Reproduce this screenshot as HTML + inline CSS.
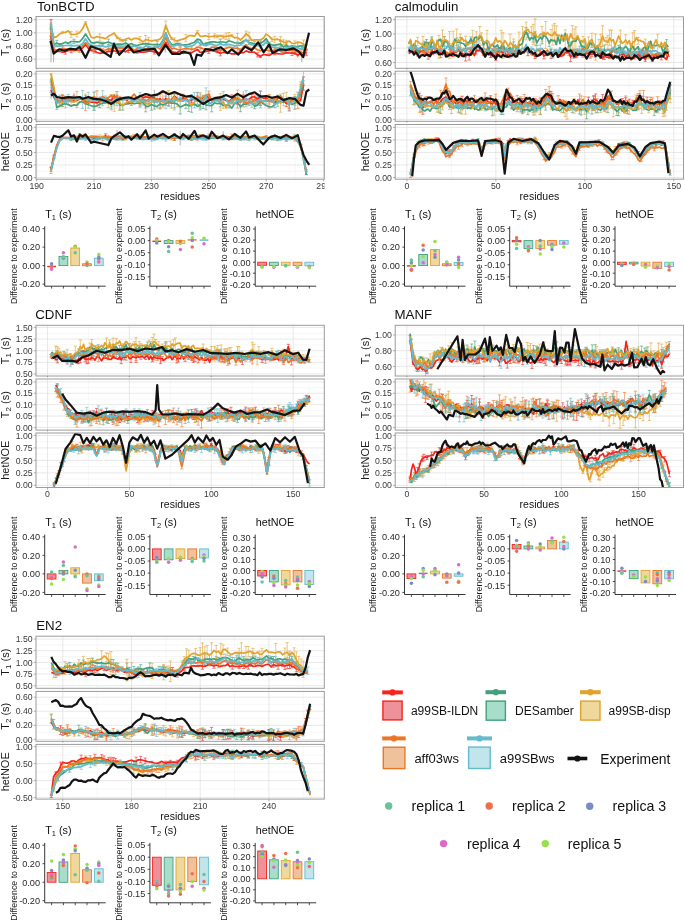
<!DOCTYPE html><html><head><meta charset="utf-8"><style>html,body{margin:0;padding:0;background:#fff;}svg{display:block;will-change:transform;}text{font-family:"Liberation Sans",sans-serif;}</style></head><body><svg width="685" height="922" viewBox="0 0 685 922" font-family="'Liberation Sans', sans-serif">
<rect width="685" height="922" fill="#fff"/>
<clipPath id="xclipA"><rect x="0" y="0" width="324.6" height="922"/></clipPath>
<text x="36.9" y="11.0" font-size="13.3" fill="#111">TonBCTD</text>
<rect x="36.0" y="16.5" width="288.3" height="51.8" fill="#fff"/>
<line x1="36.0" x2="324.3" y1="65.65" y2="65.65" stroke="#EFEFEF" stroke-width="0.5"/>
<line x1="36.0" x2="324.3" y1="52.51" y2="52.51" stroke="#EFEFEF" stroke-width="0.5"/>
<line x1="36.0" x2="324.3" y1="39.37" y2="39.37" stroke="#EFEFEF" stroke-width="0.5"/>
<line x1="36.0" x2="324.3" y1="26.23" y2="26.23" stroke="#EFEFEF" stroke-width="0.5"/>
<line y1="16.5" y2="68.3" x1="65.39" x2="65.39" stroke="#EFEFEF" stroke-width="0.5"/>
<line y1="16.5" y2="68.3" x1="122.77" x2="122.77" stroke="#EFEFEF" stroke-width="0.5"/>
<line y1="16.5" y2="68.3" x1="180.15" x2="180.15" stroke="#EFEFEF" stroke-width="0.5"/>
<line y1="16.5" y2="68.3" x1="237.53" x2="237.53" stroke="#EFEFEF" stroke-width="0.5"/>
<line y1="16.5" y2="68.3" x1="294.91" x2="294.91" stroke="#EFEFEF" stroke-width="0.5"/>
<line x1="36.0" x2="324.3" y1="59.08" y2="59.08" stroke="#DEDEDE" stroke-width="0.7"/>
<line x1="36.0" x2="324.3" y1="45.94" y2="45.94" stroke="#DEDEDE" stroke-width="0.7"/>
<line x1="36.0" x2="324.3" y1="32.80" y2="32.80" stroke="#DEDEDE" stroke-width="0.7"/>
<line x1="36.0" x2="324.3" y1="19.66" y2="19.66" stroke="#DEDEDE" stroke-width="0.7"/>
<line y1="16.5" y2="68.3" x1="36.70" x2="36.70" stroke="#DEDEDE" stroke-width="0.7"/>
<line y1="16.5" y2="68.3" x1="94.08" x2="94.08" stroke="#DEDEDE" stroke-width="0.7"/>
<line y1="16.5" y2="68.3" x1="151.46" x2="151.46" stroke="#DEDEDE" stroke-width="0.7"/>
<line y1="16.5" y2="68.3" x1="208.84" x2="208.84" stroke="#DEDEDE" stroke-width="0.7"/>
<line y1="16.5" y2="68.3" x1="266.22" x2="266.22" stroke="#DEDEDE" stroke-width="0.7"/>
<line y1="16.5" y2="68.3" x1="323.60" x2="323.60" stroke="#DEDEDE" stroke-width="0.7"/>
<clipPath id="ca1"><rect x="36.0" y="16.5" width="288.3" height="51.8"/></clipPath>
<g clip-path="url(#ca1)">
<path d="M51.0 26.2V62.4" stroke="#999" stroke-width="0.8" fill="none"/>
<path d="M53.6 32.8V62.4" stroke="#999" stroke-width="0.8" fill="none"/>
<path d="M49.4 19.7h3.2m-1.6 0V36.1m-1.6 0h3.2" stroke="#F5241E" stroke-width="0.9" stroke-opacity="0.8" fill="none"/>
<path d="M49.4 22.9h3.2m-1.6 0V39.4m-1.6 0h3.2" stroke="#63BBCD" stroke-width="0.9" stroke-opacity="0.8" fill="none"/>
<path d="M49.4 24.9h3.2m-1.6 0V42.7m-1.6 0h3.2" stroke="#EC7627" stroke-width="0.9" stroke-opacity="0.8" fill="none"/>
<path d="M49.4 29.5h3.2m-1.6 0V39.4m-1.6 0h3.2" stroke="#E2A22E" stroke-width="0.9" stroke-opacity="0.8" fill="none"/>
<path d="M165.2 42.7V52.5" stroke="#999" stroke-width="0.8" fill="none"/>
<path d="M297.8 42.7V57.8" stroke="#999" stroke-width="0.8" fill="none"/>
<path d="M301.8 44.6V62.4" stroke="#999" stroke-width="0.8" fill="none"/>
<path d="M63.8 49.5h3.2m-1.6 0v4.6m-1.6 0h3.2M69.5 48.3h3.2m-1.6 0v4.5m-1.6 0h3.2M92.5 48.0h3.2m-1.6 0v5.0m-1.6 0h3.2M115.4 49.9h3.2m-1.6 0v3.6m-1.6 0h3.2M126.9 47.2h3.2m-1.6 0v5.5m-1.6 0h3.2M135.5 49.4h3.2m-1.6 0v4.0m-1.6 0h3.2M152.7 49.7h3.2m-1.6 0v4.4m-1.6 0h3.2M161.3 44.7h3.2m-1.6 0v5.0m-1.6 0h3.2M169.9 49.9h3.2m-1.6 0v3.0m-1.6 0h3.2M172.8 51.8h3.2m-1.6 0v2.5m-1.6 0h3.2M207.2 48.7h3.2m-1.6 0v4.7m-1.6 0h3.2M215.8 50.5h3.2m-1.6 0v2.4m-1.6 0h3.2M218.7 50.7h3.2m-1.6 0v5.2m-1.6 0h3.2M238.8 50.4h3.2m-1.6 0v3.0m-1.6 0h3.2M256.0 52.7h3.2m-1.6 0v4.3m-1.6 0h3.2M258.9 55.4h3.2m-1.6 0v2.1m-1.6 0h3.2M273.2 51.4h3.2m-1.6 0v3.4m-1.6 0h3.2M290.4 50.9h3.2m-1.6 0v4.6m-1.6 0h3.2M293.3 52.1h3.2m-1.6 0v2.3m-1.6 0h3.2M296.2 54.3h3.2m-1.6 0v1.6m-1.6 0h3.2M301.9 49.6h3.2m-1.6 0v6.1m-1.6 0h3.2M304.8 50.0h3.2m-1.6 0v5.7m-1.6 0h3.2" stroke="#F5241E" stroke-width="0.8" stroke-opacity="0.75" fill="none"/>
<path d="M49.4 27.0h3.2m-1.6 0v1.7m-1.6 0h3.2M55.2 40.4h3.2m-1.6 0v5.0m-1.6 0h3.2M58.1 43.5h3.2m-1.6 0v1.8m-1.6 0h3.2M72.4 39.2h3.2m-1.6 0v4.6m-1.6 0h3.2M92.5 42.2h3.2m-1.6 0v1.6m-1.6 0h3.2M101.1 42.1h3.2m-1.6 0v3.0m-1.6 0h3.2M106.8 39.1h3.2m-1.6 0v5.6m-1.6 0h3.2M112.6 42.9h3.2m-1.6 0v3.3m-1.6 0h3.2M124.0 40.5h3.2m-1.6 0v5.3m-1.6 0h3.2M155.6 41.3h3.2m-1.6 0v6.2m-1.6 0h3.2M204.4 42.4h3.2m-1.6 0v2.8m-1.6 0h3.2M218.7 39.2h3.2m-1.6 0v5.5m-1.6 0h3.2M247.4 40.4h3.2m-1.6 0v4.2m-1.6 0h3.2M253.1 41.7h3.2m-1.6 0v5.1m-1.6 0h3.2M258.9 41.0h3.2m-1.6 0v4.4m-1.6 0h3.2M267.5 42.2h3.2m-1.6 0v2.8m-1.6 0h3.2M279.0 41.4h3.2m-1.6 0v5.4m-1.6 0h3.2M284.7 43.1h3.2m-1.6 0v4.3m-1.6 0h3.2M301.9 45.5h3.2m-1.6 0v2.5m-1.6 0h3.2M304.8 44.6h3.2m-1.6 0v4.9m-1.6 0h3.2" stroke="#42A07B" stroke-width="0.8" stroke-opacity="0.75" fill="none"/>
<path d="M60.9 31.3h3.2m-1.6 0v2.4m-1.6 0h3.2M69.5 31.5h3.2m-1.6 0v6.1m-1.6 0h3.2M75.3 31.1h3.2m-1.6 0v5.9m-1.6 0h3.2M83.9 21.6h3.2m-1.6 0v2.3m-1.6 0h3.2M98.2 33.9h3.2m-1.6 0v7.0m-1.6 0h3.2M115.4 36.1h3.2m-1.6 0v2.3m-1.6 0h3.2M118.3 37.8h3.2m-1.6 0v3.2m-1.6 0h3.2M121.2 39.4h3.2m-1.6 0v2.4m-1.6 0h3.2M138.4 36.7h3.2m-1.6 0v5.9m-1.6 0h3.2M144.1 35.5h3.2m-1.6 0v8.2m-1.6 0h3.2M147.0 37.4h3.2m-1.6 0v5.7m-1.6 0h3.2M164.2 21.1h3.2m-1.6 0v8.2m-1.6 0h3.2M169.9 37.3h3.2m-1.6 0v2.3m-1.6 0h3.2M172.8 37.8h3.2m-1.6 0v4.3m-1.6 0h3.2M184.3 34.6h3.2m-1.6 0v7.1m-1.6 0h3.2M195.8 30.6h3.2m-1.6 0v3.0m-1.6 0h3.2M207.2 33.7h3.2m-1.6 0v5.8m-1.6 0h3.2M213.0 33.8h3.2m-1.6 0v4.1m-1.6 0h3.2M215.8 35.0h3.2m-1.6 0v2.9m-1.6 0h3.2M221.6 35.0h3.2m-1.6 0v3.6m-1.6 0h3.2M224.5 33.1h3.2m-1.6 0v6.4m-1.6 0h3.2M227.3 32.5h3.2m-1.6 0v6.6m-1.6 0h3.2M230.2 34.5h3.2m-1.6 0v2.3m-1.6 0h3.2M235.9 33.4h3.2m-1.6 0v8.0m-1.6 0h3.2M244.5 31.1h3.2m-1.6 0v4.9m-1.6 0h3.2M247.4 32.1h3.2m-1.6 0v8.0m-1.6 0h3.2M270.4 37.8h3.2m-1.6 0v3.5m-1.6 0h3.2M273.2 36.3h3.2m-1.6 0v6.6m-1.6 0h3.2M279.0 36.6h3.2m-1.6 0v7.6m-1.6 0h3.2M281.8 39.8h3.2m-1.6 0v4.7m-1.6 0h3.2M284.7 40.4h3.2m-1.6 0v3.8m-1.6 0h3.2M293.3 40.9h3.2m-1.6 0v5.2m-1.6 0h3.2M301.9 40.1h3.2m-1.6 0v8.3m-1.6 0h3.2M304.8 41.1h3.2m-1.6 0v7.7m-1.6 0h3.2" stroke="#E2A22E" stroke-width="0.8" stroke-opacity="0.75" fill="none"/>
<path d="M52.3 47.5h3.2m-1.6 0v3.8m-1.6 0h3.2M60.9 46.6h3.2m-1.6 0v3.3m-1.6 0h3.2M72.4 48.7h3.2m-1.6 0v2.9m-1.6 0h3.2M78.1 47.3h3.2m-1.6 0v5.0m-1.6 0h3.2M86.7 43.4h3.2m-1.6 0v5.4m-1.6 0h3.2M92.5 49.6h3.2m-1.6 0v1.6m-1.6 0h3.2M101.1 48.6h3.2m-1.6 0v3.6m-1.6 0h3.2M106.8 46.8h3.2m-1.6 0v4.3m-1.6 0h3.2M109.7 47.9h3.2m-1.6 0v2.4m-1.6 0h3.2M118.3 46.9h3.2m-1.6 0v2.0m-1.6 0h3.2M121.2 45.9h3.2m-1.6 0v4.5m-1.6 0h3.2M129.8 45.8h3.2m-1.6 0v4.5m-1.6 0h3.2M141.3 47.7h3.2m-1.6 0v1.9m-1.6 0h3.2M152.7 46.2h3.2m-1.6 0v5.4m-1.6 0h3.2M167.1 41.9h3.2m-1.6 0v5.9m-1.6 0h3.2M178.6 46.7h3.2m-1.6 0v5.5m-1.6 0h3.2M184.3 46.8h3.2m-1.6 0v3.3m-1.6 0h3.2M190.0 47.1h3.2m-1.6 0v4.0m-1.6 0h3.2M198.6 45.1h3.2m-1.6 0v5.0m-1.6 0h3.2M218.7 47.5h3.2m-1.6 0v5.7m-1.6 0h3.2M235.9 45.0h3.2m-1.6 0v6.2m-1.6 0h3.2M238.8 48.8h3.2m-1.6 0v2.4m-1.6 0h3.2M241.7 45.7h3.2m-1.6 0v2.8m-1.6 0h3.2M247.4 47.1h3.2m-1.6 0v2.0m-1.6 0h3.2M253.1 46.9h3.2m-1.6 0v1.7m-1.6 0h3.2M267.5 47.8h3.2m-1.6 0v5.7m-1.6 0h3.2M273.2 48.3h3.2m-1.6 0v2.2m-1.6 0h3.2M284.7 48.8h3.2m-1.6 0v3.5m-1.6 0h3.2M287.6 48.2h3.2m-1.6 0v4.4m-1.6 0h3.2M293.3 48.3h3.2m-1.6 0v4.3m-1.6 0h3.2M299.0 49.3h3.2m-1.6 0v5.5m-1.6 0h3.2" stroke="#EC7627" stroke-width="0.8" stroke-opacity="0.75" fill="none"/>
<path d="M69.5 43.9h3.2m-1.6 0v3.2m-1.6 0h3.2M89.6 44.1h3.2m-1.6 0v4.0m-1.6 0h3.2M98.2 44.1h3.2m-1.6 0v3.6m-1.6 0h3.2M109.7 43.5h3.2m-1.6 0v3.6m-1.6 0h3.2M115.4 44.9h3.2m-1.6 0v2.2m-1.6 0h3.2M138.4 46.4h3.2m-1.6 0v4.6m-1.6 0h3.2M178.6 43.0h3.2m-1.6 0v4.4m-1.6 0h3.2M195.8 40.4h3.2m-1.6 0v2.2m-1.6 0h3.2M198.6 42.4h3.2m-1.6 0v3.0m-1.6 0h3.2M207.2 42.8h3.2m-1.6 0v2.0m-1.6 0h3.2M224.5 42.2h3.2m-1.6 0v4.9m-1.6 0h3.2M241.7 41.2h3.2m-1.6 0v2.6m-1.6 0h3.2M253.1 43.6h3.2m-1.6 0v3.2m-1.6 0h3.2M258.9 43.8h3.2m-1.6 0v4.2m-1.6 0h3.2M276.1 47.1h3.2m-1.6 0v1.9m-1.6 0h3.2M284.7 46.7h3.2m-1.6 0v3.4m-1.6 0h3.2M293.3 46.0h3.2m-1.6 0v2.6m-1.6 0h3.2M301.9 45.2h3.2m-1.6 0v3.2m-1.6 0h3.2" stroke="#63BBCD" stroke-width="0.8" stroke-opacity="0.75" fill="none"/>
<polyline points="51.0,36.3 53.9,50.8 56.8,51.3 59.7,51.5 62.5,52.2 65.4,51.8 68.3,50.4 71.1,50.5 74.0,50.0 76.9,50.5 79.7,50.5 82.6,47.8 85.5,44.7 88.3,48.0 91.2,50.6 94.1,50.5 96.9,52.5 99.8,53.3 102.7,52.9 105.6,52.3 108.4,51.4 111.3,51.3 114.2,50.8 117.0,51.7 119.9,51.2 122.8,50.9 125.6,51.8 128.5,50.0 131.4,50.3 134.2,49.9 137.1,51.4 140.0,52.1 142.9,52.1 145.7,51.9 148.6,51.1 151.5,51.2 154.3,51.9 157.2,52.6 160.1,52.5 162.9,47.2 165.8,42.3 168.7,48.0 171.5,51.4 174.4,53.0 177.3,52.3 180.2,50.8 183.0,53.3 185.9,52.8 188.8,52.4 191.6,52.9 194.5,50.9 197.4,49.4 200.2,52.5 203.1,51.9 206.0,51.4 208.8,51.0 211.7,50.4 214.6,51.2 217.4,51.8 220.3,53.3 223.2,52.2 226.1,52.9 228.9,53.0 231.8,53.9 234.7,53.9 237.5,53.6 240.4,51.9 243.3,52.9 246.1,50.9 249.0,52.1 251.9,52.1 254.7,52.3 257.6,54.8 260.5,56.4 263.4,54.5 266.2,54.8 269.1,55.4 272.0,53.8 274.8,53.1 277.7,53.7 280.6,54.0 283.4,53.8 286.3,52.6 289.2,53.0 292.0,53.2 294.9,53.2 297.8,55.1 300.6,53.2 303.5,52.7 306.4,52.9" fill="none" stroke="#F5241E" stroke-width="1.7" stroke-linejoin="round"/>
<polyline points="51.0,27.8 53.9,44.4 56.8,43.0 59.7,44.4 62.5,43.6 65.4,42.2 68.3,43.4 71.1,41.5 74.0,41.5 76.9,41.9 79.7,41.7 82.6,38.5 85.5,34.0 88.3,38.4 91.2,42.6 94.1,43.0 96.9,42.1 99.8,42.6 102.7,43.6 105.6,42.7 108.4,42.0 111.3,43.2 114.2,44.6 117.0,44.2 119.9,44.2 122.8,44.3 125.6,43.1 128.5,44.7 131.4,43.5 134.2,45.2 137.1,45.5 140.0,44.5 142.9,43.8 145.7,43.7 148.6,44.1 151.5,44.5 154.3,44.6 157.2,44.4 160.1,44.9 162.9,40.3 165.8,32.7 168.7,40.5 171.5,44.5 174.4,44.5 177.3,43.4 180.2,44.3 183.0,44.9 185.9,44.9 188.8,44.4 191.6,43.3 194.5,42.2 197.4,39.1 200.2,39.9 203.1,44.0 206.0,43.8 208.8,42.4 211.7,41.9 214.6,41.9 217.4,42.5 220.3,41.9 223.2,42.0 226.1,42.8 228.9,40.8 231.8,41.7 234.7,42.8 237.5,43.0 240.4,43.2 243.3,41.2 246.1,40.1 249.0,42.5 251.9,43.0 254.7,44.3 257.6,44.0 260.5,43.2 263.4,41.6 266.2,38.7 269.1,43.6 272.0,45.1 274.8,45.2 277.7,44.6 280.6,44.1 283.4,47.0 286.3,45.2 289.2,46.7 292.0,45.7 294.9,47.1 297.8,46.6 300.6,45.8 303.5,46.7 306.4,47.0" fill="none" stroke="#42A07B" stroke-width="1.7" stroke-linejoin="round"/>
<polyline points="51.0,28.7 53.9,37.6 56.8,36.6 59.7,33.9 62.5,32.5 65.4,32.4 68.3,30.8 71.1,34.5 74.0,34.5 76.9,34.0 79.7,32.6 82.6,28.7 85.5,22.7 88.3,30.2 91.2,37.3 94.1,38.1 96.9,36.5 99.8,37.4 102.7,37.9 105.6,38.6 108.4,36.3 111.3,34.8 114.2,33.0 117.0,37.3 119.9,39.4 122.8,40.6 125.6,39.3 128.5,38.0 131.4,40.0 134.2,38.4 137.1,38.4 140.0,39.6 142.9,41.9 145.7,39.6 148.6,40.2 151.5,41.0 154.3,40.4 157.2,40.2 160.1,39.0 162.9,35.6 165.8,25.2 168.7,33.4 171.5,38.5 174.4,40.0 177.3,41.1 180.2,39.9 183.0,39.1 185.9,38.1 188.8,35.7 191.6,35.7 194.5,36.2 197.4,32.1 200.2,36.4 203.1,36.2 206.0,35.8 208.8,36.6 211.7,36.5 214.6,35.8 217.4,36.5 220.3,35.6 223.2,36.8 226.1,36.3 228.9,35.8 231.8,35.7 234.7,37.9 237.5,37.4 240.4,40.0 243.3,37.4 246.1,33.6 249.0,36.1 251.9,40.4 254.7,39.9 257.6,39.9 260.5,39.8 263.4,38.2 266.2,34.1 269.1,36.1 272.0,39.5 274.8,39.6 277.7,39.2 280.6,40.4 283.4,42.1 286.3,42.3 289.2,41.0 292.0,43.4 294.9,43.5 297.8,42.1 300.6,42.6 303.5,44.2 306.4,45.0" fill="none" stroke="#E2A22E" stroke-width="1.7" stroke-linejoin="round"/>
<polyline points="51.0,32.7 53.9,49.4 56.8,50.2 59.7,49.7 62.5,48.3 65.4,48.9 68.3,49.4 71.1,49.5 74.0,50.2 76.9,49.3 79.7,49.8 82.6,45.8 85.5,42.6 88.3,46.1 91.2,49.3 94.1,50.4 96.9,48.7 99.8,48.8 102.7,50.4 105.6,50.0 108.4,48.9 111.3,49.1 114.2,48.2 117.0,47.9 119.9,47.8 122.8,48.1 125.6,47.4 128.5,47.7 131.4,48.0 134.2,50.1 137.1,48.7 140.0,47.8 142.9,48.7 145.7,49.2 148.6,47.5 151.5,49.8 154.3,48.9 157.2,47.1 160.1,49.0 162.9,44.8 165.8,37.5 168.7,44.8 171.5,48.5 174.4,48.2 177.3,49.5 180.2,49.4 183.0,49.0 185.9,48.4 188.8,48.9 191.6,49.1 194.5,48.9 197.4,47.0 200.2,47.6 203.1,48.7 206.0,49.5 208.8,49.8 211.7,47.1 214.6,47.2 217.4,47.7 220.3,50.4 223.2,48.9 226.1,48.4 228.9,47.2 231.8,47.7 234.7,48.3 237.5,48.0 240.4,50.0 243.3,47.1 246.1,44.7 249.0,48.2 251.9,48.5 254.7,47.8 257.6,50.1 260.5,50.6 263.4,50.1 266.2,50.1 269.1,50.6 272.0,51.4 274.8,49.4 277.7,49.5 280.6,51.4 283.4,52.4 286.3,50.5 289.2,50.4 292.0,49.8 294.9,50.5 297.8,52.1 300.6,52.0 303.5,54.0 306.4,53.8" fill="none" stroke="#EC7627" stroke-width="1.7" stroke-linejoin="round"/>
<polyline points="51.0,23.0 53.9,45.5 56.8,46.4 59.7,46.2 62.5,45.7 65.4,45.5 68.3,45.3 71.1,45.5 74.0,46.0 76.9,45.4 79.7,45.7 82.6,43.5 85.5,38.8 88.3,43.3 91.2,46.1 94.1,45.9 96.9,45.9 99.8,45.8 102.7,46.1 105.6,47.0 108.4,46.1 111.3,45.3 114.2,45.4 117.0,46.0 119.9,45.7 122.8,46.8 125.6,47.9 128.5,46.9 131.4,47.2 134.2,46.1 137.1,47.0 140.0,48.7 142.9,48.1 145.7,45.8 148.6,46.4 151.5,47.5 154.3,47.4 157.2,46.4 160.1,46.1 162.9,41.7 165.8,33.4 168.7,41.0 171.5,46.1 174.4,45.9 177.3,45.0 180.2,45.2 183.0,45.2 185.9,46.8 188.8,46.6 191.6,45.9 194.5,44.8 197.4,41.4 200.2,43.9 203.1,45.0 206.0,45.8 208.8,43.8 211.7,44.1 214.6,45.3 217.4,45.4 220.3,43.5 223.2,45.0 226.1,44.6 228.9,44.3 231.8,45.0 234.7,46.1 237.5,45.4 240.4,45.2 243.3,42.6 246.1,39.3 249.0,43.3 251.9,45.0 254.7,45.2 257.6,45.6 260.5,45.9 263.4,44.9 266.2,41.9 269.1,45.6 272.0,47.3 274.8,47.0 277.7,48.1 280.6,47.8 283.4,49.0 286.3,48.5 289.2,47.3 292.0,46.9 294.9,47.3 297.8,47.7 300.6,48.9 303.5,46.8 306.4,47.1" fill="none" stroke="#63BBCD" stroke-width="1.7" stroke-linejoin="round"/>
<polyline points="50.5,40.8 53.6,53.6 59.1,49.3 64.5,50.8 70.0,48.8 75.7,49.4 79.7,46.9 85.5,57.8 90.9,46.3 99.8,49.5 110.7,56.8 113.9,43.9 119.3,54.8 128.2,45.4 133.7,52.5 143.4,49.8 154.6,48.9 158.9,55.4 165.5,45.2 172.1,53.9 179.9,53.9 183.6,51.5 190.2,53.7 194.2,64.9 196.8,54.5 201.1,55.8 205.4,49.0 213.1,50.1 220.9,47.2 227.5,53.2 231.8,49.3 238.4,54.6 245.0,46.6 251.6,50.3 258.2,42.3 263.6,52.3 269.1,44.7 272.5,52.9 280.0,49.3 286.3,50.0 293.5,48.4 298.6,51.2 303.2,57.2 309.0,32.7" fill="none" stroke="#131313" stroke-width="2.2" stroke-linejoin="round"/>
</g>
<rect x="36.0" y="16.5" width="288.3" height="51.8" fill="none" stroke="#9C9C9C" stroke-width="1.0"/>
<line y1="68.3" y2="69.6" x1="36.70" x2="36.70" stroke="#888" stroke-width="0.8"/>
<line y1="68.3" y2="69.6" x1="94.08" x2="94.08" stroke="#888" stroke-width="0.8"/>
<line y1="68.3" y2="69.6" x1="151.46" x2="151.46" stroke="#888" stroke-width="0.8"/>
<line y1="68.3" y2="69.6" x1="208.84" x2="208.84" stroke="#888" stroke-width="0.8"/>
<line y1="68.3" y2="69.6" x1="266.22" x2="266.22" stroke="#888" stroke-width="0.8"/>
<line y1="68.3" y2="69.6" x1="323.60" x2="323.60" stroke="#888" stroke-width="0.8"/>
<line x1="33.8" x2="36.0" y1="59.08" y2="59.08" stroke="#9C9C9C" stroke-width="0.8"/>
<text x="32.7" y="62.2" font-size="8.7" text-anchor="end" fill="#3a3a3a" >0.60</text>
<line x1="33.8" x2="36.0" y1="45.94" y2="45.94" stroke="#9C9C9C" stroke-width="0.8"/>
<text x="32.7" y="49.0" font-size="8.7" text-anchor="end" fill="#3a3a3a" >0.80</text>
<line x1="33.8" x2="36.0" y1="32.80" y2="32.80" stroke="#9C9C9C" stroke-width="0.8"/>
<text x="32.7" y="35.9" font-size="8.7" text-anchor="end" fill="#3a3a3a" >1.00</text>
<line x1="33.8" x2="36.0" y1="19.66" y2="19.66" stroke="#9C9C9C" stroke-width="0.8"/>
<text x="32.7" y="22.8" font-size="8.7" text-anchor="end" fill="#3a3a3a" >1.20</text>
<text transform="translate(9.4,42.4) rotate(-90)" font-size="11" text-anchor="middle" fill="#1a1a1a">T<tspan font-size="8" dy="1.3">1</tspan><tspan dy="-1.3"> (s)</tspan></text>
<rect x="36.0" y="71.2" width="288.3" height="50.1" fill="#fff"/>
<line x1="36.0" x2="324.3" y1="113.71" y2="113.71" stroke="#EFEFEF" stroke-width="0.5"/>
<line x1="36.0" x2="324.3" y1="102.34" y2="102.34" stroke="#EFEFEF" stroke-width="0.5"/>
<line x1="36.0" x2="324.3" y1="90.96" y2="90.96" stroke="#EFEFEF" stroke-width="0.5"/>
<line x1="36.0" x2="324.3" y1="79.59" y2="79.59" stroke="#EFEFEF" stroke-width="0.5"/>
<line y1="71.2" y2="121.3" x1="65.39" x2="65.39" stroke="#EFEFEF" stroke-width="0.5"/>
<line y1="71.2" y2="121.3" x1="122.77" x2="122.77" stroke="#EFEFEF" stroke-width="0.5"/>
<line y1="71.2" y2="121.3" x1="180.15" x2="180.15" stroke="#EFEFEF" stroke-width="0.5"/>
<line y1="71.2" y2="121.3" x1="237.53" x2="237.53" stroke="#EFEFEF" stroke-width="0.5"/>
<line y1="71.2" y2="121.3" x1="294.91" x2="294.91" stroke="#EFEFEF" stroke-width="0.5"/>
<line x1="36.0" x2="324.3" y1="119.40" y2="119.40" stroke="#DEDEDE" stroke-width="0.7"/>
<line x1="36.0" x2="324.3" y1="108.03" y2="108.03" stroke="#DEDEDE" stroke-width="0.7"/>
<line x1="36.0" x2="324.3" y1="96.65" y2="96.65" stroke="#DEDEDE" stroke-width="0.7"/>
<line x1="36.0" x2="324.3" y1="85.28" y2="85.28" stroke="#DEDEDE" stroke-width="0.7"/>
<line x1="36.0" x2="324.3" y1="73.90" y2="73.90" stroke="#DEDEDE" stroke-width="0.7"/>
<line y1="71.2" y2="121.3" x1="36.70" x2="36.70" stroke="#DEDEDE" stroke-width="0.7"/>
<line y1="71.2" y2="121.3" x1="94.08" x2="94.08" stroke="#DEDEDE" stroke-width="0.7"/>
<line y1="71.2" y2="121.3" x1="151.46" x2="151.46" stroke="#DEDEDE" stroke-width="0.7"/>
<line y1="71.2" y2="121.3" x1="208.84" x2="208.84" stroke="#DEDEDE" stroke-width="0.7"/>
<line y1="71.2" y2="121.3" x1="266.22" x2="266.22" stroke="#DEDEDE" stroke-width="0.7"/>
<line y1="71.2" y2="121.3" x1="323.60" x2="323.60" stroke="#DEDEDE" stroke-width="0.7"/>
<clipPath id="ca2"><rect x="36.0" y="71.2" width="288.3" height="50.1"/></clipPath>
<g clip-path="url(#ca2)">
<path d="M49.4 73.9h3.2m-1.6 0V83.0m-1.6 0h3.2" stroke="#E2A22E" stroke-width="0.9" stroke-opacity="0.8" fill="none"/>
<path d="M51.0 92.1V98.9" stroke="#999" stroke-width="0.8" fill="none"/>
<path d="M154.3 89.8V96.7" stroke="#999" stroke-width="0.8" fill="none"/>
<path d="M60.9 95.5h3.2m-1.6 0v8.3m-1.6 0h3.2M66.7 97.5h3.2m-1.6 0v4.2m-1.6 0h3.2M115.4 95.2h3.2m-1.6 0v7.7m-1.6 0h3.2M152.7 94.5h3.2m-1.6 0v7.1m-1.6 0h3.2M164.2 91.8h3.2m-1.6 0v13.4m-1.6 0h3.2M181.4 94.3h3.2m-1.6 0v6.8m-1.6 0h3.2M190.0 97.2h3.2m-1.6 0v5.6m-1.6 0h3.2M207.2 94.3h3.2m-1.6 0v8.1m-1.6 0h3.2M218.7 96.9h3.2m-1.6 0v7.0m-1.6 0h3.2M230.2 94.8h3.2m-1.6 0v9.1m-1.6 0h3.2M235.9 93.6h3.2m-1.6 0v10.7m-1.6 0h3.2M250.3 94.3h3.2m-1.6 0v5.4m-1.6 0h3.2M256.0 97.3h3.2m-1.6 0v4.7m-1.6 0h3.2M258.9 91.1h3.2m-1.6 0v9.3m-1.6 0h3.2M270.4 98.4h3.2m-1.6 0v3.8m-1.6 0h3.2M284.7 99.9h3.2m-1.6 0v6.6m-1.6 0h3.2M287.6 97.5h3.2m-1.6 0v13.5m-1.6 0h3.2M301.9 76.8h3.2m-1.6 0v13.4m-1.6 0h3.2" stroke="#F5241E" stroke-width="0.8" stroke-opacity="0.75" fill="none"/>
<path d="M60.9 102.4h3.2m-1.6 0v4.1m-1.6 0h3.2M92.5 102.5h3.2m-1.6 0v7.9m-1.6 0h3.2M98.2 100.7h3.2m-1.6 0v7.0m-1.6 0h3.2M109.7 100.7h3.2m-1.6 0v5.5m-1.6 0h3.2M115.4 91.6h3.2m-1.6 0v14.2m-1.6 0h3.2M118.3 100.3h3.2m-1.6 0v9.8m-1.6 0h3.2M121.2 100.6h3.2m-1.6 0v9.5m-1.6 0h3.2M129.8 100.4h3.2m-1.6 0v5.0m-1.6 0h3.2M138.4 100.4h3.2m-1.6 0v5.7m-1.6 0h3.2M141.3 98.9h3.2m-1.6 0v6.2m-1.6 0h3.2M144.1 100.9h3.2m-1.6 0v10.9m-1.6 0h3.2M149.9 98.9h3.2m-1.6 0v11.3m-1.6 0h3.2M152.7 102.6h3.2m-1.6 0v6.6m-1.6 0h3.2M158.5 99.6h3.2m-1.6 0v8.5m-1.6 0h3.2M167.1 98.8h3.2m-1.6 0v7.5m-1.6 0h3.2M178.6 100.0h3.2m-1.6 0v14.0m-1.6 0h3.2M184.3 100.1h3.2m-1.6 0v8.6m-1.6 0h3.2M187.2 100.1h3.2m-1.6 0v11.4m-1.6 0h3.2M190.0 98.8h3.2m-1.6 0v13.5m-1.6 0h3.2M198.6 99.6h3.2m-1.6 0v10.3m-1.6 0h3.2M201.5 95.3h3.2m-1.6 0v13.2m-1.6 0h3.2M204.4 100.6h3.2m-1.6 0v9.2m-1.6 0h3.2M210.1 99.7h3.2m-1.6 0v12.1m-1.6 0h3.2M227.3 102.3h3.2m-1.6 0v5.6m-1.6 0h3.2M238.8 101.9h3.2m-1.6 0v9.8m-1.6 0h3.2M247.4 101.2h3.2m-1.6 0v4.4m-1.6 0h3.2M253.1 103.8h3.2m-1.6 0v5.0m-1.6 0h3.2M258.9 97.5h3.2m-1.6 0v8.0m-1.6 0h3.2M273.2 100.9h3.2m-1.6 0v6.7m-1.6 0h3.2M276.1 95.2h3.2m-1.6 0v11.1m-1.6 0h3.2M293.3 96.4h3.2m-1.6 0v12.9m-1.6 0h3.2M301.9 80.9h3.2m-1.6 0v4.9m-1.6 0h3.2" stroke="#42A07B" stroke-width="0.8" stroke-opacity="0.75" fill="none"/>
<path d="M58.1 99.9h3.2m-1.6 0v5.1m-1.6 0h3.2M60.9 99.0h3.2m-1.6 0v7.3m-1.6 0h3.2M69.5 97.0h3.2m-1.6 0v8.8m-1.6 0h3.2M75.3 91.6h3.2m-1.6 0v16.0m-1.6 0h3.2M83.9 94.2h3.2m-1.6 0v10.5m-1.6 0h3.2M92.5 91.9h3.2m-1.6 0v15.9m-1.6 0h3.2M98.2 98.0h3.2m-1.6 0v5.1m-1.6 0h3.2M106.8 99.8h3.2m-1.6 0v7.9m-1.6 0h3.2M109.7 94.5h3.2m-1.6 0v15.4m-1.6 0h3.2M112.6 94.3h3.2m-1.6 0v17.0m-1.6 0h3.2M118.3 96.2h3.2m-1.6 0v14.0m-1.6 0h3.2M129.8 99.4h3.2m-1.6 0v5.8m-1.6 0h3.2M155.6 94.0h3.2m-1.6 0v14.1m-1.6 0h3.2M167.1 90.6h3.2m-1.6 0v15.0m-1.6 0h3.2M169.9 94.1h3.2m-1.6 0v14.1m-1.6 0h3.2M175.7 94.6h3.2m-1.6 0v12.0m-1.6 0h3.2M187.2 100.0h3.2m-1.6 0v5.4m-1.6 0h3.2M195.8 95.6h3.2m-1.6 0v8.8m-1.6 0h3.2M198.6 92.5h3.2m-1.6 0v14.2m-1.6 0h3.2M204.4 94.7h3.2m-1.6 0v7.8m-1.6 0h3.2M218.7 93.7h3.2m-1.6 0v16.6m-1.6 0h3.2M221.6 96.1h3.2m-1.6 0v12.2m-1.6 0h3.2M235.9 90.0h3.2m-1.6 0v13.6m-1.6 0h3.2M250.3 98.8h3.2m-1.6 0v8.5m-1.6 0h3.2M256.0 98.3h3.2m-1.6 0v5.4m-1.6 0h3.2M258.9 97.4h3.2m-1.6 0v7.2m-1.6 0h3.2M267.5 95.2h3.2m-1.6 0v9.0m-1.6 0h3.2M276.1 98.2h3.2m-1.6 0v5.5m-1.6 0h3.2M279.0 94.1h3.2m-1.6 0v18.1m-1.6 0h3.2M284.7 92.4h3.2m-1.6 0v14.3m-1.6 0h3.2M293.3 94.4h3.2m-1.6 0v11.2m-1.6 0h3.2M299.0 81.9h3.2m-1.6 0v12.0m-1.6 0h3.2M301.9 68.5h3.2m-1.6 0v17.1m-1.6 0h3.2" stroke="#E2A22E" stroke-width="0.8" stroke-opacity="0.75" fill="none"/>
<path d="M60.9 94.3h3.2m-1.6 0v7.9m-1.6 0h3.2M63.8 96.2h3.2m-1.6 0v4.9m-1.6 0h3.2M72.4 95.1h3.2m-1.6 0v7.1m-1.6 0h3.2M83.9 95.4h3.2m-1.6 0v15.3m-1.6 0h3.2M95.3 90.8h3.2m-1.6 0v15.8m-1.6 0h3.2M112.6 95.1h3.2m-1.6 0v5.1m-1.6 0h3.2M138.4 95.7h3.2m-1.6 0v8.6m-1.6 0h3.2M144.1 94.0h3.2m-1.6 0v13.9m-1.6 0h3.2M147.0 93.8h3.2m-1.6 0v10.6m-1.6 0h3.2M152.7 96.9h3.2m-1.6 0v5.1m-1.6 0h3.2M158.5 94.6h3.2m-1.6 0v14.4m-1.6 0h3.2M161.3 91.0h3.2m-1.6 0v16.0m-1.6 0h3.2M172.8 94.2h3.2m-1.6 0v13.6m-1.6 0h3.2M195.8 92.6h3.2m-1.6 0v8.6m-1.6 0h3.2M207.2 91.2h3.2m-1.6 0v5.7m-1.6 0h3.2M235.9 94.2h3.2m-1.6 0v13.8m-1.6 0h3.2M241.7 94.6h3.2m-1.6 0v12.3m-1.6 0h3.2M253.1 95.1h3.2m-1.6 0v9.2m-1.6 0h3.2M258.9 98.4h3.2m-1.6 0v7.1m-1.6 0h3.2M267.5 94.6h3.2m-1.6 0v13.6m-1.6 0h3.2M287.6 101.3h3.2m-1.6 0v7.0m-1.6 0h3.2M296.2 92.2h3.2m-1.6 0v16.3m-1.6 0h3.2M299.0 86.7h3.2m-1.6 0v5.8m-1.6 0h3.2" stroke="#EC7627" stroke-width="0.8" stroke-opacity="0.75" fill="none"/>
<path d="M49.4 81.1h3.2m-1.6 0v11.2m-1.6 0h3.2M55.2 97.1h3.2m-1.6 0v12.4m-1.6 0h3.2M58.1 95.1h3.2m-1.6 0v11.6m-1.6 0h3.2M63.8 97.7h3.2m-1.6 0v10.1m-1.6 0h3.2M66.7 94.4h3.2m-1.6 0v10.5m-1.6 0h3.2M81.0 90.4h3.2m-1.6 0v18.1m-1.6 0h3.2M86.7 92.3h3.2m-1.6 0v15.9m-1.6 0h3.2M92.5 92.4h3.2m-1.6 0v17.7m-1.6 0h3.2M101.1 90.7h3.2m-1.6 0v15.1m-1.6 0h3.2M104.0 95.9h3.2m-1.6 0v7.8m-1.6 0h3.2M109.7 96.2h3.2m-1.6 0v12.7m-1.6 0h3.2M112.6 96.5h3.2m-1.6 0v8.6m-1.6 0h3.2M138.4 92.5h3.2m-1.6 0v14.7m-1.6 0h3.2M152.7 94.8h3.2m-1.6 0v9.6m-1.6 0h3.2M164.2 95.9h3.2m-1.6 0v12.8m-1.6 0h3.2M167.1 93.8h3.2m-1.6 0v12.0m-1.6 0h3.2M172.8 92.7h3.2m-1.6 0v17.2m-1.6 0h3.2M178.6 94.2h3.2m-1.6 0v7.2m-1.6 0h3.2M190.0 94.6h3.2m-1.6 0v4.8m-1.6 0h3.2M192.9 92.4h3.2m-1.6 0v15.5m-1.6 0h3.2M195.8 92.3h3.2m-1.6 0v12.1m-1.6 0h3.2M198.6 94.0h3.2m-1.6 0v13.9m-1.6 0h3.2M204.4 87.9h3.2m-1.6 0v16.5m-1.6 0h3.2M218.7 97.5h3.2m-1.6 0v9.2m-1.6 0h3.2M221.6 91.7h3.2m-1.6 0v11.4m-1.6 0h3.2M230.2 96.8h3.2m-1.6 0v7.0m-1.6 0h3.2M244.5 90.6h3.2m-1.6 0v16.1m-1.6 0h3.2M256.0 95.9h3.2m-1.6 0v9.0m-1.6 0h3.2M258.9 91.1h3.2m-1.6 0v16.8m-1.6 0h3.2M264.6 96.4h3.2m-1.6 0v6.9m-1.6 0h3.2M281.8 93.2h3.2m-1.6 0v12.5m-1.6 0h3.2M287.6 99.3h3.2m-1.6 0v10.8m-1.6 0h3.2M293.3 97.5h3.2m-1.6 0v6.5m-1.6 0h3.2M299.0 84.4h3.2m-1.6 0v8.3m-1.6 0h3.2" stroke="#63BBCD" stroke-width="0.8" stroke-opacity="0.75" fill="none"/>
<path d="M74.0 92.8v9.7M243.3 91.1v12.5" stroke="#9a9a9a" stroke-width="0.7" fill="none"/>
<polyline points="51.0,89.6 53.9,97.3 56.8,101.5 59.7,101.2 62.5,99.7 65.4,98.8 68.3,99.6 71.1,101.4 74.0,100.9 76.9,100.5 79.7,98.9 82.6,99.1 85.5,101.0 88.3,102.9 91.2,101.9 94.1,102.1 96.9,102.9 99.8,101.4 102.7,101.5 105.6,100.4 108.4,99.3 111.3,100.5 114.2,96.0 117.0,99.0 119.9,97.6 122.8,98.9 125.6,97.6 128.5,103.4 131.4,102.8 134.2,100.7 137.1,99.2 140.0,95.5 142.9,97.6 145.7,96.8 148.6,97.3 151.5,97.3 154.3,98.0 157.2,99.5 160.1,98.9 162.9,101.6 165.8,98.5 168.7,101.3 171.5,100.1 174.4,96.2 177.3,98.9 180.2,99.6 183.0,97.8 185.9,99.1 188.8,101.1 191.6,100.0 194.5,99.0 197.4,98.3 200.2,100.8 203.1,97.2 206.0,95.9 208.8,98.4 211.7,98.9 214.6,100.4 217.4,97.6 220.3,100.4 223.2,99.0 226.1,100.5 228.9,101.5 231.8,99.3 234.7,97.3 237.5,99.0 240.4,100.9 243.3,98.9 246.1,99.7 249.0,99.3 251.9,97.0 254.7,96.8 257.6,99.7 260.5,95.8 263.4,98.3 266.2,97.9 269.1,100.4 272.0,100.3 274.8,103.3 277.7,98.1 280.6,96.8 283.4,101.0 286.3,103.2 289.2,104.3 292.0,99.6 294.9,100.7 297.8,100.4 300.6,100.8 303.5,83.5" fill="none" stroke="#F5241E" stroke-width="1.7" stroke-linejoin="round"/>
<polyline points="51.0,78.2 53.9,91.1 56.8,107.5 59.7,105.9 62.5,104.5 65.4,103.6 68.3,104.5 71.1,106.1 74.0,104.8 76.9,105.4 79.7,101.9 82.6,101.9 85.5,103.5 88.3,104.8 91.2,105.7 94.1,106.5 96.9,105.7 99.8,104.2 102.7,103.2 105.6,102.6 108.4,99.6 111.3,103.5 114.2,103.7 117.0,98.7 119.9,105.2 122.8,105.3 125.6,104.1 128.5,103.6 131.4,102.9 134.2,103.8 137.1,103.0 140.0,103.3 142.9,102.0 145.7,106.4 148.6,106.3 151.5,104.6 154.3,105.9 157.2,106.5 160.1,103.8 162.9,105.1 165.8,103.4 168.7,102.5 171.5,103.1 174.4,103.0 177.3,104.1 180.2,107.0 183.0,105.7 185.9,104.4 188.8,105.7 191.6,105.6 194.5,104.0 197.4,106.4 200.2,104.7 203.1,101.8 206.0,105.2 208.8,105.3 211.7,105.7 214.6,102.8 217.4,103.7 220.3,103.0 223.2,105.5 226.1,105.2 228.9,105.0 231.8,108.1 234.7,103.4 237.5,102.4 240.4,106.8 243.3,104.0 246.1,104.3 249.0,103.4 251.9,103.1 254.7,106.3 257.6,105.1 260.5,101.5 263.4,103.8 266.2,105.4 269.1,106.7 272.0,107.0 274.8,104.3 277.7,100.7 280.6,101.6 283.4,102.3 286.3,98.9 289.2,102.6 292.0,104.4 294.9,102.9 297.8,102.2 300.6,93.4 303.5,83.4" fill="none" stroke="#42A07B" stroke-width="1.7" stroke-linejoin="round"/>
<polyline points="51.0,73.4 53.9,86.9 56.8,103.3 59.7,102.4 62.5,102.7 65.4,101.0 68.3,101.3 71.1,101.4 74.0,101.9 76.9,99.6 79.7,98.0 82.6,100.6 85.5,99.4 88.3,101.9 91.2,101.3 94.1,99.9 96.9,97.9 99.8,100.6 102.7,101.1 105.6,100.8 108.4,103.8 111.3,102.2 114.2,102.8 117.0,101.2 119.9,103.2 122.8,105.6 125.6,102.9 128.5,101.4 131.4,102.3 134.2,100.0 137.1,101.2 140.0,102.3 142.9,100.8 145.7,103.9 148.6,103.5 151.5,102.2 154.3,100.0 157.2,101.0 160.1,100.6 162.9,102.1 165.8,101.0 168.7,98.1 171.5,101.2 174.4,96.9 177.3,100.7 180.2,100.9 183.0,100.8 185.9,99.2 188.8,102.6 191.6,105.6 194.5,101.9 197.4,100.0 200.2,99.6 203.1,95.8 206.0,98.7 208.8,99.7 211.7,98.9 214.6,99.6 217.4,97.5 220.3,102.0 223.2,102.2 226.1,107.9 228.9,102.4 231.8,102.4 234.7,100.0 237.5,96.8 240.4,99.4 243.3,101.0 246.1,102.0 249.0,103.1 251.9,103.1 254.7,100.8 257.6,101.0 260.5,101.0 263.4,101.4 266.2,99.6 269.1,99.7 272.0,100.8 274.8,99.8 277.7,100.9 280.6,103.2 283.4,99.3 286.3,99.6 289.2,102.3 292.0,99.7 294.9,100.0 297.8,103.6 300.6,87.8 303.5,77.0" fill="none" stroke="#E2A22E" stroke-width="1.7" stroke-linejoin="round"/>
<polyline points="51.0,83.7 53.9,91.1 56.8,98.8 59.7,101.7 62.5,98.3 65.4,98.6 68.3,99.4 71.1,98.5 74.0,98.7 76.9,97.7 79.7,99.2 82.6,99.2 85.5,103.0 88.3,101.4 91.2,98.8 94.1,96.6 96.9,98.8 99.8,99.2 102.7,96.3 105.6,98.6 108.4,97.6 111.3,95.5 114.2,97.7 117.0,96.4 119.9,99.4 122.8,98.9 125.6,99.3 128.5,99.1 131.4,97.1 134.2,94.1 137.1,98.4 140.0,100.0 142.9,98.7 145.7,101.0 148.6,99.1 151.5,98.2 154.3,99.4 157.2,98.5 160.1,101.9 162.9,99.0 165.8,102.1 168.7,101.8 171.5,101.4 174.4,101.0 177.3,98.5 180.2,99.0 183.0,100.0 185.9,98.7 188.8,96.4 191.6,98.3 194.5,98.4 197.4,96.9 200.2,98.0 203.1,101.3 206.0,95.8 208.8,94.1 211.7,101.0 214.6,100.3 217.4,99.2 220.3,97.7 223.2,97.7 226.1,99.4 228.9,101.5 231.8,100.3 234.7,98.1 237.5,101.1 240.4,102.2 243.3,100.8 246.1,103.7 249.0,101.9 251.9,101.5 254.7,99.7 257.6,101.1 260.5,102.0 263.4,101.5 266.2,100.6 269.1,101.4 272.0,100.5 274.8,98.8 277.7,97.4 280.6,95.8 283.4,99.8 286.3,100.7 289.2,104.8 292.0,98.5 294.9,100.8 297.8,100.4 300.6,89.6 303.5,82.9" fill="none" stroke="#EC7627" stroke-width="1.7" stroke-linejoin="round"/>
<polyline points="51.0,86.7 53.9,93.5 56.8,103.3 59.7,100.8 62.5,98.2 65.4,102.8 68.3,99.7 71.1,99.6 74.0,99.1 76.9,98.9 79.7,97.3 82.6,99.4 85.5,98.3 88.3,100.2 91.2,98.9 94.1,101.2 96.9,100.8 99.8,97.3 102.7,98.3 105.6,99.8 108.4,102.2 111.3,102.5 114.2,100.9 117.0,98.8 119.9,99.0 122.8,98.9 125.6,99.9 128.5,97.7 131.4,100.1 134.2,101.3 137.1,99.2 140.0,99.8 142.9,100.7 145.7,101.6 148.6,101.4 151.5,99.7 154.3,99.6 157.2,102.4 160.1,100.5 162.9,100.2 165.8,102.3 168.7,99.9 171.5,100.8 174.4,101.3 177.3,99.5 180.2,97.8 183.0,100.8 185.9,99.9 188.8,102.0 191.6,97.0 194.5,100.1 197.4,98.3 200.2,101.0 203.1,99.4 206.0,96.2 208.8,103.6 211.7,102.7 214.6,100.7 217.4,100.9 220.3,102.1 223.2,97.4 226.1,99.4 228.9,103.3 231.8,100.3 234.7,103.8 237.5,100.0 240.4,101.6 243.3,100.9 246.1,98.7 249.0,99.8 251.9,103.1 254.7,104.9 257.6,100.4 260.5,99.4 263.4,101.9 266.2,99.8 269.1,99.7 272.0,99.3 274.8,104.5 277.7,103.0 280.6,100.2 283.4,99.4 286.3,98.9 289.2,104.7 292.0,102.3 294.9,100.7 297.8,96.4 300.6,88.5 303.5,76.7" fill="none" stroke="#63BBCD" stroke-width="1.7" stroke-linejoin="round"/>
<polyline points="51.0,95.5 53.9,93.8 56.8,97.0 62.5,98.1 68.3,97.2 74.0,97.6 79.7,97.0 82.6,98.8 88.3,97.1 94.1,98.9 99.8,99.3 105.6,101.0 111.3,103.9 117.0,99.9 122.8,98.2 128.5,97.3 134.2,99.0 140.0,96.3 145.7,94.0 151.5,95.7 157.2,94.7 162.9,91.3 168.7,94.2 174.4,92.1 180.2,94.6 185.9,96.5 191.6,95.8 197.4,99.6 203.1,104.0 208.8,100.5 214.6,98.2 220.3,97.4 226.1,95.1 231.8,97.5 237.5,93.9 243.3,97.3 249.0,94.1 254.7,92.3 260.5,96.5 266.2,96.0 272.0,97.8 277.7,96.5 283.4,100.1 289.2,98.2 294.9,98.8 300.6,104.9 303.5,105.7 306.4,91.6 309.3,89.3" fill="none" stroke="#131313" stroke-width="2.2" stroke-linejoin="round"/>
</g>
<rect x="36.0" y="71.2" width="288.3" height="50.1" fill="none" stroke="#9C9C9C" stroke-width="1.0"/>
<line y1="121.3" y2="122.6" x1="36.70" x2="36.70" stroke="#888" stroke-width="0.8"/>
<line y1="121.3" y2="122.6" x1="94.08" x2="94.08" stroke="#888" stroke-width="0.8"/>
<line y1="121.3" y2="122.6" x1="151.46" x2="151.46" stroke="#888" stroke-width="0.8"/>
<line y1="121.3" y2="122.6" x1="208.84" x2="208.84" stroke="#888" stroke-width="0.8"/>
<line y1="121.3" y2="122.6" x1="266.22" x2="266.22" stroke="#888" stroke-width="0.8"/>
<line y1="121.3" y2="122.6" x1="323.60" x2="323.60" stroke="#888" stroke-width="0.8"/>
<line x1="33.8" x2="36.0" y1="119.40" y2="119.40" stroke="#9C9C9C" stroke-width="0.8"/>
<text x="32.7" y="122.5" font-size="8.7" text-anchor="end" fill="#3a3a3a" >0.00</text>
<line x1="33.8" x2="36.0" y1="108.03" y2="108.03" stroke="#9C9C9C" stroke-width="0.8"/>
<text x="32.7" y="111.1" font-size="8.7" text-anchor="end" fill="#3a3a3a" >0.05</text>
<line x1="33.8" x2="36.0" y1="96.65" y2="96.65" stroke="#9C9C9C" stroke-width="0.8"/>
<text x="32.7" y="99.8" font-size="8.7" text-anchor="end" fill="#3a3a3a" >0.10</text>
<line x1="33.8" x2="36.0" y1="85.28" y2="85.28" stroke="#9C9C9C" stroke-width="0.8"/>
<text x="32.7" y="88.4" font-size="8.7" text-anchor="end" fill="#3a3a3a" >0.15</text>
<line x1="33.8" x2="36.0" y1="73.90" y2="73.90" stroke="#9C9C9C" stroke-width="0.8"/>
<text x="32.7" y="77.0" font-size="8.7" text-anchor="end" fill="#3a3a3a" >0.20</text>
<text transform="translate(9.4,96.2) rotate(-90)" font-size="11" text-anchor="middle" fill="#1a1a1a">T<tspan font-size="8" dy="1.3">2</tspan><tspan dy="-1.3"> (s)</tspan></text>
<rect x="36.0" y="124.5" width="288.3" height="54.7" fill="#fff"/>
<line x1="36.0" x2="324.3" y1="171.24" y2="171.24" stroke="#EFEFEF" stroke-width="0.5"/>
<line x1="36.0" x2="324.3" y1="158.71" y2="158.71" stroke="#EFEFEF" stroke-width="0.5"/>
<line x1="36.0" x2="324.3" y1="146.19" y2="146.19" stroke="#EFEFEF" stroke-width="0.5"/>
<line x1="36.0" x2="324.3" y1="133.66" y2="133.66" stroke="#EFEFEF" stroke-width="0.5"/>
<line y1="124.5" y2="179.2" x1="65.39" x2="65.39" stroke="#EFEFEF" stroke-width="0.5"/>
<line y1="124.5" y2="179.2" x1="122.77" x2="122.77" stroke="#EFEFEF" stroke-width="0.5"/>
<line y1="124.5" y2="179.2" x1="180.15" x2="180.15" stroke="#EFEFEF" stroke-width="0.5"/>
<line y1="124.5" y2="179.2" x1="237.53" x2="237.53" stroke="#EFEFEF" stroke-width="0.5"/>
<line y1="124.5" y2="179.2" x1="294.91" x2="294.91" stroke="#EFEFEF" stroke-width="0.5"/>
<line x1="36.0" x2="324.3" y1="177.50" y2="177.50" stroke="#DEDEDE" stroke-width="0.7"/>
<line x1="36.0" x2="324.3" y1="164.97" y2="164.97" stroke="#DEDEDE" stroke-width="0.7"/>
<line x1="36.0" x2="324.3" y1="152.45" y2="152.45" stroke="#DEDEDE" stroke-width="0.7"/>
<line x1="36.0" x2="324.3" y1="139.93" y2="139.93" stroke="#DEDEDE" stroke-width="0.7"/>
<line x1="36.0" x2="324.3" y1="127.40" y2="127.40" stroke="#DEDEDE" stroke-width="0.7"/>
<line y1="124.5" y2="179.2" x1="36.70" x2="36.70" stroke="#DEDEDE" stroke-width="0.7"/>
<line y1="124.5" y2="179.2" x1="94.08" x2="94.08" stroke="#DEDEDE" stroke-width="0.7"/>
<line y1="124.5" y2="179.2" x1="151.46" x2="151.46" stroke="#DEDEDE" stroke-width="0.7"/>
<line y1="124.5" y2="179.2" x1="208.84" x2="208.84" stroke="#DEDEDE" stroke-width="0.7"/>
<line y1="124.5" y2="179.2" x1="266.22" x2="266.22" stroke="#DEDEDE" stroke-width="0.7"/>
<line y1="124.5" y2="179.2" x1="323.60" x2="323.60" stroke="#DEDEDE" stroke-width="0.7"/>
<clipPath id="ca3"><rect x="36.0" y="124.5" width="288.3" height="54.7"/></clipPath>
<g clip-path="url(#ca3)">
<path d="M49.4 167.5h3.2m-1.6 0V173.5m-1.6 0h3.2" stroke="#E2A22E" stroke-width="0.9" stroke-opacity="0.8" fill="none"/>
<path d="M108.4 134.9V147.4" stroke="#999" stroke-width="0.8" fill="none"/>
<path d="M117.0 129.9V139.9" stroke="#999" stroke-width="0.8" fill="none"/>
<path d="M52.3 156.0h3.2m-1.6 0v1.8m-1.6 0h3.2M72.4 136.6h3.2m-1.6 0v3.0m-1.6 0h3.2M83.9 136.3h3.2m-1.6 0v1.8m-1.6 0h3.2M92.5 137.2h3.2m-1.6 0v2.6m-1.6 0h3.2M95.3 136.3h3.2m-1.6 0v3.4m-1.6 0h3.2M104.0 133.9h3.2m-1.6 0v3.8m-1.6 0h3.2M112.6 135.2h3.2m-1.6 0v4.1m-1.6 0h3.2M121.2 137.7h3.2m-1.6 0v1.9m-1.6 0h3.2M135.5 136.0h3.2m-1.6 0v2.4m-1.6 0h3.2M152.7 136.2h3.2m-1.6 0v2.7m-1.6 0h3.2M155.6 135.3h3.2m-1.6 0v3.5m-1.6 0h3.2M172.8 133.6h3.2m-1.6 0v4.5m-1.6 0h3.2M181.4 135.6h3.2m-1.6 0v3.4m-1.6 0h3.2M190.0 135.7h3.2m-1.6 0v1.8m-1.6 0h3.2M192.9 135.5h3.2m-1.6 0v4.0m-1.6 0h3.2M195.8 135.8h3.2m-1.6 0v4.1m-1.6 0h3.2M253.1 137.2h3.2m-1.6 0v1.2m-1.6 0h3.2M270.4 135.6h3.2m-1.6 0v3.9m-1.6 0h3.2M273.2 136.5h3.2m-1.6 0v1.3m-1.6 0h3.2M276.1 136.5h3.2m-1.6 0v1.4m-1.6 0h3.2M284.7 136.6h3.2m-1.6 0v4.6m-1.6 0h3.2M290.4 136.5h3.2m-1.6 0v1.8m-1.6 0h3.2M299.0 144.4h3.2m-1.6 0v1.3m-1.6 0h3.2M304.8 169.9h3.2m-1.6 0v4.7m-1.6 0h3.2" stroke="#F5241E" stroke-width="0.8" stroke-opacity="0.75" fill="none"/>
<path d="M69.5 136.7h3.2m-1.6 0v3.8m-1.6 0h3.2M72.4 135.5h3.2m-1.6 0v3.5m-1.6 0h3.2M81.0 135.7h3.2m-1.6 0v3.2m-1.6 0h3.2M95.3 137.4h3.2m-1.6 0v2.1m-1.6 0h3.2M104.0 136.5h3.2m-1.6 0v1.9m-1.6 0h3.2M118.3 135.7h3.2m-1.6 0v3.3m-1.6 0h3.2M121.2 135.9h3.2m-1.6 0v4.3m-1.6 0h3.2M147.0 135.0h3.2m-1.6 0v3.7m-1.6 0h3.2M161.3 134.8h3.2m-1.6 0v4.4m-1.6 0h3.2M172.8 136.1h3.2m-1.6 0v4.3m-1.6 0h3.2M181.4 135.8h3.2m-1.6 0v1.6m-1.6 0h3.2M187.2 135.1h3.2m-1.6 0v4.5m-1.6 0h3.2M190.0 136.7h3.2m-1.6 0v3.9m-1.6 0h3.2M192.9 136.1h3.2m-1.6 0v1.8m-1.6 0h3.2M198.6 136.6h3.2m-1.6 0v2.4m-1.6 0h3.2M213.0 136.7h3.2m-1.6 0v2.0m-1.6 0h3.2M221.6 136.8h3.2m-1.6 0v3.0m-1.6 0h3.2M224.5 135.9h3.2m-1.6 0v2.8m-1.6 0h3.2M227.3 137.4h3.2m-1.6 0v1.3m-1.6 0h3.2M238.8 137.3h3.2m-1.6 0v3.0m-1.6 0h3.2M241.7 137.1h3.2m-1.6 0v2.7m-1.6 0h3.2M244.5 136.1h3.2m-1.6 0v3.7m-1.6 0h3.2M247.4 136.7h3.2m-1.6 0v3.9m-1.6 0h3.2M253.1 136.0h3.2m-1.6 0v2.5m-1.6 0h3.2M264.6 135.6h3.2m-1.6 0v4.7m-1.6 0h3.2M276.1 138.2h3.2m-1.6 0v2.2m-1.6 0h3.2M279.0 137.8h3.2m-1.6 0v1.4m-1.6 0h3.2M293.3 134.8h3.2m-1.6 0v3.7m-1.6 0h3.2" stroke="#42A07B" stroke-width="0.8" stroke-opacity="0.75" fill="none"/>
<path d="M78.1 133.5h3.2m-1.6 0v4.8m-1.6 0h3.2M81.0 134.5h3.2m-1.6 0v3.4m-1.6 0h3.2M95.3 136.1h3.2m-1.6 0v1.9m-1.6 0h3.2M98.2 134.9h3.2m-1.6 0v4.2m-1.6 0h3.2M106.8 135.8h3.2m-1.6 0v3.7m-1.6 0h3.2M124.0 136.0h3.2m-1.6 0v3.9m-1.6 0h3.2M138.4 134.9h3.2m-1.6 0v3.5m-1.6 0h3.2M169.9 136.5h3.2m-1.6 0v3.4m-1.6 0h3.2M190.0 136.2h3.2m-1.6 0v1.7m-1.6 0h3.2M207.2 136.1h3.2m-1.6 0v1.8m-1.6 0h3.2M227.3 137.0h3.2m-1.6 0v2.6m-1.6 0h3.2M235.9 136.0h3.2m-1.6 0v1.8m-1.6 0h3.2M241.7 136.3h3.2m-1.6 0v2.5m-1.6 0h3.2M253.1 136.4h3.2m-1.6 0v2.6m-1.6 0h3.2M273.2 136.6h3.2m-1.6 0v3.7m-1.6 0h3.2M281.8 135.5h3.2m-1.6 0v2.5m-1.6 0h3.2M290.4 136.2h3.2m-1.6 0v1.9m-1.6 0h3.2M296.2 139.7h3.2m-1.6 0v1.8m-1.6 0h3.2" stroke="#E2A22E" stroke-width="0.8" stroke-opacity="0.75" fill="none"/>
<path d="M49.4 167.2h3.2m-1.6 0v4.2m-1.6 0h3.2M52.3 154.9h3.2m-1.6 0v3.5m-1.6 0h3.2M58.1 137.5h3.2m-1.6 0v2.7m-1.6 0h3.2M69.5 136.7h3.2m-1.6 0v2.8m-1.6 0h3.2M101.1 136.0h3.2m-1.6 0v4.7m-1.6 0h3.2M115.4 135.9h3.2m-1.6 0v3.9m-1.6 0h3.2M132.6 134.5h3.2m-1.6 0v3.3m-1.6 0h3.2M172.8 136.7h3.2m-1.6 0v3.7m-1.6 0h3.2M184.3 135.9h3.2m-1.6 0v2.0m-1.6 0h3.2M187.2 135.5h3.2m-1.6 0v4.2m-1.6 0h3.2M190.0 136.8h3.2m-1.6 0v1.5m-1.6 0h3.2M198.6 134.5h3.2m-1.6 0v3.7m-1.6 0h3.2M207.2 134.1h3.2m-1.6 0v3.7m-1.6 0h3.2M224.5 136.8h3.2m-1.6 0v2.4m-1.6 0h3.2M230.2 134.2h3.2m-1.6 0v4.8m-1.6 0h3.2M256.0 137.0h3.2m-1.6 0v2.3m-1.6 0h3.2M270.4 136.4h3.2m-1.6 0v1.4m-1.6 0h3.2M293.3 136.5h3.2m-1.6 0v4.5m-1.6 0h3.2M299.0 144.8h3.2m-1.6 0v2.3m-1.6 0h3.2" stroke="#EC7627" stroke-width="0.8" stroke-opacity="0.75" fill="none"/>
<path d="M83.9 137.5h3.2m-1.6 0v2.8m-1.6 0h3.2M89.6 137.1h3.2m-1.6 0v4.3m-1.6 0h3.2M92.5 138.3h3.2m-1.6 0v3.4m-1.6 0h3.2M95.3 136.4h3.2m-1.6 0v4.5m-1.6 0h3.2M115.4 135.9h3.2m-1.6 0v4.2m-1.6 0h3.2M118.3 135.5h3.2m-1.6 0v4.5m-1.6 0h3.2M121.2 136.5h3.2m-1.6 0v1.6m-1.6 0h3.2M124.0 135.3h3.2m-1.6 0v4.0m-1.6 0h3.2M144.1 138.2h3.2m-1.6 0v1.4m-1.6 0h3.2M149.9 136.9h3.2m-1.6 0v4.2m-1.6 0h3.2M155.6 136.6h3.2m-1.6 0v3.3m-1.6 0h3.2M164.2 136.6h3.2m-1.6 0v4.5m-1.6 0h3.2M172.8 134.6h3.2m-1.6 0v4.1m-1.6 0h3.2M181.4 137.1h3.2m-1.6 0v2.6m-1.6 0h3.2M187.2 136.0h3.2m-1.6 0v3.2m-1.6 0h3.2M190.0 136.6h3.2m-1.6 0v2.9m-1.6 0h3.2M201.5 136.0h3.2m-1.6 0v4.2m-1.6 0h3.2M204.4 135.9h3.2m-1.6 0v4.5m-1.6 0h3.2M230.2 135.9h3.2m-1.6 0v3.0m-1.6 0h3.2M241.7 137.8h3.2m-1.6 0v1.7m-1.6 0h3.2M253.1 135.4h3.2m-1.6 0v4.5m-1.6 0h3.2M256.0 136.0h3.2m-1.6 0v3.4m-1.6 0h3.2M270.4 137.5h3.2m-1.6 0v2.4m-1.6 0h3.2M276.1 136.9h3.2m-1.6 0v3.9m-1.6 0h3.2M279.0 136.3h3.2m-1.6 0v4.0m-1.6 0h3.2M284.7 137.3h3.2m-1.6 0v3.2m-1.6 0h3.2M287.6 136.7h3.2m-1.6 0v3.2m-1.6 0h3.2M299.0 144.0h3.2m-1.6 0v3.1m-1.6 0h3.2M301.9 156.6h3.2m-1.6 0v3.5m-1.6 0h3.2M304.8 171.4h3.2m-1.6 0v3.3m-1.6 0h3.2" stroke="#63BBCD" stroke-width="0.8" stroke-opacity="0.75" fill="none"/>
<path d="M180.2 130.9v14.5M223.2 131.1v9.0" stroke="#9a9a9a" stroke-width="0.7" fill="none"/>
<polyline points="51.0,169.4 53.9,156.9 56.8,146.4 59.7,139.9 62.5,137.6 65.4,137.7 68.3,137.6 71.1,138.5 74.0,138.1 76.9,137.7 79.7,138.1 82.6,137.7 85.5,137.2 88.3,137.4 91.2,136.2 94.1,138.5 96.9,138.0 99.8,138.7 102.7,137.4 105.6,135.8 108.4,138.3 111.3,137.7 114.2,137.2 117.0,137.5 119.9,137.1 122.8,138.7 125.6,137.4 128.5,137.2 131.4,137.3 134.2,137.7 137.1,137.2 140.0,137.6 142.9,137.4 145.7,137.7 148.6,138.9 151.5,138.0 154.3,137.5 157.2,137.0 160.1,137.8 162.9,137.6 165.8,137.1 168.7,137.2 171.5,136.6 174.4,135.9 177.3,137.4 180.2,138.5 183.0,137.4 185.9,136.5 188.8,136.5 191.6,136.6 194.5,137.4 197.4,137.9 200.2,137.1 203.1,137.8 206.0,138.7 208.8,138.5 211.7,136.4 214.6,135.8 217.4,137.2 220.3,137.8 223.2,137.4 226.1,137.9 228.9,136.8 231.8,137.2 234.7,138.0 237.5,136.9 240.4,137.5 243.3,137.3 246.1,137.4 249.0,137.6 251.9,137.3 254.7,137.8 257.6,138.7 260.5,139.2 263.4,138.9 266.2,138.5 269.1,137.9 272.0,137.6 274.8,137.1 277.7,137.2 280.6,137.8 283.4,138.0 286.3,138.9 289.2,138.1 292.0,137.4 294.9,137.1 297.8,141.1 300.6,145.0 303.5,156.9 306.4,172.3" fill="none" stroke="#F5241E" stroke-width="1.7" stroke-linejoin="round"/>
<polyline points="51.0,170.0 53.9,157.4 56.8,146.6 59.7,139.5 62.5,137.9 65.4,138.1 68.3,138.5 71.1,138.6 74.0,137.3 76.9,136.6 79.7,137.4 82.6,137.4 85.5,137.0 88.3,137.1 91.2,136.9 94.1,138.3 96.9,138.4 99.8,137.9 102.7,137.0 105.6,137.5 108.4,138.3 111.3,138.3 114.2,138.5 117.0,138.7 119.9,137.3 122.8,138.1 125.6,138.0 128.5,136.6 131.4,136.7 134.2,137.2 137.1,138.0 140.0,137.7 142.9,136.9 145.7,137.1 148.6,136.8 151.5,137.4 154.3,137.4 157.2,137.8 160.1,137.6 162.9,137.0 165.8,138.4 168.7,138.2 171.5,137.9 174.4,138.2 177.3,138.2 180.2,137.6 183.0,136.6 185.9,137.0 188.8,137.4 191.6,138.6 194.5,137.0 197.4,137.5 200.2,137.8 203.1,138.5 206.0,138.2 208.8,138.7 211.7,138.2 214.6,137.7 217.4,137.8 220.3,137.7 223.2,138.4 226.1,137.2 228.9,138.0 231.8,139.1 234.7,138.5 237.5,138.6 240.4,138.8 243.3,138.5 246.1,138.0 249.0,138.7 251.9,138.3 254.7,137.2 257.6,137.2 260.5,137.7 263.4,137.8 266.2,137.9 269.1,138.0 272.0,137.5 274.8,137.8 277.7,139.3 280.6,138.5 283.4,138.7 286.3,137.8 289.2,138.3 292.0,138.0 294.9,136.6 297.8,141.8 300.6,146.2 303.5,159.1 306.4,174.9" fill="none" stroke="#42A07B" stroke-width="1.7" stroke-linejoin="round"/>
<polyline points="51.0,171.1 53.9,157.7 56.8,146.9 59.7,141.2 62.5,138.8 65.4,137.6 68.3,138.0 71.1,137.9 74.0,137.4 76.9,136.6 79.7,135.9 82.6,136.2 85.5,136.8 88.3,137.1 91.2,136.2 94.1,136.1 96.9,137.1 99.8,137.0 102.7,137.1 105.6,137.3 108.4,137.7 111.3,138.3 114.2,138.1 117.0,138.6 119.9,137.2 122.8,137.0 125.6,138.0 128.5,136.8 131.4,136.6 134.2,138.3 137.1,136.6 140.0,136.6 142.9,135.9 145.7,137.5 148.6,137.1 151.5,137.1 154.3,137.2 157.2,137.2 160.1,136.7 162.9,138.0 165.8,138.4 168.7,138.7 171.5,138.2 174.4,138.1 177.3,137.5 180.2,137.3 183.0,137.3 185.9,137.8 188.8,137.8 191.6,137.0 194.5,136.8 197.4,137.1 200.2,137.5 203.1,136.5 206.0,137.4 208.8,137.0 211.7,136.6 214.6,137.2 217.4,136.9 220.3,137.9 223.2,137.0 226.1,137.1 228.9,138.3 231.8,137.4 234.7,137.9 237.5,136.9 240.4,137.6 243.3,137.6 246.1,137.3 249.0,137.6 251.9,137.3 254.7,137.7 257.6,137.1 260.5,137.3 263.4,137.2 266.2,139.0 269.1,137.4 272.0,137.4 274.8,138.5 277.7,137.8 280.6,137.3 283.4,136.7 286.3,137.8 289.2,136.6 292.0,137.2 294.9,135.9 297.8,140.7 300.6,144.3 303.5,157.4 306.4,173.2" fill="none" stroke="#E2A22E" stroke-width="1.7" stroke-linejoin="round"/>
<polyline points="51.0,169.3 53.9,156.7 56.8,145.2 59.7,138.9 62.5,137.4 65.4,138.4 68.3,138.2 71.1,138.1 74.0,138.2 76.9,137.4 79.7,137.2 82.6,137.5 85.5,137.3 88.3,137.5 91.2,137.3 94.1,136.9 96.9,136.6 99.8,137.5 102.7,138.4 105.6,136.9 108.4,137.2 111.3,136.7 114.2,138.1 117.0,137.9 119.9,137.6 122.8,138.4 125.6,138.1 128.5,137.3 131.4,136.7 134.2,136.2 137.1,137.4 140.0,138.3 142.9,137.4 145.7,136.9 148.6,137.1 151.5,138.1 154.3,137.2 157.2,136.9 160.1,136.9 162.9,137.5 165.8,137.3 168.7,136.9 171.5,137.5 174.4,138.6 177.3,137.7 180.2,137.2 183.0,137.3 185.9,136.9 188.8,137.5 191.6,137.5 194.5,137.6 197.4,137.2 200.2,136.4 203.1,137.1 206.0,136.1 208.8,136.0 211.7,136.4 214.6,136.6 217.4,136.0 220.3,137.0 223.2,137.3 226.1,138.0 228.9,137.4 231.8,136.6 234.7,136.8 237.5,136.9 240.4,137.3 243.3,137.3 246.1,138.2 249.0,137.1 251.9,137.5 254.7,138.1 257.6,138.2 260.5,138.2 263.4,137.2 266.2,136.7 269.1,138.0 272.0,137.1 274.8,136.7 277.7,137.5 280.6,138.3 283.4,138.2 286.3,138.1 289.2,137.5 292.0,137.7 294.9,138.7 297.8,141.6 300.6,146.0 303.5,157.3 306.4,173.2" fill="none" stroke="#EC7627" stroke-width="1.7" stroke-linejoin="round"/>
<polyline points="51.0,171.4 53.9,159.1 56.8,148.0 59.7,140.4 62.5,137.7 65.4,137.8 68.3,138.0 71.1,139.2 74.0,139.0 76.9,139.0 79.7,139.2 82.6,138.4 85.5,138.9 88.3,139.0 91.2,139.3 94.1,140.0 96.9,138.7 99.8,137.7 102.7,138.0 105.6,138.9 108.4,140.2 111.3,139.0 114.2,137.9 117.0,138.0 119.9,137.7 122.8,137.3 125.6,137.3 128.5,138.2 131.4,137.7 134.2,137.7 137.1,139.0 140.0,138.9 142.9,139.5 145.7,138.9 148.6,138.3 151.5,139.0 154.3,139.9 157.2,138.2 160.1,138.1 162.9,137.4 165.8,138.8 168.7,137.9 171.5,137.0 174.4,136.6 177.3,137.8 180.2,138.0 183.0,138.4 185.9,137.8 188.8,137.5 191.6,138.0 194.5,139.1 197.4,138.2 200.2,138.6 203.1,138.1 206.0,138.1 208.8,137.3 211.7,137.3 214.6,138.2 217.4,138.1 220.3,137.2 223.2,138.3 226.1,138.1 228.9,137.6 231.8,137.3 234.7,137.7 237.5,138.9 240.4,139.4 243.3,138.7 246.1,138.3 249.0,136.8 251.9,138.3 254.7,137.7 257.6,137.7 260.5,139.1 263.4,139.2 266.2,138.6 269.1,138.8 272.0,138.7 274.8,138.2 277.7,138.8 280.6,138.3 283.4,138.8 286.3,138.9 289.2,138.3 292.0,138.7 294.9,138.4 297.8,141.2 300.6,145.5 303.5,158.4 306.4,173.0" fill="none" stroke="#63BBCD" stroke-width="1.7" stroke-linejoin="round"/>
<polyline points="51.0,142.6 53.9,135.9 56.8,136.6 59.7,137.1 62.5,135.7 68.3,130.3 71.1,136.5 74.0,135.3 76.9,141.5 79.7,134.6 82.6,136.7 85.5,134.4 91.2,142.8 94.1,141.7 108.4,145.0 111.3,138.5 114.2,136.2 119.9,132.3 125.6,137.6 128.5,136.2 131.4,139.7 137.1,134.2 140.0,138.3 145.7,130.5 148.6,138.6 154.3,134.7 157.2,136.7 162.9,133.9 168.7,137.9 174.4,134.5 180.2,138.1 183.0,134.0 188.8,138.9 194.5,130.8 197.4,137.2 203.1,135.3 208.8,138.2 211.7,131.7 217.4,138.2 223.2,135.6 228.9,139.4 234.7,134.0 240.4,137.8 246.1,131.5 249.0,137.4 254.7,135.6 260.5,141.6 263.4,144.4 269.1,137.7 274.8,135.4 280.6,138.0 286.3,134.9 292.0,138.4 297.8,135.2 300.6,145.5 303.5,154.9 306.4,160.6 309.3,164.8" fill="none" stroke="#131313" stroke-width="2.2" stroke-linejoin="round"/>
</g>
<rect x="36.0" y="124.5" width="288.3" height="54.7" fill="none" stroke="#9C9C9C" stroke-width="1.0"/>
<line x1="33.8" x2="36.0" y1="177.50" y2="177.50" stroke="#9C9C9C" stroke-width="0.8"/>
<text x="32.7" y="180.6" font-size="8.7" text-anchor="end" fill="#3a3a3a" >0.00</text>
<line x1="33.8" x2="36.0" y1="164.97" y2="164.97" stroke="#9C9C9C" stroke-width="0.8"/>
<text x="32.7" y="168.1" font-size="8.7" text-anchor="end" fill="#3a3a3a" >0.25</text>
<line x1="33.8" x2="36.0" y1="152.45" y2="152.45" stroke="#9C9C9C" stroke-width="0.8"/>
<text x="32.7" y="155.5" font-size="8.7" text-anchor="end" fill="#3a3a3a" >0.50</text>
<line x1="33.8" x2="36.0" y1="139.93" y2="139.93" stroke="#9C9C9C" stroke-width="0.8"/>
<text x="32.7" y="143.0" font-size="8.7" text-anchor="end" fill="#3a3a3a" >0.75</text>
<line x1="33.8" x2="36.0" y1="127.40" y2="127.40" stroke="#9C9C9C" stroke-width="0.8"/>
<text x="32.7" y="130.5" font-size="8.7" text-anchor="end" fill="#3a3a3a" >1.00</text>
<text transform="translate(9.4,151.8) rotate(-90)" font-size="11" text-anchor="middle" fill="#1a1a1a">hetNOE</text>
<line y1="179.2" y2="181.4" x1="36.70" x2="36.70" stroke="#9C9C9C" stroke-width="0.8"/>
<text x="36.7" y="188.6" font-size="8.7" text-anchor="middle" fill="#3a3a3a" clip-path="url(#xclipA)">190</text>
<line y1="179.2" y2="181.4" x1="94.08" x2="94.08" stroke="#9C9C9C" stroke-width="0.8"/>
<text x="94.1" y="188.6" font-size="8.7" text-anchor="middle" fill="#3a3a3a" clip-path="url(#xclipA)">210</text>
<line y1="179.2" y2="181.4" x1="151.46" x2="151.46" stroke="#9C9C9C" stroke-width="0.8"/>
<text x="151.5" y="188.6" font-size="8.7" text-anchor="middle" fill="#3a3a3a" clip-path="url(#xclipA)">230</text>
<line y1="179.2" y2="181.4" x1="208.84" x2="208.84" stroke="#9C9C9C" stroke-width="0.8"/>
<text x="208.8" y="188.6" font-size="8.7" text-anchor="middle" fill="#3a3a3a" clip-path="url(#xclipA)">250</text>
<line y1="179.2" y2="181.4" x1="266.22" x2="266.22" stroke="#9C9C9C" stroke-width="0.8"/>
<text x="266.2" y="188.6" font-size="8.7" text-anchor="middle" fill="#3a3a3a" clip-path="url(#xclipA)">270</text>
<line y1="179.2" y2="181.4" x1="323.60" x2="323.60" stroke="#9C9C9C" stroke-width="0.8"/>
<text x="323.6" y="188.6" font-size="8.7" text-anchor="middle" fill="#3a3a3a" clip-path="url(#xclipA)">290</text>
<text x="180.2" y="199.6" font-size="10.5" text-anchor="middle" fill="#111" >residues</text>
<text x="394.8" y="10.5" font-size="13.3" fill="#111">calmodulin</text>
<rect x="395.2" y="16.8" width="288.3" height="51.5" fill="#fff"/>
<line x1="395.2" x2="683.5" y1="55.30" y2="55.30" stroke="#EFEFEF" stroke-width="0.5"/>
<line x1="395.2" x2="683.5" y1="41.03" y2="41.03" stroke="#EFEFEF" stroke-width="0.5"/>
<line x1="395.2" x2="683.5" y1="26.76" y2="26.76" stroke="#EFEFEF" stroke-width="0.5"/>
<line y1="16.8" y2="68.3" x1="451.38" x2="451.38" stroke="#EFEFEF" stroke-width="0.5"/>
<line y1="16.8" y2="68.3" x1="540.32" x2="540.32" stroke="#EFEFEF" stroke-width="0.5"/>
<line y1="16.8" y2="68.3" x1="629.27" x2="629.27" stroke="#EFEFEF" stroke-width="0.5"/>
<line x1="395.2" x2="683.5" y1="62.44" y2="62.44" stroke="#DEDEDE" stroke-width="0.7"/>
<line x1="395.2" x2="683.5" y1="48.17" y2="48.17" stroke="#DEDEDE" stroke-width="0.7"/>
<line x1="395.2" x2="683.5" y1="33.90" y2="33.90" stroke="#DEDEDE" stroke-width="0.7"/>
<line x1="395.2" x2="683.5" y1="19.63" y2="19.63" stroke="#DEDEDE" stroke-width="0.7"/>
<line y1="16.8" y2="68.3" x1="406.90" x2="406.90" stroke="#DEDEDE" stroke-width="0.7"/>
<line y1="16.8" y2="68.3" x1="495.85" x2="495.85" stroke="#DEDEDE" stroke-width="0.7"/>
<line y1="16.8" y2="68.3" x1="584.80" x2="584.80" stroke="#DEDEDE" stroke-width="0.7"/>
<line y1="16.8" y2="68.3" x1="673.75" x2="673.75" stroke="#DEDEDE" stroke-width="0.7"/>
<clipPath id="cb1"><rect x="395.2" y="16.8" width="288.3" height="51.5"/></clipPath>
<g clip-path="url(#cb1)">
<path d="M416.0 51.1h3.2m-1.6 0v4.8m-1.6 0h3.2M417.8 50.5h3.2m-1.6 0v3.7m-1.6 0h3.2M421.3 47.6h3.2m-1.6 0v5.5m-1.6 0h3.2M423.1 48.3h3.2m-1.6 0v6.8m-1.6 0h3.2M426.6 52.2h3.2m-1.6 0v7.0m-1.6 0h3.2M430.2 46.5h3.2m-1.6 0v8.0m-1.6 0h3.2M435.5 49.8h3.2m-1.6 0v4.1m-1.6 0h3.2M439.1 48.7h3.2m-1.6 0v8.9m-1.6 0h3.2M444.4 51.7h3.2m-1.6 0v4.2m-1.6 0h3.2M449.8 50.0h3.2m-1.6 0v6.3m-1.6 0h3.2M451.6 47.7h3.2m-1.6 0v8.9m-1.6 0h3.2M458.7 49.9h3.2m-1.6 0v3.9m-1.6 0h3.2M460.4 50.3h3.2m-1.6 0v6.1m-1.6 0h3.2M462.2 53.3h3.2m-1.6 0v3.6m-1.6 0h3.2M464.0 52.4h3.2m-1.6 0v8.6m-1.6 0h3.2M467.6 51.2h3.2m-1.6 0v8.9m-1.6 0h3.2M469.3 51.3h3.2m-1.6 0v3.2m-1.6 0h3.2M474.7 46.3h3.2m-1.6 0v7.7m-1.6 0h3.2M481.8 52.7h3.2m-1.6 0v3.0m-1.6 0h3.2M488.9 53.3h3.2m-1.6 0v4.2m-1.6 0h3.2M490.7 48.8h3.2m-1.6 0v8.1m-1.6 0h3.2M494.2 53.1h3.2m-1.6 0v7.3m-1.6 0h3.2M496.0 48.9h3.2m-1.6 0v5.5m-1.6 0h3.2M497.8 47.5h3.2m-1.6 0v7.5m-1.6 0h3.2M503.1 48.8h3.2m-1.6 0v2.6m-1.6 0h3.2M508.5 49.8h3.2m-1.6 0v8.0m-1.6 0h3.2M526.3 49.7h3.2m-1.6 0v6.0m-1.6 0h3.2M533.4 54.1h3.2m-1.6 0v4.4m-1.6 0h3.2M542.3 53.1h3.2m-1.6 0v5.8m-1.6 0h3.2M549.4 49.4h3.2m-1.6 0v8.9m-1.6 0h3.2M556.5 50.9h3.2m-1.6 0v6.2m-1.6 0h3.2M569.0 52.5h3.2m-1.6 0v9.1m-1.6 0h3.2M574.3 55.0h3.2m-1.6 0v2.9m-1.6 0h3.2M581.4 51.6h3.2m-1.6 0v5.6m-1.6 0h3.2M588.5 50.5h3.2m-1.6 0v7.6m-1.6 0h3.2M590.3 50.3h3.2m-1.6 0v6.6m-1.6 0h3.2M593.9 52.0h3.2m-1.6 0v5.2m-1.6 0h3.2M599.2 52.6h3.2m-1.6 0v5.8m-1.6 0h3.2M602.8 51.0h3.2m-1.6 0v8.4m-1.6 0h3.2M608.1 55.2h3.2m-1.6 0v3.3m-1.6 0h3.2M609.9 51.7h3.2m-1.6 0v5.2m-1.6 0h3.2M622.3 51.3h3.2m-1.6 0v5.2m-1.6 0h3.2M624.1 55.6h3.2m-1.6 0v3.2m-1.6 0h3.2M627.7 52.4h3.2m-1.6 0v4.3m-1.6 0h3.2M633.0 55.9h3.2m-1.6 0v3.0m-1.6 0h3.2M638.3 53.8h3.2m-1.6 0v5.6m-1.6 0h3.2M643.7 57.8h3.2m-1.6 0v3.5m-1.6 0h3.2M645.5 51.7h3.2m-1.6 0v6.1m-1.6 0h3.2M650.8 55.5h3.2m-1.6 0v6.0m-1.6 0h3.2M659.7 54.6h3.2m-1.6 0v5.3m-1.6 0h3.2M666.8 51.2h3.2m-1.6 0v5.2m-1.6 0h3.2" stroke="#F5241E" stroke-width="0.8" stroke-opacity="0.75" fill="none"/>
<path d="M421.3 43.0h3.2m-1.6 0v8.1m-1.6 0h3.2M423.1 41.3h3.2m-1.6 0v4.5m-1.6 0h3.2M424.9 39.5h3.2m-1.6 0v5.9m-1.6 0h3.2M428.4 42.6h3.2m-1.6 0v10.4m-1.6 0h3.2M430.2 36.8h3.2m-1.6 0v11.0m-1.6 0h3.2M442.7 36.6h3.2m-1.6 0v9.5m-1.6 0h3.2M448.0 46.1h3.2m-1.6 0v3.6m-1.6 0h3.2M455.1 38.1h3.2m-1.6 0v7.7m-1.6 0h3.2M458.7 37.4h3.2m-1.6 0v9.9m-1.6 0h3.2M469.3 36.9h3.2m-1.6 0v3.5m-1.6 0h3.2M471.1 41.7h3.2m-1.6 0v4.3m-1.6 0h3.2M487.1 47.0h3.2m-1.6 0v7.7m-1.6 0h3.2M492.5 42.9h3.2m-1.6 0v8.3m-1.6 0h3.2M512.0 41.8h3.2m-1.6 0v9.6m-1.6 0h3.2M524.5 27.6h3.2m-1.6 0v6.8m-1.6 0h3.2M526.3 33.4h3.2m-1.6 0v4.4m-1.6 0h3.2M531.6 35.6h3.2m-1.6 0v6.6m-1.6 0h3.2M533.4 31.8h3.2m-1.6 0v8.1m-1.6 0h3.2M535.2 40.6h3.2m-1.6 0v4.7m-1.6 0h3.2M540.5 34.7h3.2m-1.6 0v9.0m-1.6 0h3.2M547.6 40.4h3.2m-1.6 0v5.9m-1.6 0h3.2M567.2 43.1h3.2m-1.6 0v4.8m-1.6 0h3.2M569.0 42.2h3.2m-1.6 0v7.1m-1.6 0h3.2M579.6 41.1h3.2m-1.6 0v9.3m-1.6 0h3.2M583.2 41.9h3.2m-1.6 0v10.4m-1.6 0h3.2M585.0 46.9h3.2m-1.6 0v4.5m-1.6 0h3.2M590.3 42.2h3.2m-1.6 0v5.1m-1.6 0h3.2M597.4 48.7h3.2m-1.6 0v4.9m-1.6 0h3.2M602.8 45.1h3.2m-1.6 0v8.6m-1.6 0h3.2M609.9 49.3h3.2m-1.6 0v7.0m-1.6 0h3.2M611.7 47.2h3.2m-1.6 0v3.9m-1.6 0h3.2M613.4 46.3h3.2m-1.6 0v9.1m-1.6 0h3.2M617.0 45.2h3.2m-1.6 0v5.3m-1.6 0h3.2M618.8 41.8h3.2m-1.6 0v10.8m-1.6 0h3.2M627.7 50.9h3.2m-1.6 0v5.0m-1.6 0h3.2M629.5 43.9h3.2m-1.6 0v8.2m-1.6 0h3.2M643.7 43.4h3.2m-1.6 0v7.0m-1.6 0h3.2M645.5 47.2h3.2m-1.6 0v9.3m-1.6 0h3.2M663.3 43.3h3.2m-1.6 0v10.7m-1.6 0h3.2M665.0 39.6h3.2m-1.6 0v10.8m-1.6 0h3.2" stroke="#42A07B" stroke-width="0.8" stroke-opacity="0.75" fill="none"/>
<path d="M416.0 37.3h3.2m-1.6 0v8.5m-1.6 0h3.2M421.3 36.5h3.2m-1.6 0v18.3m-1.6 0h3.2M423.1 41.5h3.2m-1.6 0v12.2m-1.6 0h3.2M437.3 35.4h3.2m-1.6 0v22.8m-1.6 0h3.2M440.9 30.1h3.2m-1.6 0v21.5m-1.6 0h3.2M442.7 36.9h3.2m-1.6 0v7.0m-1.6 0h3.2M448.0 31.4h3.2m-1.6 0v27.3m-1.6 0h3.2M451.6 31.1h3.2m-1.6 0v22.5m-1.6 0h3.2M455.1 29.0h3.2m-1.6 0v25.6m-1.6 0h3.2M458.7 34.0h3.2m-1.6 0v14.6m-1.6 0h3.2M464.0 36.2h3.2m-1.6 0v8.1m-1.6 0h3.2M471.1 30.3h3.2m-1.6 0v24.5m-1.6 0h3.2M472.9 37.9h3.2m-1.6 0v9.5m-1.6 0h3.2M474.7 31.7h3.2m-1.6 0v18.2m-1.6 0h3.2M478.2 26.5h3.2m-1.6 0v17.6m-1.6 0h3.2M480.0 32.8h3.2m-1.6 0v7.6m-1.6 0h3.2M485.4 30.3h3.2m-1.6 0v20.3m-1.6 0h3.2M499.6 30.3h3.2m-1.6 0v23.7m-1.6 0h3.2M501.4 32.6h3.2m-1.6 0v25.8m-1.6 0h3.2M508.5 34.1h3.2m-1.6 0v17.6m-1.6 0h3.2M512.0 39.0h3.2m-1.6 0v17.9m-1.6 0h3.2M517.4 32.1h3.2m-1.6 0v19.3m-1.6 0h3.2M520.9 26.4h3.2m-1.6 0v20.9m-1.6 0h3.2M524.5 22.1h3.2m-1.6 0v17.7m-1.6 0h3.2M529.8 26.3h3.2m-1.6 0v12.7m-1.6 0h3.2M531.6 24.3h3.2m-1.6 0v20.3m-1.6 0h3.2M533.4 18.9h3.2m-1.6 0v27.0m-1.6 0h3.2M540.5 26.4h3.2m-1.6 0v14.8m-1.6 0h3.2M544.1 21.5h3.2m-1.6 0v27.0m-1.6 0h3.2M549.4 29.4h3.2m-1.6 0v11.9m-1.6 0h3.2M551.2 25.1h3.2m-1.6 0v20.2m-1.6 0h3.2M553.0 23.4h3.2m-1.6 0v16.8m-1.6 0h3.2M554.7 25.8h3.2m-1.6 0v18.5m-1.6 0h3.2M563.6 29.8h3.2m-1.6 0v20.3m-1.6 0h3.2M570.7 25.6h3.2m-1.6 0v24.3m-1.6 0h3.2M572.5 29.0h3.2m-1.6 0v20.2m-1.6 0h3.2M574.3 26.8h3.2m-1.6 0v23.8m-1.6 0h3.2M581.4 36.4h3.2m-1.6 0v11.6m-1.6 0h3.2M586.8 36.9h3.2m-1.6 0v12.4m-1.6 0h3.2M590.3 33.1h3.2m-1.6 0v12.9m-1.6 0h3.2M593.9 33.9h3.2m-1.6 0v26.3m-1.6 0h3.2M597.4 39.4h3.2m-1.6 0v11.5m-1.6 0h3.2M599.2 34.2h3.2m-1.6 0v16.0m-1.6 0h3.2M601.0 25.7h3.2m-1.6 0v20.7m-1.6 0h3.2M604.5 37.3h3.2m-1.6 0v7.4m-1.6 0h3.2M606.3 35.6h3.2m-1.6 0v13.2m-1.6 0h3.2M608.1 30.0h3.2m-1.6 0v15.7m-1.6 0h3.2M609.9 30.3h3.2m-1.6 0v21.8m-1.6 0h3.2M618.8 30.2h3.2m-1.6 0v19.4m-1.6 0h3.2M624.1 34.8h3.2m-1.6 0v10.3m-1.6 0h3.2M631.2 32.3h3.2m-1.6 0v19.6m-1.6 0h3.2M633.0 30.6h3.2m-1.6 0v22.0m-1.6 0h3.2M636.6 37.3h3.2m-1.6 0v6.9m-1.6 0h3.2M643.7 39.0h3.2m-1.6 0v13.6m-1.6 0h3.2M649.0 41.6h3.2m-1.6 0v11.4m-1.6 0h3.2M656.1 34.2h3.2m-1.6 0v21.7m-1.6 0h3.2" stroke="#E2A22E" stroke-width="0.8" stroke-opacity="0.75" fill="none"/>
<path d="M421.3 48.3h3.2m-1.6 0v5.9m-1.6 0h3.2M424.9 44.5h3.2m-1.6 0v9.1m-1.6 0h3.2M430.2 47.3h3.2m-1.6 0v4.7m-1.6 0h3.2M439.1 46.5h3.2m-1.6 0v8.0m-1.6 0h3.2M478.2 45.4h3.2m-1.6 0v6.0m-1.6 0h3.2M481.8 45.9h3.2m-1.6 0v8.4m-1.6 0h3.2M494.2 48.3h3.2m-1.6 0v8.1m-1.6 0h3.2M499.6 46.1h3.2m-1.6 0v5.7m-1.6 0h3.2M515.6 49.5h3.2m-1.6 0v7.6m-1.6 0h3.2M536.9 49.0h3.2m-1.6 0v2.3m-1.6 0h3.2M567.2 46.5h3.2m-1.6 0v9.1m-1.6 0h3.2M574.3 49.4h3.2m-1.6 0v7.5m-1.6 0h3.2M581.4 46.2h3.2m-1.6 0v4.0m-1.6 0h3.2M590.3 51.7h3.2m-1.6 0v2.3m-1.6 0h3.2M595.7 48.6h3.2m-1.6 0v6.0m-1.6 0h3.2M599.2 46.6h3.2m-1.6 0v7.4m-1.6 0h3.2M608.1 50.4h3.2m-1.6 0v8.1m-1.6 0h3.2M618.8 49.0h3.2m-1.6 0v8.9m-1.6 0h3.2M629.5 52.7h3.2m-1.6 0v6.6m-1.6 0h3.2M636.6 48.8h3.2m-1.6 0v8.1m-1.6 0h3.2M640.1 49.0h3.2m-1.6 0v2.5m-1.6 0h3.2M641.9 51.3h3.2m-1.6 0v4.1m-1.6 0h3.2M647.2 54.5h3.2m-1.6 0v4.3m-1.6 0h3.2M656.1 53.4h3.2m-1.6 0v2.6m-1.6 0h3.2M661.5 52.3h3.2m-1.6 0v2.6m-1.6 0h3.2M665.0 51.3h3.2m-1.6 0v8.6m-1.6 0h3.2" stroke="#EC7627" stroke-width="0.8" stroke-opacity="0.75" fill="none"/>
<path d="M407.1 47.0h3.2m-1.6 0v5.1m-1.6 0h3.2M408.9 45.8h3.2m-1.6 0v2.9m-1.6 0h3.2M442.7 46.4h3.2m-1.6 0v4.7m-1.6 0h3.2M446.2 42.1h3.2m-1.6 0v5.6m-1.6 0h3.2M448.0 43.5h3.2m-1.6 0v6.2m-1.6 0h3.2M451.6 46.4h3.2m-1.6 0v5.6m-1.6 0h3.2M453.3 47.8h3.2m-1.6 0v6.7m-1.6 0h3.2M456.9 44.7h3.2m-1.6 0v3.9m-1.6 0h3.2M471.1 47.7h3.2m-1.6 0v5.4m-1.6 0h3.2M474.7 42.8h3.2m-1.6 0v5.0m-1.6 0h3.2M476.5 41.1h3.2m-1.6 0v8.1m-1.6 0h3.2M481.8 44.4h3.2m-1.6 0v7.0m-1.6 0h3.2M490.7 48.9h3.2m-1.6 0v4.0m-1.6 0h3.2M494.2 46.0h3.2m-1.6 0v8.7m-1.6 0h3.2M501.4 46.2h3.2m-1.6 0v6.1m-1.6 0h3.2M504.9 47.2h3.2m-1.6 0v3.0m-1.6 0h3.2M529.8 46.9h3.2m-1.6 0v5.7m-1.6 0h3.2M535.2 45.4h3.2m-1.6 0v7.8m-1.6 0h3.2M538.7 44.9h3.2m-1.6 0v8.1m-1.6 0h3.2M549.4 48.0h3.2m-1.6 0v4.6m-1.6 0h3.2M551.2 51.6h3.2m-1.6 0v6.6m-1.6 0h3.2M553.0 49.5h3.2m-1.6 0v2.5m-1.6 0h3.2M554.7 49.4h3.2m-1.6 0v3.5m-1.6 0h3.2M561.9 48.8h3.2m-1.6 0v5.9m-1.6 0h3.2M563.6 48.1h3.2m-1.6 0v2.9m-1.6 0h3.2M565.4 49.2h3.2m-1.6 0v3.3m-1.6 0h3.2M569.0 50.2h3.2m-1.6 0v5.5m-1.6 0h3.2M570.7 51.4h3.2m-1.6 0v7.3m-1.6 0h3.2M576.1 48.4h3.2m-1.6 0v8.9m-1.6 0h3.2M577.9 46.1h3.2m-1.6 0v6.7m-1.6 0h3.2M585.0 46.1h3.2m-1.6 0v7.2m-1.6 0h3.2M599.2 49.8h3.2m-1.6 0v2.5m-1.6 0h3.2M601.0 48.9h3.2m-1.6 0v3.2m-1.6 0h3.2M613.4 47.7h3.2m-1.6 0v4.8m-1.6 0h3.2M615.2 49.2h3.2m-1.6 0v8.8m-1.6 0h3.2M620.6 47.4h3.2m-1.6 0v2.6m-1.6 0h3.2M624.1 50.8h3.2m-1.6 0v7.7m-1.6 0h3.2M627.7 48.6h3.2m-1.6 0v8.0m-1.6 0h3.2M645.5 48.2h3.2m-1.6 0v7.0m-1.6 0h3.2M649.0 50.7h3.2m-1.6 0v2.9m-1.6 0h3.2M650.8 47.9h3.2m-1.6 0v6.0m-1.6 0h3.2M652.6 46.9h3.2m-1.6 0v8.1m-1.6 0h3.2M661.5 50.8h3.2m-1.6 0v5.2m-1.6 0h3.2" stroke="#63BBCD" stroke-width="0.8" stroke-opacity="0.75" fill="none"/>
<path d="M572.3 50.3v4.3" stroke="#9a9a9a" stroke-width="0.7" fill="none"/>
<polyline points="408.7,53.6 410.5,52.3 412.2,52.1 414.0,52.1 415.8,50.2 417.6,53.5 419.4,52.3 421.1,51.6 422.9,50.4 424.7,51.6 426.5,53.1 428.2,55.7 430.0,54.7 431.8,50.5 433.6,53.8 435.4,50.0 437.1,51.8 438.9,51.9 440.7,53.1 442.5,54.7 444.3,52.6 446.0,53.8 447.8,54.0 449.6,54.6 451.4,53.2 453.2,52.2 454.9,52.4 456.7,51.8 458.5,49.7 460.3,51.9 462.0,53.4 463.8,55.1 465.6,56.7 467.4,53.4 469.2,55.7 470.9,52.9 472.7,52.8 474.5,55.6 476.3,50.1 478.1,50.9 479.8,49.7 481.6,51.7 483.4,54.2 485.2,54.9 487.0,53.2 488.7,52.6 490.5,55.4 492.3,52.8 494.1,55.3 495.8,56.8 497.6,51.6 499.4,51.2 501.2,51.7 503.0,52.9 504.7,50.1 506.5,56.8 508.3,54.0 510.1,53.8 511.9,53.2 513.6,54.1 515.4,53.7 517.2,49.9 519.0,54.3 520.8,53.1 522.5,51.5 524.3,52.3 526.1,49.2 527.9,52.7 529.7,51.2 531.4,54.4 533.2,54.0 535.0,56.3 536.8,56.2 538.5,55.0 540.3,52.8 542.1,52.4 543.9,56.0 545.7,54.9 547.4,55.3 549.2,54.6 551.0,53.8 552.8,53.6 554.6,51.6 556.3,54.4 558.1,54.0 559.9,56.3 561.7,56.0 563.5,55.4 565.2,52.3 567.0,53.0 568.8,51.7 570.6,57.1 572.3,54.3 574.1,57.5 575.9,56.4 577.7,53.0 579.5,54.8 581.2,55.5 583.0,54.4 584.8,53.8 586.6,53.6 588.4,52.7 590.1,54.3 591.9,53.6 593.7,53.8 595.5,54.6 597.3,54.8 599.0,51.3 600.8,55.5 602.6,58.5 604.4,55.2 606.1,57.0 607.9,57.3 609.7,56.9 611.5,54.3 613.3,56.8 615.0,57.1 616.8,56.1 618.6,56.6 620.4,53.7 622.2,54.8 623.9,53.9 625.7,57.2 627.5,55.3 629.3,54.6 631.1,59.8 632.8,58.6 634.6,57.4 636.4,55.3 638.2,54.4 639.9,56.6 641.7,52.2 643.5,56.7 645.3,59.6 647.1,54.7 648.8,54.3 650.6,57.2 652.4,58.5 654.2,56.1 656.0,53.9 657.7,58.4 659.5,53.4 661.3,57.3 663.1,56.2 664.9,58.0 666.6,59.2 668.4,53.8" fill="none" stroke="#F5241E" stroke-width="1.7" stroke-linejoin="round"/>
<polyline points="408.7,43.3 410.5,40.7 412.2,47.7 414.0,44.0 415.8,45.9 417.6,53.9 419.4,48.6 421.1,47.0 422.9,47.1 424.7,43.6 426.5,42.5 428.2,42.6 430.0,47.8 431.8,42.3 433.6,42.5 435.4,46.6 437.1,42.6 438.9,40.1 440.7,39.3 442.5,46.6 444.3,41.3 446.0,41.6 447.8,43.2 449.6,47.9 451.4,46.5 453.2,46.0 454.9,39.2 456.7,41.9 458.5,42.4 460.3,42.4 462.0,43.2 463.8,43.7 465.6,46.6 467.4,42.3 469.2,42.6 470.9,38.7 472.7,43.9 474.5,37.8 476.3,37.0 478.1,39.6 479.8,37.3 481.6,37.8 483.4,44.9 485.2,42.2 487.0,43.1 488.7,50.9 490.5,45.6 492.3,44.3 494.1,47.0 495.8,46.6 497.6,44.9 499.4,50.7 501.2,47.0 503.0,43.4 504.7,49.5 506.5,50.0 508.3,49.2 510.1,47.7 511.9,50.6 513.6,46.6 515.4,45.2 517.2,53.8 519.0,44.6 520.8,44.9 522.5,43.1 524.3,35.0 526.1,31.0 527.9,35.6 529.7,40.1 531.4,37.6 533.2,38.9 535.0,35.9 536.8,42.9 538.5,39.9 540.3,37.2 542.1,39.2 543.9,35.2 545.7,36.4 547.4,38.8 549.2,43.3 551.0,39.7 552.8,40.6 554.6,40.4 556.3,44.6 558.1,36.9 559.9,43.6 561.7,35.1 563.5,41.1 565.2,33.4 567.0,38.5 568.8,45.5 570.6,45.8 572.3,41.6 574.1,41.0 575.9,41.2 577.7,37.3 579.5,40.5 581.2,45.8 583.0,46.6 584.8,47.1 586.6,49.1 588.4,47.2 590.1,42.8 591.9,44.7 593.7,44.0 595.5,49.7 597.3,45.6 599.0,51.1 600.8,50.8 602.6,53.9 604.4,49.4 606.1,51.0 607.9,49.8 609.7,50.3 611.5,52.8 613.3,49.2 615.0,50.9 616.8,48.9 618.6,47.9 620.4,47.1 622.2,52.9 623.9,48.3 625.7,46.3 627.5,48.6 629.3,53.4 631.1,48.0 632.8,46.1 634.6,50.4 636.4,48.5 638.2,46.6 639.9,53.3 641.7,52.2 643.5,47.9 645.3,46.9 647.1,51.8 648.8,46.9 650.6,41.2 652.4,46.8 654.2,45.2 656.0,45.7 657.7,44.8 659.5,45.8 661.3,46.7 663.1,51.7 664.9,48.7 666.6,44.9 668.4,47.0" fill="none" stroke="#42A07B" stroke-width="1.7" stroke-linejoin="round"/>
<polyline points="408.7,44.3 410.5,39.5 412.2,48.8 414.0,47.1 415.8,40.7 417.6,41.5 419.4,43.0 421.1,44.1 422.9,45.7 424.7,47.6 426.5,43.3 428.2,51.5 430.0,42.4 431.8,38.4 433.6,42.2 435.4,50.7 437.1,40.1 438.9,46.8 440.7,47.2 442.5,40.9 444.3,40.4 446.0,39.9 447.8,41.5 449.6,45.1 451.4,46.3 453.2,42.4 454.9,42.4 456.7,41.8 458.5,39.8 460.3,41.3 462.0,37.7 463.8,41.0 465.6,40.2 467.4,45.5 469.2,43.8 470.9,42.6 472.7,42.6 474.5,42.6 476.3,40.8 478.1,37.3 479.8,35.3 481.6,36.6 483.4,42.0 485.2,42.0 487.0,40.4 488.7,41.9 490.5,47.0 492.3,44.5 494.1,42.8 495.8,37.8 497.6,42.2 499.4,40.6 501.2,42.2 503.0,45.5 504.7,40.6 506.5,42.8 508.3,46.7 510.1,42.9 511.9,43.8 513.6,47.9 515.4,45.4 517.2,49.8 519.0,41.7 520.8,39.4 522.5,36.8 524.3,31.4 526.1,31.0 527.9,29.4 529.7,32.5 531.4,32.6 533.2,34.4 535.0,32.4 536.8,37.1 538.5,36.9 540.3,34.2 542.1,33.8 543.9,32.2 545.7,35.0 547.4,32.5 549.2,34.4 551.0,35.3 552.8,35.2 554.6,31.8 556.3,35.1 558.1,35.2 559.9,35.5 561.7,39.6 563.5,35.5 565.2,40.0 567.0,34.3 568.8,41.1 570.6,33.7 572.3,37.8 574.1,39.1 575.9,38.7 577.7,35.8 579.5,40.6 581.2,40.5 583.0,42.2 584.8,38.8 586.6,48.1 588.4,43.1 590.1,40.9 591.9,39.5 593.7,45.9 595.5,47.0 597.3,46.6 599.0,45.2 600.8,42.2 602.6,36.1 604.4,41.0 606.1,41.0 607.9,42.2 609.7,37.9 611.5,41.2 613.3,39.5 615.0,45.5 616.8,41.1 618.6,36.0 620.4,39.9 622.2,43.3 623.9,42.3 625.7,39.9 627.5,43.7 629.3,40.5 631.1,47.5 632.8,42.0 634.6,41.6 636.4,37.6 638.2,40.7 639.9,40.2 641.7,41.5 643.5,41.7 645.3,45.8 647.1,46.2 648.8,41.9 650.6,47.3 652.4,48.7 654.2,43.9 656.0,39.8 657.7,45.0 659.5,46.8 661.3,42.5 663.1,47.2 664.9,42.3 666.6,47.7 668.4,50.4" fill="none" stroke="#E2A22E" stroke-width="1.7" stroke-linejoin="round"/>
<polyline points="408.7,48.5 410.5,51.8 412.2,50.8 414.0,49.0 415.8,47.6 417.6,49.2 419.4,49.3 421.1,50.5 422.9,51.3 424.7,52.7 426.5,49.1 428.2,48.6 430.0,49.3 431.8,49.7 433.6,48.3 435.4,49.3 437.1,48.6 438.9,50.4 440.7,50.5 442.5,51.3 444.3,49.2 446.0,53.4 447.8,52.8 449.6,54.8 451.4,47.9 453.2,49.5 454.9,51.7 456.7,51.5 458.5,50.9 460.3,49.2 462.0,51.3 463.8,50.2 465.6,47.9 467.4,49.6 469.2,48.1 470.9,50.4 472.7,46.9 474.5,48.7 476.3,46.3 478.1,44.8 479.8,48.4 481.6,49.6 483.4,50.1 485.2,53.3 487.0,48.8 488.7,52.5 490.5,51.6 492.3,51.0 494.1,50.0 495.8,52.3 497.6,52.2 499.4,53.1 501.2,49.0 503.0,48.1 504.7,52.7 506.5,50.2 508.3,53.2 510.1,50.4 511.9,51.9 513.6,52.7 515.4,50.1 517.2,53.3 519.0,50.2 520.8,49.8 522.5,53.1 524.3,53.0 526.1,47.2 527.9,50.9 529.7,49.9 531.4,54.0 533.2,55.5 535.0,52.8 536.8,50.1 538.5,50.2 540.3,50.9 542.1,52.1 543.9,51.5 545.7,51.6 547.4,50.0 549.2,52.6 551.0,54.1 552.8,52.7 554.6,50.7 556.3,52.3 558.1,53.4 559.9,51.2 561.7,55.1 563.5,51.3 565.2,50.5 567.0,49.5 568.8,51.0 570.6,51.8 572.3,51.0 574.1,49.8 575.9,53.2 577.7,50.1 579.5,53.3 581.2,50.7 583.0,48.2 584.8,50.6 586.6,52.6 588.4,51.7 590.1,50.3 591.9,52.8 593.7,49.6 595.5,52.4 597.3,51.6 599.0,52.3 600.8,50.3 602.6,53.2 604.4,53.7 606.1,54.7 607.9,54.2 609.7,54.4 611.5,49.1 613.3,49.9 615.0,51.9 616.8,51.4 618.6,52.6 620.4,53.4 622.2,50.1 623.9,52.3 625.7,53.2 627.5,54.4 629.3,51.5 631.1,56.0 632.8,53.3 634.6,54.4 636.4,51.6 638.2,52.9 639.9,53.4 641.7,50.3 643.5,53.4 645.3,54.4 647.1,50.0 648.8,56.7 650.6,55.7 652.4,54.3 654.2,55.1 656.0,54.2 657.7,54.7 659.5,54.9 661.3,55.1 663.1,53.6 664.9,53.1 666.6,55.6 668.4,51.3" fill="none" stroke="#EC7627" stroke-width="1.7" stroke-linejoin="round"/>
<polyline points="408.7,49.5 410.5,47.2 412.2,51.2 414.0,46.9 415.8,47.6 417.6,48.1 419.4,49.2 421.1,47.8 422.9,49.2 424.7,48.9 426.5,51.4 428.2,46.9 430.0,48.9 431.8,48.5 433.6,46.0 435.4,49.3 437.1,51.6 438.9,50.5 440.7,49.4 442.5,50.7 444.3,48.7 446.0,48.5 447.8,44.9 449.6,46.6 451.4,48.5 453.2,49.2 454.9,51.1 456.7,50.8 458.5,46.6 460.3,49.8 462.0,50.0 463.8,48.5 465.6,52.8 467.4,48.0 469.2,47.8 470.9,47.4 472.7,50.4 474.5,44.7 476.3,45.3 478.1,45.2 479.8,46.5 481.6,50.8 483.4,47.9 485.2,49.5 487.0,51.5 488.7,50.6 490.5,51.4 492.3,50.9 494.1,52.9 495.8,50.3 497.6,49.2 499.4,50.0 501.2,50.4 503.0,49.2 504.7,52.2 506.5,48.7 508.3,50.4 510.1,53.4 511.9,48.4 513.6,52.6 515.4,52.6 517.2,47.7 519.0,50.1 520.8,49.6 522.5,48.4 524.3,49.4 526.1,44.5 527.9,53.4 529.7,48.7 531.4,49.8 533.2,48.7 535.0,51.5 536.8,49.3 538.5,49.3 540.3,49.0 542.1,48.6 543.9,51.0 545.7,53.0 547.4,52.0 549.2,52.0 551.0,50.3 552.8,54.9 554.6,50.8 556.3,51.1 558.1,52.7 559.9,47.6 561.7,50.6 563.5,51.7 565.2,49.5 567.0,50.9 568.8,50.7 570.6,52.9 572.3,55.1 574.1,49.6 575.9,52.0 577.7,52.8 579.5,49.5 581.2,52.8 583.0,50.8 584.8,51.5 586.6,49.7 588.4,51.4 590.1,50.3 591.9,50.9 593.7,51.5 595.5,51.6 597.3,51.1 599.0,52.7 600.8,51.0 602.6,50.5 604.4,52.9 606.1,50.4 607.9,49.4 609.7,50.7 611.5,48.9 613.3,49.7 615.0,50.1 616.8,53.6 618.6,51.6 620.4,53.8 622.2,48.7 623.9,51.4 625.7,54.6 627.5,51.7 629.3,52.6 631.1,55.6 632.8,52.1 634.6,51.7 636.4,54.2 638.2,51.1 639.9,49.6 641.7,56.2 643.5,50.8 645.3,53.0 647.1,51.7 648.8,50.4 650.6,52.2 652.4,50.9 654.2,50.9 656.0,50.9 657.7,52.4 659.5,52.7 661.3,54.4 663.1,53.4 664.9,51.5 666.6,51.9 668.4,51.9" fill="none" stroke="#63BBCD" stroke-width="1.7" stroke-linejoin="round"/>
<polyline points="408.7,50.0 410.5,51.3 412.2,51.5 414.0,54.6 415.8,52.5 417.6,54.6 419.4,57.6 421.1,55.5 422.9,55.0 424.7,55.9 426.5,54.6 428.2,55.1 430.0,56.4 431.8,53.0 433.6,52.2 435.4,52.4 437.1,50.9 438.9,54.3 440.7,54.1 442.5,53.5 444.3,50.6 446.0,56.6 447.8,56.2 449.6,54.7 451.4,55.0 453.2,53.8 454.9,55.0 456.7,55.6 458.5,56.9 460.3,53.1 462.0,55.7 463.8,56.3 465.6,54.2 467.4,54.7 469.2,54.6 470.9,54.8 472.7,51.4 474.5,48.7 476.3,47.4 478.1,45.2 479.8,47.5 481.6,48.8 483.4,52.9 485.2,56.8 487.0,53.0 488.7,54.3 490.5,52.5 492.3,55.2 494.1,56.2 495.8,58.8 497.6,54.8 499.4,56.0 501.2,57.1 503.0,54.6 504.7,56.1 506.5,56.4 508.3,56.9 510.1,55.9 511.9,55.7 513.6,54.2 515.4,56.7 517.2,55.9 519.0,50.6 520.8,53.9 522.5,52.5 524.3,51.5 526.1,49.0 527.9,47.4 529.7,52.1 531.4,51.4 533.2,53.7 535.0,53.0 536.8,56.3 538.5,55.5 540.3,54.7 542.1,52.7 543.9,51.0 545.7,53.0 547.4,54.7 549.2,53.6 551.0,52.8 552.8,56.2 554.6,54.1 556.3,52.8 558.1,57.0 559.9,55.1 561.7,52.3 563.5,49.8 565.2,48.2 567.0,51.0 568.8,51.2 570.6,50.3 572.3,52.4 574.1,56.1 575.9,52.9 577.7,55.0 579.5,53.8 581.2,54.4 583.0,55.0 584.8,55.2 586.6,58.7 588.4,55.4 590.1,52.3 591.9,51.5 593.7,51.8 595.5,56.0 597.3,55.0 599.0,55.7 600.8,57.6 602.6,52.2 604.4,54.2 606.1,54.9 607.9,55.1 609.7,54.4 611.5,56.9 613.3,58.7 615.0,56.1 616.8,57.3 618.6,57.1 620.4,60.8 622.2,56.6 623.9,59.7 625.7,58.1 627.5,57.8 629.3,57.6 631.1,58.6 632.8,57.9 634.6,55.2 636.4,56.3 638.2,57.8 639.9,60.0 641.7,57.8 643.5,57.5 645.3,56.5 647.1,56.0 648.8,55.1 650.6,57.3 652.4,60.2 654.2,58.0 656.0,57.5 657.7,57.8 659.5,56.7 661.3,55.7 663.1,56.5 664.9,52.4 666.6,52.5 668.4,53.0" fill="none" stroke="#131313" stroke-width="2.2" stroke-linejoin="round"/>
</g>
<rect x="395.2" y="16.8" width="288.3" height="51.5" fill="none" stroke="#9C9C9C" stroke-width="1.0"/>
<line y1="68.3" y2="69.6" x1="406.90" x2="406.90" stroke="#888" stroke-width="0.8"/>
<line y1="68.3" y2="69.6" x1="495.85" x2="495.85" stroke="#888" stroke-width="0.8"/>
<line y1="68.3" y2="69.6" x1="584.80" x2="584.80" stroke="#888" stroke-width="0.8"/>
<line y1="68.3" y2="69.6" x1="673.75" x2="673.75" stroke="#888" stroke-width="0.8"/>
<line x1="393.0" x2="395.2" y1="62.44" y2="62.44" stroke="#9C9C9C" stroke-width="0.8"/>
<text x="391.9" y="65.5" font-size="8.7" text-anchor="end" fill="#3a3a3a" >0.60</text>
<line x1="393.0" x2="395.2" y1="48.17" y2="48.17" stroke="#9C9C9C" stroke-width="0.8"/>
<text x="391.9" y="51.3" font-size="8.7" text-anchor="end" fill="#3a3a3a" >0.80</text>
<line x1="393.0" x2="395.2" y1="33.90" y2="33.90" stroke="#9C9C9C" stroke-width="0.8"/>
<text x="391.9" y="37.0" font-size="8.7" text-anchor="end" fill="#3a3a3a" >1.00</text>
<line x1="393.0" x2="395.2" y1="19.63" y2="19.63" stroke="#9C9C9C" stroke-width="0.8"/>
<text x="391.9" y="22.7" font-size="8.7" text-anchor="end" fill="#3a3a3a" >1.20</text>
<text transform="translate(368.6,42.5) rotate(-90)" font-size="11" text-anchor="middle" fill="#1a1a1a">T<tspan font-size="8" dy="1.3">1</tspan><tspan dy="-1.3"> (s)</tspan></text>
<rect x="395.2" y="71.2" width="288.3" height="50.1" fill="#fff"/>
<line x1="395.2" x2="683.5" y1="113.71" y2="113.71" stroke="#EFEFEF" stroke-width="0.5"/>
<line x1="395.2" x2="683.5" y1="102.34" y2="102.34" stroke="#EFEFEF" stroke-width="0.5"/>
<line x1="395.2" x2="683.5" y1="90.96" y2="90.96" stroke="#EFEFEF" stroke-width="0.5"/>
<line x1="395.2" x2="683.5" y1="79.59" y2="79.59" stroke="#EFEFEF" stroke-width="0.5"/>
<line y1="71.2" y2="121.3" x1="451.38" x2="451.38" stroke="#EFEFEF" stroke-width="0.5"/>
<line y1="71.2" y2="121.3" x1="540.32" x2="540.32" stroke="#EFEFEF" stroke-width="0.5"/>
<line y1="71.2" y2="121.3" x1="629.27" x2="629.27" stroke="#EFEFEF" stroke-width="0.5"/>
<line x1="395.2" x2="683.5" y1="119.40" y2="119.40" stroke="#DEDEDE" stroke-width="0.7"/>
<line x1="395.2" x2="683.5" y1="108.03" y2="108.03" stroke="#DEDEDE" stroke-width="0.7"/>
<line x1="395.2" x2="683.5" y1="96.65" y2="96.65" stroke="#DEDEDE" stroke-width="0.7"/>
<line x1="395.2" x2="683.5" y1="85.28" y2="85.28" stroke="#DEDEDE" stroke-width="0.7"/>
<line x1="395.2" x2="683.5" y1="73.90" y2="73.90" stroke="#DEDEDE" stroke-width="0.7"/>
<line y1="71.2" y2="121.3" x1="406.90" x2="406.90" stroke="#DEDEDE" stroke-width="0.7"/>
<line y1="71.2" y2="121.3" x1="495.85" x2="495.85" stroke="#DEDEDE" stroke-width="0.7"/>
<line y1="71.2" y2="121.3" x1="584.80" x2="584.80" stroke="#DEDEDE" stroke-width="0.7"/>
<line y1="71.2" y2="121.3" x1="673.75" x2="673.75" stroke="#DEDEDE" stroke-width="0.7"/>
<clipPath id="cb2"><rect x="395.2" y="71.2" width="288.3" height="50.1"/></clipPath>
<g clip-path="url(#cb2)">
<path d="M417.8 93.3h3.2m-1.6 0v11.2m-1.6 0h3.2M421.3 100.7h3.2m-1.6 0v13.5m-1.6 0h3.2M444.4 92.4h3.2m-1.6 0v9.3m-1.6 0h3.2M446.2 98.1h3.2m-1.6 0v5.5m-1.6 0h3.2M448.0 101.8h3.2m-1.6 0v4.2m-1.6 0h3.2M460.4 96.2h3.2m-1.6 0v7.2m-1.6 0h3.2M462.2 100.3h3.2m-1.6 0v5.4m-1.6 0h3.2M465.8 97.7h3.2m-1.6 0v10.1m-1.6 0h3.2M483.6 97.7h3.2m-1.6 0v7.2m-1.6 0h3.2M488.9 95.7h3.2m-1.6 0v13.4m-1.6 0h3.2M506.7 95.5h3.2m-1.6 0v3.8m-1.6 0h3.2M510.3 96.5h3.2m-1.6 0v12.5m-1.6 0h3.2M513.8 100.7h3.2m-1.6 0v3.8m-1.6 0h3.2M519.2 98.6h3.2m-1.6 0v3.8m-1.6 0h3.2M520.9 98.7h3.2m-1.6 0v13.3m-1.6 0h3.2M524.5 98.9h3.2m-1.6 0v8.0m-1.6 0h3.2M529.8 103.0h3.2m-1.6 0v7.5m-1.6 0h3.2M533.4 98.4h3.2m-1.6 0v8.3m-1.6 0h3.2M538.7 98.0h3.2m-1.6 0v7.5m-1.6 0h3.2M542.3 98.1h3.2m-1.6 0v7.9m-1.6 0h3.2M547.6 91.3h3.2m-1.6 0v13.2m-1.6 0h3.2M549.4 91.4h3.2m-1.6 0v13.5m-1.6 0h3.2M551.2 98.8h3.2m-1.6 0v9.7m-1.6 0h3.2M561.9 101.4h3.2m-1.6 0v5.8m-1.6 0h3.2M577.9 99.2h3.2m-1.6 0v7.4m-1.6 0h3.2M586.8 97.2h3.2m-1.6 0v10.6m-1.6 0h3.2M592.1 96.2h3.2m-1.6 0v5.7m-1.6 0h3.2M593.9 94.0h3.2m-1.6 0v11.5m-1.6 0h3.2M601.0 94.6h3.2m-1.6 0v12.5m-1.6 0h3.2M602.8 99.6h3.2m-1.6 0v11.5m-1.6 0h3.2M608.1 95.6h3.2m-1.6 0v6.1m-1.6 0h3.2M620.6 98.6h3.2m-1.6 0v8.0m-1.6 0h3.2M624.1 97.7h3.2m-1.6 0v13.2m-1.6 0h3.2M625.9 100.6h3.2m-1.6 0v10.0m-1.6 0h3.2M627.7 99.2h3.2m-1.6 0v7.8m-1.6 0h3.2M631.2 100.2h3.2m-1.6 0v5.5m-1.6 0h3.2M636.6 95.5h3.2m-1.6 0v14.3m-1.6 0h3.2M638.3 95.7h3.2m-1.6 0v6.1m-1.6 0h3.2M640.1 96.3h3.2m-1.6 0v7.6m-1.6 0h3.2M645.5 97.1h3.2m-1.6 0v9.9m-1.6 0h3.2M649.0 99.5h3.2m-1.6 0v7.5m-1.6 0h3.2M657.9 100.8h3.2m-1.6 0v7.5m-1.6 0h3.2M666.8 87.9h3.2m-1.6 0v10.7m-1.6 0h3.2" stroke="#F5241E" stroke-width="0.8" stroke-opacity="0.75" fill="none"/>
<path d="M408.9 87.0h3.2m-1.6 0v8.2m-1.6 0h3.2M412.4 95.3h3.2m-1.6 0v9.4m-1.6 0h3.2M437.3 102.6h3.2m-1.6 0v9.6m-1.6 0h3.2M439.1 99.9h3.2m-1.6 0v13.6m-1.6 0h3.2M458.7 100.5h3.2m-1.6 0v12.7m-1.6 0h3.2M490.7 102.5h3.2m-1.6 0v13.3m-1.6 0h3.2M499.6 106.4h3.2m-1.6 0v8.0m-1.6 0h3.2M501.4 104.3h3.2m-1.6 0v10.3m-1.6 0h3.2M510.3 104.2h3.2m-1.6 0v3.8m-1.6 0h3.2M517.4 104.5h3.2m-1.6 0v4.8m-1.6 0h3.2M519.2 98.6h3.2m-1.6 0v13.4m-1.6 0h3.2M520.9 106.5h3.2m-1.6 0v7.2m-1.6 0h3.2M526.3 104.0h3.2m-1.6 0v10.7m-1.6 0h3.2M531.6 105.4h3.2m-1.6 0v6.9m-1.6 0h3.2M533.4 103.6h3.2m-1.6 0v6.8m-1.6 0h3.2M535.2 106.8h3.2m-1.6 0v4.0m-1.6 0h3.2M538.7 102.5h3.2m-1.6 0v11.8m-1.6 0h3.2M544.1 100.1h3.2m-1.6 0v10.0m-1.6 0h3.2M561.9 101.7h3.2m-1.6 0v11.0m-1.6 0h3.2M567.2 102.3h3.2m-1.6 0v8.1m-1.6 0h3.2M570.7 103.4h3.2m-1.6 0v9.2m-1.6 0h3.2M577.9 102.7h3.2m-1.6 0v11.3m-1.6 0h3.2M579.6 104.9h3.2m-1.6 0v10.2m-1.6 0h3.2M585.0 104.5h3.2m-1.6 0v14.3m-1.6 0h3.2M590.3 102.5h3.2m-1.6 0v11.5m-1.6 0h3.2M606.3 99.2h3.2m-1.6 0v13.4m-1.6 0h3.2M611.7 103.7h3.2m-1.6 0v5.0m-1.6 0h3.2M615.2 107.1h3.2m-1.6 0v8.4m-1.6 0h3.2M617.0 104.3h3.2m-1.6 0v11.5m-1.6 0h3.2M622.3 104.7h3.2m-1.6 0v4.2m-1.6 0h3.2M625.9 102.3h3.2m-1.6 0v11.5m-1.6 0h3.2M638.3 98.9h3.2m-1.6 0v4.3m-1.6 0h3.2M652.6 101.7h3.2m-1.6 0v14.0m-1.6 0h3.2M661.5 104.6h3.2m-1.6 0v9.0m-1.6 0h3.2M668.6 84.7h3.2m-1.6 0v14.2m-1.6 0h3.2" stroke="#42A07B" stroke-width="0.8" stroke-opacity="0.75" fill="none"/>
<path d="M408.9 81.5h3.2m-1.6 0v8.4m-1.6 0h3.2M412.4 90.4h3.2m-1.6 0v14.4m-1.6 0h3.2M414.2 93.6h3.2m-1.6 0v10.1m-1.6 0h3.2M417.8 96.6h3.2m-1.6 0v15.8m-1.6 0h3.2M423.1 102.3h3.2m-1.6 0v4.9m-1.6 0h3.2M435.5 102.1h3.2m-1.6 0v10.0m-1.6 0h3.2M437.3 102.6h3.2m-1.6 0v9.9m-1.6 0h3.2M440.9 102.7h3.2m-1.6 0v7.1m-1.6 0h3.2M448.0 99.1h3.2m-1.6 0v10.4m-1.6 0h3.2M449.8 98.0h3.2m-1.6 0v15.6m-1.6 0h3.2M456.9 101.9h3.2m-1.6 0v10.7m-1.6 0h3.2M460.4 102.3h3.2m-1.6 0v11.9m-1.6 0h3.2M464.0 101.1h3.2m-1.6 0v13.1m-1.6 0h3.2M478.2 100.4h3.2m-1.6 0v9.5m-1.6 0h3.2M480.0 105.4h3.2m-1.6 0v4.7m-1.6 0h3.2M488.9 103.4h3.2m-1.6 0v6.3m-1.6 0h3.2M492.5 98.8h3.2m-1.6 0v16.4m-1.6 0h3.2M501.4 100.9h3.2m-1.6 0v10.5m-1.6 0h3.2M528.1 99.5h3.2m-1.6 0v12.3m-1.6 0h3.2M531.6 100.0h3.2m-1.6 0v15.1m-1.6 0h3.2M533.4 100.7h3.2m-1.6 0v14.3m-1.6 0h3.2M535.2 99.4h3.2m-1.6 0v12.7m-1.6 0h3.2M538.7 98.8h3.2m-1.6 0v16.0m-1.6 0h3.2M542.3 98.3h3.2m-1.6 0v8.7m-1.6 0h3.2M547.6 99.6h3.2m-1.6 0v5.5m-1.6 0h3.2M549.4 96.6h3.2m-1.6 0v13.2m-1.6 0h3.2M560.1 99.7h3.2m-1.6 0v12.9m-1.6 0h3.2M563.6 103.0h3.2m-1.6 0v13.6m-1.6 0h3.2M565.4 101.3h3.2m-1.6 0v17.8m-1.6 0h3.2M572.5 98.7h3.2m-1.6 0v14.5m-1.6 0h3.2M583.2 96.7h3.2m-1.6 0v17.7m-1.6 0h3.2M592.1 102.9h3.2m-1.6 0v7.2m-1.6 0h3.2M593.9 101.7h3.2m-1.6 0v11.2m-1.6 0h3.2M595.7 105.0h3.2m-1.6 0v7.8m-1.6 0h3.2M599.2 99.6h3.2m-1.6 0v12.9m-1.6 0h3.2M604.5 101.0h3.2m-1.6 0v11.1m-1.6 0h3.2M606.3 104.0h3.2m-1.6 0v4.8m-1.6 0h3.2M611.7 99.6h3.2m-1.6 0v17.3m-1.6 0h3.2M617.0 102.5h3.2m-1.6 0v10.2m-1.6 0h3.2M625.9 105.4h3.2m-1.6 0v5.3m-1.6 0h3.2M627.7 101.0h3.2m-1.6 0v13.4m-1.6 0h3.2M634.8 98.0h3.2m-1.6 0v12.8m-1.6 0h3.2M638.3 93.4h3.2m-1.6 0v15.1m-1.6 0h3.2M640.1 97.7h3.2m-1.6 0v15.5m-1.6 0h3.2M647.2 106.3h3.2m-1.6 0v6.5m-1.6 0h3.2M656.1 104.5h3.2m-1.6 0v6.8m-1.6 0h3.2M661.5 100.2h3.2m-1.6 0v16.5m-1.6 0h3.2M663.3 108.4h3.2m-1.6 0v7.7m-1.6 0h3.2M665.0 98.0h3.2m-1.6 0v12.2m-1.6 0h3.2M668.6 85.5h3.2m-1.6 0v17.2m-1.6 0h3.2" stroke="#E2A22E" stroke-width="0.8" stroke-opacity="0.75" fill="none"/>
<path d="M416.0 93.2h3.2m-1.6 0v8.1m-1.6 0h3.2M419.5 95.4h3.2m-1.6 0v16.8m-1.6 0h3.2M424.9 96.4h3.2m-1.6 0v10.3m-1.6 0h3.2M430.2 98.3h3.2m-1.6 0v4.8m-1.6 0h3.2M435.5 100.0h3.2m-1.6 0v8.1m-1.6 0h3.2M439.1 90.3h3.2m-1.6 0v15.3m-1.6 0h3.2M444.4 77.9h3.2m-1.6 0v12.3m-1.6 0h3.2M446.2 88.6h3.2m-1.6 0v6.0m-1.6 0h3.2M451.6 100.1h3.2m-1.6 0v7.9m-1.6 0h3.2M460.4 98.9h3.2m-1.6 0v10.9m-1.6 0h3.2M469.3 102.6h3.2m-1.6 0v6.2m-1.6 0h3.2M472.9 95.3h3.2m-1.6 0v12.0m-1.6 0h3.2M483.6 92.9h3.2m-1.6 0v16.5m-1.6 0h3.2M494.2 94.2h3.2m-1.6 0v11.1m-1.6 0h3.2M506.7 88.1h3.2m-1.6 0v10.4m-1.6 0h3.2M512.0 98.5h3.2m-1.6 0v4.9m-1.6 0h3.2M515.6 95.5h3.2m-1.6 0v16.2m-1.6 0h3.2M519.2 96.8h3.2m-1.6 0v11.7m-1.6 0h3.2M522.7 94.5h3.2m-1.6 0v17.6m-1.6 0h3.2M524.5 98.8h3.2m-1.6 0v6.6m-1.6 0h3.2M533.4 100.8h3.2m-1.6 0v5.2m-1.6 0h3.2M544.1 89.5h3.2m-1.6 0v14.0m-1.6 0h3.2M547.6 86.7h3.2m-1.6 0v17.0m-1.6 0h3.2M549.4 93.4h3.2m-1.6 0v8.7m-1.6 0h3.2M551.2 93.4h3.2m-1.6 0v14.1m-1.6 0h3.2M556.5 95.5h3.2m-1.6 0v12.7m-1.6 0h3.2M563.6 101.0h3.2m-1.6 0v5.2m-1.6 0h3.2M569.0 102.4h3.2m-1.6 0v7.6m-1.6 0h3.2M577.9 94.0h3.2m-1.6 0v16.9m-1.6 0h3.2M579.6 95.8h3.2m-1.6 0v12.8m-1.6 0h3.2M592.1 95.5h3.2m-1.6 0v15.1m-1.6 0h3.2M595.7 98.7h3.2m-1.6 0v9.9m-1.6 0h3.2M606.3 95.9h3.2m-1.6 0v8.3m-1.6 0h3.2M609.9 91.1h3.2m-1.6 0v16.8m-1.6 0h3.2M617.0 100.4h3.2m-1.6 0v6.2m-1.6 0h3.2M624.1 95.9h3.2m-1.6 0v17.3m-1.6 0h3.2M634.8 95.1h3.2m-1.6 0v6.0m-1.6 0h3.2M636.6 93.5h3.2m-1.6 0v8.1m-1.6 0h3.2M638.3 90.6h3.2m-1.6 0v12.3m-1.6 0h3.2M641.9 90.4h3.2m-1.6 0v16.5m-1.6 0h3.2M645.5 100.2h3.2m-1.6 0v4.7m-1.6 0h3.2M649.0 97.3h3.2m-1.6 0v12.2m-1.6 0h3.2M650.8 97.8h3.2m-1.6 0v11.0m-1.6 0h3.2M656.1 96.8h3.2m-1.6 0v16.0m-1.6 0h3.2" stroke="#EC7627" stroke-width="0.8" stroke-opacity="0.75" fill="none"/>
<path d="M410.6 90.7h3.2m-1.6 0v6.1m-1.6 0h3.2M419.5 103.6h3.2m-1.6 0v7.9m-1.6 0h3.2M423.1 98.2h3.2m-1.6 0v9.3m-1.6 0h3.2M451.6 102.4h3.2m-1.6 0v4.7m-1.6 0h3.2M455.1 101.7h3.2m-1.6 0v6.7m-1.6 0h3.2M456.9 104.3h3.2m-1.6 0v7.7m-1.6 0h3.2M476.5 101.2h3.2m-1.6 0v6.0m-1.6 0h3.2M478.2 103.2h3.2m-1.6 0v6.7m-1.6 0h3.2M480.0 100.3h3.2m-1.6 0v8.2m-1.6 0h3.2M483.6 99.0h3.2m-1.6 0v11.9m-1.6 0h3.2M494.2 101.0h3.2m-1.6 0v9.6m-1.6 0h3.2M496.0 99.7h3.2m-1.6 0v11.8m-1.6 0h3.2M499.6 105.0h3.2m-1.6 0v4.0m-1.6 0h3.2M503.1 98.8h3.2m-1.6 0v6.4m-1.6 0h3.2M506.7 97.0h3.2m-1.6 0v8.1m-1.6 0h3.2M517.4 102.2h3.2m-1.6 0v6.0m-1.6 0h3.2M519.2 104.4h3.2m-1.6 0v6.6m-1.6 0h3.2M524.5 99.8h3.2m-1.6 0v6.6m-1.6 0h3.2M531.6 106.2h3.2m-1.6 0v4.3m-1.6 0h3.2M533.4 101.3h3.2m-1.6 0v10.4m-1.6 0h3.2M535.2 101.6h3.2m-1.6 0v9.1m-1.6 0h3.2M538.7 103.0h3.2m-1.6 0v6.8m-1.6 0h3.2M581.4 102.4h3.2m-1.6 0v8.2m-1.6 0h3.2M586.8 104.0h3.2m-1.6 0v8.9m-1.6 0h3.2M590.3 99.3h3.2m-1.6 0v10.8m-1.6 0h3.2M593.9 102.4h3.2m-1.6 0v6.4m-1.6 0h3.2M595.7 103.7h3.2m-1.6 0v8.8m-1.6 0h3.2M604.5 104.0h3.2m-1.6 0v4.2m-1.6 0h3.2M613.4 104.8h3.2m-1.6 0v5.1m-1.6 0h3.2M620.6 103.6h3.2m-1.6 0v6.7m-1.6 0h3.2M631.2 102.0h3.2m-1.6 0v5.9m-1.6 0h3.2M636.6 98.7h3.2m-1.6 0v6.8m-1.6 0h3.2M641.9 96.2h3.2m-1.6 0v13.7m-1.6 0h3.2M645.5 102.3h3.2m-1.6 0v4.0m-1.6 0h3.2M657.9 103.4h3.2m-1.6 0v7.0m-1.6 0h3.2M663.3 105.5h3.2m-1.6 0v4.4m-1.6 0h3.2M668.6 81.8h3.2m-1.6 0v8.8m-1.6 0h3.2" stroke="#63BBCD" stroke-width="0.8" stroke-opacity="0.75" fill="none"/>
<polyline points="410.5,85.2 412.2,89.3 414.0,96.3 415.8,97.4 417.6,98.6 419.4,98.9 421.1,101.6 422.9,107.4 424.7,102.2 426.5,103.8 428.2,102.5 430.0,103.1 431.8,101.0 433.6,100.3 435.4,99.7 437.1,102.2 438.9,104.3 440.7,102.0 442.5,99.0 444.3,97.9 446.0,97.1 447.8,100.9 449.6,103.9 451.4,100.1 453.2,102.8 454.9,102.1 456.7,104.9 458.5,102.1 460.3,102.4 462.0,99.8 463.8,103.0 465.6,100.3 467.4,102.7 469.2,98.7 470.9,102.7 472.7,102.0 474.5,102.6 476.3,101.5 478.1,102.3 479.8,102.4 481.6,102.6 483.4,101.2 485.2,101.4 487.0,100.0 488.7,102.9 490.5,102.4 492.3,104.1 494.1,101.6 495.8,103.9 497.6,104.2 499.4,103.9 501.2,105.1 503.0,104.2 504.7,98.0 506.5,100.6 508.3,97.4 510.1,102.8 511.9,102.7 513.6,101.8 515.4,102.5 517.2,102.3 519.0,104.3 520.8,100.5 522.5,105.3 524.3,105.6 526.1,102.9 527.9,102.9 529.7,102.3 531.4,106.7 533.2,103.9 535.0,102.6 536.8,104.7 538.5,103.5 540.3,101.8 542.1,106.3 543.9,102.1 545.7,98.4 547.4,93.9 549.2,97.9 551.0,98.1 552.8,103.6 554.6,104.0 556.3,102.6 558.1,104.2 559.9,99.5 561.7,102.7 563.5,104.3 565.2,102.2 567.0,102.7 568.8,102.4 570.6,102.3 572.3,104.5 574.1,101.8 575.9,104.0 577.7,100.0 579.5,102.9 581.2,104.7 583.0,103.2 584.8,102.1 586.6,105.3 588.4,102.5 590.1,102.2 591.9,102.3 593.7,99.1 595.5,99.8 597.3,101.0 599.0,103.0 600.8,105.1 602.6,100.8 604.4,105.3 606.1,100.7 607.9,96.7 609.7,98.6 611.5,99.8 613.3,101.7 615.0,101.1 616.8,104.4 618.6,102.7 620.4,103.3 622.2,102.6 623.9,102.8 625.7,104.3 627.5,105.6 629.3,103.1 631.1,104.4 632.8,103.0 634.6,100.8 636.4,101.5 638.2,102.6 639.9,98.8 641.7,100.1 643.5,99.3 645.3,103.9 647.1,102.0 648.8,103.1 650.6,103.3 652.4,103.2 654.2,105.9 656.0,104.2 657.7,101.3 659.5,104.5 661.3,103.6 663.1,103.4 664.9,102.7 666.6,99.6 668.4,93.3 670.2,85.4" fill="none" stroke="#F5241E" stroke-width="1.7" stroke-linejoin="round"/>
<polyline points="410.5,91.1 412.2,95.4 414.0,100.1 415.8,102.3 417.6,104.6 419.4,107.2 421.1,107.3 422.9,110.1 424.7,111.0 426.5,109.6 428.2,109.2 430.0,111.2 431.8,108.5 433.6,107.5 435.4,108.5 437.1,108.4 438.9,107.4 440.7,106.7 442.5,104.8 444.3,103.7 446.0,98.8 447.8,102.8 449.6,107.0 451.4,107.0 453.2,108.2 454.9,106.9 456.7,107.2 458.5,108.7 460.3,106.9 462.0,105.4 463.8,108.3 465.6,106.8 467.4,108.5 469.2,107.5 470.9,108.6 472.7,104.6 474.5,109.3 476.3,108.7 478.1,110.0 479.8,109.6 481.6,104.3 483.4,106.1 485.2,108.9 487.0,109.8 488.7,107.4 490.5,107.9 492.3,109.2 494.1,106.8 495.8,110.7 497.6,107.9 499.4,107.5 501.2,110.4 503.0,109.4 504.7,107.1 506.5,106.9 508.3,101.9 510.1,104.5 511.9,106.1 513.6,110.2 515.4,108.3 517.2,107.3 519.0,106.9 520.8,105.3 522.5,110.0 524.3,109.7 526.1,109.8 527.9,109.4 529.7,111.1 531.4,109.1 533.2,108.8 535.0,107.0 536.8,108.8 538.5,105.6 540.3,108.4 542.1,106.6 543.9,104.4 545.7,105.1 547.4,103.9 549.2,102.5 551.0,105.4 552.8,110.0 554.6,109.3 556.3,109.8 558.1,109.7 559.9,110.8 561.7,108.8 563.5,107.2 565.2,109.3 567.0,110.8 568.8,106.3 570.6,108.5 572.3,107.9 574.1,108.1 575.9,109.3 577.7,107.9 579.5,108.4 581.2,110.0 583.0,108.8 584.8,108.5 586.6,111.7 588.4,108.5 590.1,106.7 591.9,108.3 593.7,109.2 595.5,105.8 597.3,109.3 599.0,109.5 600.8,110.3 602.6,107.3 604.4,108.9 606.1,108.7 607.9,105.9 609.7,101.9 611.5,105.5 613.3,106.2 615.0,109.3 616.8,111.4 618.6,110.1 620.4,107.5 622.2,111.2 623.9,106.8 625.7,111.3 627.5,108.1 629.3,107.6 631.1,108.7 632.8,110.5 634.6,110.2 636.4,109.8 638.2,104.1 639.9,101.0 641.7,103.4 643.5,106.4 645.3,108.7 647.1,109.4 648.8,110.3 650.6,108.9 652.4,109.1 654.2,108.7 656.0,112.0 657.7,109.2 659.5,109.2 661.3,108.1 663.1,109.1 664.9,109.5 666.6,103.2 668.4,99.1 670.2,91.9" fill="none" stroke="#42A07B" stroke-width="1.7" stroke-linejoin="round"/>
<polyline points="410.5,85.7 412.2,92.1 414.0,97.6 415.8,98.7 417.6,102.8 419.4,104.5 421.1,105.2 422.9,106.0 424.7,104.8 426.5,105.9 428.2,105.9 430.0,105.8 431.8,107.2 433.6,107.9 435.4,105.8 437.1,107.1 438.9,107.5 440.7,104.9 442.5,106.3 444.3,101.8 446.0,102.4 447.8,103.3 449.6,104.3 451.4,105.9 453.2,108.7 454.9,105.7 456.7,104.6 458.5,107.2 460.3,105.3 462.0,108.3 463.8,107.2 465.6,107.7 467.4,105.5 469.2,104.4 470.9,103.5 472.7,107.8 474.5,105.9 476.3,107.8 478.1,103.9 479.8,105.1 481.6,107.8 483.4,108.1 485.2,105.5 487.0,105.2 488.7,109.3 490.5,106.6 492.3,106.5 494.1,107.0 495.8,110.0 497.6,109.2 499.4,109.3 501.2,103.9 503.0,106.1 504.7,103.8 506.5,103.3 508.3,103.4 510.1,102.7 511.9,104.9 513.6,108.1 515.4,106.2 517.2,109.3 519.0,108.1 520.8,106.0 522.5,108.1 524.3,107.2 526.1,104.9 527.9,104.2 529.7,105.7 531.4,106.9 533.2,107.6 535.0,107.8 536.8,105.8 538.5,106.9 540.3,106.8 542.1,106.8 543.9,102.6 545.7,104.1 547.4,99.7 549.2,102.4 551.0,103.2 552.8,103.5 554.6,104.9 556.3,108.1 558.1,109.3 559.9,105.9 561.7,106.2 563.5,105.0 565.2,109.8 567.0,110.2 568.8,107.8 570.6,108.4 572.3,107.5 574.1,106.0 575.9,110.9 577.7,110.1 579.5,107.4 581.2,107.6 583.0,109.0 584.8,105.5 586.6,108.0 588.4,110.8 590.1,107.0 591.9,108.4 593.7,106.5 595.5,107.4 597.3,108.9 599.0,107.5 600.8,106.0 602.6,106.1 604.4,107.3 606.1,106.5 607.9,106.3 609.7,101.1 611.5,104.9 613.3,108.2 615.0,107.1 616.8,107.6 618.6,107.6 620.4,107.3 622.2,108.0 623.9,112.5 625.7,109.3 627.5,108.0 629.3,107.7 631.1,108.7 632.8,109.3 634.6,109.2 636.4,104.4 638.2,106.0 639.9,101.0 641.7,105.5 643.5,105.9 645.3,108.0 647.1,104.7 648.8,109.6 650.6,105.8 652.4,107.6 654.2,109.9 656.0,107.1 657.7,107.9 659.5,107.6 661.3,107.3 663.1,108.4 664.9,112.3 666.6,104.1 668.4,98.3 670.2,94.1" fill="none" stroke="#E2A22E" stroke-width="1.7" stroke-linejoin="round"/>
<polyline points="410.5,84.4 412.2,89.6 414.0,94.4 415.8,99.2 417.6,97.3 419.4,98.1 421.1,103.9 422.9,101.8 424.7,101.9 426.5,101.6 428.2,103.0 430.0,101.5 431.8,100.7 433.6,105.2 435.4,101.4 437.1,104.1 438.9,100.0 440.7,98.0 442.5,94.2 444.3,89.2 446.0,84.1 447.8,91.6 449.6,91.1 451.4,98.3 453.2,104.1 454.9,98.6 456.7,102.9 458.5,100.5 460.3,102.1 462.0,104.3 463.8,105.4 465.6,102.2 467.4,104.0 469.2,100.7 470.9,105.7 472.7,104.0 474.5,101.3 476.3,99.5 478.1,102.3 479.8,104.6 481.6,99.9 483.4,103.3 485.2,101.2 487.0,103.7 488.7,103.0 490.5,101.1 492.3,102.5 494.1,100.0 495.8,99.8 497.6,100.9 499.4,105.5 501.2,102.9 503.0,99.2 504.7,94.4 506.5,96.8 508.3,93.3 510.1,93.2 511.9,96.2 513.6,101.0 515.4,102.2 517.2,103.6 519.0,103.2 520.8,102.7 522.5,102.7 524.3,103.3 526.1,102.1 527.9,104.4 529.7,101.7 531.4,101.9 533.2,102.0 535.0,103.4 536.8,100.5 538.5,105.7 540.3,104.2 542.1,101.6 543.9,99.2 545.7,96.5 547.4,93.1 549.2,95.2 551.0,97.8 552.8,100.4 554.6,102.3 556.3,103.8 558.1,101.9 559.9,100.7 561.7,103.6 563.5,100.5 565.2,103.6 567.0,102.5 568.8,102.4 570.6,106.2 572.3,103.2 574.1,102.7 575.9,101.4 577.7,104.3 579.5,102.5 581.2,102.2 583.0,99.3 584.8,104.6 586.6,103.5 588.4,102.4 590.1,104.6 591.9,105.1 593.7,103.0 595.5,102.1 597.3,103.7 599.0,104.4 600.8,104.6 602.6,103.1 604.4,105.7 606.1,100.6 607.9,100.1 609.7,94.8 611.5,99.5 613.3,99.5 615.0,100.9 616.8,103.8 618.6,103.5 620.4,102.5 622.2,104.2 623.9,104.5 625.7,104.6 627.5,104.8 629.3,104.3 631.1,102.6 632.8,104.6 634.6,102.3 636.4,98.1 638.2,97.6 639.9,96.8 641.7,99.5 643.5,98.6 645.3,101.6 647.1,102.5 648.8,106.4 650.6,103.4 652.4,103.3 654.2,103.4 656.0,104.6 657.7,104.8 659.5,100.8 661.3,105.5 663.1,104.2 664.9,104.6 666.6,98.3 668.4,91.0 670.2,89.4" fill="none" stroke="#EC7627" stroke-width="1.7" stroke-linejoin="round"/>
<polyline points="410.5,88.2 412.2,93.8 414.0,98.6 415.8,100.5 417.6,100.6 419.4,102.3 421.1,107.5 422.9,103.1 424.7,102.8 426.5,104.5 428.2,103.8 430.0,103.1 431.8,105.6 433.6,107.7 435.4,106.8 437.1,104.9 438.9,104.1 440.7,102.9 442.5,102.8 444.3,99.3 446.0,98.5 447.8,100.7 449.6,101.4 451.4,103.8 453.2,104.7 454.9,107.4 456.7,105.0 458.5,108.1 460.3,104.5 462.0,107.8 463.8,106.6 465.6,102.9 467.4,106.3 469.2,105.5 470.9,103.5 472.7,103.4 474.5,106.3 476.3,107.0 478.1,104.2 479.8,106.6 481.6,104.4 483.4,105.2 485.2,104.9 487.0,106.5 488.7,106.7 490.5,109.3 492.3,105.5 494.1,107.6 495.8,105.8 497.6,105.6 499.4,105.1 501.2,107.0 503.0,109.3 504.7,102.0 506.5,104.2 508.3,101.0 510.1,102.2 511.9,106.0 513.6,104.7 515.4,106.4 517.2,103.9 519.0,105.2 520.8,107.7 522.5,105.7 524.3,105.4 526.1,103.1 527.9,107.2 529.7,104.5 531.4,105.1 533.2,108.3 535.0,106.5 536.8,106.1 538.5,108.8 540.3,106.4 542.1,106.4 543.9,103.2 545.7,100.1 547.4,97.9 549.2,101.6 551.0,104.3 552.8,106.5 554.6,106.1 556.3,101.6 558.1,101.3 559.9,106.3 561.7,103.7 563.5,106.5 565.2,104.5 567.0,106.7 568.8,106.6 570.6,105.2 572.3,107.1 574.1,109.9 575.9,108.6 577.7,106.7 579.5,105.6 581.2,105.7 583.0,106.5 584.8,106.4 586.6,106.6 588.4,108.5 590.1,104.8 591.9,104.7 593.7,109.1 595.5,105.6 597.3,108.1 599.0,105.9 600.8,105.6 602.6,108.9 604.4,109.5 606.1,106.1 607.9,102.5 609.7,101.8 611.5,103.7 613.3,105.8 615.0,107.3 616.8,107.5 618.6,106.9 620.4,107.4 622.2,106.9 623.9,105.1 625.7,106.0 627.5,108.2 629.3,106.8 631.1,107.6 632.8,104.9 634.6,106.3 636.4,105.5 638.2,102.1 639.9,104.8 641.7,104.5 643.5,103.1 645.3,107.8 647.1,104.2 648.8,105.0 650.6,106.3 652.4,104.5 654.2,103.7 656.0,107.9 657.7,107.1 659.5,106.9 661.3,108.3 663.1,104.0 664.9,107.7 666.6,98.4 668.4,93.7 670.2,86.2" fill="none" stroke="#63BBCD" stroke-width="1.7" stroke-linejoin="round"/>
<polyline points="410.5,71.6 412.2,76.9 414.0,82.9 415.8,89.2 417.6,94.7 419.4,98.4 421.1,98.7 422.9,99.9 424.7,98.5 426.5,99.5 428.2,97.7 430.0,97.6 431.8,98.3 433.6,100.2 435.4,99.1 437.1,98.5 438.9,98.7 440.7,97.0 442.5,92.9 444.3,93.5 446.0,90.5 447.8,94.3 449.6,99.2 451.4,98.4 453.2,95.8 454.9,98.1 456.7,100.4 458.5,99.1 460.3,98.8 462.0,99.8 463.8,101.0 465.6,98.5 467.4,96.7 469.2,100.2 470.9,98.6 472.7,98.6 474.5,101.0 476.3,102.1 478.1,100.3 479.8,98.8 481.6,97.9 483.4,100.2 485.2,99.4 487.0,98.2 488.7,98.7 490.5,98.6 492.3,99.2 494.1,100.5 495.8,99.5 497.6,102.6 499.4,109.8 501.2,111.5 503.0,110.9 504.7,97.9 506.5,89.6 508.3,93.3 510.1,97.4 511.9,98.0 513.6,101.8 515.4,100.6 517.2,100.1 519.0,98.7 520.8,100.9 522.5,102.3 524.3,100.8 526.1,98.0 527.9,98.8 529.7,97.9 531.4,100.5 533.2,98.8 535.0,101.6 536.8,103.6 538.5,101.5 540.3,102.8 542.1,98.3 543.9,96.7 545.7,94.4 547.4,93.8 549.2,95.2 551.0,95.5 552.8,100.0 554.6,102.1 556.3,103.7 558.1,102.9 559.9,102.6 561.7,103.5 563.5,104.5 565.2,105.7 567.0,104.3 568.8,101.8 570.6,104.0 572.3,102.1 574.1,99.8 575.9,103.1 577.7,102.4 579.5,104.4 581.2,103.2 583.0,103.8 584.8,103.0 586.6,103.2 588.4,100.5 590.1,103.2 591.9,101.4 593.7,101.9 595.5,103.0 597.3,103.6 599.0,102.9 600.8,99.8 602.6,101.1 604.4,99.9 606.1,95.2 607.9,89.6 609.7,92.1 611.5,96.3 613.3,100.9 615.0,101.1 616.8,102.2 618.6,101.9 620.4,100.0 622.2,104.0 623.9,101.1 625.7,104.0 627.5,102.5 629.3,104.7 631.1,105.1 632.8,105.9 634.6,101.5 636.4,101.7 638.2,98.7 639.9,95.7 641.7,99.8 643.5,99.9 645.3,102.3 647.1,101.2 648.8,102.2 650.6,103.3 652.4,102.9 654.2,103.8 656.0,102.0 657.7,101.9 659.5,102.4 661.3,102.5 663.1,100.9 664.9,100.5 666.6,94.0 668.4,88.2 670.2,82.1" fill="none" stroke="#131313" stroke-width="2.2" stroke-linejoin="round"/>
</g>
<rect x="395.2" y="71.2" width="288.3" height="50.1" fill="none" stroke="#9C9C9C" stroke-width="1.0"/>
<line y1="121.3" y2="122.6" x1="406.90" x2="406.90" stroke="#888" stroke-width="0.8"/>
<line y1="121.3" y2="122.6" x1="495.85" x2="495.85" stroke="#888" stroke-width="0.8"/>
<line y1="121.3" y2="122.6" x1="584.80" x2="584.80" stroke="#888" stroke-width="0.8"/>
<line y1="121.3" y2="122.6" x1="673.75" x2="673.75" stroke="#888" stroke-width="0.8"/>
<line x1="393.0" x2="395.2" y1="119.40" y2="119.40" stroke="#9C9C9C" stroke-width="0.8"/>
<text x="391.9" y="122.5" font-size="8.7" text-anchor="end" fill="#3a3a3a" >0.00</text>
<line x1="393.0" x2="395.2" y1="108.03" y2="108.03" stroke="#9C9C9C" stroke-width="0.8"/>
<text x="391.9" y="111.1" font-size="8.7" text-anchor="end" fill="#3a3a3a" >0.05</text>
<line x1="393.0" x2="395.2" y1="96.65" y2="96.65" stroke="#9C9C9C" stroke-width="0.8"/>
<text x="391.9" y="99.8" font-size="8.7" text-anchor="end" fill="#3a3a3a" >0.10</text>
<line x1="393.0" x2="395.2" y1="85.28" y2="85.28" stroke="#9C9C9C" stroke-width="0.8"/>
<text x="391.9" y="88.4" font-size="8.7" text-anchor="end" fill="#3a3a3a" >0.15</text>
<line x1="393.0" x2="395.2" y1="73.90" y2="73.90" stroke="#9C9C9C" stroke-width="0.8"/>
<text x="391.9" y="77.0" font-size="8.7" text-anchor="end" fill="#3a3a3a" >0.20</text>
<text transform="translate(368.6,96.2) rotate(-90)" font-size="11" text-anchor="middle" fill="#1a1a1a">T<tspan font-size="8" dy="1.3">2</tspan><tspan dy="-1.3"> (s)</tspan></text>
<rect x="395.2" y="124.5" width="288.3" height="54.7" fill="#fff"/>
<line x1="395.2" x2="683.5" y1="171.24" y2="171.24" stroke="#EFEFEF" stroke-width="0.5"/>
<line x1="395.2" x2="683.5" y1="158.71" y2="158.71" stroke="#EFEFEF" stroke-width="0.5"/>
<line x1="395.2" x2="683.5" y1="146.19" y2="146.19" stroke="#EFEFEF" stroke-width="0.5"/>
<line x1="395.2" x2="683.5" y1="133.66" y2="133.66" stroke="#EFEFEF" stroke-width="0.5"/>
<line y1="124.5" y2="179.2" x1="451.38" x2="451.38" stroke="#EFEFEF" stroke-width="0.5"/>
<line y1="124.5" y2="179.2" x1="540.32" x2="540.32" stroke="#EFEFEF" stroke-width="0.5"/>
<line y1="124.5" y2="179.2" x1="629.27" x2="629.27" stroke="#EFEFEF" stroke-width="0.5"/>
<line x1="395.2" x2="683.5" y1="177.50" y2="177.50" stroke="#DEDEDE" stroke-width="0.7"/>
<line x1="395.2" x2="683.5" y1="164.97" y2="164.97" stroke="#DEDEDE" stroke-width="0.7"/>
<line x1="395.2" x2="683.5" y1="152.45" y2="152.45" stroke="#DEDEDE" stroke-width="0.7"/>
<line x1="395.2" x2="683.5" y1="139.93" y2="139.93" stroke="#DEDEDE" stroke-width="0.7"/>
<line x1="395.2" x2="683.5" y1="127.40" y2="127.40" stroke="#DEDEDE" stroke-width="0.7"/>
<line y1="124.5" y2="179.2" x1="406.90" x2="406.90" stroke="#DEDEDE" stroke-width="0.7"/>
<line y1="124.5" y2="179.2" x1="495.85" x2="495.85" stroke="#DEDEDE" stroke-width="0.7"/>
<line y1="124.5" y2="179.2" x1="584.80" x2="584.80" stroke="#DEDEDE" stroke-width="0.7"/>
<line y1="124.5" y2="179.2" x1="673.75" x2="673.75" stroke="#DEDEDE" stroke-width="0.7"/>
<clipPath id="cb3"><rect x="395.2" y="124.5" width="288.3" height="54.7"/></clipPath>
<g clip-path="url(#cb3)">
<path d="M412.4 154.7h3.2m-1.6 0v2.6m-1.6 0h3.2M428.4 139.5h3.2m-1.6 0v1.8m-1.6 0h3.2M433.8 138.2h3.2m-1.6 0v2.9m-1.6 0h3.2M435.5 137.8h3.2m-1.6 0v3.4m-1.6 0h3.2M446.2 150.6h3.2m-1.6 0v2.0m-1.6 0h3.2M451.6 145.8h3.2m-1.6 0v4.7m-1.6 0h3.2M471.1 139.1h3.2m-1.6 0v2.9m-1.6 0h3.2M474.7 139.9h3.2m-1.6 0v3.1m-1.6 0h3.2M487.1 141.8h3.2m-1.6 0v1.2m-1.6 0h3.2M497.8 138.1h3.2m-1.6 0v4.1m-1.6 0h3.2M506.7 140.6h3.2m-1.6 0v3.8m-1.6 0h3.2M517.4 137.9h3.2m-1.6 0v4.1m-1.6 0h3.2M519.2 140.0h3.2m-1.6 0v3.7m-1.6 0h3.2M520.9 138.2h3.2m-1.6 0v3.7m-1.6 0h3.2M522.7 139.7h3.2m-1.6 0v1.5m-1.6 0h3.2M533.4 138.4h3.2m-1.6 0v3.7m-1.6 0h3.2M540.5 149.9h3.2m-1.6 0v2.3m-1.6 0h3.2M544.1 154.8h3.2m-1.6 0v4.4m-1.6 0h3.2M553.0 145.0h3.2m-1.6 0v4.6m-1.6 0h3.2M563.6 142.2h3.2m-1.6 0v2.6m-1.6 0h3.2M579.6 141.5h3.2m-1.6 0v4.1m-1.6 0h3.2M581.4 142.0h3.2m-1.6 0v3.0m-1.6 0h3.2M585.0 142.1h3.2m-1.6 0v3.5m-1.6 0h3.2M588.5 141.7h3.2m-1.6 0v2.1m-1.6 0h3.2M593.9 141.0h3.2m-1.6 0v2.3m-1.6 0h3.2M609.9 151.2h3.2m-1.6 0v1.4m-1.6 0h3.2M615.2 146.9h3.2m-1.6 0v1.4m-1.6 0h3.2M618.8 144.1h3.2m-1.6 0v1.4m-1.6 0h3.2M620.6 143.2h3.2m-1.6 0v1.5m-1.6 0h3.2M634.8 150.0h3.2m-1.6 0v3.5m-1.6 0h3.2M636.6 151.5h3.2m-1.6 0v4.5m-1.6 0h3.2M638.3 155.7h3.2m-1.6 0v3.2m-1.6 0h3.2M640.1 154.8h3.2m-1.6 0v2.8m-1.6 0h3.2M661.5 140.9h3.2m-1.6 0v3.9m-1.6 0h3.2" stroke="#F5241E" stroke-width="0.8" stroke-opacity="0.75" fill="none"/>
<path d="M414.2 149.3h3.2m-1.6 0v1.6m-1.6 0h3.2M417.8 141.2h3.2m-1.6 0v2.6m-1.6 0h3.2M421.3 140.5h3.2m-1.6 0v4.6m-1.6 0h3.2M423.1 138.5h3.2m-1.6 0v4.7m-1.6 0h3.2M430.2 140.6h3.2m-1.6 0v3.0m-1.6 0h3.2M439.1 141.2h3.2m-1.6 0v2.7m-1.6 0h3.2M442.7 147.9h3.2m-1.6 0v4.0m-1.6 0h3.2M444.4 150.8h3.2m-1.6 0v3.2m-1.6 0h3.2M448.0 149.5h3.2m-1.6 0v4.6m-1.6 0h3.2M458.7 141.5h3.2m-1.6 0v2.6m-1.6 0h3.2M460.4 139.3h3.2m-1.6 0v3.4m-1.6 0h3.2M465.8 140.4h3.2m-1.6 0v2.2m-1.6 0h3.2M476.5 138.6h3.2m-1.6 0v3.8m-1.6 0h3.2M478.2 143.1h3.2m-1.6 0v4.1m-1.6 0h3.2M480.0 146.6h3.2m-1.6 0v4.5m-1.6 0h3.2M483.6 140.6h3.2m-1.6 0v1.8m-1.6 0h3.2M494.2 139.9h3.2m-1.6 0v3.7m-1.6 0h3.2M497.8 139.1h3.2m-1.6 0v4.3m-1.6 0h3.2M501.4 143.4h3.2m-1.6 0v2.7m-1.6 0h3.2M512.0 140.2h3.2m-1.6 0v2.1m-1.6 0h3.2M519.2 138.6h3.2m-1.6 0v3.5m-1.6 0h3.2M520.9 139.4h3.2m-1.6 0v1.9m-1.6 0h3.2M522.7 139.9h3.2m-1.6 0v3.0m-1.6 0h3.2M533.4 137.2h3.2m-1.6 0v4.5m-1.6 0h3.2M538.7 147.0h3.2m-1.6 0v4.4m-1.6 0h3.2M544.1 156.1h3.2m-1.6 0v3.0m-1.6 0h3.2M554.7 141.8h3.2m-1.6 0v3.9m-1.6 0h3.2M574.3 150.8h3.2m-1.6 0v4.0m-1.6 0h3.2M577.9 143.9h3.2m-1.6 0v2.6m-1.6 0h3.2M579.6 142.3h3.2m-1.6 0v4.2m-1.6 0h3.2M586.8 141.8h3.2m-1.6 0v2.7m-1.6 0h3.2M590.3 142.1h3.2m-1.6 0v2.4m-1.6 0h3.2M592.1 142.6h3.2m-1.6 0v1.8m-1.6 0h3.2M597.4 139.6h3.2m-1.6 0v4.3m-1.6 0h3.2M601.0 142.8h3.2m-1.6 0v1.6m-1.6 0h3.2M608.1 149.7h3.2m-1.6 0v2.5m-1.6 0h3.2M611.7 151.5h3.2m-1.6 0v3.0m-1.6 0h3.2M617.0 143.6h3.2m-1.6 0v3.5m-1.6 0h3.2M618.8 144.9h3.2m-1.6 0v1.7m-1.6 0h3.2M620.6 142.5h3.2m-1.6 0v3.1m-1.6 0h3.2M622.3 144.7h3.2m-1.6 0v2.2m-1.6 0h3.2M624.1 143.8h3.2m-1.6 0v4.4m-1.6 0h3.2M625.9 142.4h3.2m-1.6 0v3.6m-1.6 0h3.2M638.3 154.4h3.2m-1.6 0v3.7m-1.6 0h3.2M640.1 153.3h3.2m-1.6 0v2.9m-1.6 0h3.2M641.9 151.1h3.2m-1.6 0v2.9m-1.6 0h3.2M649.0 144.1h3.2m-1.6 0v2.8m-1.6 0h3.2M666.8 162.8h3.2m-1.6 0v2.2m-1.6 0h3.2" stroke="#42A07B" stroke-width="0.8" stroke-opacity="0.75" fill="none"/>
<path d="M416.0 141.7h3.2m-1.6 0v3.6m-1.6 0h3.2M417.8 141.3h3.2m-1.6 0v3.0m-1.6 0h3.2M428.4 138.6h3.2m-1.6 0v4.4m-1.6 0h3.2M442.7 147.6h3.2m-1.6 0v1.3m-1.6 0h3.2M449.8 150.8h3.2m-1.6 0v2.8m-1.6 0h3.2M455.1 142.0h3.2m-1.6 0v1.9m-1.6 0h3.2M456.9 141.5h3.2m-1.6 0v3.9m-1.6 0h3.2M464.0 140.3h3.2m-1.6 0v2.7m-1.6 0h3.2M465.8 141.4h3.2m-1.6 0v4.4m-1.6 0h3.2M467.6 141.1h3.2m-1.6 0v2.7m-1.6 0h3.2M471.1 141.1h3.2m-1.6 0v2.0m-1.6 0h3.2M494.2 138.3h3.2m-1.6 0v4.4m-1.6 0h3.2M508.5 139.3h3.2m-1.6 0v4.3m-1.6 0h3.2M528.1 137.9h3.2m-1.6 0v3.1m-1.6 0h3.2M533.4 138.6h3.2m-1.6 0v2.3m-1.6 0h3.2M535.2 139.0h3.2m-1.6 0v4.2m-1.6 0h3.2M536.9 142.6h3.2m-1.6 0v4.0m-1.6 0h3.2M538.7 147.2h3.2m-1.6 0v2.4m-1.6 0h3.2M542.3 152.0h3.2m-1.6 0v3.3m-1.6 0h3.2M547.6 152.4h3.2m-1.6 0v3.6m-1.6 0h3.2M556.5 141.4h3.2m-1.6 0v4.6m-1.6 0h3.2M563.6 141.2h3.2m-1.6 0v3.9m-1.6 0h3.2M567.2 142.1h3.2m-1.6 0v4.4m-1.6 0h3.2M572.5 147.4h3.2m-1.6 0v3.5m-1.6 0h3.2M574.3 152.2h3.2m-1.6 0v2.1m-1.6 0h3.2M576.1 146.5h3.2m-1.6 0v1.8m-1.6 0h3.2M592.1 141.8h3.2m-1.6 0v4.2m-1.6 0h3.2M597.4 142.4h3.2m-1.6 0v1.5m-1.6 0h3.2M608.1 146.6h3.2m-1.6 0v4.1m-1.6 0h3.2M613.4 146.6h3.2m-1.6 0v4.4m-1.6 0h3.2M618.8 143.2h3.2m-1.6 0v4.6m-1.6 0h3.2M622.3 141.4h3.2m-1.6 0v4.7m-1.6 0h3.2M625.9 141.8h3.2m-1.6 0v4.4m-1.6 0h3.2M631.2 146.1h3.2m-1.6 0v2.0m-1.6 0h3.2M634.8 150.7h3.2m-1.6 0v1.9m-1.6 0h3.2M636.6 153.2h3.2m-1.6 0v3.3m-1.6 0h3.2M638.3 154.3h3.2m-1.6 0v4.0m-1.6 0h3.2M647.2 145.8h3.2m-1.6 0v2.5m-1.6 0h3.2M668.6 173.6h3.2m-1.6 0v1.8m-1.6 0h3.2" stroke="#E2A22E" stroke-width="0.8" stroke-opacity="0.75" fill="none"/>
<path d="M408.9 172.2h3.2m-1.6 0v5.3m-1.6 0h3.2M416.0 144.9h3.2m-1.6 0v4.0m-1.6 0h3.2M417.8 144.4h3.2m-1.6 0v3.3m-1.6 0h3.2M421.3 140.7h3.2m-1.6 0v5.4m-1.6 0h3.2M423.1 141.8h3.2m-1.6 0v3.7m-1.6 0h3.2M426.6 139.4h3.2m-1.6 0v4.8m-1.6 0h3.2M430.2 141.2h3.2m-1.6 0v2.1m-1.6 0h3.2M448.0 154.9h3.2m-1.6 0v2.7m-1.6 0h3.2M449.8 152.9h3.2m-1.6 0v2.1m-1.6 0h3.2M453.3 146.8h3.2m-1.6 0v4.3m-1.6 0h3.2M456.9 143.4h3.2m-1.6 0v5.9m-1.6 0h3.2M460.4 142.4h3.2m-1.6 0v4.4m-1.6 0h3.2M462.2 141.4h3.2m-1.6 0v1.9m-1.6 0h3.2M464.0 141.9h3.2m-1.6 0v2.6m-1.6 0h3.2M465.8 143.1h3.2m-1.6 0v1.7m-1.6 0h3.2M472.9 142.6h3.2m-1.6 0v1.7m-1.6 0h3.2M485.4 141.9h3.2m-1.6 0v2.2m-1.6 0h3.2M490.7 141.4h3.2m-1.6 0v2.7m-1.6 0h3.2M494.2 139.2h3.2m-1.6 0v4.0m-1.6 0h3.2M497.8 141.5h3.2m-1.6 0v2.2m-1.6 0h3.2M503.1 156.4h3.2m-1.6 0v4.2m-1.6 0h3.2M515.6 140.9h3.2m-1.6 0v3.9m-1.6 0h3.2M529.8 141.2h3.2m-1.6 0v2.5m-1.6 0h3.2M531.6 139.6h3.2m-1.6 0v2.1m-1.6 0h3.2M542.3 153.9h3.2m-1.6 0v5.9m-1.6 0h3.2M560.1 144.2h3.2m-1.6 0v3.9m-1.6 0h3.2M563.6 141.6h3.2m-1.6 0v5.3m-1.6 0h3.2M570.7 148.7h3.2m-1.6 0v5.4m-1.6 0h3.2M577.9 146.3h3.2m-1.6 0v4.0m-1.6 0h3.2M586.8 145.6h3.2m-1.6 0v1.9m-1.6 0h3.2M590.3 143.5h3.2m-1.6 0v2.8m-1.6 0h3.2M601.0 143.2h3.2m-1.6 0v2.8m-1.6 0h3.2M602.8 146.4h3.2m-1.6 0v3.2m-1.6 0h3.2M604.5 146.0h3.2m-1.6 0v6.2m-1.6 0h3.2M609.9 153.8h3.2m-1.6 0v6.0m-1.6 0h3.2M611.7 154.4h3.2m-1.6 0v5.3m-1.6 0h3.2M613.4 152.6h3.2m-1.6 0v2.9m-1.6 0h3.2M615.2 150.8h3.2m-1.6 0v4.2m-1.6 0h3.2M617.0 147.5h3.2m-1.6 0v4.4m-1.6 0h3.2M620.6 146.2h3.2m-1.6 0v2.2m-1.6 0h3.2M629.5 149.9h3.2m-1.6 0v2.2m-1.6 0h3.2M640.1 155.4h3.2m-1.6 0v6.0m-1.6 0h3.2M645.5 149.1h3.2m-1.6 0v3.4m-1.6 0h3.2M652.6 146.3h3.2m-1.6 0v4.5m-1.6 0h3.2M654.4 145.5h3.2m-1.6 0v2.7m-1.6 0h3.2M665.0 152.6h3.2m-1.6 0v5.7m-1.6 0h3.2" stroke="#EC7627" stroke-width="0.8" stroke-opacity="0.75" fill="none"/>
<path d="M440.9 146.4h3.2m-1.6 0v1.8m-1.6 0h3.2M442.7 150.2h3.2m-1.6 0v2.3m-1.6 0h3.2M449.8 150.5h3.2m-1.6 0v2.4m-1.6 0h3.2M453.3 145.1h3.2m-1.6 0v2.9m-1.6 0h3.2M464.0 142.8h3.2m-1.6 0v1.4m-1.6 0h3.2M471.1 139.9h3.2m-1.6 0v3.9m-1.6 0h3.2M476.5 141.6h3.2m-1.6 0v3.2m-1.6 0h3.2M483.6 141.1h3.2m-1.6 0v4.2m-1.6 0h3.2M494.2 140.3h3.2m-1.6 0v2.9m-1.6 0h3.2M496.0 140.9h3.2m-1.6 0v1.3m-1.6 0h3.2M497.8 140.1h3.2m-1.6 0v2.6m-1.6 0h3.2M501.4 144.3h3.2m-1.6 0v1.7m-1.6 0h3.2M515.6 140.2h3.2m-1.6 0v1.7m-1.6 0h3.2M522.7 139.2h3.2m-1.6 0v3.5m-1.6 0h3.2M526.3 139.1h3.2m-1.6 0v4.8m-1.6 0h3.2M529.8 141.7h3.2m-1.6 0v1.9m-1.6 0h3.2M535.2 142.3h3.2m-1.6 0v2.1m-1.6 0h3.2M536.9 145.4h3.2m-1.6 0v2.0m-1.6 0h3.2M538.7 146.1h3.2m-1.6 0v2.7m-1.6 0h3.2M540.5 150.2h3.2m-1.6 0v3.6m-1.6 0h3.2M542.3 154.1h3.2m-1.6 0v2.2m-1.6 0h3.2M545.8 155.9h3.2m-1.6 0v1.4m-1.6 0h3.2M547.6 155.2h3.2m-1.6 0v1.2m-1.6 0h3.2M551.2 149.4h3.2m-1.6 0v2.9m-1.6 0h3.2M563.6 142.0h3.2m-1.6 0v1.8m-1.6 0h3.2M565.4 140.5h3.2m-1.6 0v2.0m-1.6 0h3.2M569.0 145.2h3.2m-1.6 0v3.4m-1.6 0h3.2M570.7 147.5h3.2m-1.6 0v3.0m-1.6 0h3.2M581.4 144.1h3.2m-1.6 0v1.4m-1.6 0h3.2M588.5 143.2h3.2m-1.6 0v1.9m-1.6 0h3.2M597.4 141.4h3.2m-1.6 0v2.0m-1.6 0h3.2M601.0 141.3h3.2m-1.6 0v3.4m-1.6 0h3.2M615.2 147.2h3.2m-1.6 0v1.4m-1.6 0h3.2M617.0 144.1h3.2m-1.6 0v4.5m-1.6 0h3.2M624.1 141.4h3.2m-1.6 0v4.7m-1.6 0h3.2M627.7 142.7h3.2m-1.6 0v2.2m-1.6 0h3.2M643.7 148.6h3.2m-1.6 0v3.1m-1.6 0h3.2M650.8 143.5h3.2m-1.6 0v3.0m-1.6 0h3.2" stroke="#63BBCD" stroke-width="0.8" stroke-opacity="0.75" fill="none"/>
<polyline points="410.5,174.8 412.2,165.4 414.0,156.0 415.8,149.9 417.6,144.6 419.4,143.0 421.1,141.2 422.9,140.4 424.7,141.1 426.5,141.1 428.2,140.8 430.0,140.4 431.8,139.4 433.6,140.1 435.4,139.7 437.1,139.5 438.9,138.6 440.7,142.3 442.5,146.2 444.3,147.7 446.0,153.5 447.8,151.6 449.6,153.5 451.4,151.4 453.2,148.2 454.9,147.8 456.7,143.8 458.5,143.0 460.3,143.0 462.0,143.5 463.8,141.4 465.6,140.2 467.4,140.9 469.2,141.1 470.9,141.0 472.7,140.5 474.5,141.8 476.3,141.4 478.1,142.0 479.8,145.4 481.6,149.2 483.4,145.8 485.2,140.9 487.0,141.4 488.7,142.4 490.5,142.3 492.3,141.2 494.1,141.6 495.8,139.2 497.6,139.5 499.4,140.1 501.2,142.1 503.0,143.6 504.7,155.5 506.5,144.3 508.3,142.5 510.1,138.9 511.9,140.4 513.6,139.6 515.4,140.6 517.2,139.8 519.0,140.0 520.8,141.9 522.5,140.1 524.3,140.4 526.1,139.3 527.9,139.6 529.7,139.3 531.4,139.2 533.2,140.5 535.0,140.2 536.8,141.5 538.5,145.2 540.3,146.6 542.1,151.0 543.9,152.5 545.7,157.0 547.4,156.2 549.2,156.1 551.0,153.9 552.8,152.2 554.6,147.3 556.3,143.6 558.1,144.8 559.9,142.5 561.7,142.6 563.5,142.3 565.2,143.5 567.0,141.4 568.8,143.6 570.6,145.1 572.3,148.3 574.1,149.8 575.9,152.1 577.7,147.2 579.5,142.6 581.2,143.6 583.0,143.5 584.8,142.9 586.6,143.8 588.4,142.1 590.1,142.7 591.9,142.0 593.7,143.0 595.5,142.2 597.3,143.0 599.0,143.1 600.8,143.0 602.6,143.0 604.4,145.2 606.1,148.0 607.9,149.2 609.7,150.9 611.5,151.9 613.3,151.2 615.0,150.3 616.8,147.6 618.6,143.8 620.4,144.8 622.2,143.9 623.9,143.0 625.7,144.5 627.5,143.8 629.3,143.1 631.1,145.9 632.8,147.6 634.6,149.6 636.4,151.7 638.2,153.8 639.9,157.3 641.7,156.2 643.5,154.0 645.3,150.4 647.1,148.7 648.8,145.8 650.6,143.9 652.4,143.9 654.2,143.4 656.0,144.4 657.7,144.2 659.5,143.7 661.3,145.2 663.1,142.9 664.9,144.4 666.6,152.6 668.4,163.6 670.2,174.8" fill="none" stroke="#F5241E" stroke-width="1.7" stroke-linejoin="round"/>
<polyline points="410.5,174.6 412.2,166.1 414.0,154.3 415.8,150.1 417.6,143.0 419.4,142.6 421.1,140.1 422.9,142.8 424.7,140.8 426.5,141.3 428.2,140.5 430.0,141.7 431.8,142.1 433.6,142.2 435.4,141.0 437.1,140.1 438.9,139.9 440.7,142.6 442.5,146.7 444.3,149.9 446.0,152.4 447.8,152.6 449.6,151.9 451.4,151.6 453.2,149.2 454.9,145.8 456.7,144.4 458.5,143.0 460.3,142.8 462.0,141.0 463.8,141.8 465.6,142.3 467.4,141.5 469.2,142.9 470.9,143.1 472.7,142.1 474.5,141.2 476.3,142.1 478.1,140.5 479.8,145.1 481.6,148.8 483.4,146.7 485.2,141.5 487.0,141.2 488.7,142.2 490.5,141.4 492.3,141.6 494.1,140.4 495.8,141.7 497.6,141.7 499.4,141.2 501.2,143.1 503.0,144.7 504.7,154.9 506.5,145.0 508.3,142.0 510.1,141.1 511.9,140.3 513.6,141.2 515.4,139.5 517.2,139.4 519.0,140.8 520.8,140.4 522.5,140.4 524.3,141.4 526.1,140.9 527.9,141.3 529.7,139.8 531.4,140.4 533.2,140.9 535.0,139.4 536.8,141.9 538.5,145.8 540.3,149.2 542.1,149.7 543.9,153.8 545.7,157.5 547.4,156.1 549.2,155.4 551.0,155.3 552.8,151.4 554.6,148.2 556.3,143.8 558.1,143.8 559.9,144.4 561.7,143.5 563.5,144.7 565.2,142.7 567.0,142.0 568.8,145.1 570.6,146.2 572.3,147.3 574.1,150.4 575.9,152.8 577.7,149.9 579.5,145.2 581.2,144.4 583.0,142.5 584.8,144.0 586.6,142.7 588.4,143.1 590.1,142.4 591.9,143.4 593.7,143.5 595.5,142.6 597.3,143.0 599.0,141.8 600.8,142.3 602.6,143.5 604.4,145.4 606.1,147.6 607.9,150.2 609.7,150.9 611.5,151.4 613.3,153.0 615.0,149.2 616.8,149.4 618.6,145.3 620.4,145.7 622.2,144.1 623.9,145.8 625.7,146.0 627.5,144.2 629.3,142.7 631.1,145.1 632.8,146.9 634.6,150.5 636.4,152.5 638.2,155.6 639.9,156.3 641.7,154.8 643.5,152.5 645.3,150.7 647.1,147.9 648.8,146.6 650.6,145.5 652.4,144.9 654.2,143.6 656.0,144.9 657.7,143.8 659.5,144.1 661.3,144.4 663.1,144.7 664.9,143.9 666.6,153.0 668.4,163.9 670.2,174.8" fill="none" stroke="#42A07B" stroke-width="1.7" stroke-linejoin="round"/>
<polyline points="410.5,174.7 412.2,165.0 414.0,155.5 415.8,148.5 417.6,143.5 419.4,142.8 421.1,140.5 422.9,140.3 424.7,142.5 426.5,140.3 428.2,139.0 430.0,140.8 431.8,139.7 433.6,139.5 435.4,139.0 437.1,141.2 438.9,140.0 440.7,143.0 442.5,145.2 444.3,148.2 446.0,152.3 447.8,151.9 449.6,152.6 451.4,152.2 453.2,148.3 454.9,146.3 456.7,142.9 458.5,143.4 460.3,141.8 462.0,142.6 463.8,142.8 465.6,141.6 467.4,143.6 469.2,142.4 470.9,142.3 472.7,142.1 474.5,141.2 476.3,140.8 478.1,141.9 479.8,146.2 481.6,149.3 483.4,146.1 485.2,142.2 487.0,141.1 488.7,141.8 490.5,140.6 492.3,139.6 494.1,139.3 495.8,140.5 497.6,140.2 499.4,139.4 501.2,142.9 503.0,144.7 504.7,154.5 506.5,143.7 508.3,143.4 510.1,141.5 511.9,140.7 513.6,139.7 515.4,139.9 517.2,139.4 519.0,138.8 520.8,140.3 522.5,139.9 524.3,139.6 526.1,140.7 527.9,140.8 529.7,139.5 531.4,140.2 533.2,139.5 535.0,139.8 536.8,141.1 538.5,144.6 540.3,148.4 542.1,149.7 543.9,153.7 545.7,154.9 547.4,155.6 549.2,154.3 551.0,153.9 552.8,150.7 554.6,147.7 556.3,143.8 558.1,143.7 559.9,144.4 561.7,143.1 563.5,141.2 565.2,143.2 567.0,142.3 568.8,144.3 570.6,145.3 572.3,147.3 574.1,149.2 575.9,153.2 577.7,147.4 579.5,144.0 581.2,142.6 583.0,143.5 584.8,141.8 586.6,142.2 588.4,142.9 590.1,143.7 591.9,143.4 593.7,143.9 595.5,143.3 597.3,143.2 599.0,143.2 600.8,141.8 602.6,143.3 604.4,145.8 606.1,147.1 607.9,149.2 609.7,148.6 611.5,150.9 613.3,150.6 615.0,148.9 616.8,148.7 618.6,146.0 620.4,145.5 622.2,145.8 623.9,143.8 625.7,144.0 627.5,144.0 629.3,143.7 631.1,145.6 632.8,147.1 634.6,150.2 636.4,151.6 638.2,154.9 639.9,156.3 641.7,154.0 643.5,152.4 645.3,150.3 647.1,149.3 648.8,147.1 650.6,142.9 652.4,142.9 654.2,143.6 656.0,143.3 657.7,143.3 659.5,144.5 661.3,144.1 663.1,143.3 664.9,144.1 666.6,152.7 668.4,162.4 670.2,174.5" fill="none" stroke="#E2A22E" stroke-width="1.7" stroke-linejoin="round"/>
<polyline points="410.5,174.8 412.2,167.1 414.0,159.9 415.8,152.2 417.6,146.9 419.4,146.0 421.1,143.6 422.9,143.4 424.7,143.6 426.5,142.1 428.2,141.8 430.0,143.0 431.8,142.2 433.6,141.7 435.4,140.4 437.1,141.4 438.9,142.1 440.7,146.8 442.5,151.1 444.3,153.2 446.0,156.8 447.8,155.4 449.6,156.2 451.4,154.0 453.2,150.9 454.9,148.9 456.7,146.5 458.5,146.3 460.3,145.7 462.0,144.6 463.8,142.4 465.6,143.2 467.4,144.0 469.2,143.8 470.9,144.2 472.7,143.4 474.5,143.5 476.3,143.9 478.1,144.3 479.8,149.4 481.6,154.3 483.4,149.9 485.2,143.6 487.0,143.0 488.7,142.6 490.5,143.5 492.3,142.7 494.1,142.0 495.8,141.2 497.6,142.4 499.4,142.6 501.2,145.3 503.0,149.4 504.7,158.5 506.5,148.2 508.3,145.3 510.1,143.0 511.9,141.7 513.6,142.4 515.4,141.7 517.2,142.8 519.0,141.4 520.8,141.9 522.5,141.6 524.3,139.8 526.1,141.8 527.9,142.4 529.7,142.0 531.4,142.5 533.2,140.7 535.0,143.0 536.8,144.7 538.5,147.4 540.3,150.6 542.1,155.0 543.9,156.8 545.7,161.2 547.4,159.6 549.2,158.4 551.0,157.7 552.8,154.8 554.6,152.2 556.3,147.2 558.1,147.0 559.9,147.0 561.7,146.1 563.5,145.5 565.2,144.3 567.0,142.3 568.8,146.6 570.6,149.7 572.3,151.4 574.1,154.4 575.9,156.6 577.7,151.7 579.5,148.4 581.2,146.8 583.0,146.9 584.8,146.4 586.6,146.4 588.4,146.5 590.1,145.2 591.9,144.9 593.7,144.3 595.5,144.1 597.3,146.1 599.0,144.9 600.8,145.3 602.6,144.6 604.4,148.0 606.1,149.1 607.9,152.8 609.7,153.5 611.5,156.8 613.3,157.1 615.0,154.0 616.8,152.9 618.6,149.7 620.4,148.7 622.2,147.3 623.9,146.8 625.7,147.3 627.5,148.5 629.3,147.4 631.1,151.0 632.8,152.4 634.6,154.1 636.4,156.4 638.2,159.9 639.9,161.4 641.7,158.4 643.5,155.7 645.3,154.6 647.1,150.8 648.8,150.4 650.6,147.9 652.4,147.4 654.2,148.6 656.0,146.9 657.7,147.7 659.5,147.0 661.3,148.3 663.1,148.4 664.9,146.4 666.6,155.5 668.4,165.5 670.2,174.4" fill="none" stroke="#EC7627" stroke-width="1.7" stroke-linejoin="round"/>
<polyline points="410.5,174.6 412.2,165.9 414.0,155.3 415.8,149.6 417.6,144.4 419.4,142.2 421.1,141.0 422.9,142.0 424.7,142.2 426.5,142.6 428.2,141.6 430.0,140.8 431.8,142.5 433.6,140.6 435.4,140.4 437.1,141.2 438.9,141.8 440.7,143.4 442.5,147.3 444.3,151.3 446.0,152.4 447.8,152.5 449.6,153.4 451.4,151.7 453.2,148.6 454.9,146.6 456.7,144.6 458.5,143.9 460.3,142.7 462.0,142.1 463.8,141.8 465.6,143.5 467.4,143.0 469.2,142.4 470.9,142.9 472.7,141.9 474.5,142.0 476.3,143.0 478.1,143.2 479.8,146.9 481.6,151.2 483.4,147.1 485.2,143.2 487.0,143.2 488.7,141.5 490.5,141.9 492.3,142.6 494.1,142.2 495.8,141.7 497.6,141.6 499.4,141.4 501.2,143.9 503.0,145.1 504.7,156.0 506.5,145.5 508.3,142.3 510.1,139.9 511.9,140.9 513.6,141.4 515.4,141.7 517.2,141.0 519.0,139.6 520.8,140.7 522.5,142.0 524.3,141.0 526.1,141.1 527.9,141.5 529.7,141.4 531.4,142.6 533.2,140.6 535.0,141.7 536.8,143.3 538.5,146.4 540.3,147.5 542.1,151.9 543.9,155.2 545.7,158.4 547.4,156.6 549.2,155.9 551.0,155.4 552.8,150.9 554.6,147.5 556.3,145.6 558.1,143.0 559.9,144.0 561.7,143.8 563.5,143.8 565.2,142.9 567.0,141.5 568.8,143.0 570.6,147.0 572.3,149.0 574.1,151.2 575.9,154.1 577.7,149.8 579.5,144.5 581.2,143.9 583.0,144.8 584.8,143.6 586.6,144.0 588.4,144.1 590.1,144.1 591.9,144.9 593.7,143.3 595.5,143.3 597.3,143.2 599.0,142.4 600.8,143.2 602.6,143.0 604.4,146.1 606.1,145.8 607.9,151.0 609.7,151.5 611.5,153.6 613.3,154.4 615.0,150.5 616.8,147.9 618.6,146.4 620.4,146.9 622.2,146.1 623.9,145.1 625.7,143.8 627.5,144.5 629.3,143.8 631.1,147.1 632.8,147.9 634.6,149.8 636.4,152.7 638.2,154.4 639.9,157.9 641.7,154.9 643.5,153.0 645.3,150.1 647.1,149.0 648.8,147.8 650.6,145.4 652.4,145.0 654.2,143.4 656.0,142.9 657.7,144.6 659.5,143.6 661.3,143.3 663.1,144.8 664.9,144.6 666.6,153.8 668.4,165.6 670.2,174.8" fill="none" stroke="#63BBCD" stroke-width="1.7" stroke-linejoin="round"/>
<polyline points="412.2,176.3 414.0,158.3 415.8,145.2 419.4,141.9 424.7,140.4 431.8,140.4 438.9,140.1 442.5,144.0 446.0,149.9 449.6,146.4 453.2,142.9 460.3,140.6 469.2,141.0 478.1,140.4 481.6,155.9 485.2,141.0 495.8,140.2 501.2,141.8 504.7,173.6 508.3,142.5 513.6,138.8 522.5,141.0 531.4,139.2 538.5,143.5 543.9,152.0 549.2,159.6 554.6,145.2 559.9,140.8 567.0,142.1 572.3,146.4 575.9,153.7 579.5,142.4 588.4,142.2 599.0,141.6 607.9,147.0 613.3,152.7 618.6,145.7 627.5,143.8 634.6,147.5 639.9,156.4 645.3,147.2 650.6,143.1 659.5,141.6 664.9,143.4 668.4,173.1" fill="none" stroke="#131313" stroke-width="2.2" stroke-linejoin="round"/>
</g>
<rect x="395.2" y="124.5" width="288.3" height="54.7" fill="none" stroke="#9C9C9C" stroke-width="1.0"/>
<line x1="393.0" x2="395.2" y1="177.50" y2="177.50" stroke="#9C9C9C" stroke-width="0.8"/>
<text x="391.9" y="180.6" font-size="8.7" text-anchor="end" fill="#3a3a3a" >0.00</text>
<line x1="393.0" x2="395.2" y1="164.97" y2="164.97" stroke="#9C9C9C" stroke-width="0.8"/>
<text x="391.9" y="168.1" font-size="8.7" text-anchor="end" fill="#3a3a3a" >0.25</text>
<line x1="393.0" x2="395.2" y1="152.45" y2="152.45" stroke="#9C9C9C" stroke-width="0.8"/>
<text x="391.9" y="155.5" font-size="8.7" text-anchor="end" fill="#3a3a3a" >0.50</text>
<line x1="393.0" x2="395.2" y1="139.93" y2="139.93" stroke="#9C9C9C" stroke-width="0.8"/>
<text x="391.9" y="143.0" font-size="8.7" text-anchor="end" fill="#3a3a3a" >0.75</text>
<line x1="393.0" x2="395.2" y1="127.40" y2="127.40" stroke="#9C9C9C" stroke-width="0.8"/>
<text x="391.9" y="130.5" font-size="8.7" text-anchor="end" fill="#3a3a3a" >1.00</text>
<text transform="translate(368.6,151.8) rotate(-90)" font-size="11" text-anchor="middle" fill="#1a1a1a">hetNOE</text>
<line y1="179.2" y2="181.4" x1="406.90" x2="406.90" stroke="#9C9C9C" stroke-width="0.8"/>
<text x="406.9" y="188.6" font-size="8.7" text-anchor="middle" fill="#3a3a3a" >0</text>
<line y1="179.2" y2="181.4" x1="495.85" x2="495.85" stroke="#9C9C9C" stroke-width="0.8"/>
<text x="495.8" y="188.6" font-size="8.7" text-anchor="middle" fill="#3a3a3a" >50</text>
<line y1="179.2" y2="181.4" x1="584.80" x2="584.80" stroke="#9C9C9C" stroke-width="0.8"/>
<text x="584.8" y="188.6" font-size="8.7" text-anchor="middle" fill="#3a3a3a" >100</text>
<line y1="179.2" y2="181.4" x1="673.75" x2="673.75" stroke="#9C9C9C" stroke-width="0.8"/>
<text x="673.8" y="188.6" font-size="8.7" text-anchor="middle" fill="#3a3a3a" >150</text>
<text x="539.4" y="199.6" font-size="10.5" text-anchor="middle" fill="#111" >residues</text>
<text x="35.2" y="318.7" font-size="13.3" fill="#111">CDNF</text>
<rect x="36.0" y="325.3" width="288.3" height="50.7" fill="#fff"/>
<line x1="36.0" x2="324.3" y1="368.18" y2="368.18" stroke="#EFEFEF" stroke-width="0.5"/>
<line x1="36.0" x2="324.3" y1="356.52" y2="356.52" stroke="#EFEFEF" stroke-width="0.5"/>
<line x1="36.0" x2="324.3" y1="344.88" y2="344.88" stroke="#EFEFEF" stroke-width="0.5"/>
<line x1="36.0" x2="324.3" y1="333.22" y2="333.22" stroke="#EFEFEF" stroke-width="0.5"/>
<line y1="325.3" y2="376.0" x1="88.45" x2="88.45" stroke="#EFEFEF" stroke-width="0.5"/>
<line y1="325.3" y2="376.0" x1="170.35" x2="170.35" stroke="#EFEFEF" stroke-width="0.5"/>
<line y1="325.3" y2="376.0" x1="252.25" x2="252.25" stroke="#EFEFEF" stroke-width="0.5"/>
<line x1="36.0" x2="324.3" y1="374.00" y2="374.00" stroke="#DEDEDE" stroke-width="0.7"/>
<line x1="36.0" x2="324.3" y1="362.35" y2="362.35" stroke="#DEDEDE" stroke-width="0.7"/>
<line x1="36.0" x2="324.3" y1="350.70" y2="350.70" stroke="#DEDEDE" stroke-width="0.7"/>
<line x1="36.0" x2="324.3" y1="339.05" y2="339.05" stroke="#DEDEDE" stroke-width="0.7"/>
<line x1="36.0" x2="324.3" y1="327.40" y2="327.40" stroke="#DEDEDE" stroke-width="0.7"/>
<line y1="325.3" y2="376.0" x1="47.50" x2="47.50" stroke="#DEDEDE" stroke-width="0.7"/>
<line y1="325.3" y2="376.0" x1="129.40" x2="129.40" stroke="#DEDEDE" stroke-width="0.7"/>
<line y1="325.3" y2="376.0" x1="211.30" x2="211.30" stroke="#DEDEDE" stroke-width="0.7"/>
<line y1="325.3" y2="376.0" x1="293.20" x2="293.20" stroke="#DEDEDE" stroke-width="0.7"/>
<clipPath id="cc1"><rect x="36.0" y="325.3" width="288.3" height="50.7"/></clipPath>
<g clip-path="url(#cc1)">
<path d="M52.5 354.8h3.2m-1.6 0v3.0m-1.6 0h3.2M55.7 356.2h3.2m-1.6 0v6.7m-1.6 0h3.2M62.3 356.5h3.2m-1.6 0v4.8m-1.6 0h3.2M65.6 354.4h3.2m-1.6 0v9.6m-1.6 0h3.2M70.5 356.5h3.2m-1.6 0v7.7m-1.6 0h3.2M75.4 359.3h3.2m-1.6 0v4.3m-1.6 0h3.2M77.0 353.7h3.2m-1.6 0v10.0m-1.6 0h3.2M78.7 357.1h3.2m-1.6 0v5.7m-1.6 0h3.2M81.9 350.5h3.2m-1.6 0v8.3m-1.6 0h3.2M83.6 356.2h3.2m-1.6 0v5.8m-1.6 0h3.2M85.2 354.8h3.2m-1.6 0v9.0m-1.6 0h3.2M86.8 354.3h3.2m-1.6 0v9.0m-1.6 0h3.2M90.1 355.0h3.2m-1.6 0v5.0m-1.6 0h3.2M96.7 353.3h3.2m-1.6 0v3.9m-1.6 0h3.2M111.4 355.0h3.2m-1.6 0v3.0m-1.6 0h3.2M118.0 354.3h3.2m-1.6 0v5.3m-1.6 0h3.2M119.6 356.0h3.2m-1.6 0v7.7m-1.6 0h3.2M122.9 354.0h3.2m-1.6 0v5.6m-1.6 0h3.2M129.4 354.1h3.2m-1.6 0v8.3m-1.6 0h3.2M134.4 353.2h3.2m-1.6 0v9.2m-1.6 0h3.2M139.3 354.0h3.2m-1.6 0v5.3m-1.6 0h3.2M144.2 353.6h3.2m-1.6 0v5.9m-1.6 0h3.2M150.7 357.4h3.2m-1.6 0v4.4m-1.6 0h3.2M152.4 353.4h3.2m-1.6 0v6.5m-1.6 0h3.2M158.9 353.3h3.2m-1.6 0v10.4m-1.6 0h3.2M160.6 356.7h3.2m-1.6 0v4.1m-1.6 0h3.2M175.3 354.8h3.2m-1.6 0v8.2m-1.6 0h3.2M176.9 354.8h3.2m-1.6 0v7.1m-1.6 0h3.2M183.5 352.5h3.2m-1.6 0v8.9m-1.6 0h3.2M185.1 353.0h3.2m-1.6 0v4.4m-1.6 0h3.2M186.8 351.4h3.2m-1.6 0v7.9m-1.6 0h3.2M190.0 353.7h3.2m-1.6 0v6.5m-1.6 0h3.2M191.7 354.1h3.2m-1.6 0v8.3m-1.6 0h3.2M193.3 351.8h3.2m-1.6 0v9.7m-1.6 0h3.2M196.6 353.8h3.2m-1.6 0v9.1m-1.6 0h3.2M209.7 352.5h3.2m-1.6 0v7.4m-1.6 0h3.2M217.9 354.2h3.2m-1.6 0v6.9m-1.6 0h3.2M221.2 356.7h3.2m-1.6 0v4.9m-1.6 0h3.2M222.8 353.9h3.2m-1.6 0v8.1m-1.6 0h3.2M224.4 355.3h3.2m-1.6 0v4.0m-1.6 0h3.2M227.7 355.6h3.2m-1.6 0v8.0m-1.6 0h3.2M232.6 353.2h3.2m-1.6 0v4.3m-1.6 0h3.2M240.8 356.5h3.2m-1.6 0v8.2m-1.6 0h3.2M260.5 356.7h3.2m-1.6 0v5.7m-1.6 0h3.2M270.3 356.4h3.2m-1.6 0v4.0m-1.6 0h3.2M280.1 351.3h3.2m-1.6 0v8.9m-1.6 0h3.2M281.8 355.6h3.2m-1.6 0v7.3m-1.6 0h3.2M286.7 344.3h3.2m-1.6 0v4.3m-1.6 0h3.2M290.0 355.1h3.2m-1.6 0v9.9m-1.6 0h3.2M293.2 352.6h3.2m-1.6 0v8.3m-1.6 0h3.2M298.2 355.0h3.2m-1.6 0v5.5m-1.6 0h3.2M303.1 357.1h3.2m-1.6 0v6.0m-1.6 0h3.2" stroke="#F5241E" stroke-width="0.8" stroke-opacity="0.75" fill="none"/>
<path d="M54.1 353.2h3.2m-1.6 0v4.4m-1.6 0h3.2M55.7 350.8h3.2m-1.6 0v4.1m-1.6 0h3.2M59.0 354.5h3.2m-1.6 0v4.7m-1.6 0h3.2M62.3 351.4h3.2m-1.6 0v8.6m-1.6 0h3.2M63.9 353.0h3.2m-1.6 0v4.2m-1.6 0h3.2M70.5 357.1h3.2m-1.6 0v7.0m-1.6 0h3.2M77.0 349.0h3.2m-1.6 0v6.8m-1.6 0h3.2M78.7 350.0h3.2m-1.6 0v6.0m-1.6 0h3.2M86.8 347.3h3.2m-1.6 0v5.9m-1.6 0h3.2M91.8 348.0h3.2m-1.6 0v3.6m-1.6 0h3.2M95.0 349.0h3.2m-1.6 0v3.8m-1.6 0h3.2M96.7 344.8h3.2m-1.6 0v6.9m-1.6 0h3.2M98.3 349.1h3.2m-1.6 0v4.1m-1.6 0h3.2M111.4 344.5h3.2m-1.6 0v3.5m-1.6 0h3.2M118.0 345.5h3.2m-1.6 0v7.0m-1.6 0h3.2M121.2 346.4h3.2m-1.6 0v7.1m-1.6 0h3.2M124.5 342.2h3.2m-1.6 0v5.2m-1.6 0h3.2M127.8 343.8h3.2m-1.6 0v8.8m-1.6 0h3.2M132.7 350.6h3.2m-1.6 0v3.2m-1.6 0h3.2M134.4 346.8h3.2m-1.6 0v2.7m-1.6 0h3.2M140.9 345.6h3.2m-1.6 0v7.6m-1.6 0h3.2M144.2 345.2h3.2m-1.6 0v3.6m-1.6 0h3.2M145.8 342.0h3.2m-1.6 0v8.1m-1.6 0h3.2M149.1 341.8h3.2m-1.6 0v3.9m-1.6 0h3.2M150.7 346.3h3.2m-1.6 0v6.4m-1.6 0h3.2M157.3 348.7h3.2m-1.6 0v4.1m-1.6 0h3.2M163.8 342.9h3.2m-1.6 0v8.1m-1.6 0h3.2M183.5 349.2h3.2m-1.6 0v5.3m-1.6 0h3.2M191.7 350.4h3.2m-1.6 0v4.9m-1.6 0h3.2M196.6 352.3h3.2m-1.6 0v6.1m-1.6 0h3.2M201.5 350.7h3.2m-1.6 0v2.7m-1.6 0h3.2M203.1 349.8h3.2m-1.6 0v5.9m-1.6 0h3.2M204.8 350.7h3.2m-1.6 0v3.6m-1.6 0h3.2M211.3 351.6h3.2m-1.6 0v5.7m-1.6 0h3.2M214.6 350.7h3.2m-1.6 0v8.3m-1.6 0h3.2M219.5 353.9h3.2m-1.6 0v2.4m-1.6 0h3.2M226.1 352.4h3.2m-1.6 0v7.6m-1.6 0h3.2M239.2 352.9h3.2m-1.6 0v5.5m-1.6 0h3.2M249.0 353.1h3.2m-1.6 0v4.1m-1.6 0h3.2M250.7 351.0h3.2m-1.6 0v8.1m-1.6 0h3.2M253.9 351.6h3.2m-1.6 0v4.2m-1.6 0h3.2M255.6 351.6h3.2m-1.6 0v6.3m-1.6 0h3.2M258.8 351.6h3.2m-1.6 0v7.8m-1.6 0h3.2M267.0 352.6h3.2m-1.6 0v2.5m-1.6 0h3.2M270.3 352.4h3.2m-1.6 0v4.6m-1.6 0h3.2M275.2 351.3h3.2m-1.6 0v8.1m-1.6 0h3.2M280.1 354.0h3.2m-1.6 0v3.1m-1.6 0h3.2M281.8 353.9h3.2m-1.6 0v7.4m-1.6 0h3.2M291.6 353.0h3.2m-1.6 0v3.5m-1.6 0h3.2M296.5 352.4h3.2m-1.6 0v7.5m-1.6 0h3.2M301.4 359.2h3.2m-1.6 0v3.1m-1.6 0h3.2M304.7 357.5h3.2m-1.6 0v2.4m-1.6 0h3.2" stroke="#42A07B" stroke-width="0.8" stroke-opacity="0.75" fill="none"/>
<path d="M54.1 346.1h3.2m-1.6 0v14.1m-1.6 0h3.2M55.7 346.7h3.2m-1.6 0v8.8m-1.6 0h3.2M57.4 348.2h3.2m-1.6 0v10.2m-1.6 0h3.2M62.3 352.8h3.2m-1.6 0v4.2m-1.6 0h3.2M65.6 349.3h3.2m-1.6 0v12.2m-1.6 0h3.2M73.7 346.2h3.2m-1.6 0v14.2m-1.6 0h3.2M78.7 339.9h3.2m-1.6 0v13.2m-1.6 0h3.2M88.5 343.0h3.2m-1.6 0v14.5m-1.6 0h3.2M90.1 339.6h3.2m-1.6 0v8.6m-1.6 0h3.2M95.0 345.6h3.2m-1.6 0v7.2m-1.6 0h3.2M101.6 345.6h3.2m-1.6 0v3.9m-1.6 0h3.2M104.9 338.0h3.2m-1.6 0v14.0m-1.6 0h3.2M108.1 339.9h3.2m-1.6 0v5.7m-1.6 0h3.2M109.8 346.8h3.2m-1.6 0v5.9m-1.6 0h3.2M111.4 338.0h3.2m-1.6 0v12.3m-1.6 0h3.2M114.7 338.4h3.2m-1.6 0v9.5m-1.6 0h3.2M121.2 343.8h3.2m-1.6 0v4.2m-1.6 0h3.2M127.8 343.7h3.2m-1.6 0v4.3m-1.6 0h3.2M132.7 341.7h3.2m-1.6 0v6.8m-1.6 0h3.2M134.4 337.4h3.2m-1.6 0v13.2m-1.6 0h3.2M137.6 341.6h3.2m-1.6 0v7.7m-1.6 0h3.2M139.3 343.6h3.2m-1.6 0v4.0m-1.6 0h3.2M144.2 344.6h3.2m-1.6 0v7.6m-1.6 0h3.2M147.5 340.1h3.2m-1.6 0v11.6m-1.6 0h3.2M150.7 337.5h3.2m-1.6 0v12.5m-1.6 0h3.2M152.4 334.2h3.2m-1.6 0v14.7m-1.6 0h3.2M154.0 339.6h3.2m-1.6 0v5.7m-1.6 0h3.2M157.3 341.3h3.2m-1.6 0v8.8m-1.6 0h3.2M160.6 344.0h3.2m-1.6 0v6.2m-1.6 0h3.2M163.8 341.3h3.2m-1.6 0v8.8m-1.6 0h3.2M165.5 341.6h3.2m-1.6 0v10.8m-1.6 0h3.2M168.8 341.2h3.2m-1.6 0v12.5m-1.6 0h3.2M172.0 339.7h3.2m-1.6 0v12.5m-1.6 0h3.2M173.7 337.9h3.2m-1.6 0v13.8m-1.6 0h3.2M180.2 345.5h3.2m-1.6 0v5.8m-1.6 0h3.2M188.4 347.1h3.2m-1.6 0v4.6m-1.6 0h3.2M201.5 344.0h3.2m-1.6 0v8.1m-1.6 0h3.2M209.7 346.4h3.2m-1.6 0v10.9m-1.6 0h3.2M213.0 346.5h3.2m-1.6 0v14.6m-1.6 0h3.2M214.6 348.0h3.2m-1.6 0v4.2m-1.6 0h3.2M216.3 345.5h3.2m-1.6 0v8.3m-1.6 0h3.2M219.5 345.0h3.2m-1.6 0v14.3m-1.6 0h3.2M222.8 349.0h3.2m-1.6 0v12.5m-1.6 0h3.2M224.4 348.7h3.2m-1.6 0v11.7m-1.6 0h3.2M226.1 348.9h3.2m-1.6 0v12.7m-1.6 0h3.2M227.7 347.7h3.2m-1.6 0v11.4m-1.6 0h3.2M229.4 347.4h3.2m-1.6 0v9.3m-1.6 0h3.2M231.0 353.3h3.2m-1.6 0v5.4m-1.6 0h3.2M235.9 346.5h3.2m-1.6 0v14.5m-1.6 0h3.2M237.5 346.7h3.2m-1.6 0v12.7m-1.6 0h3.2M250.7 342.2h3.2m-1.6 0v14.9m-1.6 0h3.2M252.3 344.3h3.2m-1.6 0v14.4m-1.6 0h3.2M255.6 351.1h3.2m-1.6 0v13.7m-1.6 0h3.2M257.2 346.7h3.2m-1.6 0v11.8m-1.6 0h3.2M270.3 348.3h3.2m-1.6 0v5.7m-1.6 0h3.2M271.9 352.8h3.2m-1.6 0v4.9m-1.6 0h3.2M278.5 350.5h3.2m-1.6 0v8.8m-1.6 0h3.2M281.8 349.1h3.2m-1.6 0v11.7m-1.6 0h3.2M283.4 352.4h3.2m-1.6 0v4.1m-1.6 0h3.2M288.3 348.7h3.2m-1.6 0v12.5m-1.6 0h3.2M290.0 352.1h3.2m-1.6 0v7.1m-1.6 0h3.2M301.4 354.7h3.2m-1.6 0v5.8m-1.6 0h3.2M304.7 355.1h3.2m-1.6 0v6.5m-1.6 0h3.2" stroke="#E2A22E" stroke-width="0.8" stroke-opacity="0.75" fill="none"/>
<path d="M49.2 354.5h3.2m-1.6 0v2.6m-1.6 0h3.2M68.8 353.4h3.2m-1.6 0v6.5m-1.6 0h3.2M83.6 353.6h3.2m-1.6 0v2.8m-1.6 0h3.2M85.2 350.3h3.2m-1.6 0v9.5m-1.6 0h3.2M90.1 348.5h3.2m-1.6 0v7.4m-1.6 0h3.2M91.8 349.3h3.2m-1.6 0v6.8m-1.6 0h3.2M96.7 351.8h3.2m-1.6 0v9.9m-1.6 0h3.2M101.6 350.8h3.2m-1.6 0v8.3m-1.6 0h3.2M106.5 354.7h3.2m-1.6 0v5.2m-1.6 0h3.2M111.4 351.1h3.2m-1.6 0v7.4m-1.6 0h3.2M113.1 348.5h3.2m-1.6 0v8.9m-1.6 0h3.2M114.7 350.0h3.2m-1.6 0v8.3m-1.6 0h3.2M118.0 351.0h3.2m-1.6 0v4.6m-1.6 0h3.2M124.5 350.8h3.2m-1.6 0v9.5m-1.6 0h3.2M129.4 351.0h3.2m-1.6 0v8.2m-1.6 0h3.2M132.7 348.6h3.2m-1.6 0v6.8m-1.6 0h3.2M134.4 350.5h3.2m-1.6 0v10.0m-1.6 0h3.2M140.9 349.0h3.2m-1.6 0v6.4m-1.6 0h3.2M147.5 351.2h3.2m-1.6 0v6.5m-1.6 0h3.2M152.4 353.4h3.2m-1.6 0v4.3m-1.6 0h3.2M155.6 350.5h3.2m-1.6 0v10.1m-1.6 0h3.2M157.3 355.0h3.2m-1.6 0v4.2m-1.6 0h3.2M160.6 351.9h3.2m-1.6 0v2.9m-1.6 0h3.2M170.4 348.1h3.2m-1.6 0v8.9m-1.6 0h3.2M172.0 352.2h3.2m-1.6 0v7.4m-1.6 0h3.2M175.3 353.7h3.2m-1.6 0v6.9m-1.6 0h3.2M185.1 350.1h3.2m-1.6 0v8.0m-1.6 0h3.2M186.8 347.5h3.2m-1.6 0v9.9m-1.6 0h3.2M191.7 353.5h3.2m-1.6 0v6.8m-1.6 0h3.2M196.6 354.9h3.2m-1.6 0v4.9m-1.6 0h3.2M203.1 353.2h3.2m-1.6 0v10.0m-1.6 0h3.2M213.0 352.6h3.2m-1.6 0v6.6m-1.6 0h3.2M216.3 352.0h3.2m-1.6 0v7.4m-1.6 0h3.2M219.5 354.9h3.2m-1.6 0v7.4m-1.6 0h3.2M222.8 353.7h3.2m-1.6 0v9.3m-1.6 0h3.2M224.4 351.4h3.2m-1.6 0v8.7m-1.6 0h3.2M226.1 355.7h3.2m-1.6 0v9.6m-1.6 0h3.2M227.7 355.9h3.2m-1.6 0v8.1m-1.6 0h3.2M234.3 359.0h3.2m-1.6 0v6.1m-1.6 0h3.2M244.1 354.4h3.2m-1.6 0v6.8m-1.6 0h3.2M250.7 355.9h3.2m-1.6 0v8.1m-1.6 0h3.2M253.9 355.3h3.2m-1.6 0v3.0m-1.6 0h3.2M258.8 356.2h3.2m-1.6 0v3.1m-1.6 0h3.2M263.8 356.4h3.2m-1.6 0v6.9m-1.6 0h3.2M268.7 358.1h3.2m-1.6 0v2.7m-1.6 0h3.2M271.9 353.7h3.2m-1.6 0v6.6m-1.6 0h3.2M278.5 357.3h3.2m-1.6 0v3.7m-1.6 0h3.2M281.8 357.2h3.2m-1.6 0v7.3m-1.6 0h3.2M308.0 359.8h3.2m-1.6 0v2.6m-1.6 0h3.2" stroke="#EC7627" stroke-width="0.8" stroke-opacity="0.75" fill="none"/>
<path d="M55.7 354.5h3.2m-1.6 0v6.5m-1.6 0h3.2M63.9 356.2h3.2m-1.6 0v5.6m-1.6 0h3.2M65.6 354.9h3.2m-1.6 0v7.4m-1.6 0h3.2M68.8 357.4h3.2m-1.6 0v8.8m-1.6 0h3.2M81.9 352.9h3.2m-1.6 0v2.2m-1.6 0h3.2M93.4 348.9h3.2m-1.6 0v7.5m-1.6 0h3.2M104.9 347.6h3.2m-1.6 0v6.2m-1.6 0h3.2M114.7 351.1h3.2m-1.6 0v5.2m-1.6 0h3.2M119.6 351.3h3.2m-1.6 0v2.9m-1.6 0h3.2M121.2 352.6h3.2m-1.6 0v7.6m-1.6 0h3.2M122.9 352.5h3.2m-1.6 0v5.8m-1.6 0h3.2M129.4 349.2h3.2m-1.6 0v5.8m-1.6 0h3.2M144.2 349.7h3.2m-1.6 0v6.1m-1.6 0h3.2M145.8 347.4h3.2m-1.6 0v5.6m-1.6 0h3.2M147.5 350.8h3.2m-1.6 0v4.2m-1.6 0h3.2M160.6 350.2h3.2m-1.6 0v4.3m-1.6 0h3.2M165.5 348.7h3.2m-1.6 0v3.7m-1.6 0h3.2M183.5 350.1h3.2m-1.6 0v7.7m-1.6 0h3.2M186.8 350.3h3.2m-1.6 0v8.5m-1.6 0h3.2M191.7 351.4h3.2m-1.6 0v3.2m-1.6 0h3.2M204.8 354.1h3.2m-1.6 0v4.0m-1.6 0h3.2M211.3 351.0h3.2m-1.6 0v5.0m-1.6 0h3.2M214.6 350.3h3.2m-1.6 0v6.0m-1.6 0h3.2M216.3 355.1h3.2m-1.6 0v5.6m-1.6 0h3.2M219.5 349.2h3.2m-1.6 0v8.5m-1.6 0h3.2M224.4 355.1h3.2m-1.6 0v6.8m-1.6 0h3.2M234.3 356.6h3.2m-1.6 0v5.0m-1.6 0h3.2M235.9 352.5h3.2m-1.6 0v5.6m-1.6 0h3.2M237.5 351.3h3.2m-1.6 0v7.1m-1.6 0h3.2M242.5 356.3h3.2m-1.6 0v2.6m-1.6 0h3.2M249.0 355.0h3.2m-1.6 0v6.4m-1.6 0h3.2M255.6 355.5h3.2m-1.6 0v2.3m-1.6 0h3.2M262.1 351.9h3.2m-1.6 0v8.3m-1.6 0h3.2M268.7 355.6h3.2m-1.6 0v5.3m-1.6 0h3.2M273.6 354.9h3.2m-1.6 0v2.4m-1.6 0h3.2M275.2 352.0h3.2m-1.6 0v3.2m-1.6 0h3.2M276.9 350.2h3.2m-1.6 0v7.8m-1.6 0h3.2M281.8 357.4h3.2m-1.6 0v4.3m-1.6 0h3.2M291.6 354.3h3.2m-1.6 0v6.5m-1.6 0h3.2M296.5 359.1h3.2m-1.6 0v3.8m-1.6 0h3.2M298.2 357.2h3.2m-1.6 0v5.7m-1.6 0h3.2" stroke="#63BBCD" stroke-width="0.8" stroke-opacity="0.75" fill="none"/>
<polyline points="50.8,358.6 52.4,357.7 54.1,356.3 55.7,359.5 57.3,359.5 59.0,356.0 60.6,356.7 62.2,358.7 63.9,358.9 65.5,361.0 67.2,359.2 68.8,360.5 70.4,361.7 72.1,360.4 73.7,361.5 75.3,360.4 77.0,361.4 78.6,358.7 80.3,360.0 81.9,357.5 83.5,354.6 85.2,359.1 86.8,359.3 88.4,358.8 90.1,359.3 91.7,357.4 93.4,358.2 95.0,360.1 96.6,357.2 98.3,355.3 99.9,358.4 101.6,360.8 103.2,357.8 104.8,357.9 106.5,358.1 108.1,358.9 109.7,359.3 111.4,359.4 113.0,356.5 114.7,357.8 116.3,358.5 117.9,359.1 119.6,357.0 121.2,359.8 122.8,357.2 124.5,356.8 126.1,357.1 127.8,355.7 129.4,358.7 131.0,358.2 132.7,356.7 134.3,357.1 136.0,357.8 137.6,356.6 139.2,357.4 140.9,356.6 142.5,356.4 144.1,358.0 145.8,356.5 147.4,355.5 149.1,359.3 150.7,356.1 152.3,359.6 154.0,356.6 155.6,357.8 157.2,358.1 158.9,357.9 160.5,358.5 162.2,358.7 163.8,360.4 165.4,358.9 167.1,357.5 168.7,357.7 170.3,356.1 172.0,359.5 173.6,357.5 175.3,355.8 176.9,358.9 178.5,358.3 180.2,358.8 181.8,355.5 183.5,359.0 185.1,357.0 186.7,355.2 188.4,355.3 190.0,357.6 191.6,357.0 193.3,358.2 194.9,356.7 196.6,358.0 198.2,358.3 199.8,360.0 201.5,357.0 203.1,359.7 204.7,360.1 206.4,360.2 208.0,358.5 209.7,362.3 211.3,356.2 212.9,358.8 214.6,357.2 216.2,358.5 217.9,355.4 219.5,357.6 221.1,355.4 222.8,359.1 224.4,357.9 226.0,357.3 227.7,357.4 229.3,359.5 231.0,358.6 232.6,357.7 234.2,355.3 235.9,358.2 237.5,358.2 239.1,358.5 240.8,357.0 242.4,360.6 244.1,358.3 245.7,356.3 247.3,358.3 249.0,356.4 250.6,357.5 252.2,358.5 253.9,358.2 255.5,355.3 257.2,355.4 258.8,357.9 260.4,356.8 262.1,359.5 263.7,358.5 265.4,357.6 267.0,359.6 268.6,358.5 270.3,358.7 271.9,358.4 273.5,358.9 275.2,359.3 276.8,357.9 278.5,360.1 280.1,357.8 281.7,355.7 283.4,359.3 285.0,359.1 286.6,352.8 288.3,346.5 289.9,353.4 291.6,360.1 293.2,357.1 294.8,356.7 296.5,359.0 298.1,358.2 299.8,357.7 301.4,357.7 303.0,359.7 304.7,360.1 306.3,358.7 307.9,360.6 309.6,359.6" fill="none" stroke="#F5241E" stroke-width="1.7" stroke-linejoin="round"/>
<polyline points="50.8,354.0 52.4,352.3 54.1,356.2 55.7,355.4 57.3,352.8 59.0,355.1 60.6,356.9 62.2,356.9 63.9,355.7 65.5,355.1 67.2,358.5 68.8,358.3 70.4,358.4 72.1,360.6 73.7,358.8 75.3,354.1 77.0,353.0 78.6,352.4 80.3,353.0 81.9,351.4 83.5,351.6 85.2,352.1 86.8,350.8 88.4,350.2 90.1,347.3 91.7,346.8 93.4,349.8 95.0,348.6 96.6,350.9 98.3,348.3 99.9,351.2 101.6,348.9 103.2,350.6 104.8,348.5 106.5,348.0 108.1,346.3 109.7,346.8 111.4,348.3 113.0,346.2 114.7,347.4 116.3,346.8 117.9,349.0 119.6,349.0 121.2,348.2 122.8,349.9 124.5,346.7 126.1,344.8 127.8,350.8 129.4,348.2 131.0,348.5 132.7,349.6 134.3,352.2 136.0,348.2 137.6,349.6 139.2,347.2 140.9,349.3 142.5,349.4 144.1,349.6 145.8,347.0 147.4,346.0 149.1,346.8 150.7,343.8 152.3,349.6 154.0,344.7 155.6,348.1 157.2,348.5 158.9,350.8 160.5,347.5 162.2,349.2 163.8,350.8 165.4,346.9 167.1,351.4 168.7,352.5 170.3,350.0 172.0,348.3 173.6,351.3 175.3,350.8 176.9,350.0 178.5,349.3 180.2,349.6 181.8,353.2 183.5,351.6 185.1,351.8 186.7,349.1 188.4,350.4 190.0,350.3 191.6,348.3 193.3,352.8 194.9,353.6 196.6,353.8 198.2,355.4 199.8,354.0 201.5,350.8 203.1,352.1 204.7,352.7 206.4,352.5 208.0,350.5 209.7,353.7 211.3,352.2 212.9,354.5 214.6,353.8 216.2,354.9 217.9,353.4 219.5,350.2 221.1,355.1 222.8,354.3 224.4,355.1 226.0,356.9 227.7,356.3 229.3,355.7 231.0,354.7 232.6,355.9 234.2,354.6 235.9,352.6 237.5,355.2 239.1,356.4 240.8,355.6 242.4,356.0 244.1,356.3 245.7,356.7 247.3,357.4 249.0,352.3 250.6,355.2 252.2,355.0 253.9,354.9 255.5,353.6 257.2,354.8 258.8,353.0 260.4,355.5 262.1,354.5 263.7,352.1 265.4,353.9 267.0,352.5 268.6,353.9 270.3,354.1 271.9,354.7 273.5,356.2 275.2,356.8 276.8,355.4 278.5,355.4 280.1,355.7 281.7,355.6 283.4,357.6 285.0,355.9 286.6,356.1 288.3,355.4 289.9,357.6 291.6,355.0 293.2,354.8 294.8,353.9 296.5,355.6 298.1,356.1 299.8,356.5 301.4,356.5 303.0,360.7 304.7,358.2 306.3,358.7 307.9,360.4 309.6,360.8" fill="none" stroke="#42A07B" stroke-width="1.7" stroke-linejoin="round"/>
<polyline points="50.8,357.0 52.4,354.4 54.1,354.0 55.7,353.1 57.3,351.1 59.0,353.3 60.6,352.0 62.2,355.6 63.9,354.9 65.5,354.4 67.2,355.4 68.8,355.1 70.4,354.3 72.1,356.1 73.7,354.7 75.3,353.4 77.0,352.3 78.6,351.3 80.3,346.4 81.9,348.8 83.5,344.2 85.2,350.1 86.8,348.6 88.4,348.4 90.1,350.2 91.7,343.9 93.4,345.9 95.0,346.1 96.6,349.2 98.3,346.7 99.9,347.4 101.6,345.4 103.2,347.5 104.8,342.7 106.5,345.0 108.1,348.1 109.7,342.8 111.4,349.7 113.0,344.1 114.7,345.5 116.3,343.2 117.9,343.4 119.6,340.9 121.2,345.3 122.8,345.9 124.5,343.7 126.1,341.5 127.8,343.3 129.4,345.8 131.0,347.0 132.7,344.0 134.3,345.1 136.0,344.0 137.6,345.9 139.2,345.5 140.9,345.6 142.5,345.2 144.1,345.9 145.8,348.4 147.4,347.0 149.1,345.8 150.7,345.3 152.3,343.7 154.0,341.6 155.6,342.4 157.2,344.4 158.9,345.7 160.5,346.5 162.2,347.2 163.8,346.3 165.4,345.7 167.1,347.0 168.7,345.9 170.3,347.5 172.0,343.8 173.6,345.9 175.3,344.7 176.9,343.6 178.5,343.1 180.2,343.0 181.8,348.4 183.5,346.3 185.1,345.7 186.7,347.4 188.4,345.8 190.0,349.4 191.6,346.6 193.3,345.5 194.9,348.7 196.6,348.3 198.2,348.4 199.8,348.4 201.5,348.6 203.1,348.0 204.7,353.0 206.4,348.3 208.0,350.6 209.7,350.2 211.3,351.9 212.9,353.2 214.6,353.8 216.2,350.1 217.9,349.7 219.5,351.6 221.1,352.1 222.8,356.4 224.4,355.2 226.0,354.6 227.7,355.2 229.3,353.4 231.0,352.1 232.6,356.0 234.2,355.0 235.9,357.7 237.5,353.7 239.1,353.1 240.8,353.1 242.4,352.2 244.1,354.1 245.7,353.7 247.3,353.3 249.0,353.6 250.6,350.6 252.2,349.6 253.9,351.5 255.5,355.7 257.2,357.9 258.8,352.5 260.4,353.5 262.1,355.7 263.7,350.9 265.4,352.2 267.0,352.1 268.6,352.1 270.3,355.5 271.9,351.1 273.5,355.2 275.2,355.0 276.8,356.1 278.5,354.1 280.1,354.9 281.7,357.2 283.4,354.9 285.0,354.4 286.6,354.5 288.3,354.8 289.9,355.0 291.6,355.7 293.2,356.8 294.8,353.2 296.5,355.6 298.1,357.5 299.8,356.1 301.4,360.1 303.0,357.6 304.7,358.1 306.3,358.3 307.9,357.6 309.6,357.7" fill="none" stroke="#E2A22E" stroke-width="1.7" stroke-linejoin="round"/>
<polyline points="50.8,355.8 52.4,355.1 54.1,355.3 55.7,353.6 57.3,356.3 59.0,357.3 60.6,356.9 62.2,356.0 63.9,356.6 65.5,356.9 67.2,357.7 68.8,358.6 70.4,356.6 72.1,358.5 73.7,357.5 75.3,357.4 77.0,355.6 78.6,354.8 80.3,355.1 81.9,355.4 83.5,353.1 85.2,355.0 86.8,355.0 88.4,356.1 90.1,353.9 91.7,352.2 93.4,352.7 95.0,353.2 96.6,353.1 98.3,356.7 99.9,352.8 101.6,353.3 103.2,355.0 104.8,357.4 106.5,352.7 108.1,357.3 109.7,354.9 111.4,356.8 113.0,354.8 114.7,352.9 116.3,354.1 117.9,351.3 119.6,353.3 121.2,351.6 122.8,355.7 124.5,356.1 126.1,355.6 127.8,356.2 129.4,352.6 131.0,355.1 132.7,353.1 134.3,352.0 136.0,355.5 137.6,355.5 139.2,354.1 140.9,354.9 142.5,352.2 144.1,354.4 145.8,355.0 147.4,354.0 149.1,354.4 150.7,352.6 152.3,354.4 154.0,355.5 155.6,355.9 157.2,355.6 158.9,357.1 160.5,354.4 162.2,353.3 163.8,351.9 165.4,355.0 167.1,356.8 168.7,356.1 170.3,352.7 172.0,352.5 173.6,355.9 175.3,352.6 176.9,357.1 178.5,353.9 180.2,356.0 181.8,357.5 183.5,356.8 185.1,357.0 186.7,354.1 188.4,352.4 190.0,354.2 191.6,360.1 193.3,356.9 194.9,353.9 196.6,354.6 198.2,357.3 199.8,358.6 201.5,359.5 203.1,360.0 204.7,358.2 206.4,357.5 208.0,355.9 209.7,358.1 211.3,357.5 212.9,358.6 214.6,355.9 216.2,358.7 217.9,355.7 219.5,357.5 221.1,358.6 222.8,359.4 224.4,358.4 226.0,355.8 227.7,360.5 229.3,359.9 231.0,357.0 232.6,357.4 234.2,358.3 235.9,362.1 237.5,359.1 239.1,360.1 240.8,361.9 242.4,358.8 244.1,360.1 245.7,357.8 247.3,357.6 249.0,356.5 250.6,360.0 252.2,360.0 253.9,356.8 255.5,356.8 257.2,358.1 258.8,356.3 260.4,357.8 262.1,358.6 263.7,357.7 265.4,359.8 267.0,357.3 268.6,358.4 270.3,359.4 271.9,358.2 273.5,357.0 275.2,357.4 276.8,358.2 278.5,355.9 280.1,359.2 281.7,360.2 283.4,360.8 285.0,360.8 286.6,358.3 288.3,362.5 289.9,361.5 291.6,359.4 293.2,360.3 294.8,357.4 296.5,360.2 298.1,360.7 299.8,362.4 301.4,362.9 303.0,360.9 304.7,359.3 306.3,360.5 307.9,360.5 309.6,361.1" fill="none" stroke="#EC7627" stroke-width="1.7" stroke-linejoin="round"/>
<polyline points="50.8,354.9 52.4,354.0 54.1,357.7 55.7,356.0 57.3,357.8 59.0,358.1 60.6,357.9 62.2,357.1 63.9,358.1 65.5,358.9 67.2,358.6 68.8,357.1 70.4,361.8 72.1,363.0 73.7,359.1 75.3,357.1 77.0,354.3 78.6,356.1 80.3,352.7 81.9,352.9 83.5,354.0 85.2,352.8 86.8,353.4 88.4,351.5 90.1,352.0 91.7,353.2 93.4,353.0 95.0,352.6 96.6,351.8 98.3,351.1 99.9,351.7 101.6,355.6 103.2,350.6 104.8,352.9 106.5,350.7 108.1,350.5 109.7,353.5 111.4,352.6 113.0,353.0 114.7,353.3 116.3,353.7 117.9,354.3 119.6,352.0 121.2,352.8 122.8,356.4 124.5,355.4 126.1,351.4 127.8,352.6 129.4,352.1 131.0,352.1 132.7,352.3 134.3,350.0 136.0,350.8 137.6,353.5 139.2,352.1 140.9,352.2 142.5,354.2 144.1,351.6 145.8,352.8 147.4,350.2 149.1,352.9 150.7,352.7 152.3,350.7 154.0,353.0 155.6,354.4 157.2,352.7 158.9,354.9 160.5,352.3 162.2,352.3 163.8,350.4 165.4,352.9 167.1,350.5 168.7,352.3 170.3,352.4 172.0,355.1 173.6,352.1 175.3,354.5 176.9,352.4 178.5,352.6 180.2,351.2 181.8,354.1 183.5,353.9 185.1,354.0 186.7,353.2 188.4,354.6 190.0,354.4 191.6,354.1 193.3,353.0 194.9,353.5 196.6,353.2 198.2,355.3 199.8,353.1 201.5,356.3 203.1,354.3 204.7,352.4 206.4,356.1 208.0,354.3 209.7,356.6 211.3,355.7 212.9,353.5 214.6,355.0 216.2,353.3 217.9,357.9 219.5,355.5 221.1,353.5 222.8,355.7 224.4,354.6 226.0,358.5 227.7,357.8 229.3,356.0 231.0,354.9 232.6,354.2 234.2,354.6 235.9,359.1 237.5,355.4 239.1,354.8 240.8,358.2 242.4,360.2 244.1,357.6 245.7,358.2 247.3,359.5 249.0,359.0 250.6,358.2 252.2,354.5 253.9,357.5 255.5,356.6 257.2,356.6 258.8,357.1 260.4,356.7 262.1,358.5 263.7,356.1 265.4,354.8 267.0,359.0 268.6,357.7 270.3,358.3 271.9,358.0 273.5,355.0 275.2,356.1 276.8,353.6 278.5,354.2 280.1,358.4 281.7,360.0 283.4,359.5 285.0,356.6 286.6,356.9 288.3,358.5 289.9,358.8 291.6,356.8 293.2,357.6 294.8,359.2 296.5,356.5 298.1,361.0 299.8,360.1 301.4,360.8 303.0,357.9 304.7,360.1 306.3,359.4 307.9,361.9 309.6,362.0" fill="none" stroke="#63BBCD" stroke-width="1.7" stroke-linejoin="round"/>
<polyline points="52.4,358.2 57.3,355.8 62.2,361.0 67.2,360.8 72.1,360.9 77.0,361.9 81.9,357.5 88.4,355.5 96.6,350.8 104.8,352.8 113.0,349.9 121.2,350.2 129.4,348.7 137.6,351.1 145.8,348.5 154.0,349.5 162.2,347.0 165.4,351.4 172.0,350.3 178.5,352.3 186.7,349.1 194.9,351.8 203.1,350.0 211.3,353.2 219.5,353.3 227.7,353.9 235.9,352.9 244.1,354.0 252.2,352.7 260.4,353.9 268.6,352.2 276.8,354.9 285.0,350.2 293.2,354.2 298.1,352.7 303.0,359.7 306.3,359.9 309.6,348.8" fill="none" stroke="#131313" stroke-width="2.2" stroke-linejoin="round"/>
</g>
<rect x="36.0" y="325.3" width="288.3" height="50.7" fill="none" stroke="#9C9C9C" stroke-width="1.0"/>
<line y1="376.0" y2="377.3" x1="47.50" x2="47.50" stroke="#888" stroke-width="0.8"/>
<line y1="376.0" y2="377.3" x1="129.40" x2="129.40" stroke="#888" stroke-width="0.8"/>
<line y1="376.0" y2="377.3" x1="211.30" x2="211.30" stroke="#888" stroke-width="0.8"/>
<line y1="376.0" y2="377.3" x1="293.20" x2="293.20" stroke="#888" stroke-width="0.8"/>
<line x1="33.8" x2="36.0" y1="374.00" y2="374.00" stroke="#9C9C9C" stroke-width="0.8"/>
<text x="32.7" y="377.1" font-size="8.7" text-anchor="end" fill="#3a3a3a" >0.50</text>
<line x1="33.8" x2="36.0" y1="362.35" y2="362.35" stroke="#9C9C9C" stroke-width="0.8"/>
<text x="32.7" y="365.4" font-size="8.7" text-anchor="end" fill="#3a3a3a" >0.75</text>
<line x1="33.8" x2="36.0" y1="350.70" y2="350.70" stroke="#9C9C9C" stroke-width="0.8"/>
<text x="32.7" y="353.8" font-size="8.7" text-anchor="end" fill="#3a3a3a" >1.00</text>
<line x1="33.8" x2="36.0" y1="339.05" y2="339.05" stroke="#9C9C9C" stroke-width="0.8"/>
<text x="32.7" y="342.2" font-size="8.7" text-anchor="end" fill="#3a3a3a" >1.25</text>
<line x1="33.8" x2="36.0" y1="327.40" y2="327.40" stroke="#9C9C9C" stroke-width="0.8"/>
<text x="32.7" y="330.5" font-size="8.7" text-anchor="end" fill="#3a3a3a" >1.50</text>
<text transform="translate(9.4,350.6) rotate(-90)" font-size="11" text-anchor="middle" fill="#1a1a1a">T<tspan font-size="8" dy="1.3">1</tspan><tspan dy="-1.3"> (s)</tspan></text>
<rect x="36.0" y="379.0" width="288.3" height="51.1" fill="#fff"/>
<line x1="36.0" x2="324.3" y1="421.71" y2="421.71" stroke="#EFEFEF" stroke-width="0.5"/>
<line x1="36.0" x2="324.3" y1="410.34" y2="410.34" stroke="#EFEFEF" stroke-width="0.5"/>
<line x1="36.0" x2="324.3" y1="398.96" y2="398.96" stroke="#EFEFEF" stroke-width="0.5"/>
<line x1="36.0" x2="324.3" y1="387.59" y2="387.59" stroke="#EFEFEF" stroke-width="0.5"/>
<line y1="379.0" y2="430.1" x1="88.45" x2="88.45" stroke="#EFEFEF" stroke-width="0.5"/>
<line y1="379.0" y2="430.1" x1="170.35" x2="170.35" stroke="#EFEFEF" stroke-width="0.5"/>
<line y1="379.0" y2="430.1" x1="252.25" x2="252.25" stroke="#EFEFEF" stroke-width="0.5"/>
<line x1="36.0" x2="324.3" y1="427.40" y2="427.40" stroke="#DEDEDE" stroke-width="0.7"/>
<line x1="36.0" x2="324.3" y1="416.02" y2="416.02" stroke="#DEDEDE" stroke-width="0.7"/>
<line x1="36.0" x2="324.3" y1="404.65" y2="404.65" stroke="#DEDEDE" stroke-width="0.7"/>
<line x1="36.0" x2="324.3" y1="393.27" y2="393.27" stroke="#DEDEDE" stroke-width="0.7"/>
<line x1="36.0" x2="324.3" y1="381.90" y2="381.90" stroke="#DEDEDE" stroke-width="0.7"/>
<line y1="379.0" y2="430.1" x1="47.50" x2="47.50" stroke="#DEDEDE" stroke-width="0.7"/>
<line y1="379.0" y2="430.1" x1="129.40" x2="129.40" stroke="#DEDEDE" stroke-width="0.7"/>
<line y1="379.0" y2="430.1" x1="211.30" x2="211.30" stroke="#DEDEDE" stroke-width="0.7"/>
<line y1="379.0" y2="430.1" x1="293.20" x2="293.20" stroke="#DEDEDE" stroke-width="0.7"/>
<clipPath id="cc2"><rect x="36.0" y="379.0" width="288.3" height="51.1"/></clipPath>
<g clip-path="url(#cc2)">
<path d="M55.7 383.8h3.2m-1.6 0v9.3m-1.6 0h3.2M60.6 393.7h3.2m-1.6 0v9.1m-1.6 0h3.2M77.0 413.4h3.2m-1.6 0v6.5m-1.6 0h3.2M81.9 413.8h3.2m-1.6 0v7.4m-1.6 0h3.2M86.8 411.8h3.2m-1.6 0v5.3m-1.6 0h3.2M91.8 410.8h3.2m-1.6 0v5.1m-1.6 0h3.2M95.0 408.4h3.2m-1.6 0v6.8m-1.6 0h3.2M100.0 413.7h3.2m-1.6 0v4.3m-1.6 0h3.2M103.2 412.3h3.2m-1.6 0v7.3m-1.6 0h3.2M108.1 412.6h3.2m-1.6 0v7.1m-1.6 0h3.2M109.8 412.3h3.2m-1.6 0v3.9m-1.6 0h3.2M111.4 414.9h3.2m-1.6 0v7.3m-1.6 0h3.2M118.0 411.8h3.2m-1.6 0v10.7m-1.6 0h3.2M121.2 413.1h3.2m-1.6 0v4.1m-1.6 0h3.2M124.5 412.3h3.2m-1.6 0v8.0m-1.6 0h3.2M129.4 411.6h3.2m-1.6 0v6.8m-1.6 0h3.2M131.1 414.5h3.2m-1.6 0v3.8m-1.6 0h3.2M136.0 411.7h3.2m-1.6 0v10.9m-1.6 0h3.2M137.6 412.8h3.2m-1.6 0v5.2m-1.6 0h3.2M139.3 415.0h3.2m-1.6 0v4.8m-1.6 0h3.2M142.5 412.5h3.2m-1.6 0v9.3m-1.6 0h3.2M149.1 414.3h3.2m-1.6 0v5.1m-1.6 0h3.2M150.7 410.3h3.2m-1.6 0v10.4m-1.6 0h3.2M160.6 411.3h3.2m-1.6 0v5.7m-1.6 0h3.2M167.1 410.5h3.2m-1.6 0v5.3m-1.6 0h3.2M170.4 410.3h3.2m-1.6 0v9.5m-1.6 0h3.2M172.0 412.5h3.2m-1.6 0v6.2m-1.6 0h3.2M175.3 412.5h3.2m-1.6 0v7.0m-1.6 0h3.2M176.9 413.8h3.2m-1.6 0v3.7m-1.6 0h3.2M190.0 409.5h3.2m-1.6 0v8.7m-1.6 0h3.2M191.7 413.5h3.2m-1.6 0v6.0m-1.6 0h3.2M193.3 409.1h3.2m-1.6 0v10.1m-1.6 0h3.2M195.0 410.3h3.2m-1.6 0v6.0m-1.6 0h3.2M208.1 410.1h3.2m-1.6 0v10.9m-1.6 0h3.2M209.7 407.4h3.2m-1.6 0v9.4m-1.6 0h3.2M214.6 414.6h3.2m-1.6 0v3.5m-1.6 0h3.2M219.5 408.4h3.2m-1.6 0v9.7m-1.6 0h3.2M222.8 410.6h3.2m-1.6 0v7.5m-1.6 0h3.2M226.1 408.8h3.2m-1.6 0v7.0m-1.6 0h3.2M229.4 407.3h3.2m-1.6 0v10.1m-1.6 0h3.2M242.5 409.9h3.2m-1.6 0v6.1m-1.6 0h3.2M244.1 407.1h3.2m-1.6 0v10.6m-1.6 0h3.2M247.4 408.0h3.2m-1.6 0v9.0m-1.6 0h3.2M253.9 407.2h3.2m-1.6 0v10.2m-1.6 0h3.2M263.8 412.0h3.2m-1.6 0v3.0m-1.6 0h3.2M267.0 408.3h3.2m-1.6 0v10.1m-1.6 0h3.2M271.9 410.5h3.2m-1.6 0v6.2m-1.6 0h3.2M273.6 407.6h3.2m-1.6 0v8.5m-1.6 0h3.2M275.2 410.9h3.2m-1.6 0v3.6m-1.6 0h3.2M276.9 412.4h3.2m-1.6 0v4.1m-1.6 0h3.2M286.7 409.4h3.2m-1.6 0v4.3m-1.6 0h3.2M288.3 411.2h3.2m-1.6 0v3.5m-1.6 0h3.2M290.0 408.1h3.2m-1.6 0v7.3m-1.6 0h3.2M291.6 407.4h3.2m-1.6 0v7.3m-1.6 0h3.2M296.5 401.2h3.2m-1.6 0v6.0m-1.6 0h3.2M304.7 395.4h3.2m-1.6 0v9.0m-1.6 0h3.2M306.3 396.2h3.2m-1.6 0v6.5m-1.6 0h3.2" stroke="#F5241E" stroke-width="0.8" stroke-opacity="0.75" fill="none"/>
<path d="M54.1 388.3h3.2m-1.6 0v3.1m-1.6 0h3.2M65.6 409.4h3.2m-1.6 0v5.2m-1.6 0h3.2M68.8 409.9h3.2m-1.6 0v5.0m-1.6 0h3.2M73.7 415.2h3.2m-1.6 0v9.1m-1.6 0h3.2M93.4 411.8h3.2m-1.6 0v7.6m-1.6 0h3.2M96.7 415.7h3.2m-1.6 0v5.9m-1.6 0h3.2M101.6 416.5h3.2m-1.6 0v8.4m-1.6 0h3.2M106.5 416.5h3.2m-1.6 0v7.0m-1.6 0h3.2M116.3 417.1h3.2m-1.6 0v3.2m-1.6 0h3.2M119.6 416.4h3.2m-1.6 0v3.0m-1.6 0h3.2M124.5 415.3h3.2m-1.6 0v4.3m-1.6 0h3.2M126.2 417.6h3.2m-1.6 0v5.8m-1.6 0h3.2M129.4 413.9h3.2m-1.6 0v5.9m-1.6 0h3.2M132.7 413.2h3.2m-1.6 0v5.5m-1.6 0h3.2M142.5 411.6h3.2m-1.6 0v2.9m-1.6 0h3.2M152.4 413.6h3.2m-1.6 0v6.4m-1.6 0h3.2M154.0 413.5h3.2m-1.6 0v5.1m-1.6 0h3.2M165.5 410.4h3.2m-1.6 0v8.8m-1.6 0h3.2M170.4 412.0h3.2m-1.6 0v6.8m-1.6 0h3.2M178.6 414.7h3.2m-1.6 0v6.0m-1.6 0h3.2M195.0 417.7h3.2m-1.6 0v4.1m-1.6 0h3.2M206.4 412.1h3.2m-1.6 0v7.1m-1.6 0h3.2M208.1 412.4h3.2m-1.6 0v7.7m-1.6 0h3.2M213.0 413.4h3.2m-1.6 0v5.5m-1.6 0h3.2M219.5 414.0h3.2m-1.6 0v5.4m-1.6 0h3.2M221.2 412.5h3.2m-1.6 0v6.5m-1.6 0h3.2M232.6 412.6h3.2m-1.6 0v8.7m-1.6 0h3.2M234.3 412.7h3.2m-1.6 0v7.3m-1.6 0h3.2M235.9 415.5h3.2m-1.6 0v6.9m-1.6 0h3.2M244.1 413.1h3.2m-1.6 0v6.9m-1.6 0h3.2M250.7 415.5h3.2m-1.6 0v4.0m-1.6 0h3.2M258.8 414.0h3.2m-1.6 0v4.5m-1.6 0h3.2M262.1 413.1h3.2m-1.6 0v4.2m-1.6 0h3.2M276.9 415.0h3.2m-1.6 0v6.7m-1.6 0h3.2M281.8 406.4h3.2m-1.6 0v9.4m-1.6 0h3.2M286.7 406.1h3.2m-1.6 0v10.1m-1.6 0h3.2M288.3 407.0h3.2m-1.6 0v2.9m-1.6 0h3.2M296.5 411.3h3.2m-1.6 0v3.0m-1.6 0h3.2" stroke="#42A07B" stroke-width="0.8" stroke-opacity="0.75" fill="none"/>
<path d="M57.4 389.5h3.2m-1.6 0v8.4m-1.6 0h3.2M65.6 405.8h3.2m-1.6 0v10.9m-1.6 0h3.2M68.8 410.5h3.2m-1.6 0v8.1m-1.6 0h3.2M73.7 414.3h3.2m-1.6 0v5.6m-1.6 0h3.2M75.4 412.6h3.2m-1.6 0v9.3m-1.6 0h3.2M80.3 412.4h3.2m-1.6 0v10.8m-1.6 0h3.2M85.2 415.8h3.2m-1.6 0v3.3m-1.6 0h3.2M88.5 411.0h3.2m-1.6 0v7.9m-1.6 0h3.2M90.1 415.3h3.2m-1.6 0v10.3m-1.6 0h3.2M93.4 411.9h3.2m-1.6 0v9.8m-1.6 0h3.2M96.7 412.1h3.2m-1.6 0v5.8m-1.6 0h3.2M111.4 413.0h3.2m-1.6 0v8.6m-1.6 0h3.2M126.2 417.2h3.2m-1.6 0v3.4m-1.6 0h3.2M136.0 411.9h3.2m-1.6 0v8.5m-1.6 0h3.2M137.6 416.5h3.2m-1.6 0v3.3m-1.6 0h3.2M139.3 412.5h3.2m-1.6 0v10.1m-1.6 0h3.2M147.5 414.3h3.2m-1.6 0v6.6m-1.6 0h3.2M150.7 412.8h3.2m-1.6 0v8.5m-1.6 0h3.2M152.4 415.5h3.2m-1.6 0v7.1m-1.6 0h3.2M154.0 420.0h3.2m-1.6 0v3.3m-1.6 0h3.2M155.6 414.7h3.2m-1.6 0v6.2m-1.6 0h3.2M158.9 412.7h3.2m-1.6 0v6.3m-1.6 0h3.2M163.8 413.2h3.2m-1.6 0v6.0m-1.6 0h3.2M167.1 410.4h3.2m-1.6 0v9.5m-1.6 0h3.2M176.9 412.9h3.2m-1.6 0v8.9m-1.6 0h3.2M183.5 412.8h3.2m-1.6 0v7.7m-1.6 0h3.2M186.8 409.9h3.2m-1.6 0v7.1m-1.6 0h3.2M196.6 414.2h3.2m-1.6 0v4.8m-1.6 0h3.2M209.7 411.9h3.2m-1.6 0v2.8m-1.6 0h3.2M214.6 414.2h3.2m-1.6 0v4.6m-1.6 0h3.2M221.2 408.2h3.2m-1.6 0v10.4m-1.6 0h3.2M229.4 411.0h3.2m-1.6 0v7.3m-1.6 0h3.2M231.0 412.1h3.2m-1.6 0v5.4m-1.6 0h3.2M232.6 416.4h3.2m-1.6 0v3.6m-1.6 0h3.2M245.7 410.9h3.2m-1.6 0v6.4m-1.6 0h3.2M247.4 409.4h3.2m-1.6 0v8.7m-1.6 0h3.2M250.7 409.3h3.2m-1.6 0v5.5m-1.6 0h3.2M252.3 410.1h3.2m-1.6 0v9.4m-1.6 0h3.2M255.6 410.0h3.2m-1.6 0v8.5m-1.6 0h3.2M262.1 407.8h3.2m-1.6 0v5.8m-1.6 0h3.2M263.8 409.3h3.2m-1.6 0v8.5m-1.6 0h3.2M268.7 408.2h3.2m-1.6 0v10.0m-1.6 0h3.2M273.6 408.9h3.2m-1.6 0v9.2m-1.6 0h3.2M276.9 411.0h3.2m-1.6 0v8.7m-1.6 0h3.2M278.5 412.1h3.2m-1.6 0v5.3m-1.6 0h3.2M280.1 411.0h3.2m-1.6 0v4.0m-1.6 0h3.2M288.3 409.6h3.2m-1.6 0v3.8m-1.6 0h3.2M290.0 409.2h3.2m-1.6 0v9.4m-1.6 0h3.2M301.4 399.5h3.2m-1.6 0v4.4m-1.6 0h3.2" stroke="#E2A22E" stroke-width="0.8" stroke-opacity="0.75" fill="none"/>
<path d="M55.7 385.6h3.2m-1.6 0v11.5m-1.6 0h3.2M57.4 391.5h3.2m-1.6 0v4.7m-1.6 0h3.2M59.0 394.5h3.2m-1.6 0v7.8m-1.6 0h3.2M62.3 399.5h3.2m-1.6 0v10.6m-1.6 0h3.2M75.4 413.5h3.2m-1.6 0v13.6m-1.6 0h3.2M80.3 415.7h3.2m-1.6 0v6.0m-1.6 0h3.2M81.9 416.9h3.2m-1.6 0v5.5m-1.6 0h3.2M83.6 416.4h3.2m-1.6 0v4.7m-1.6 0h3.2M88.5 413.1h3.2m-1.6 0v12.8m-1.6 0h3.2M95.0 413.2h3.2m-1.6 0v10.3m-1.6 0h3.2M98.3 409.8h3.2m-1.6 0v14.4m-1.6 0h3.2M100.0 410.4h3.2m-1.6 0v9.3m-1.6 0h3.2M104.9 408.0h3.2m-1.6 0v14.4m-1.6 0h3.2M109.8 414.7h3.2m-1.6 0v3.7m-1.6 0h3.2M111.4 410.2h3.2m-1.6 0v14.3m-1.6 0h3.2M114.7 415.1h3.2m-1.6 0v10.7m-1.6 0h3.2M116.3 416.4h3.2m-1.6 0v9.0m-1.6 0h3.2M119.6 412.5h3.2m-1.6 0v9.1m-1.6 0h3.2M122.9 413.5h3.2m-1.6 0v8.5m-1.6 0h3.2M137.6 417.9h3.2m-1.6 0v6.2m-1.6 0h3.2M144.2 414.3h3.2m-1.6 0v5.7m-1.6 0h3.2M145.8 409.8h3.2m-1.6 0v11.9m-1.6 0h3.2M147.5 417.0h3.2m-1.6 0v3.8m-1.6 0h3.2M154.0 412.7h3.2m-1.6 0v7.5m-1.6 0h3.2M155.6 415.2h3.2m-1.6 0v5.1m-1.6 0h3.2M157.3 414.2h3.2m-1.6 0v12.3m-1.6 0h3.2M163.8 410.4h3.2m-1.6 0v14.2m-1.6 0h3.2M167.1 409.5h3.2m-1.6 0v12.4m-1.6 0h3.2M168.8 417.2h3.2m-1.6 0v3.8m-1.6 0h3.2M172.0 408.0h3.2m-1.6 0v14.5m-1.6 0h3.2M175.3 410.7h3.2m-1.6 0v14.2m-1.6 0h3.2M180.2 413.2h3.2m-1.6 0v13.5m-1.6 0h3.2M183.5 416.6h3.2m-1.6 0v7.0m-1.6 0h3.2M185.1 412.2h3.2m-1.6 0v7.2m-1.6 0h3.2M193.3 412.3h3.2m-1.6 0v10.2m-1.6 0h3.2M196.6 411.4h3.2m-1.6 0v13.8m-1.6 0h3.2M199.9 413.7h3.2m-1.6 0v14.3m-1.6 0h3.2M206.4 412.5h3.2m-1.6 0v6.6m-1.6 0h3.2M209.7 409.1h3.2m-1.6 0v11.4m-1.6 0h3.2M226.1 416.4h3.2m-1.6 0v4.7m-1.6 0h3.2M231.0 412.9h3.2m-1.6 0v7.4m-1.6 0h3.2M244.1 413.7h3.2m-1.6 0v7.3m-1.6 0h3.2M250.7 407.8h3.2m-1.6 0v14.3m-1.6 0h3.2M252.3 408.9h3.2m-1.6 0v7.9m-1.6 0h3.2M257.2 412.5h3.2m-1.6 0v11.1m-1.6 0h3.2M258.8 413.3h3.2m-1.6 0v5.9m-1.6 0h3.2M263.8 410.7h3.2m-1.6 0v10.8m-1.6 0h3.2M265.4 414.1h3.2m-1.6 0v5.3m-1.6 0h3.2M267.0 415.4h3.2m-1.6 0v4.5m-1.6 0h3.2M276.9 405.3h3.2m-1.6 0v13.8m-1.6 0h3.2M278.5 408.7h3.2m-1.6 0v10.7m-1.6 0h3.2M283.4 409.0h3.2m-1.6 0v12.0m-1.6 0h3.2M290.0 407.6h3.2m-1.6 0v9.1m-1.6 0h3.2M298.2 399.6h3.2m-1.6 0v12.1m-1.6 0h3.2M303.1 398.5h3.2m-1.6 0v8.0m-1.6 0h3.2M308.0 397.6h3.2m-1.6 0v4.1m-1.6 0h3.2" stroke="#EC7627" stroke-width="0.8" stroke-opacity="0.75" fill="none"/>
<path d="M55.7 384.7h3.2m-1.6 0v7.4m-1.6 0h3.2M59.0 388.7h3.2m-1.6 0v8.6m-1.6 0h3.2M62.3 397.9h3.2m-1.6 0v7.2m-1.6 0h3.2M68.8 410.4h3.2m-1.6 0v7.5m-1.6 0h3.2M73.7 413.3h3.2m-1.6 0v8.8m-1.6 0h3.2M75.4 411.9h3.2m-1.6 0v9.9m-1.6 0h3.2M80.3 410.4h3.2m-1.6 0v12.8m-1.6 0h3.2M81.9 415.1h3.2m-1.6 0v4.0m-1.6 0h3.2M83.6 412.9h3.2m-1.6 0v9.5m-1.6 0h3.2M85.2 407.4h3.2m-1.6 0v14.4m-1.6 0h3.2M88.5 411.0h3.2m-1.6 0v11.1m-1.6 0h3.2M91.8 412.3h3.2m-1.6 0v5.4m-1.6 0h3.2M93.4 411.9h3.2m-1.6 0v7.6m-1.6 0h3.2M96.7 405.8h3.2m-1.6 0v14.1m-1.6 0h3.2M100.0 409.0h3.2m-1.6 0v10.5m-1.6 0h3.2M104.9 408.6h3.2m-1.6 0v14.1m-1.6 0h3.2M113.1 410.4h3.2m-1.6 0v13.4m-1.6 0h3.2M116.3 411.1h3.2m-1.6 0v7.6m-1.6 0h3.2M121.2 413.4h3.2m-1.6 0v7.8m-1.6 0h3.2M124.5 408.9h3.2m-1.6 0v7.9m-1.6 0h3.2M132.7 408.8h3.2m-1.6 0v11.9m-1.6 0h3.2M134.4 410.6h3.2m-1.6 0v4.4m-1.6 0h3.2M137.6 408.9h3.2m-1.6 0v8.8m-1.6 0h3.2M145.8 409.6h3.2m-1.6 0v11.3m-1.6 0h3.2M152.4 411.4h3.2m-1.6 0v13.4m-1.6 0h3.2M155.6 413.0h3.2m-1.6 0v5.3m-1.6 0h3.2M157.3 416.4h3.2m-1.6 0v4.0m-1.6 0h3.2M158.9 413.9h3.2m-1.6 0v7.9m-1.6 0h3.2M170.4 412.9h3.2m-1.6 0v4.1m-1.6 0h3.2M176.9 408.1h3.2m-1.6 0v14.0m-1.6 0h3.2M178.6 411.3h3.2m-1.6 0v11.1m-1.6 0h3.2M186.8 409.9h3.2m-1.6 0v12.6m-1.6 0h3.2M195.0 408.6h3.2m-1.6 0v9.8m-1.6 0h3.2M196.6 411.0h3.2m-1.6 0v6.2m-1.6 0h3.2M199.9 410.9h3.2m-1.6 0v5.8m-1.6 0h3.2M206.4 408.0h3.2m-1.6 0v13.5m-1.6 0h3.2M213.0 409.3h3.2m-1.6 0v7.5m-1.6 0h3.2M214.6 408.8h3.2m-1.6 0v9.7m-1.6 0h3.2M216.3 408.9h3.2m-1.6 0v13.5m-1.6 0h3.2M217.9 410.1h3.2m-1.6 0v7.1m-1.6 0h3.2M224.4 414.3h3.2m-1.6 0v7.5m-1.6 0h3.2M239.2 412.5h3.2m-1.6 0v4.9m-1.6 0h3.2M244.1 408.7h3.2m-1.6 0v12.9m-1.6 0h3.2M250.7 409.7h3.2m-1.6 0v11.1m-1.6 0h3.2M255.6 411.3h3.2m-1.6 0v5.0m-1.6 0h3.2M267.0 408.6h3.2m-1.6 0v12.7m-1.6 0h3.2M270.3 411.6h3.2m-1.6 0v5.8m-1.6 0h3.2M273.6 409.6h3.2m-1.6 0v10.1m-1.6 0h3.2M275.2 412.9h3.2m-1.6 0v4.0m-1.6 0h3.2M276.9 410.9h3.2m-1.6 0v4.8m-1.6 0h3.2M278.5 408.8h3.2m-1.6 0v12.3m-1.6 0h3.2M281.8 408.1h3.2m-1.6 0v10.2m-1.6 0h3.2M286.7 404.4h3.2m-1.6 0v11.3m-1.6 0h3.2M288.3 402.7h3.2m-1.6 0v13.1m-1.6 0h3.2M290.0 404.6h3.2m-1.6 0v10.5m-1.6 0h3.2M294.9 404.0h3.2m-1.6 0v4.3m-1.6 0h3.2M301.4 399.1h3.2m-1.6 0v7.3m-1.6 0h3.2M303.1 398.0h3.2m-1.6 0v5.3m-1.6 0h3.2M304.7 396.5h3.2m-1.6 0v6.1m-1.6 0h3.2" stroke="#63BBCD" stroke-width="0.8" stroke-opacity="0.75" fill="none"/>
<polyline points="55.7,385.2 57.3,388.4 59.0,391.0 60.6,394.1 62.2,398.2 63.9,402.4 65.5,404.9 67.2,408.4 68.8,409.0 70.4,413.7 72.1,413.2 73.7,414.5 75.3,413.0 77.0,416.5 78.6,416.6 80.3,418.7 81.9,417.6 83.5,417.5 85.2,414.6 86.8,416.2 88.4,414.4 90.1,417.6 91.7,414.6 93.4,413.3 95.0,417.8 96.6,411.7 98.3,416.2 99.9,415.3 101.6,415.9 103.2,417.4 104.8,416.0 106.5,416.9 108.1,418.8 109.7,416.1 111.4,414.2 113.0,418.6 114.7,415.1 116.3,418.0 117.9,414.8 119.6,417.1 121.2,419.9 122.8,415.1 124.5,412.1 126.1,416.3 127.8,417.1 129.4,416.0 131.0,415.0 132.7,416.4 134.3,416.1 136.0,418.8 137.6,417.1 139.2,415.4 140.9,417.4 142.5,417.3 144.1,417.2 145.8,419.9 147.4,416.4 149.1,418.1 150.7,416.9 152.3,415.5 154.0,415.3 155.6,416.8 157.2,417.0 158.9,415.4 160.5,414.8 162.2,414.2 163.8,414.9 165.4,414.5 167.1,416.1 168.7,413.1 170.3,415.6 172.0,415.1 173.6,415.6 175.3,417.3 176.9,416.0 178.5,415.6 180.2,413.8 181.8,414.0 183.5,414.0 185.1,416.4 186.7,415.8 188.4,417.1 190.0,416.4 191.6,413.9 193.3,416.5 194.9,414.1 196.6,413.3 198.2,414.8 199.8,413.5 201.5,410.7 203.1,413.4 204.7,416.0 206.4,415.4 208.0,414.9 209.7,415.6 211.3,412.1 212.9,413.0 214.6,413.2 216.2,416.4 217.9,416.4 219.5,413.5 221.1,413.2 222.8,414.2 224.4,414.3 226.0,412.6 227.7,412.3 229.3,414.6 231.0,412.4 232.6,413.0 234.2,417.4 235.9,413.8 237.5,414.5 239.1,413.6 240.8,412.7 242.4,413.7 244.1,412.9 245.7,412.4 247.3,412.8 249.0,412.6 250.6,410.3 252.2,412.6 253.9,414.0 255.5,412.3 257.2,413.3 258.8,412.4 260.4,413.7 262.1,413.1 263.7,414.3 265.4,413.5 267.0,413.5 268.6,413.3 270.3,414.5 271.9,414.8 273.5,413.7 275.2,411.9 276.8,412.7 278.5,414.4 280.1,410.9 281.7,410.0 283.4,412.3 285.0,413.1 286.6,412.8 288.3,411.5 289.9,412.9 291.6,411.7 293.2,411.1 294.8,410.1 296.5,407.5 298.1,404.2 299.8,403.6 301.4,402.6 303.0,403.7 304.7,401.0 306.3,399.9 307.9,399.4 309.6,395.7" fill="none" stroke="#F5241E" stroke-width="1.7" stroke-linejoin="round"/>
<polyline points="55.7,389.8 57.3,392.1 59.0,393.4 60.6,396.0 62.2,400.4 63.9,403.6 65.5,409.6 67.2,412.0 68.8,416.0 70.4,412.4 72.1,418.5 73.7,419.1 75.3,419.8 77.0,415.6 78.6,418.9 80.3,417.6 81.9,414.9 83.5,418.8 85.2,418.6 86.8,417.2 88.4,422.7 90.1,419.0 91.7,418.9 93.4,416.2 95.0,415.6 96.6,417.5 98.3,418.6 99.9,416.2 101.6,418.8 103.2,420.7 104.8,418.6 106.5,416.2 108.1,420.1 109.7,419.7 111.4,420.1 113.0,419.1 114.7,418.2 116.3,418.1 117.9,418.7 119.6,416.7 121.2,417.9 122.8,419.2 124.5,417.6 126.1,417.4 127.8,420.5 129.4,419.8 131.0,416.9 132.7,416.8 134.3,416.0 136.0,418.7 137.6,414.5 139.2,418.5 140.9,411.5 142.5,417.4 144.1,413.0 145.8,414.2 147.4,418.7 149.1,417.8 150.7,415.0 152.3,418.4 154.0,416.8 155.6,416.1 157.2,418.4 158.9,420.9 160.5,417.5 162.2,416.5 163.8,417.9 165.4,417.3 167.1,414.8 168.7,417.1 170.3,417.8 172.0,415.4 173.6,418.5 175.3,417.7 176.9,419.2 178.5,416.6 180.2,417.7 181.8,418.8 183.5,418.1 185.1,415.3 186.7,416.9 188.4,418.9 190.0,415.9 191.6,416.9 193.3,414.9 194.9,417.9 196.6,419.7 198.2,416.1 199.8,416.3 201.5,417.4 203.1,416.2 204.7,417.3 206.4,418.3 208.0,415.6 209.7,416.2 211.3,415.1 212.9,418.5 214.6,416.2 216.2,414.7 217.9,412.9 219.5,415.9 221.1,416.7 222.8,415.7 224.4,412.7 226.0,411.9 227.7,417.9 229.3,415.2 231.0,414.2 232.6,415.4 234.2,416.9 235.9,416.3 237.5,419.0 239.1,419.3 240.8,415.0 242.4,414.2 244.1,417.5 245.7,416.6 247.3,417.3 249.0,419.1 250.6,416.1 252.2,417.5 253.9,417.7 255.5,416.3 257.2,412.5 258.8,417.4 260.4,416.3 262.1,418.4 263.7,415.2 265.4,415.3 267.0,417.5 268.6,416.2 270.3,418.2 271.9,414.2 273.5,415.8 275.2,416.2 276.8,415.5 278.5,418.3 280.1,415.5 281.7,417.8 283.4,411.1 285.0,414.4 286.6,412.8 288.3,411.1 289.9,408.4 291.6,410.9 293.2,411.2 294.8,408.5 296.5,407.7 298.1,412.9 299.8,407.5 301.4,404.9 303.0,403.2 304.7,405.5 306.3,399.5 307.9,399.6 309.6,401.7" fill="none" stroke="#42A07B" stroke-width="1.7" stroke-linejoin="round"/>
<polyline points="55.7,388.1 57.3,391.0 59.0,393.7 60.6,395.8 62.2,400.2 63.9,404.1 65.5,407.5 67.2,411.3 68.8,413.0 70.4,414.6 72.1,416.2 73.7,416.2 75.3,417.1 77.0,417.2 78.6,416.7 80.3,415.6 81.9,417.8 83.5,418.3 85.2,418.4 86.8,417.4 88.4,417.9 90.1,414.9 91.7,420.4 93.4,419.5 95.0,416.8 96.6,418.1 98.3,415.0 99.9,417.4 101.6,419.3 103.2,417.9 104.8,413.2 106.5,418.1 108.1,419.5 109.7,414.9 111.4,416.1 113.0,417.3 114.7,418.3 116.3,416.4 117.9,415.6 119.6,413.6 121.2,417.5 122.8,416.6 124.5,417.9 126.1,419.5 127.8,419.0 129.4,418.0 131.0,417.7 132.7,415.8 134.3,414.7 136.0,415.5 137.6,416.2 139.2,418.2 140.9,417.5 142.5,418.9 144.1,416.9 145.8,419.5 147.4,418.5 149.1,417.6 150.7,416.0 152.3,417.1 154.0,419.0 155.6,421.7 157.2,417.8 158.9,415.6 160.5,415.9 162.2,417.4 163.8,415.7 165.4,416.2 167.1,416.2 168.7,415.2 170.3,417.0 172.0,415.8 173.6,417.2 175.3,418.0 176.9,416.1 178.5,417.4 180.2,416.7 181.8,416.7 183.5,416.3 185.1,416.7 186.7,416.5 188.4,413.5 190.0,413.8 191.6,414.3 193.3,415.3 194.9,418.1 196.6,419.7 198.2,416.5 199.8,415.7 201.5,413.6 203.1,415.6 204.7,416.3 206.4,418.9 208.0,414.7 209.7,414.0 211.3,413.4 212.9,415.4 214.6,417.4 216.2,416.5 217.9,416.3 219.5,418.3 221.1,415.2 222.8,413.4 224.4,415.5 226.0,416.4 227.7,414.6 229.3,418.1 231.0,414.7 232.6,414.8 234.2,418.2 235.9,416.9 237.5,415.2 239.1,416.8 240.8,416.2 242.4,414.4 244.1,415.7 245.7,414.8 247.3,414.1 249.0,413.7 250.6,411.1 252.2,412.1 253.9,414.8 255.5,413.4 257.2,414.3 258.8,416.1 260.4,415.7 262.1,414.6 263.7,410.6 265.4,413.6 267.0,415.9 268.6,414.3 270.3,413.3 271.9,418.2 273.5,415.7 275.2,413.5 276.8,413.6 278.5,415.4 280.1,414.7 281.7,413.0 283.4,412.5 285.0,411.2 286.6,412.9 288.3,411.5 289.9,411.5 291.6,413.9 293.2,412.0 294.8,412.2 296.5,409.6 298.1,407.3 299.8,405.5 301.4,402.7 303.0,401.7 304.7,399.9 306.3,404.2 307.9,401.8 309.6,398.1" fill="none" stroke="#E2A22E" stroke-width="1.7" stroke-linejoin="round"/>
<polyline points="55.7,391.3 57.3,391.4 59.0,393.8 60.6,398.5 62.2,398.7 63.9,404.8 65.5,408.4 67.2,411.6 68.8,413.0 70.4,416.4 72.1,418.4 73.7,417.1 75.3,418.5 77.0,420.3 78.6,418.4 80.3,416.7 81.9,418.7 83.5,419.7 85.2,418.8 86.8,418.3 88.4,416.3 90.1,419.5 91.7,419.4 93.4,419.5 95.0,418.3 96.6,418.4 98.3,418.0 99.9,417.0 101.6,415.0 103.2,417.0 104.8,420.1 106.5,415.2 108.1,419.6 109.7,415.4 111.4,416.6 113.0,417.3 114.7,418.4 116.3,420.5 117.9,420.9 119.6,416.7 121.2,417.1 122.8,418.7 124.5,417.8 126.1,416.9 127.8,418.6 129.4,419.2 131.0,419.0 132.7,418.9 134.3,418.5 136.0,418.8 137.6,417.3 139.2,421.0 140.9,419.1 142.5,415.9 144.1,417.2 145.8,417.2 147.4,415.7 149.1,418.9 150.7,419.0 152.3,418.2 154.0,419.4 155.6,416.5 157.2,417.8 158.9,420.4 160.5,419.5 162.2,415.9 163.8,417.7 165.4,417.5 167.1,415.3 168.7,415.8 170.3,419.1 172.0,415.2 173.6,415.2 175.3,420.2 176.9,417.8 178.5,416.2 180.2,420.2 181.8,420.0 183.5,415.7 185.1,420.1 186.7,415.8 188.4,416.5 190.0,415.3 191.6,415.5 193.3,417.3 194.9,417.4 196.6,417.3 198.2,418.3 199.8,419.2 201.5,420.8 203.1,418.2 204.7,414.7 206.4,415.5 208.0,415.8 209.7,415.1 211.3,414.8 212.9,418.5 214.6,418.9 216.2,417.6 217.9,416.3 219.5,415.4 221.1,413.4 222.8,415.8 224.4,416.3 226.0,414.2 227.7,418.7 229.3,415.9 231.0,416.1 232.6,416.6 234.2,416.0 235.9,414.7 237.5,415.7 239.1,413.9 240.8,415.4 242.4,416.3 244.1,418.4 245.7,417.4 247.3,417.4 249.0,415.2 250.6,413.9 252.2,414.9 253.9,412.9 255.5,415.4 257.2,415.2 258.8,418.0 260.4,416.2 262.1,415.1 263.7,417.7 265.4,416.1 267.0,416.7 268.6,417.7 270.3,417.0 271.9,416.6 273.5,413.7 275.2,414.1 276.8,413.8 278.5,412.2 280.1,414.0 281.7,418.6 283.4,412.3 285.0,415.0 286.6,413.6 288.3,414.2 289.9,412.9 291.6,412.2 293.2,410.4 294.8,411.3 296.5,408.1 298.1,408.7 299.8,405.6 301.4,403.4 303.0,404.6 304.7,402.5 306.3,399.8 307.9,400.9 309.6,399.6" fill="none" stroke="#EC7627" stroke-width="1.7" stroke-linejoin="round"/>
<polyline points="55.7,387.6 57.3,388.4 59.0,389.6 60.6,393.1 62.2,395.6 63.9,401.5 65.5,405.8 67.2,412.8 68.8,409.9 70.4,414.2 72.1,412.6 73.7,414.0 75.3,417.7 77.0,416.9 78.6,416.3 80.3,414.8 81.9,416.8 83.5,417.1 85.2,417.6 86.8,414.6 88.4,415.0 90.1,416.5 91.7,414.7 93.4,415.0 95.0,415.7 96.6,414.6 98.3,412.9 99.9,416.1 101.6,414.3 103.2,416.9 104.8,413.4 106.5,415.6 108.1,417.1 109.7,414.3 111.4,418.3 113.0,414.8 114.7,417.1 116.3,416.5 117.9,414.9 119.6,415.4 121.2,413.1 122.8,417.4 124.5,416.6 126.1,412.8 127.8,411.0 129.4,415.3 131.0,415.7 132.7,415.8 134.3,414.7 136.0,412.8 137.6,416.1 139.2,413.3 140.9,416.3 142.5,414.5 144.1,416.3 145.8,413.6 147.4,415.3 149.1,414.8 150.7,414.1 152.3,415.4 154.0,418.0 155.6,415.6 157.2,415.6 158.9,418.4 160.5,417.8 162.2,417.4 163.8,414.8 165.4,415.8 167.1,413.3 168.7,413.1 170.3,418.5 172.0,415.0 173.6,415.7 175.3,414.2 176.9,414.2 178.5,415.1 180.2,416.8 181.8,414.1 183.5,415.3 185.1,415.1 186.7,414.0 188.4,416.2 190.0,414.7 191.6,412.4 193.3,412.1 194.9,414.7 196.6,413.5 198.2,414.1 199.8,414.9 201.5,413.8 203.1,414.1 204.7,417.3 206.4,413.4 208.0,414.8 209.7,416.3 211.3,413.1 212.9,414.7 214.6,413.0 216.2,413.6 217.9,415.7 219.5,413.7 221.1,412.7 222.8,414.3 224.4,413.8 226.0,418.1 227.7,416.5 229.3,415.0 231.0,414.1 232.6,414.2 234.2,414.8 235.9,419.3 237.5,416.6 239.1,414.6 240.8,414.9 242.4,413.0 244.1,413.0 245.7,415.2 247.3,412.1 249.0,414.9 250.6,414.9 252.2,415.2 253.9,412.0 255.5,411.7 257.2,413.7 258.8,412.0 260.4,411.8 262.1,413.5 263.7,412.3 265.4,415.9 267.0,414.9 268.6,415.0 270.3,414.8 271.9,414.5 273.5,416.2 275.2,414.6 276.8,414.9 278.5,413.3 280.1,414.9 281.7,415.7 283.4,413.2 285.0,413.6 286.6,409.6 288.3,410.0 289.9,409.3 291.6,409.9 293.2,407.0 294.8,410.6 296.5,406.1 298.1,402.2 299.8,403.3 301.4,400.4 303.0,402.8 304.7,400.7 306.3,399.6 307.9,401.2 309.6,397.8" fill="none" stroke="#63BBCD" stroke-width="1.7" stroke-linejoin="round"/>
<polyline points="62.2,393.7 65.5,399.5 70.4,404.9 77.0,412.9 83.5,413.6 90.1,412.6 96.6,415.7 103.2,412.7 109.7,411.6 116.3,412.6 122.8,411.4 129.4,411.9 137.6,411.2 145.8,412.2 152.3,414.7 155.6,410.3 157.2,385.2 158.9,409.5 162.2,414.4 168.7,414.5 175.3,413.5 181.8,414.9 188.4,414.1 194.9,414.4 203.1,414.7 208.0,412.1 212.9,408.6 217.9,403.6 222.8,408.2 227.7,410.2 234.2,412.6 240.8,410.6 247.3,414.0 253.9,412.4 260.4,412.1 267.0,409.5 271.9,411.9 276.8,412.9 285.0,415.1 293.2,410.9 299.8,410.4 304.7,403.1" fill="none" stroke="#131313" stroke-width="2.2" stroke-linejoin="round"/>
</g>
<rect x="36.0" y="379.0" width="288.3" height="51.1" fill="none" stroke="#9C9C9C" stroke-width="1.0"/>
<line y1="430.1" y2="431.4" x1="47.50" x2="47.50" stroke="#888" stroke-width="0.8"/>
<line y1="430.1" y2="431.4" x1="129.40" x2="129.40" stroke="#888" stroke-width="0.8"/>
<line y1="430.1" y2="431.4" x1="211.30" x2="211.30" stroke="#888" stroke-width="0.8"/>
<line y1="430.1" y2="431.4" x1="293.20" x2="293.20" stroke="#888" stroke-width="0.8"/>
<line x1="33.8" x2="36.0" y1="427.40" y2="427.40" stroke="#9C9C9C" stroke-width="0.8"/>
<text x="32.7" y="430.5" font-size="8.7" text-anchor="end" fill="#3a3a3a" >0.00</text>
<line x1="33.8" x2="36.0" y1="416.02" y2="416.02" stroke="#9C9C9C" stroke-width="0.8"/>
<text x="32.7" y="419.1" font-size="8.7" text-anchor="end" fill="#3a3a3a" >0.05</text>
<line x1="33.8" x2="36.0" y1="404.65" y2="404.65" stroke="#9C9C9C" stroke-width="0.8"/>
<text x="32.7" y="407.8" font-size="8.7" text-anchor="end" fill="#3a3a3a" >0.10</text>
<line x1="33.8" x2="36.0" y1="393.27" y2="393.27" stroke="#9C9C9C" stroke-width="0.8"/>
<text x="32.7" y="396.4" font-size="8.7" text-anchor="end" fill="#3a3a3a" >0.15</text>
<line x1="33.8" x2="36.0" y1="381.90" y2="381.90" stroke="#9C9C9C" stroke-width="0.8"/>
<text x="32.7" y="385.0" font-size="8.7" text-anchor="end" fill="#3a3a3a" >0.20</text>
<text transform="translate(9.4,404.6) rotate(-90)" font-size="11" text-anchor="middle" fill="#1a1a1a">T<tspan font-size="8" dy="1.3">2</tspan><tspan dy="-1.3"> (s)</tspan></text>
<rect x="36.0" y="433.0" width="288.3" height="54.5" fill="#fff"/>
<line x1="36.0" x2="324.3" y1="479.07" y2="479.07" stroke="#EFEFEF" stroke-width="0.5"/>
<line x1="36.0" x2="324.3" y1="466.62" y2="466.62" stroke="#EFEFEF" stroke-width="0.5"/>
<line x1="36.0" x2="324.3" y1="454.18" y2="454.18" stroke="#EFEFEF" stroke-width="0.5"/>
<line x1="36.0" x2="324.3" y1="441.73" y2="441.73" stroke="#EFEFEF" stroke-width="0.5"/>
<line y1="433.0" y2="487.5" x1="88.45" x2="88.45" stroke="#EFEFEF" stroke-width="0.5"/>
<line y1="433.0" y2="487.5" x1="170.35" x2="170.35" stroke="#EFEFEF" stroke-width="0.5"/>
<line y1="433.0" y2="487.5" x1="252.25" x2="252.25" stroke="#EFEFEF" stroke-width="0.5"/>
<line x1="36.0" x2="324.3" y1="485.30" y2="485.30" stroke="#DEDEDE" stroke-width="0.7"/>
<line x1="36.0" x2="324.3" y1="472.85" y2="472.85" stroke="#DEDEDE" stroke-width="0.7"/>
<line x1="36.0" x2="324.3" y1="460.40" y2="460.40" stroke="#DEDEDE" stroke-width="0.7"/>
<line x1="36.0" x2="324.3" y1="447.95" y2="447.95" stroke="#DEDEDE" stroke-width="0.7"/>
<line x1="36.0" x2="324.3" y1="435.50" y2="435.50" stroke="#DEDEDE" stroke-width="0.7"/>
<line y1="433.0" y2="487.5" x1="47.50" x2="47.50" stroke="#DEDEDE" stroke-width="0.7"/>
<line y1="433.0" y2="487.5" x1="129.40" x2="129.40" stroke="#DEDEDE" stroke-width="0.7"/>
<line y1="433.0" y2="487.5" x1="211.30" x2="211.30" stroke="#DEDEDE" stroke-width="0.7"/>
<line y1="433.0" y2="487.5" x1="293.20" x2="293.20" stroke="#DEDEDE" stroke-width="0.7"/>
<clipPath id="cc3"><rect x="36.0" y="433.0" width="288.3" height="54.5"/></clipPath>
<g clip-path="url(#cc3)">
<path d="M52.5 484.6h3.2m-1.6 0v3.3m-1.6 0h3.2M60.6 462.3h3.2m-1.6 0v4.2m-1.6 0h3.2M62.3 456.0h3.2m-1.6 0v5.0m-1.6 0h3.2M65.6 449.2h3.2m-1.6 0v2.4m-1.6 0h3.2M68.8 448.9h3.2m-1.6 0v2.1m-1.6 0h3.2M72.1 445.6h3.2m-1.6 0v4.8m-1.6 0h3.2M75.4 444.3h3.2m-1.6 0v5.9m-1.6 0h3.2M83.6 445.9h3.2m-1.6 0v3.0m-1.6 0h3.2M88.5 445.0h3.2m-1.6 0v2.9m-1.6 0h3.2M90.1 443.5h3.2m-1.6 0v5.4m-1.6 0h3.2M101.6 445.8h3.2m-1.6 0v2.7m-1.6 0h3.2M108.1 446.0h3.2m-1.6 0v3.4m-1.6 0h3.2M111.4 443.8h3.2m-1.6 0v6.3m-1.6 0h3.2M113.1 443.3h3.2m-1.6 0v6.2m-1.6 0h3.2M124.5 460.4h3.2m-1.6 0v5.5m-1.6 0h3.2M126.2 453.4h3.2m-1.6 0v5.7m-1.6 0h3.2M140.9 445.2h3.2m-1.6 0v3.5m-1.6 0h3.2M147.5 447.1h3.2m-1.6 0v1.7m-1.6 0h3.2M154.0 454.2h3.2m-1.6 0v6.3m-1.6 0h3.2M165.5 447.2h3.2m-1.6 0v2.2m-1.6 0h3.2M168.8 446.0h3.2m-1.6 0v4.5m-1.6 0h3.2M180.2 456.9h3.2m-1.6 0v3.1m-1.6 0h3.2M183.5 446.6h3.2m-1.6 0v3.3m-1.6 0h3.2M195.0 445.0h3.2m-1.6 0v5.9m-1.6 0h3.2M198.2 447.2h3.2m-1.6 0v1.7m-1.6 0h3.2M201.5 446.8h3.2m-1.6 0v1.6m-1.6 0h3.2M203.1 443.8h3.2m-1.6 0v5.5m-1.6 0h3.2M209.7 440.8h3.2m-1.6 0v6.3m-1.6 0h3.2M219.5 453.5h3.2m-1.6 0v6.3m-1.6 0h3.2M221.2 459.5h3.2m-1.6 0v3.6m-1.6 0h3.2M227.7 451.9h3.2m-1.6 0v3.5m-1.6 0h3.2M229.4 451.1h3.2m-1.6 0v4.4m-1.6 0h3.2M240.8 447.1h3.2m-1.6 0v3.1m-1.6 0h3.2M253.9 446.7h3.2m-1.6 0v4.1m-1.6 0h3.2M267.0 460.6h3.2m-1.6 0v4.4m-1.6 0h3.2M273.6 444.3h3.2m-1.6 0v4.5m-1.6 0h3.2M275.2 444.7h3.2m-1.6 0v4.4m-1.6 0h3.2M276.9 444.6h3.2m-1.6 0v4.1m-1.6 0h3.2M278.5 443.9h3.2m-1.6 0v6.0m-1.6 0h3.2M283.4 449.2h3.2m-1.6 0v4.2m-1.6 0h3.2M285.0 446.8h3.2m-1.6 0v6.0m-1.6 0h3.2M288.3 446.6h3.2m-1.6 0v2.3m-1.6 0h3.2M293.2 448.8h3.2m-1.6 0v2.4m-1.6 0h3.2M294.9 446.8h3.2m-1.6 0v5.7m-1.6 0h3.2M296.5 450.3h3.2m-1.6 0v1.9m-1.6 0h3.2M299.8 450.9h3.2m-1.6 0v5.3m-1.6 0h3.2" stroke="#F5241E" stroke-width="0.8" stroke-opacity="0.75" fill="none"/>
<path d="M52.5 482.4h3.2m-1.6 0v5.2m-1.6 0h3.2M54.1 477.8h3.2m-1.6 0v6.2m-1.6 0h3.2M59.0 462.7h3.2m-1.6 0v5.4m-1.6 0h3.2M73.7 446.1h3.2m-1.6 0v4.3m-1.6 0h3.2M78.7 448.2h3.2m-1.6 0v3.2m-1.6 0h3.2M81.9 446.9h3.2m-1.6 0v1.6m-1.6 0h3.2M88.5 445.9h3.2m-1.6 0v3.5m-1.6 0h3.2M90.1 443.5h3.2m-1.6 0v4.6m-1.6 0h3.2M91.8 443.3h3.2m-1.6 0v2.9m-1.6 0h3.2M93.4 449.1h3.2m-1.6 0v4.0m-1.6 0h3.2M98.3 446.5h3.2m-1.6 0v2.2m-1.6 0h3.2M101.6 443.4h3.2m-1.6 0v4.4m-1.6 0h3.2M103.2 444.4h3.2m-1.6 0v2.1m-1.6 0h3.2M109.8 444.6h3.2m-1.6 0v5.1m-1.6 0h3.2M114.7 444.6h3.2m-1.6 0v3.4m-1.6 0h3.2M118.0 446.3h3.2m-1.6 0v3.7m-1.6 0h3.2M127.8 448.7h3.2m-1.6 0v3.5m-1.6 0h3.2M129.4 447.2h3.2m-1.6 0v3.7m-1.6 0h3.2M134.4 445.6h3.2m-1.6 0v5.2m-1.6 0h3.2M136.0 445.0h3.2m-1.6 0v5.6m-1.6 0h3.2M139.3 445.9h3.2m-1.6 0v2.5m-1.6 0h3.2M142.5 443.9h3.2m-1.6 0v4.0m-1.6 0h3.2M147.5 445.0h3.2m-1.6 0v5.2m-1.6 0h3.2M149.1 446.5h3.2m-1.6 0v4.1m-1.6 0h3.2M160.6 444.2h3.2m-1.6 0v3.6m-1.6 0h3.2M173.7 445.9h3.2m-1.6 0v5.0m-1.6 0h3.2M180.2 453.8h3.2m-1.6 0v4.0m-1.6 0h3.2M181.9 452.6h3.2m-1.6 0v3.0m-1.6 0h3.2M183.5 445.3h3.2m-1.6 0v5.6m-1.6 0h3.2M198.2 443.9h3.2m-1.6 0v5.5m-1.6 0h3.2M206.4 445.5h3.2m-1.6 0v4.6m-1.6 0h3.2M208.1 447.8h3.2m-1.6 0v4.0m-1.6 0h3.2M209.7 443.5h3.2m-1.6 0v5.3m-1.6 0h3.2M221.2 455.6h3.2m-1.6 0v6.1m-1.6 0h3.2M222.8 459.1h3.2m-1.6 0v4.7m-1.6 0h3.2M226.1 455.2h3.2m-1.6 0v2.2m-1.6 0h3.2M229.4 448.9h3.2m-1.6 0v4.1m-1.6 0h3.2M237.5 446.6h3.2m-1.6 0v1.8m-1.6 0h3.2M253.9 444.7h3.2m-1.6 0v4.0m-1.6 0h3.2M257.2 444.7h3.2m-1.6 0v5.3m-1.6 0h3.2M260.5 444.3h3.2m-1.6 0v4.6m-1.6 0h3.2M265.4 467.1h3.2m-1.6 0v4.1m-1.6 0h3.2M267.0 459.6h3.2m-1.6 0v6.3m-1.6 0h3.2M271.9 445.9h3.2m-1.6 0v3.4m-1.6 0h3.2M273.6 446.5h3.2m-1.6 0v2.2m-1.6 0h3.2M281.8 445.8h3.2m-1.6 0v6.1m-1.6 0h3.2M286.7 445.4h3.2m-1.6 0v6.2m-1.6 0h3.2M290.0 446.4h3.2m-1.6 0v4.9m-1.6 0h3.2M293.2 448.7h3.2m-1.6 0v2.1m-1.6 0h3.2M304.7 465.5h3.2m-1.6 0v3.8m-1.6 0h3.2" stroke="#42A07B" stroke-width="0.8" stroke-opacity="0.75" fill="none"/>
<path d="M55.7 473.6h3.2m-1.6 0v7.7m-1.6 0h3.2M57.4 470.8h3.2m-1.6 0v6.6m-1.6 0h3.2M59.0 467.8h3.2m-1.6 0v2.7m-1.6 0h3.2M60.6 461.6h3.2m-1.6 0v3.1m-1.6 0h3.2M70.5 441.7h3.2m-1.6 0v7.4m-1.6 0h3.2M78.7 442.3h3.2m-1.6 0v7.5m-1.6 0h3.2M83.6 447.8h3.2m-1.6 0v2.3m-1.6 0h3.2M86.8 445.8h3.2m-1.6 0v4.1m-1.6 0h3.2M93.4 444.0h3.2m-1.6 0v5.5m-1.6 0h3.2M96.7 444.2h3.2m-1.6 0v4.8m-1.6 0h3.2M98.3 445.9h3.2m-1.6 0v3.5m-1.6 0h3.2M121.2 450.7h3.2m-1.6 0v2.2m-1.6 0h3.2M127.8 449.8h3.2m-1.6 0v6.3m-1.6 0h3.2M131.1 445.3h3.2m-1.6 0v3.9m-1.6 0h3.2M134.4 446.0h3.2m-1.6 0v6.6m-1.6 0h3.2M136.0 444.0h3.2m-1.6 0v4.0m-1.6 0h3.2M139.3 443.4h3.2m-1.6 0v4.6m-1.6 0h3.2M150.7 445.9h3.2m-1.6 0v4.9m-1.6 0h3.2M152.4 450.3h3.2m-1.6 0v2.5m-1.6 0h3.2M160.6 444.0h3.2m-1.6 0v5.7m-1.6 0h3.2M165.5 445.3h3.2m-1.6 0v3.4m-1.6 0h3.2M175.3 445.1h3.2m-1.6 0v6.0m-1.6 0h3.2M180.2 456.0h3.2m-1.6 0v4.3m-1.6 0h3.2M190.0 445.8h3.2m-1.6 0v4.9m-1.6 0h3.2M193.3 444.3h3.2m-1.6 0v5.5m-1.6 0h3.2M201.5 445.1h3.2m-1.6 0v3.9m-1.6 0h3.2M203.1 443.5h3.2m-1.6 0v5.8m-1.6 0h3.2M209.7 447.4h3.2m-1.6 0v3.5m-1.6 0h3.2M219.5 450.2h3.2m-1.6 0v7.6m-1.6 0h3.2M221.2 456.3h3.2m-1.6 0v5.4m-1.6 0h3.2M222.8 458.8h3.2m-1.6 0v2.6m-1.6 0h3.2M229.4 448.3h3.2m-1.6 0v4.1m-1.6 0h3.2M237.5 446.5h3.2m-1.6 0v2.3m-1.6 0h3.2M255.6 446.2h3.2m-1.6 0v2.4m-1.6 0h3.2M257.2 446.6h3.2m-1.6 0v6.7m-1.6 0h3.2M265.4 466.9h3.2m-1.6 0v7.5m-1.6 0h3.2M271.9 444.1h3.2m-1.6 0v7.6m-1.6 0h3.2M281.8 446.2h3.2m-1.6 0v3.3m-1.6 0h3.2M291.6 447.3h3.2m-1.6 0v3.8m-1.6 0h3.2M296.5 448.5h3.2m-1.6 0v7.4m-1.6 0h3.2M299.8 453.2h3.2m-1.6 0v2.7m-1.6 0h3.2M303.1 462.3h3.2m-1.6 0v4.6m-1.6 0h3.2M304.7 466.2h3.2m-1.6 0v4.8m-1.6 0h3.2M306.3 473.1h3.2m-1.6 0v3.4m-1.6 0h3.2" stroke="#E2A22E" stroke-width="0.8" stroke-opacity="0.75" fill="none"/>
<path d="M52.5 482.8h3.2m-1.6 0v5.0m-1.6 0h3.2M57.4 470.8h3.2m-1.6 0v3.8m-1.6 0h3.2M65.6 449.9h3.2m-1.6 0v2.2m-1.6 0h3.2M70.5 444.6h3.2m-1.6 0v6.1m-1.6 0h3.2M73.7 445.6h3.2m-1.6 0v3.1m-1.6 0h3.2M77.0 448.1h3.2m-1.6 0v2.6m-1.6 0h3.2M80.3 447.2h3.2m-1.6 0v5.7m-1.6 0h3.2M83.6 445.2h3.2m-1.6 0v3.5m-1.6 0h3.2M85.2 444.1h3.2m-1.6 0v4.8m-1.6 0h3.2M96.7 445.8h3.2m-1.6 0v7.4m-1.6 0h3.2M101.6 443.5h3.2m-1.6 0v5.3m-1.6 0h3.2M103.2 443.9h3.2m-1.6 0v7.5m-1.6 0h3.2M104.9 448.4h3.2m-1.6 0v2.6m-1.6 0h3.2M118.0 445.6h3.2m-1.6 0v5.1m-1.6 0h3.2M119.6 443.6h3.2m-1.6 0v6.7m-1.6 0h3.2M121.2 448.9h3.2m-1.6 0v5.4m-1.6 0h3.2M124.5 461.3h3.2m-1.6 0v2.5m-1.6 0h3.2M129.4 446.2h3.2m-1.6 0v4.0m-1.6 0h3.2M134.4 445.7h3.2m-1.6 0v5.7m-1.6 0h3.2M136.0 446.5h3.2m-1.6 0v2.2m-1.6 0h3.2M137.6 445.1h3.2m-1.6 0v6.8m-1.6 0h3.2M140.9 444.8h3.2m-1.6 0v6.4m-1.6 0h3.2M144.2 445.1h3.2m-1.6 0v7.7m-1.6 0h3.2M147.5 443.7h3.2m-1.6 0v3.4m-1.6 0h3.2M152.4 450.7h3.2m-1.6 0v2.2m-1.6 0h3.2M163.8 446.5h3.2m-1.6 0v4.9m-1.6 0h3.2M180.2 464.2h3.2m-1.6 0v4.8m-1.6 0h3.2M204.8 443.1h3.2m-1.6 0v2.6m-1.6 0h3.2M219.5 455.7h3.2m-1.6 0v6.4m-1.6 0h3.2M221.2 457.0h3.2m-1.6 0v7.6m-1.6 0h3.2M222.8 459.8h3.2m-1.6 0v4.2m-1.6 0h3.2M224.4 455.0h3.2m-1.6 0v5.7m-1.6 0h3.2M226.1 456.3h3.2m-1.6 0v2.5m-1.6 0h3.2M229.4 449.7h3.2m-1.6 0v2.0m-1.6 0h3.2M240.8 444.5h3.2m-1.6 0v2.2m-1.6 0h3.2M244.1 445.2h3.2m-1.6 0v5.4m-1.6 0h3.2M249.0 445.0h3.2m-1.6 0v7.7m-1.6 0h3.2M255.6 445.1h3.2m-1.6 0v5.2m-1.6 0h3.2M258.8 444.9h3.2m-1.6 0v6.2m-1.6 0h3.2M265.4 464.2h3.2m-1.6 0v7.5m-1.6 0h3.2M267.0 457.6h3.2m-1.6 0v7.7m-1.6 0h3.2M276.9 446.3h3.2m-1.6 0v3.7m-1.6 0h3.2M278.5 446.0h3.2m-1.6 0v5.1m-1.6 0h3.2M280.1 447.5h3.2m-1.6 0v3.7m-1.6 0h3.2M285.0 445.8h3.2m-1.6 0v5.1m-1.6 0h3.2M291.6 446.9h3.2m-1.6 0v3.7m-1.6 0h3.2M298.2 450.7h3.2m-1.6 0v3.1m-1.6 0h3.2M301.4 454.0h3.2m-1.6 0v5.5m-1.6 0h3.2M303.1 461.2h3.2m-1.6 0v2.8m-1.6 0h3.2" stroke="#EC7627" stroke-width="0.8" stroke-opacity="0.75" fill="none"/>
<path d="M52.5 483.7h3.2m-1.6 0v3.3m-1.6 0h3.2M62.3 458.5h3.2m-1.6 0v3.4m-1.6 0h3.2M72.1 447.7h3.2m-1.6 0v4.6m-1.6 0h3.2M73.7 446.7h3.2m-1.6 0v3.4m-1.6 0h3.2M77.0 446.6h3.2m-1.6 0v7.1m-1.6 0h3.2M103.2 445.5h3.2m-1.6 0v7.0m-1.6 0h3.2M106.5 445.9h3.2m-1.6 0v7.0m-1.6 0h3.2M111.4 444.6h3.2m-1.6 0v5.9m-1.6 0h3.2M121.2 449.9h3.2m-1.6 0v3.8m-1.6 0h3.2M137.6 446.0h3.2m-1.6 0v3.1m-1.6 0h3.2M140.9 446.4h3.2m-1.6 0v3.5m-1.6 0h3.2M145.8 444.6h3.2m-1.6 0v4.4m-1.6 0h3.2M149.1 444.9h3.2m-1.6 0v6.6m-1.6 0h3.2M150.7 447.5h3.2m-1.6 0v4.5m-1.6 0h3.2M163.8 445.1h3.2m-1.6 0v3.9m-1.6 0h3.2M165.5 447.5h3.2m-1.6 0v3.7m-1.6 0h3.2M167.1 446.1h3.2m-1.6 0v6.0m-1.6 0h3.2M170.4 444.8h3.2m-1.6 0v6.9m-1.6 0h3.2M176.9 450.4h3.2m-1.6 0v2.2m-1.6 0h3.2M178.6 454.0h3.2m-1.6 0v2.9m-1.6 0h3.2M183.5 446.3h3.2m-1.6 0v6.9m-1.6 0h3.2M188.4 447.0h3.2m-1.6 0v4.3m-1.6 0h3.2M193.3 447.8h3.2m-1.6 0v4.6m-1.6 0h3.2M199.9 446.3h3.2m-1.6 0v6.1m-1.6 0h3.2M211.3 445.4h3.2m-1.6 0v4.1m-1.6 0h3.2M213.0 446.6h3.2m-1.6 0v6.7m-1.6 0h3.2M214.6 444.5h3.2m-1.6 0v7.0m-1.6 0h3.2M221.2 456.3h3.2m-1.6 0v6.4m-1.6 0h3.2M229.4 449.2h3.2m-1.6 0v5.0m-1.6 0h3.2M231.0 446.0h3.2m-1.6 0v4.2m-1.6 0h3.2M239.2 446.7h3.2m-1.6 0v5.1m-1.6 0h3.2M240.8 446.4h3.2m-1.6 0v6.6m-1.6 0h3.2M244.1 448.0h3.2m-1.6 0v3.9m-1.6 0h3.2M250.7 445.9h3.2m-1.6 0v6.5m-1.6 0h3.2M253.9 446.3h3.2m-1.6 0v2.5m-1.6 0h3.2M255.6 448.7h3.2m-1.6 0v2.9m-1.6 0h3.2M258.8 447.8h3.2m-1.6 0v2.1m-1.6 0h3.2M262.1 452.5h3.2m-1.6 0v2.1m-1.6 0h3.2M267.0 462.0h3.2m-1.6 0v3.7m-1.6 0h3.2M273.6 447.1h3.2m-1.6 0v5.6m-1.6 0h3.2M283.4 444.6h3.2m-1.6 0v7.3m-1.6 0h3.2M290.0 448.2h3.2m-1.6 0v2.7m-1.6 0h3.2M308.0 479.6h3.2m-1.6 0v6.5m-1.6 0h3.2" stroke="#63BBCD" stroke-width="0.8" stroke-opacity="0.75" fill="none"/>
<polyline points="54.1,486.3 55.7,480.8 57.3,475.7 59.0,471.3 60.6,467.7 62.2,464.4 63.9,458.5 65.5,454.0 67.2,450.4 68.8,448.2 70.4,450.0 72.1,450.2 73.7,448.0 75.3,446.1 77.0,447.3 78.6,447.8 80.3,447.8 81.9,445.8 83.5,447.8 85.2,447.4 86.8,446.1 88.4,445.0 90.1,446.4 91.7,446.2 93.4,447.6 95.0,451.4 96.6,453.6 98.3,450.9 99.9,447.4 101.6,447.1 103.2,447.1 104.8,445.4 106.5,447.7 108.1,446.8 109.7,447.7 111.4,446.5 113.0,446.9 114.7,446.4 116.3,446.8 117.9,446.7 119.6,447.0 121.2,447.4 122.8,449.4 124.5,457.6 126.1,463.2 127.8,456.3 129.4,450.3 131.0,446.6 132.7,447.1 134.3,449.2 136.0,448.4 137.6,447.2 139.2,448.2 140.9,446.4 142.5,446.9 144.1,449.1 145.8,447.4 147.4,448.1 149.1,447.9 150.7,448.3 152.3,446.5 154.0,449.6 155.6,457.3 157.2,466.6 158.9,460.5 160.5,450.8 162.2,448.7 163.8,448.2 165.4,448.5 167.1,448.3 168.7,449.1 170.3,448.2 172.0,446.9 173.6,448.5 175.3,449.3 176.9,447.4 178.5,449.6 180.2,450.5 181.8,458.5 183.5,451.0 185.1,448.2 186.7,448.8 188.4,447.5 190.0,446.0 191.6,449.0 193.3,447.3 194.9,448.7 196.6,447.9 198.2,448.1 199.8,448.0 201.5,448.4 203.1,447.6 204.7,446.5 206.4,448.8 208.0,446.7 209.7,447.3 211.3,444.0 212.9,447.6 214.6,450.0 216.2,447.2 217.9,451.9 219.5,454.6 221.1,456.7 222.8,461.3 224.4,462.7 226.0,456.8 227.7,454.7 229.3,453.7 231.0,453.3 232.6,446.9 234.2,446.3 235.9,447.2 237.5,448.6 239.1,449.3 240.8,449.5 242.4,448.7 244.1,446.9 245.7,446.9 247.3,448.8 249.0,448.0 250.6,446.2 252.2,447.1 253.9,448.2 255.5,448.8 257.2,447.9 258.8,448.8 260.4,449.5 262.1,448.4 263.7,452.8 265.4,464.6 267.0,473.7 268.6,462.8 270.3,452.7 271.9,447.7 273.5,448.1 275.2,446.6 276.8,446.9 278.5,446.7 280.1,446.9 281.7,450.7 283.4,448.4 285.0,451.3 286.6,449.8 288.3,451.0 289.9,447.7 291.6,447.6 293.2,449.9 294.8,450.1 296.5,449.7 298.1,451.3 299.8,452.1 301.4,453.6 303.0,454.0 304.7,457.0 306.3,460.4 307.9,462.8 309.6,463.9" fill="none" stroke="#F5241E" stroke-width="1.7" stroke-linejoin="round"/>
<polyline points="54.1,485.0 55.7,480.9 57.3,475.6 59.0,472.5 60.6,465.5 62.2,465.0 63.9,460.1 65.5,453.8 67.2,448.5 68.8,450.4 70.4,448.5 72.1,447.9 73.7,447.6 75.3,448.2 77.0,448.9 78.6,446.4 80.3,449.8 81.9,448.5 83.5,447.7 85.2,447.0 86.8,448.9 88.4,447.0 90.1,447.6 91.7,445.8 93.4,444.8 95.0,451.1 96.6,455.7 98.3,452.6 99.9,447.6 101.6,447.9 103.2,445.6 104.8,445.5 106.5,447.3 108.1,449.0 109.7,446.5 111.4,447.2 113.0,446.5 114.7,446.3 116.3,446.3 117.9,448.5 119.6,448.2 121.2,445.6 122.8,450.9 124.5,456.1 126.1,462.2 127.8,457.9 129.4,450.4 131.0,449.0 132.7,447.5 134.3,447.6 136.0,448.2 137.6,447.7 139.2,446.8 140.9,447.1 142.5,448.4 144.1,445.9 145.8,447.9 147.4,449.3 149.1,447.6 150.7,448.5 152.3,445.8 154.0,450.3 155.6,459.5 157.2,463.9 158.9,459.4 160.5,449.8 162.2,446.0 163.8,445.7 165.4,447.4 167.1,448.0 168.7,446.7 170.3,448.6 172.0,450.3 173.6,448.3 175.3,448.4 176.9,446.1 178.5,451.1 180.2,452.5 181.8,455.8 183.5,454.2 185.1,448.1 186.7,448.5 188.4,446.8 190.0,446.6 191.6,447.4 193.3,446.9 194.9,445.1 196.6,448.8 198.2,447.9 199.8,446.6 201.5,447.7 203.1,446.6 204.7,447.3 206.4,446.4 208.0,447.7 209.7,449.8 211.3,446.2 212.9,447.6 214.6,449.0 216.2,449.3 217.9,452.1 219.5,454.6 221.1,456.3 222.8,458.7 224.4,461.5 226.0,458.3 227.7,456.3 229.3,455.3 231.0,450.9 232.6,447.4 234.2,446.7 235.9,446.9 237.5,449.7 239.1,447.5 240.8,445.6 242.4,446.8 244.1,448.4 245.7,450.3 247.3,447.5 249.0,448.3 250.6,445.9 252.2,447.6 253.9,449.2 255.5,446.7 257.2,446.4 258.8,447.3 260.4,448.1 262.1,446.6 263.7,453.7 265.4,462.0 267.0,469.2 268.6,462.8 270.3,453.5 271.9,447.9 273.5,447.6 275.2,447.6 276.8,446.7 278.5,446.8 280.1,447.5 281.7,447.8 283.4,448.9 285.0,447.2 286.6,450.0 288.3,448.5 289.9,452.4 291.6,448.8 293.2,449.1 294.8,449.7 296.5,450.0 298.1,452.1 299.8,452.1 301.4,454.0 303.0,457.2 304.7,462.1 306.3,467.4 307.9,473.7 309.6,480.6" fill="none" stroke="#42A07B" stroke-width="1.7" stroke-linejoin="round"/>
<polyline points="54.1,484.7 55.7,481.6 57.3,477.5 59.0,474.1 60.6,469.1 62.2,463.1 63.9,457.3 65.5,453.8 67.2,449.4 68.8,448.2 70.4,448.5 72.1,445.3 73.7,446.3 75.3,445.3 77.0,447.8 78.6,447.9 80.3,446.1 81.9,448.0 83.5,448.6 85.2,449.0 86.8,447.7 88.4,447.9 90.1,447.9 91.7,446.9 93.4,449.1 95.0,446.7 96.6,447.3 98.3,446.6 99.9,447.7 101.6,448.6 103.2,447.7 104.8,447.7 106.5,446.2 108.1,446.9 109.7,447.4 111.4,450.3 113.0,447.1 114.7,448.6 116.3,448.5 117.9,445.6 119.6,446.7 121.2,445.7 122.8,451.8 124.5,460.2 126.1,470.8 127.8,462.2 129.4,452.9 131.0,446.9 132.7,447.3 134.3,446.9 136.0,449.3 137.6,446.0 139.2,446.8 140.9,445.7 142.5,447.0 144.1,448.9 145.8,447.8 147.4,449.4 149.1,448.7 150.7,448.4 152.3,448.3 154.0,451.6 155.6,457.6 157.2,465.9 158.9,458.0 160.5,452.7 162.2,446.8 163.8,447.7 165.4,447.8 167.1,447.0 168.7,449.8 170.3,446.0 172.0,448.5 173.6,448.0 175.3,448.8 176.9,448.2 178.5,450.2 180.2,453.6 181.8,458.2 183.5,452.6 185.1,451.6 186.7,445.4 188.4,448.4 190.0,447.6 191.6,448.3 193.3,446.8 194.9,447.0 196.6,446.9 198.2,449.6 199.8,445.0 201.5,447.4 203.1,447.1 204.7,446.4 206.4,446.7 208.0,445.5 209.7,449.0 211.3,449.2 212.9,447.3 214.6,448.3 216.2,447.8 217.9,449.9 219.5,451.1 221.1,454.0 222.8,459.0 224.4,460.1 226.0,458.3 227.7,455.8 229.3,453.6 231.0,450.3 232.6,448.2 234.2,448.8 235.9,446.8 237.5,449.4 239.1,447.6 240.8,449.6 242.4,446.7 244.1,445.7 245.7,447.1 247.3,447.5 249.0,448.1 250.6,448.3 252.2,447.9 253.9,447.0 255.5,446.9 257.2,447.5 258.8,450.0 260.4,449.1 262.1,450.6 263.7,453.3 265.4,462.1 267.0,470.7 268.6,462.3 270.3,451.7 271.9,447.4 273.5,447.9 275.2,447.9 276.8,445.9 278.5,446.7 280.1,446.3 281.7,448.1 283.4,447.9 285.0,447.9 286.6,448.6 288.3,448.2 289.9,450.3 291.6,449.6 293.2,449.2 294.8,449.8 296.5,450.1 298.1,452.2 299.8,452.7 301.4,454.5 303.0,455.9 304.7,464.7 306.3,468.7 307.9,474.8 309.6,481.0" fill="none" stroke="#E2A22E" stroke-width="1.7" stroke-linejoin="round"/>
<polyline points="54.1,485.4 55.7,480.6 57.3,477.9 59.0,472.7 60.6,466.5 62.2,462.4 63.9,459.6 65.5,456.8 67.2,451.0 68.8,450.2 70.4,449.5 72.1,447.6 73.7,446.8 75.3,447.1 77.0,448.4 78.6,449.4 80.3,448.1 81.9,450.0 83.5,446.1 85.2,447.0 86.8,446.5 88.4,448.5 90.1,449.4 91.7,447.9 93.4,446.4 95.0,450.0 96.6,455.5 98.3,449.5 99.9,448.0 101.6,448.0 103.2,446.1 104.8,447.7 106.5,449.7 108.1,446.3 109.7,448.5 111.4,449.8 113.0,447.3 114.7,447.2 116.3,450.4 117.9,447.8 119.6,448.2 121.2,447.0 122.8,451.6 124.5,456.1 126.1,462.6 127.8,455.1 129.4,450.3 131.0,448.2 132.7,446.8 134.3,447.9 136.0,448.6 137.6,447.6 139.2,448.5 140.9,447.6 142.5,448.0 144.1,447.3 145.8,449.0 147.4,446.9 149.1,445.4 150.7,447.2 152.3,449.6 154.0,451.8 155.6,458.2 157.2,465.6 158.9,456.7 160.5,451.4 162.2,445.7 163.8,446.9 165.4,448.9 167.1,449.0 168.7,446.6 170.3,448.6 172.0,446.6 173.6,446.7 175.3,447.3 176.9,449.5 178.5,450.6 180.2,460.8 181.8,466.6 183.5,459.8 185.1,451.1 186.7,449.4 188.4,448.4 190.0,448.2 191.6,448.3 193.3,449.2 194.9,448.3 196.6,447.9 198.2,446.3 199.8,447.3 201.5,447.0 203.1,447.7 204.7,448.3 206.4,444.4 208.0,446.2 209.7,446.6 211.3,448.5 212.9,449.2 214.6,446.3 216.2,450.1 217.9,449.1 219.5,452.2 221.1,458.9 222.8,460.8 224.4,461.9 226.0,457.8 227.7,457.6 229.3,454.2 231.0,450.7 232.6,448.1 234.2,447.6 235.9,448.7 237.5,447.6 239.1,450.5 240.8,447.9 242.4,445.6 244.1,446.7 245.7,447.9 247.3,447.6 249.0,448.9 250.6,448.8 252.2,446.8 253.9,448.6 255.5,449.2 257.2,447.7 258.8,448.0 260.4,448.0 262.1,448.0 263.7,453.1 265.4,461.9 267.0,468.0 268.6,461.5 270.3,450.5 271.9,448.6 273.5,446.1 275.2,448.2 276.8,448.5 278.5,448.2 280.1,448.6 281.7,449.3 283.4,447.5 285.0,449.9 286.6,448.4 288.3,449.1 289.9,448.3 291.6,448.0 293.2,448.8 294.8,447.2 296.5,450.1 298.1,450.6 299.8,452.3 301.4,453.8 303.0,456.7 304.7,462.6 306.3,469.3 307.9,476.1 309.6,484.2" fill="none" stroke="#EC7627" stroke-width="1.7" stroke-linejoin="round"/>
<polyline points="54.1,485.3 55.7,481.8 57.3,477.6 59.0,473.8 60.6,468.1 62.2,466.6 63.9,460.2 65.5,454.8 67.2,453.1 68.8,449.2 70.4,451.3 72.1,450.4 73.7,450.0 75.3,448.3 77.0,449.8 78.6,450.2 80.3,445.9 81.9,449.1 83.5,448.6 85.2,446.9 86.8,447.8 88.4,449.9 90.1,448.0 91.7,449.6 93.4,448.5 95.0,453.4 96.6,456.1 98.3,452.1 99.9,448.3 101.6,447.2 103.2,449.8 104.8,449.1 106.5,448.0 108.1,449.4 109.7,450.2 111.4,447.4 113.0,447.5 114.7,448.3 116.3,450.1 117.9,449.6 119.6,449.3 121.2,447.8 122.8,451.8 124.5,457.4 126.1,461.6 127.8,456.9 129.4,451.4 131.0,445.7 132.7,446.5 134.3,447.8 136.0,448.9 137.6,447.6 139.2,447.6 140.9,447.4 142.5,448.1 144.1,449.5 145.8,450.0 147.4,446.8 149.1,447.9 150.7,448.2 152.3,449.7 154.0,453.5 155.6,460.2 157.2,465.4 158.9,460.3 160.5,453.2 162.2,447.2 163.8,447.3 165.4,447.0 167.1,449.3 168.7,449.1 170.3,447.5 172.0,448.2 173.6,448.7 175.3,447.4 176.9,448.7 178.5,451.5 180.2,455.4 181.8,461.9 183.5,456.2 185.1,449.7 186.7,448.5 188.4,450.5 190.0,449.1 191.6,450.8 193.3,448.7 194.9,450.0 196.6,449.5 198.2,445.5 199.8,448.6 201.5,449.3 203.1,447.3 204.7,449.4 206.4,448.2 208.0,450.0 209.7,447.0 211.3,448.7 212.9,447.5 214.6,449.9 216.2,448.0 217.9,451.8 219.5,457.2 221.1,457.3 222.8,459.5 224.4,464.7 226.0,459.6 227.7,458.0 229.3,453.3 231.0,451.7 232.6,448.1 234.2,449.9 235.9,449.3 237.5,448.3 239.1,449.0 240.8,449.3 242.4,449.6 244.1,448.9 245.7,449.9 247.3,449.8 249.0,449.7 250.6,450.2 252.2,449.2 253.9,447.2 255.5,447.5 257.2,450.2 258.8,448.9 260.4,448.8 262.1,447.8 263.7,453.6 265.4,462.6 267.0,473.0 268.6,463.8 270.3,454.7 271.9,448.6 273.5,448.6 275.2,449.9 276.8,448.8 278.5,448.2 280.1,449.1 281.7,450.0 283.4,450.0 285.0,448.3 286.6,450.1 288.3,450.6 289.9,450.2 291.6,449.6 293.2,449.0 294.8,450.9 296.5,449.3 298.1,451.7 299.8,451.4 301.4,456.1 303.0,456.0 304.7,462.5 306.3,469.0 307.9,477.4 309.6,482.9" fill="none" stroke="#63BBCD" stroke-width="1.7" stroke-linejoin="round"/>
<polyline points="55.7,483.8 60.6,467.8 65.5,449.0 70.4,442.6 75.3,433.7 80.3,435.1 83.5,443.3 86.8,437.8 90.1,443.1 93.4,436.8 96.6,441.3 99.9,437.8 103.2,444.5 106.5,440.3 109.7,447.0 113.0,438.0 116.3,443.8 119.6,435.2 122.8,446.4 126.1,462.7 129.4,442.5 132.7,437.3 137.6,440.4 140.9,434.9 144.1,442.7 147.4,437.4 150.7,444.9 154.0,440.6 157.2,448.7 160.5,440.3 165.4,458.6 172.0,454.7 188.4,439.6 191.6,435.2 194.9,442.5 198.2,437.4 203.1,442.6 206.4,435.5 209.7,441.0 212.9,437.9 216.2,444.9 219.5,440.0 222.8,456.6 227.7,459.7 231.0,455.9 235.9,446.5 240.8,443.6 245.7,439.8 250.6,441.6 255.5,440.7 260.4,447.0 265.4,443.3 270.3,450.5 275.2,438.2 280.1,442.3 285.0,437.2 289.9,441.7 294.8,436.8 299.8,451.5 303.0,455.9 307.9,483.1" fill="none" stroke="#131313" stroke-width="2.2" stroke-linejoin="round"/>
</g>
<rect x="36.0" y="433.0" width="288.3" height="54.5" fill="none" stroke="#9C9C9C" stroke-width="1.0"/>
<line x1="33.8" x2="36.0" y1="485.30" y2="485.30" stroke="#9C9C9C" stroke-width="0.8"/>
<text x="32.7" y="488.4" font-size="8.7" text-anchor="end" fill="#3a3a3a" >0.00</text>
<line x1="33.8" x2="36.0" y1="472.85" y2="472.85" stroke="#9C9C9C" stroke-width="0.8"/>
<text x="32.7" y="476.0" font-size="8.7" text-anchor="end" fill="#3a3a3a" >0.25</text>
<line x1="33.8" x2="36.0" y1="460.40" y2="460.40" stroke="#9C9C9C" stroke-width="0.8"/>
<text x="32.7" y="463.5" font-size="8.7" text-anchor="end" fill="#3a3a3a" >0.50</text>
<line x1="33.8" x2="36.0" y1="447.95" y2="447.95" stroke="#9C9C9C" stroke-width="0.8"/>
<text x="32.7" y="451.1" font-size="8.7" text-anchor="end" fill="#3a3a3a" >0.75</text>
<line x1="33.8" x2="36.0" y1="435.50" y2="435.50" stroke="#9C9C9C" stroke-width="0.8"/>
<text x="32.7" y="438.6" font-size="8.7" text-anchor="end" fill="#3a3a3a" >1.00</text>
<text transform="translate(9.4,460.2) rotate(-90)" font-size="11" text-anchor="middle" fill="#1a1a1a">hetNOE</text>
<line y1="487.5" y2="489.7" x1="47.50" x2="47.50" stroke="#9C9C9C" stroke-width="0.8"/>
<text x="47.5" y="496.9" font-size="8.7" text-anchor="middle" fill="#3a3a3a" >0</text>
<line y1="487.5" y2="489.7" x1="129.40" x2="129.40" stroke="#9C9C9C" stroke-width="0.8"/>
<text x="129.4" y="496.9" font-size="8.7" text-anchor="middle" fill="#3a3a3a" >50</text>
<line y1="487.5" y2="489.7" x1="211.30" x2="211.30" stroke="#9C9C9C" stroke-width="0.8"/>
<text x="211.3" y="496.9" font-size="8.7" text-anchor="middle" fill="#3a3a3a" >100</text>
<line y1="487.5" y2="489.7" x1="293.20" x2="293.20" stroke="#9C9C9C" stroke-width="0.8"/>
<text x="293.2" y="496.9" font-size="8.7" text-anchor="middle" fill="#3a3a3a" >150</text>
<text x="180.2" y="508.0" font-size="10.5" text-anchor="middle" fill="#111" >residues</text>
<text x="394.5" y="318.7" font-size="13.3" fill="#111">MANF</text>
<rect x="395.2" y="325.3" width="288.3" height="50.7" fill="#fff"/>
<line x1="395.2" x2="683.5" y1="374.25" y2="374.25" stroke="#EFEFEF" stroke-width="0.5"/>
<line x1="395.2" x2="683.5" y1="358.55" y2="358.55" stroke="#EFEFEF" stroke-width="0.5"/>
<line x1="395.2" x2="683.5" y1="342.85" y2="342.85" stroke="#EFEFEF" stroke-width="0.5"/>
<line x1="395.2" x2="683.5" y1="327.15" y2="327.15" stroke="#EFEFEF" stroke-width="0.5"/>
<line y1="325.3" y2="376.0" x1="445.50" x2="445.50" stroke="#EFEFEF" stroke-width="0.5"/>
<line y1="325.3" y2="376.0" x1="522.70" x2="522.70" stroke="#EFEFEF" stroke-width="0.5"/>
<line y1="325.3" y2="376.0" x1="599.90" x2="599.90" stroke="#EFEFEF" stroke-width="0.5"/>
<line x1="395.2" x2="683.5" y1="366.40" y2="366.40" stroke="#DEDEDE" stroke-width="0.7"/>
<line x1="395.2" x2="683.5" y1="350.70" y2="350.70" stroke="#DEDEDE" stroke-width="0.7"/>
<line x1="395.2" x2="683.5" y1="335.00" y2="335.00" stroke="#DEDEDE" stroke-width="0.7"/>
<line y1="325.3" y2="376.0" x1="406.90" x2="406.90" stroke="#DEDEDE" stroke-width="0.7"/>
<line y1="325.3" y2="376.0" x1="484.10" x2="484.10" stroke="#DEDEDE" stroke-width="0.7"/>
<line y1="325.3" y2="376.0" x1="561.30" x2="561.30" stroke="#DEDEDE" stroke-width="0.7"/>
<line y1="325.3" y2="376.0" x1="638.50" x2="638.50" stroke="#DEDEDE" stroke-width="0.7"/>
<clipPath id="cd1"><rect x="395.2" y="325.3" width="288.3" height="50.7"/></clipPath>
<g clip-path="url(#cd1)">
<path d="M416.1 367.7h3.2m-1.6 0v3.7m-1.6 0h3.2M425.4 365.8h3.2m-1.6 0v7.9m-1.6 0h3.2M454.7 353.1h3.2m-1.6 0v8.6m-1.6 0h3.2M456.3 354.8h3.2m-1.6 0v5.0m-1.6 0h3.2M460.9 357.7h3.2m-1.6 0v4.5m-1.6 0h3.2M474.8 351.7h3.2m-1.6 0v12.0m-1.6 0h3.2M476.3 355.4h3.2m-1.6 0v7.8m-1.6 0h3.2M477.9 351.3h3.2m-1.6 0v11.9m-1.6 0h3.2M482.5 353.6h3.2m-1.6 0v8.0m-1.6 0h3.2M497.9 358.3h3.2m-1.6 0v7.6m-1.6 0h3.2M505.7 357.2h3.2m-1.6 0v10.9m-1.6 0h3.2M508.7 356.7h3.2m-1.6 0v6.9m-1.6 0h3.2M511.8 351.3h3.2m-1.6 0v11.1m-1.6 0h3.2M513.4 351.4h3.2m-1.6 0v11.4m-1.6 0h3.2M516.5 359.5h3.2m-1.6 0v3.5m-1.6 0h3.2M521.1 357.3h3.2m-1.6 0v7.4m-1.6 0h3.2M530.4 356.1h3.2m-1.6 0v12.4m-1.6 0h3.2M535.0 358.2h3.2m-1.6 0v3.3m-1.6 0h3.2M538.1 358.8h3.2m-1.6 0v3.6m-1.6 0h3.2M539.6 353.8h3.2m-1.6 0v8.9m-1.6 0h3.2M542.7 353.2h3.2m-1.6 0v10.2m-1.6 0h3.2M544.3 353.8h3.2m-1.6 0v11.5m-1.6 0h3.2M553.5 357.0h3.2m-1.6 0v9.1m-1.6 0h3.2M559.7 353.6h3.2m-1.6 0v9.9m-1.6 0h3.2M564.3 357.1h3.2m-1.6 0v7.8m-1.6 0h3.2M565.9 356.8h3.2m-1.6 0v8.6m-1.6 0h3.2M567.4 359.1h3.2m-1.6 0v5.3m-1.6 0h3.2M569.0 354.7h3.2m-1.6 0v10.5m-1.6 0h3.2M573.6 357.7h3.2m-1.6 0v4.9m-1.6 0h3.2M576.7 355.8h3.2m-1.6 0v9.8m-1.6 0h3.2M579.8 355.8h3.2m-1.6 0v9.3m-1.6 0h3.2M584.4 356.7h3.2m-1.6 0v6.2m-1.6 0h3.2M589.0 359.6h3.2m-1.6 0v7.4m-1.6 0h3.2M592.1 357.3h3.2m-1.6 0v3.5m-1.6 0h3.2M593.7 360.2h3.2m-1.6 0v7.8m-1.6 0h3.2M598.3 356.3h3.2m-1.6 0v7.9m-1.6 0h3.2M599.8 359.8h3.2m-1.6 0v5.3m-1.6 0h3.2M601.4 354.3h3.2m-1.6 0v8.5m-1.6 0h3.2M606.0 356.3h3.2m-1.6 0v9.2m-1.6 0h3.2M612.2 359.0h3.2m-1.6 0v4.9m-1.6 0h3.2M613.7 359.7h3.2m-1.6 0v3.3m-1.6 0h3.2M616.8 358.1h3.2m-1.6 0v7.7m-1.6 0h3.2M619.9 357.7h3.2m-1.6 0v11.5m-1.6 0h3.2M621.5 354.4h3.2m-1.6 0v11.5m-1.6 0h3.2M627.6 356.9h3.2m-1.6 0v9.7m-1.6 0h3.2M629.2 362.3h3.2m-1.6 0v3.3m-1.6 0h3.2M633.8 357.5h3.2m-1.6 0v5.6m-1.6 0h3.2M636.9 356.4h3.2m-1.6 0v6.4m-1.6 0h3.2M643.1 357.3h3.2m-1.6 0v8.6m-1.6 0h3.2M660.1 361.2h3.2m-1.6 0v7.1m-1.6 0h3.2M661.6 357.5h3.2m-1.6 0v4.2m-1.6 0h3.2M663.1 353.3h3.2m-1.6 0v4.4m-1.6 0h3.2" stroke="#F5241E" stroke-width="0.8" stroke-opacity="0.75" fill="none"/>
<path d="M409.9 339.7h3.2m-1.6 0v10.4m-1.6 0h3.2M416.1 360.7h3.2m-1.6 0v3.8m-1.6 0h3.2M422.3 358.1h3.2m-1.6 0v5.6m-1.6 0h3.2M440.8 352.5h3.2m-1.6 0v3.4m-1.6 0h3.2M448.5 350.2h3.2m-1.6 0v11.3m-1.6 0h3.2M457.8 348.9h3.2m-1.6 0v8.0m-1.6 0h3.2M460.9 347.5h3.2m-1.6 0v3.9m-1.6 0h3.2M465.5 345.0h3.2m-1.6 0v7.8m-1.6 0h3.2M470.1 344.0h3.2m-1.6 0v11.9m-1.6 0h3.2M473.2 341.0h3.2m-1.6 0v12.5m-1.6 0h3.2M482.5 348.4h3.2m-1.6 0v10.9m-1.6 0h3.2M485.6 347.7h3.2m-1.6 0v9.0m-1.6 0h3.2M488.7 344.4h3.2m-1.6 0v11.2m-1.6 0h3.2M499.5 347.4h3.2m-1.6 0v8.2m-1.6 0h3.2M504.1 349.7h3.2m-1.6 0v4.4m-1.6 0h3.2M507.2 349.8h3.2m-1.6 0v4.4m-1.6 0h3.2M508.7 351.0h3.2m-1.6 0v8.9m-1.6 0h3.2M510.3 347.4h3.2m-1.6 0v5.7m-1.6 0h3.2M513.4 347.1h3.2m-1.6 0v7.3m-1.6 0h3.2M518.0 347.9h3.2m-1.6 0v7.2m-1.6 0h3.2M519.6 345.6h3.2m-1.6 0v12.2m-1.6 0h3.2M528.8 351.8h3.2m-1.6 0v7.1m-1.6 0h3.2M531.9 345.4h3.2m-1.6 0v9.0m-1.6 0h3.2M535.0 346.0h3.2m-1.6 0v8.7m-1.6 0h3.2M542.7 347.3h3.2m-1.6 0v9.4m-1.6 0h3.2M547.3 351.0h3.2m-1.6 0v6.6m-1.6 0h3.2M548.9 350.7h3.2m-1.6 0v9.3m-1.6 0h3.2M553.5 344.6h3.2m-1.6 0v6.2m-1.6 0h3.2M555.1 341.8h3.2m-1.6 0v11.8m-1.6 0h3.2M559.7 348.4h3.2m-1.6 0v11.4m-1.6 0h3.2M564.3 346.8h3.2m-1.6 0v8.7m-1.6 0h3.2M567.4 347.5h3.2m-1.6 0v7.9m-1.6 0h3.2M572.1 350.2h3.2m-1.6 0v4.3m-1.6 0h3.2M575.1 349.6h3.2m-1.6 0v5.6m-1.6 0h3.2M582.9 349.3h3.2m-1.6 0v5.1m-1.6 0h3.2M584.4 347.1h3.2m-1.6 0v9.0m-1.6 0h3.2M587.5 350.1h3.2m-1.6 0v6.1m-1.6 0h3.2M590.6 344.8h3.2m-1.6 0v11.2m-1.6 0h3.2M592.1 349.8h3.2m-1.6 0v9.9m-1.6 0h3.2M593.7 344.7h3.2m-1.6 0v12.5m-1.6 0h3.2M601.4 349.7h3.2m-1.6 0v8.1m-1.6 0h3.2M604.5 350.5h3.2m-1.6 0v7.0m-1.6 0h3.2M610.7 347.1h3.2m-1.6 0v9.1m-1.6 0h3.2M612.2 349.1h3.2m-1.6 0v6.5m-1.6 0h3.2M616.8 347.8h3.2m-1.6 0v10.4m-1.6 0h3.2M621.5 353.8h3.2m-1.6 0v5.7m-1.6 0h3.2M623.0 349.0h3.2m-1.6 0v8.0m-1.6 0h3.2M632.3 349.6h3.2m-1.6 0v8.1m-1.6 0h3.2M635.4 348.9h3.2m-1.6 0v8.5m-1.6 0h3.2M640.0 346.0h3.2m-1.6 0v11.3m-1.6 0h3.2M643.1 348.1h3.2m-1.6 0v10.6m-1.6 0h3.2M646.2 346.9h3.2m-1.6 0v10.9m-1.6 0h3.2M660.1 349.5h3.2m-1.6 0v7.8m-1.6 0h3.2M663.1 350.4h3.2m-1.6 0v3.9m-1.6 0h3.2M664.7 348.3h3.2m-1.6 0v5.9m-1.6 0h3.2" stroke="#42A07B" stroke-width="0.8" stroke-opacity="0.75" fill="none"/>
<path d="M409.9 339.0h3.2m-1.6 0v6.3m-1.6 0h3.2M414.6 360.0h3.2m-1.6 0v4.7m-1.6 0h3.2M420.7 356.7h3.2m-1.6 0v11.8m-1.6 0h3.2M425.4 357.9h3.2m-1.6 0v10.8m-1.6 0h3.2M428.5 353.9h3.2m-1.6 0v13.5m-1.6 0h3.2M431.5 353.0h3.2m-1.6 0v7.4m-1.6 0h3.2M439.3 347.3h3.2m-1.6 0v11.7m-1.6 0h3.2M447.0 345.8h3.2m-1.6 0v11.4m-1.6 0h3.2M450.1 342.7h3.2m-1.6 0v13.6m-1.6 0h3.2M456.3 346.9h3.2m-1.6 0v14.9m-1.6 0h3.2M462.4 345.8h3.2m-1.6 0v16.2m-1.6 0h3.2M467.1 346.8h3.2m-1.6 0v16.3m-1.6 0h3.2M470.1 347.7h3.2m-1.6 0v14.2m-1.6 0h3.2M473.2 346.2h3.2m-1.6 0v8.6m-1.6 0h3.2M477.9 345.7h3.2m-1.6 0v4.7m-1.6 0h3.2M481.0 344.4h3.2m-1.6 0v15.0m-1.6 0h3.2M482.5 351.3h3.2m-1.6 0v11.1m-1.6 0h3.2M488.7 347.0h3.2m-1.6 0v8.2m-1.6 0h3.2M491.8 345.1h3.2m-1.6 0v13.8m-1.6 0h3.2M496.4 347.5h3.2m-1.6 0v8.7m-1.6 0h3.2M501.0 349.7h3.2m-1.6 0v6.8m-1.6 0h3.2M505.7 344.7h3.2m-1.6 0v10.3m-1.6 0h3.2M511.8 344.7h3.2m-1.6 0v17.4m-1.6 0h3.2M519.6 343.8h3.2m-1.6 0v15.7m-1.6 0h3.2M521.1 348.2h3.2m-1.6 0v4.8m-1.6 0h3.2M525.7 342.5h3.2m-1.6 0v14.8m-1.6 0h3.2M527.3 345.6h3.2m-1.6 0v13.5m-1.6 0h3.2M528.8 343.6h3.2m-1.6 0v15.9m-1.6 0h3.2M535.0 346.8h3.2m-1.6 0v10.8m-1.6 0h3.2M538.1 344.1h3.2m-1.6 0v12.6m-1.6 0h3.2M542.7 341.9h3.2m-1.6 0v11.8m-1.6 0h3.2M545.8 348.9h3.2m-1.6 0v6.2m-1.6 0h3.2M548.9 351.8h3.2m-1.6 0v7.2m-1.6 0h3.2M558.2 353.2h3.2m-1.6 0v5.3m-1.6 0h3.2M572.1 345.2h3.2m-1.6 0v13.0m-1.6 0h3.2M579.8 349.5h3.2m-1.6 0v13.1m-1.6 0h3.2M584.4 351.7h3.2m-1.6 0v5.2m-1.6 0h3.2M595.2 346.3h3.2m-1.6 0v11.4m-1.6 0h3.2M598.3 349.6h3.2m-1.6 0v7.0m-1.6 0h3.2M613.7 348.9h3.2m-1.6 0v14.7m-1.6 0h3.2M618.4 349.2h3.2m-1.6 0v5.4m-1.6 0h3.2M626.1 346.1h3.2m-1.6 0v10.0m-1.6 0h3.2M629.2 348.6h3.2m-1.6 0v8.7m-1.6 0h3.2M632.3 347.9h3.2m-1.6 0v6.2m-1.6 0h3.2M636.9 346.9h3.2m-1.6 0v7.8m-1.6 0h3.2M644.6 347.3h3.2m-1.6 0v12.2m-1.6 0h3.2M649.3 342.9h3.2m-1.6 0v17.4m-1.6 0h3.2M652.3 351.0h3.2m-1.6 0v9.2m-1.6 0h3.2M653.9 352.9h3.2m-1.6 0v7.0m-1.6 0h3.2M657.0 343.1h3.2m-1.6 0v16.4m-1.6 0h3.2M660.1 344.1h3.2m-1.6 0v16.4m-1.6 0h3.2M661.6 347.6h3.2m-1.6 0v10.0m-1.6 0h3.2M664.7 342.3h3.2m-1.6 0v15.6m-1.6 0h3.2" stroke="#E2A22E" stroke-width="0.8" stroke-opacity="0.75" fill="none"/>
<path d="M411.5 352.6h3.2m-1.6 0v9.5m-1.6 0h3.2M417.7 361.3h3.2m-1.6 0v5.4m-1.6 0h3.2M419.2 362.5h3.2m-1.6 0v4.5m-1.6 0h3.2M423.8 361.3h3.2m-1.6 0v4.1m-1.6 0h3.2M425.4 362.5h3.2m-1.6 0v9.2m-1.6 0h3.2M430.0 363.1h3.2m-1.6 0v5.7m-1.6 0h3.2M431.5 358.1h3.2m-1.6 0v8.3m-1.6 0h3.2M433.1 352.0h3.2m-1.6 0v11.4m-1.6 0h3.2M442.4 352.2h3.2m-1.6 0v8.4m-1.6 0h3.2M450.1 353.2h3.2m-1.6 0v5.5m-1.6 0h3.2M451.6 350.9h3.2m-1.6 0v6.5m-1.6 0h3.2M460.9 350.2h3.2m-1.6 0v10.1m-1.6 0h3.2M462.4 350.3h3.2m-1.6 0v8.8m-1.6 0h3.2M465.5 350.1h3.2m-1.6 0v11.3m-1.6 0h3.2M467.1 349.8h3.2m-1.6 0v6.3m-1.6 0h3.2M476.3 349.2h3.2m-1.6 0v11.9m-1.6 0h3.2M481.0 351.7h3.2m-1.6 0v6.2m-1.6 0h3.2M488.7 350.2h3.2m-1.6 0v7.7m-1.6 0h3.2M493.3 352.8h3.2m-1.6 0v7.1m-1.6 0h3.2M496.4 350.8h3.2m-1.6 0v7.4m-1.6 0h3.2M508.7 352.3h3.2m-1.6 0v8.0m-1.6 0h3.2M510.3 353.7h3.2m-1.6 0v4.9m-1.6 0h3.2M514.9 350.7h3.2m-1.6 0v9.7m-1.6 0h3.2M525.7 352.0h3.2m-1.6 0v7.1m-1.6 0h3.2M533.5 352.2h3.2m-1.6 0v8.5m-1.6 0h3.2M535.0 349.9h3.2m-1.6 0v12.3m-1.6 0h3.2M548.9 352.9h3.2m-1.6 0v5.3m-1.6 0h3.2M556.6 348.2h3.2m-1.6 0v11.2m-1.6 0h3.2M564.3 351.9h3.2m-1.6 0v12.1m-1.6 0h3.2M570.5 356.3h3.2m-1.6 0v5.9m-1.6 0h3.2M584.4 348.0h3.2m-1.6 0v9.3m-1.6 0h3.2M589.0 354.2h3.2m-1.6 0v5.0m-1.6 0h3.2M593.7 356.2h3.2m-1.6 0v4.8m-1.6 0h3.2M598.3 352.1h3.2m-1.6 0v11.6m-1.6 0h3.2M599.8 354.3h3.2m-1.6 0v9.0m-1.6 0h3.2M602.9 351.6h3.2m-1.6 0v8.7m-1.6 0h3.2M604.5 349.2h3.2m-1.6 0v8.9m-1.6 0h3.2M606.0 352.5h3.2m-1.6 0v8.4m-1.6 0h3.2M612.2 350.7h3.2m-1.6 0v11.6m-1.6 0h3.2M621.5 355.5h3.2m-1.6 0v7.6m-1.6 0h3.2M629.2 352.3h3.2m-1.6 0v6.6m-1.6 0h3.2M635.4 352.4h3.2m-1.6 0v6.5m-1.6 0h3.2M636.9 349.9h3.2m-1.6 0v9.9m-1.6 0h3.2M638.4 352.5h3.2m-1.6 0v11.1m-1.6 0h3.2M649.3 353.5h3.2m-1.6 0v9.5m-1.6 0h3.2M652.3 355.1h3.2m-1.6 0v6.7m-1.6 0h3.2M657.0 354.5h3.2m-1.6 0v7.8m-1.6 0h3.2M661.6 351.6h3.2m-1.6 0v6.7m-1.6 0h3.2M664.7 346.6h3.2m-1.6 0v11.2m-1.6 0h3.2M667.8 341.6h3.2m-1.6 0v11.7m-1.6 0h3.2" stroke="#EC7627" stroke-width="0.8" stroke-opacity="0.75" fill="none"/>
<path d="M408.4 335.5h3.2m-1.6 0v5.2m-1.6 0h3.2M414.6 360.7h3.2m-1.6 0v10.3m-1.6 0h3.2M417.7 356.7h3.2m-1.6 0v14.4m-1.6 0h3.2M420.7 360.2h3.2m-1.6 0v11.2m-1.6 0h3.2M423.8 362.7h3.2m-1.6 0v13.7m-1.6 0h3.2M425.4 365.5h3.2m-1.6 0v7.0m-1.6 0h3.2M428.5 363.7h3.2m-1.6 0v4.0m-1.6 0h3.2M431.5 356.8h3.2m-1.6 0v5.9m-1.6 0h3.2M437.7 350.2h3.2m-1.6 0v12.4m-1.6 0h3.2M439.3 351.2h3.2m-1.6 0v11.0m-1.6 0h3.2M442.4 352.5h3.2m-1.6 0v6.7m-1.6 0h3.2M447.0 354.0h3.2m-1.6 0v5.0m-1.6 0h3.2M450.1 356.0h3.2m-1.6 0v5.8m-1.6 0h3.2M456.3 352.2h3.2m-1.6 0v7.6m-1.6 0h3.2M464.0 349.8h3.2m-1.6 0v6.5m-1.6 0h3.2M467.1 351.0h3.2m-1.6 0v11.7m-1.6 0h3.2M470.1 353.7h3.2m-1.6 0v4.2m-1.6 0h3.2M471.7 352.7h3.2m-1.6 0v11.4m-1.6 0h3.2M479.4 353.7h3.2m-1.6 0v6.4m-1.6 0h3.2M499.5 354.9h3.2m-1.6 0v13.4m-1.6 0h3.2M504.1 355.0h3.2m-1.6 0v8.2m-1.6 0h3.2M522.6 351.4h3.2m-1.6 0v10.3m-1.6 0h3.2M525.7 353.1h3.2m-1.6 0v11.3m-1.6 0h3.2M531.9 349.1h3.2m-1.6 0v8.4m-1.6 0h3.2M533.5 356.7h3.2m-1.6 0v4.6m-1.6 0h3.2M536.5 349.6h3.2m-1.6 0v13.2m-1.6 0h3.2M555.1 352.1h3.2m-1.6 0v12.0m-1.6 0h3.2M556.6 348.8h3.2m-1.6 0v14.2m-1.6 0h3.2M559.7 354.2h3.2m-1.6 0v7.6m-1.6 0h3.2M569.0 349.7h3.2m-1.6 0v13.4m-1.6 0h3.2M575.1 352.3h3.2m-1.6 0v7.1m-1.6 0h3.2M578.2 353.6h3.2m-1.6 0v10.0m-1.6 0h3.2M582.9 356.3h3.2m-1.6 0v10.3m-1.6 0h3.2M584.4 351.6h3.2m-1.6 0v12.2m-1.6 0h3.2M587.5 351.4h3.2m-1.6 0v11.1m-1.6 0h3.2M593.7 352.8h3.2m-1.6 0v14.4m-1.6 0h3.2M596.8 353.4h3.2m-1.6 0v6.2m-1.6 0h3.2M601.4 351.1h3.2m-1.6 0v13.9m-1.6 0h3.2M607.6 355.8h3.2m-1.6 0v6.5m-1.6 0h3.2M609.1 352.1h3.2m-1.6 0v13.8m-1.6 0h3.2M612.2 351.8h3.2m-1.6 0v13.9m-1.6 0h3.2M615.3 349.9h3.2m-1.6 0v12.2m-1.6 0h3.2M619.9 351.5h3.2m-1.6 0v13.9m-1.6 0h3.2M621.5 354.0h3.2m-1.6 0v10.9m-1.6 0h3.2M641.5 352.7h3.2m-1.6 0v11.6m-1.6 0h3.2M644.6 357.3h3.2m-1.6 0v10.1m-1.6 0h3.2M653.9 355.5h3.2m-1.6 0v13.5m-1.6 0h3.2M657.0 357.5h3.2m-1.6 0v8.6m-1.6 0h3.2M660.1 352.9h3.2m-1.6 0v14.3m-1.6 0h3.2M661.6 349.7h3.2m-1.6 0v13.0m-1.6 0h3.2" stroke="#63BBCD" stroke-width="0.8" stroke-opacity="0.75" fill="none"/>
<polyline points="410.0,340.5 411.5,351.0 413.1,364.3 414.6,365.0 416.2,368.4 417.7,369.6 419.3,368.2 420.8,366.7 422.3,369.7 423.9,369.3 425.4,371.3 427.0,369.8 428.5,367.0 430.1,368.0 431.6,367.6 433.1,366.5 434.7,363.1 436.2,360.6 437.8,360.0 439.3,359.2 440.9,359.9 442.4,361.4 444.0,359.0 445.5,357.9 447.0,355.7 448.6,357.8 450.1,360.2 451.7,362.2 453.2,360.1 454.8,358.6 456.3,357.4 457.9,357.3 459.4,356.6 460.9,356.7 462.5,360.0 464.0,356.2 465.6,357.7 467.1,357.6 468.7,360.3 470.2,361.7 471.7,361.7 473.3,358.4 474.8,361.7 476.4,357.7 477.9,359.2 479.5,357.3 481.0,358.1 482.6,359.1 484.1,357.6 485.6,358.7 487.2,360.8 488.7,358.1 490.3,361.0 491.8,357.6 493.4,357.7 494.9,358.7 496.5,358.3 498.0,359.9 499.5,362.1 501.1,357.1 502.6,360.4 504.2,359.1 505.7,363.3 507.3,362.6 508.8,361.4 510.3,360.1 511.9,359.4 513.4,356.9 515.0,357.1 516.5,357.3 518.1,361.3 519.6,361.6 521.2,358.3 522.7,361.0 524.2,359.8 525.8,359.5 527.3,358.0 528.9,361.9 530.4,363.1 532.0,362.3 533.5,361.2 535.1,361.1 536.6,359.8 538.1,360.0 539.7,360.6 541.2,358.3 542.8,360.7 544.3,358.3 545.9,359.5 547.4,358.9 548.9,360.1 550.5,358.7 552.0,361.2 553.6,362.5 555.1,361.5 556.7,358.3 558.2,357.2 559.8,360.9 561.3,358.5 562.8,358.8 564.4,360.4 565.9,361.0 567.5,361.1 569.0,361.7 570.6,360.0 572.1,360.4 573.7,360.5 575.2,360.1 576.7,360.7 578.3,360.7 579.8,358.7 581.4,360.4 582.9,359.5 584.5,359.5 586.0,359.8 587.5,361.0 589.1,360.5 590.6,363.3 592.2,363.0 593.7,359.1 595.3,364.1 596.8,363.0 598.4,362.4 599.9,360.2 601.4,362.4 603.0,358.5 604.5,361.1 606.1,360.2 607.6,360.9 609.2,361.5 610.7,361.7 612.3,360.9 613.8,361.5 615.3,361.4 616.9,361.7 618.4,361.9 620.0,360.0 621.5,363.4 623.1,360.1 624.6,353.0 626.1,341.3 627.7,350.2 629.2,361.7 630.8,364.0 632.3,362.1 633.9,359.4 635.4,360.3 637.0,359.2 638.5,359.7 640.0,360.9 641.6,361.4 643.1,363.4 644.7,361.6 646.2,359.5 647.8,360.5 649.3,359.4 650.9,359.8 652.4,365.9 653.9,360.0 655.5,362.0 657.0,360.4 658.6,361.5 660.1,359.8 661.7,364.8 663.2,359.6 664.7,355.5 666.3,356.1 667.8,356.5 669.4,353.9" fill="none" stroke="#F5241E" stroke-width="1.7" stroke-linejoin="round"/>
<polyline points="410.0,333.7 411.5,344.9 413.1,353.0 414.6,359.8 416.2,360.9 417.7,362.6 419.3,359.2 420.8,357.1 422.3,358.3 423.9,361.0 425.4,362.9 427.0,362.6 428.5,359.5 430.1,366.4 431.6,364.7 433.1,361.3 434.7,353.5 436.2,353.4 437.8,350.3 439.3,353.8 440.9,351.0 442.4,354.2 444.0,355.5 445.5,349.1 447.0,352.7 448.6,349.0 450.1,355.8 451.7,348.9 453.2,350.0 454.8,353.8 456.3,352.8 457.9,351.6 459.4,352.9 460.9,351.8 462.5,349.4 464.0,352.1 465.6,350.6 467.1,348.9 468.7,349.7 470.2,353.0 471.7,349.9 473.3,351.1 474.8,347.2 476.4,353.1 477.9,351.1 479.5,348.4 481.0,347.7 482.6,348.5 484.1,353.9 485.6,349.4 487.2,352.2 488.7,350.9 490.3,350.0 491.8,349.1 493.4,351.3 494.9,350.6 496.5,351.1 498.0,356.1 499.5,353.4 501.1,351.5 502.6,350.6 504.2,348.1 505.7,351.9 507.3,349.5 508.8,352.0 510.3,355.5 511.9,350.3 513.4,351.5 515.0,350.7 516.5,346.8 518.1,351.6 519.6,351.5 521.2,351.7 522.7,351.9 524.2,348.8 525.8,353.0 527.3,350.3 528.9,351.5 530.4,355.4 532.0,354.1 533.5,349.9 535.1,352.1 536.6,350.4 538.1,347.4 539.7,354.7 541.2,348.3 542.8,351.2 544.3,352.0 545.9,352.8 547.4,352.3 548.9,354.3 550.5,355.3 552.0,351.1 553.6,349.2 555.1,347.7 556.7,347.7 558.2,353.7 559.8,350.7 561.3,354.2 562.8,350.6 564.4,353.3 565.9,351.1 567.5,351.2 569.0,351.5 570.6,350.1 572.1,353.4 573.7,352.4 575.2,351.7 576.7,352.4 578.3,349.4 579.8,349.6 581.4,355.7 582.9,354.1 584.5,351.9 586.0,351.6 587.5,349.1 589.1,353.2 590.6,352.8 592.2,350.4 593.7,354.8 595.3,351.0 596.8,354.7 598.4,354.7 599.9,351.9 601.4,353.5 603.0,353.7 604.5,357.3 606.1,354.0 607.6,352.5 609.2,352.6 610.7,352.1 612.3,351.7 613.8,352.4 615.3,349.8 616.9,353.0 618.4,353.1 620.0,352.1 621.5,350.5 623.1,356.7 624.6,353.0 626.1,351.4 627.7,351.4 629.2,354.8 630.8,351.4 632.3,356.8 633.9,353.7 635.4,356.1 637.0,353.2 638.5,357.5 640.0,352.5 641.6,351.6 643.1,352.7 644.7,353.4 646.2,350.5 647.8,352.3 649.3,355.0 650.9,354.7 652.4,355.3 653.9,354.7 655.5,353.1 657.0,353.3 658.6,353.3 660.1,353.6 661.7,353.4 663.2,353.2 664.7,352.4 666.3,351.2 667.8,346.8 669.4,343.6" fill="none" stroke="#42A07B" stroke-width="1.7" stroke-linejoin="round"/>
<polyline points="410.0,336.4 411.5,342.1 413.1,355.3 414.6,355.4 416.2,362.4 417.7,362.1 419.3,358.6 420.8,363.1 422.3,362.6 423.9,359.7 425.4,362.2 427.0,363.3 428.5,361.9 430.1,360.7 431.6,363.7 433.1,356.7 434.7,351.7 436.2,357.4 437.8,350.8 439.3,354.4 440.9,353.1 442.4,347.6 444.0,351.7 445.5,351.1 447.0,350.5 448.6,351.5 450.1,350.1 451.7,349.5 453.2,352.2 454.8,350.3 456.3,352.1 457.9,354.3 459.4,351.2 460.9,351.5 462.5,350.2 464.0,353.9 465.6,349.5 467.1,354.6 468.7,354.9 470.2,349.2 471.7,354.8 473.3,349.9 474.8,350.5 476.4,351.7 477.9,349.1 479.5,348.1 481.0,348.1 482.6,351.9 484.1,356.8 485.6,353.9 487.2,351.5 488.7,356.6 490.3,351.1 491.8,349.2 493.4,352.0 494.9,352.8 496.5,353.3 498.0,351.8 499.5,350.2 501.1,350.3 502.6,353.2 504.2,351.0 505.7,352.2 507.3,349.9 508.8,345.5 510.3,352.0 511.9,351.7 513.4,353.4 515.0,351.6 516.5,351.4 518.1,348.6 519.6,352.2 521.2,351.7 522.7,350.6 524.2,356.4 525.8,351.9 527.3,349.9 528.9,352.3 530.4,351.6 532.0,350.0 533.5,353.5 535.1,351.4 536.6,352.2 538.1,349.3 539.7,350.4 541.2,349.2 542.8,354.2 544.3,347.7 545.9,351.4 547.4,352.0 548.9,353.7 550.5,355.4 552.0,358.6 553.6,351.4 555.1,356.4 556.7,350.4 558.2,354.4 559.8,355.9 561.3,356.7 562.8,349.8 564.4,349.8 565.9,350.6 567.5,353.3 569.0,353.9 570.6,354.7 572.1,358.6 573.7,351.7 575.2,353.0 576.7,354.2 578.3,348.9 579.8,355.9 581.4,356.1 582.9,351.1 584.5,351.3 586.0,354.3 587.5,350.1 589.1,351.2 590.6,352.2 592.2,353.7 593.7,354.5 595.3,352.5 596.8,352.0 598.4,353.6 599.9,353.1 601.4,351.0 603.0,354.8 604.5,352.1 606.1,351.4 607.6,348.6 609.2,353.7 610.7,355.9 612.3,348.5 613.8,354.8 615.3,356.2 616.9,355.1 618.4,352.5 620.0,351.9 621.5,351.9 623.1,355.6 624.6,354.7 626.1,353.7 627.7,351.1 629.2,356.0 630.8,352.9 632.3,352.1 633.9,351.1 635.4,351.6 637.0,352.8 638.5,350.8 640.0,355.3 641.6,353.4 643.1,356.6 644.7,352.2 646.2,353.5 647.8,352.9 649.3,355.0 650.9,351.6 652.4,354.7 653.9,355.5 655.5,356.5 657.0,352.0 658.6,351.2 660.1,355.5 661.7,352.3 663.2,352.6 664.7,352.7 666.3,350.1 667.8,346.7 669.4,344.9" fill="none" stroke="#E2A22E" stroke-width="1.7" stroke-linejoin="round"/>
<polyline points="410.0,339.8 411.5,350.0 413.1,357.4 414.6,360.0 416.2,367.0 417.7,362.8 419.3,364.0 420.8,364.7 422.3,368.0 423.9,363.0 425.4,363.4 427.0,367.1 428.5,367.3 430.1,363.6 431.6,366.0 433.1,362.2 434.7,357.7 436.2,356.4 437.8,354.9 439.3,359.4 440.9,355.4 442.4,354.8 444.0,356.5 445.5,356.7 447.0,354.9 448.6,355.6 450.1,355.1 451.7,356.0 453.2,354.2 454.8,358.0 456.3,353.1 457.9,355.2 459.4,354.4 460.9,359.9 462.5,355.3 464.0,354.7 465.6,355.3 467.1,355.8 468.7,352.9 470.2,357.6 471.7,354.2 473.3,357.1 474.8,352.8 476.4,355.9 477.9,355.1 479.5,356.8 481.0,357.1 482.6,354.8 484.1,355.7 485.6,359.5 487.2,357.5 488.7,357.4 490.3,354.1 491.8,351.8 493.4,357.8 494.9,356.3 496.5,356.8 498.0,354.5 499.5,355.5 501.1,353.1 502.6,354.3 504.2,353.5 505.7,352.1 507.3,356.5 508.8,357.0 510.3,356.3 511.9,356.1 513.4,355.9 515.0,352.3 516.5,355.6 518.1,354.6 519.6,355.5 521.2,359.8 522.7,357.6 524.2,361.2 525.8,356.4 527.3,355.6 528.9,354.8 530.4,356.6 532.0,354.3 533.5,356.7 535.1,356.5 536.6,356.1 538.1,352.1 539.7,355.2 541.2,356.7 542.8,356.8 544.3,354.0 545.9,353.4 547.4,357.5 548.9,358.1 550.5,355.5 552.0,357.1 553.6,355.4 555.1,354.6 556.7,355.2 558.2,353.8 559.8,353.4 561.3,356.5 562.8,358.0 564.4,356.2 565.9,358.0 567.5,355.9 569.0,355.1 570.6,357.5 572.1,359.2 573.7,357.4 575.2,356.5 576.7,357.5 578.3,358.2 579.8,359.5 581.4,355.7 582.9,356.6 584.5,355.7 586.0,352.6 587.5,356.1 589.1,359.2 590.6,356.7 592.2,353.9 593.7,355.7 595.3,358.6 596.8,357.5 598.4,355.4 599.9,357.9 601.4,358.8 603.0,359.4 604.5,356.0 606.1,353.7 607.6,356.7 609.2,360.2 610.7,356.9 612.3,355.6 613.8,356.5 615.3,358.3 616.9,355.4 618.4,354.0 620.0,360.5 621.5,356.2 623.1,359.3 624.6,358.2 626.1,357.7 627.7,355.0 629.2,354.9 630.8,355.5 632.3,356.0 633.9,357.1 635.4,355.6 637.0,355.6 638.5,354.8 640.0,358.0 641.6,356.9 643.1,356.4 644.7,355.9 646.2,353.8 647.8,355.8 649.3,354.5 650.9,358.3 652.4,359.9 653.9,358.5 655.5,358.9 657.0,353.7 658.6,358.4 660.1,358.3 661.7,356.2 663.2,355.0 664.7,354.5 666.3,352.2 667.8,345.6 669.4,347.5" fill="none" stroke="#EC7627" stroke-width="1.7" stroke-linejoin="round"/>
<polyline points="410.0,338.1 411.5,346.3 413.1,360.1 414.6,362.6 416.2,365.8 417.7,363.7 419.3,363.9 420.8,365.4 422.3,365.8 423.9,365.6 425.4,369.6 427.0,369.0 428.5,368.5 430.1,365.7 431.6,366.4 433.1,359.8 434.7,358.3 436.2,355.2 437.8,356.4 439.3,356.4 440.9,356.7 442.4,352.8 444.0,355.9 445.5,357.2 447.0,355.6 448.6,356.5 450.1,355.7 451.7,358.9 453.2,357.0 454.8,358.1 456.3,358.4 457.9,356.0 459.4,351.0 460.9,358.0 462.5,360.1 464.0,355.7 465.6,353.0 467.1,354.9 468.7,356.9 470.2,354.5 471.7,355.8 473.3,358.4 474.8,359.9 476.4,357.3 477.9,353.9 479.5,354.2 481.0,356.9 482.6,355.3 484.1,355.8 485.6,355.2 487.2,353.9 488.7,357.4 490.3,362.1 491.8,355.5 493.4,357.8 494.9,353.7 496.5,358.8 498.0,356.4 499.5,360.0 501.1,361.6 502.6,359.5 504.2,355.2 505.7,359.1 507.3,356.2 508.8,358.3 510.3,355.1 511.9,360.0 513.4,359.1 515.0,355.7 516.5,356.8 518.1,360.0 519.6,354.6 521.2,352.1 522.7,360.6 524.2,356.5 525.8,360.6 527.3,358.7 528.9,354.5 530.4,355.2 532.0,355.6 533.5,353.3 535.1,359.0 536.6,360.9 538.1,356.2 539.7,355.1 541.2,355.1 542.8,355.9 544.3,357.3 545.9,356.8 547.4,355.8 548.9,360.6 550.5,360.2 552.0,357.6 553.6,357.5 555.1,354.6 556.7,358.1 558.2,355.9 559.8,355.7 561.3,358.0 562.8,359.2 564.4,357.3 565.9,356.2 567.5,357.8 569.0,356.8 570.6,356.4 572.1,357.3 573.7,357.0 575.2,355.7 576.7,355.8 578.3,356.8 579.8,358.6 581.4,361.1 582.9,358.3 584.5,361.4 586.0,357.7 587.5,356.7 589.1,357.0 590.6,353.8 592.2,357.6 593.7,358.8 595.3,360.0 596.8,357.4 598.4,356.4 599.9,359.6 601.4,360.4 603.0,358.1 604.5,359.8 606.1,360.6 607.6,357.4 609.2,359.0 610.7,359.0 612.3,358.9 613.8,358.7 615.3,356.4 616.9,356.0 618.4,360.4 620.0,358.6 621.5,358.5 623.1,359.4 624.6,355.8 626.1,355.1 627.7,357.7 629.2,360.6 630.8,357.9 632.3,355.1 633.9,357.6 635.4,355.5 637.0,356.1 638.5,358.4 640.0,357.2 641.6,358.9 643.1,358.5 644.7,363.2 646.2,362.4 647.8,357.8 649.3,357.8 650.9,360.3 652.4,357.1 653.9,357.0 655.5,362.3 657.0,362.7 658.6,361.8 660.1,359.7 661.7,360.1 663.2,356.2 664.7,352.9 666.3,352.8 667.8,351.0 669.4,347.5" fill="none" stroke="#63BBCD" stroke-width="1.7" stroke-linejoin="round"/>
<polyline points="437.3,369.2 457.4,336.3 460.6,360.3 462.6,339.8 465.0,360.0 468.0,354.5 475.5,354.3 479.6,351.1 485.0,338.6 488.1,354.2 489.8,337.0 492.4,350.9 494.4,348.6 496.6,345.6 498.8,350.2 500.8,347.5 502.9,354.9 506.2,334.9 509.3,347.8 512.5,348.2 514.7,351.9 517.8,337.4 521.0,344.0 523.2,360.4 525.2,357.0 527.3,362.4 530.6,356.5 534.7,362.9 540.0,354.2 543.2,342.4 545.2,350.3 549.6,351.1 552.7,351.0 554.8,331.2 557.0,364.3 560.1,347.6 562.2,347.8 564.4,352.4 566.4,342.5 568.6,342.6 570.7,360.9 574.9,329.1 579.1,348.8 582.3,358.8 585.5,362.5 589.7,364.6 594.0,364.0 597.1,365.4 600.4,366.8 602.4,354.7 604.5,370.3 607.6,364.7 611.9,369.0 615.0,363.6 618.3,365.7 621.5,364.3 624.6,365.6 628.9,364.3 632.0,352.8 634.2,367.5 637.3,367.2 641.6,358.7 643.7,365.1 645.8,357.0 647.9,364.0 650.1,365.3 653.2,359.2 657.5,369.1 660.6,373.8 662.7,370.8 664.9,372.8" fill="none" stroke="#131313" stroke-width="2.2" stroke-linejoin="round"/>
</g>
<rect x="395.2" y="325.3" width="288.3" height="50.7" fill="none" stroke="#9C9C9C" stroke-width="1.0"/>
<line y1="376.0" y2="377.3" x1="406.90" x2="406.90" stroke="#888" stroke-width="0.8"/>
<line y1="376.0" y2="377.3" x1="484.10" x2="484.10" stroke="#888" stroke-width="0.8"/>
<line y1="376.0" y2="377.3" x1="561.30" x2="561.30" stroke="#888" stroke-width="0.8"/>
<line y1="376.0" y2="377.3" x1="638.50" x2="638.50" stroke="#888" stroke-width="0.8"/>
<line x1="393.0" x2="395.2" y1="366.40" y2="366.40" stroke="#9C9C9C" stroke-width="0.8"/>
<text x="391.9" y="369.5" font-size="8.7" text-anchor="end" fill="#3a3a3a" >0.60</text>
<line x1="393.0" x2="395.2" y1="350.70" y2="350.70" stroke="#9C9C9C" stroke-width="0.8"/>
<text x="391.9" y="353.8" font-size="8.7" text-anchor="end" fill="#3a3a3a" >0.80</text>
<line x1="393.0" x2="395.2" y1="335.00" y2="335.00" stroke="#9C9C9C" stroke-width="0.8"/>
<text x="391.9" y="338.1" font-size="8.7" text-anchor="end" fill="#3a3a3a" >1.00</text>
<text transform="translate(368.6,350.6) rotate(-90)" font-size="11" text-anchor="middle" fill="#1a1a1a">T<tspan font-size="8" dy="1.3">1</tspan><tspan dy="-1.3"> (s)</tspan></text>
<rect x="395.2" y="379.0" width="288.3" height="51.1" fill="#fff"/>
<line x1="395.2" x2="683.5" y1="421.71" y2="421.71" stroke="#EFEFEF" stroke-width="0.5"/>
<line x1="395.2" x2="683.5" y1="410.34" y2="410.34" stroke="#EFEFEF" stroke-width="0.5"/>
<line x1="395.2" x2="683.5" y1="398.96" y2="398.96" stroke="#EFEFEF" stroke-width="0.5"/>
<line x1="395.2" x2="683.5" y1="387.59" y2="387.59" stroke="#EFEFEF" stroke-width="0.5"/>
<line y1="379.0" y2="430.1" x1="445.50" x2="445.50" stroke="#EFEFEF" stroke-width="0.5"/>
<line y1="379.0" y2="430.1" x1="522.70" x2="522.70" stroke="#EFEFEF" stroke-width="0.5"/>
<line y1="379.0" y2="430.1" x1="599.90" x2="599.90" stroke="#EFEFEF" stroke-width="0.5"/>
<line x1="395.2" x2="683.5" y1="427.40" y2="427.40" stroke="#DEDEDE" stroke-width="0.7"/>
<line x1="395.2" x2="683.5" y1="416.02" y2="416.02" stroke="#DEDEDE" stroke-width="0.7"/>
<line x1="395.2" x2="683.5" y1="404.65" y2="404.65" stroke="#DEDEDE" stroke-width="0.7"/>
<line x1="395.2" x2="683.5" y1="393.27" y2="393.27" stroke="#DEDEDE" stroke-width="0.7"/>
<line x1="395.2" x2="683.5" y1="381.90" y2="381.90" stroke="#DEDEDE" stroke-width="0.7"/>
<line y1="379.0" y2="430.1" x1="406.90" x2="406.90" stroke="#DEDEDE" stroke-width="0.7"/>
<line y1="379.0" y2="430.1" x1="484.10" x2="484.10" stroke="#DEDEDE" stroke-width="0.7"/>
<line y1="379.0" y2="430.1" x1="561.30" x2="561.30" stroke="#DEDEDE" stroke-width="0.7"/>
<line y1="379.0" y2="430.1" x1="638.50" x2="638.50" stroke="#DEDEDE" stroke-width="0.7"/>
<clipPath id="cd2"><rect x="395.2" y="379.0" width="288.3" height="51.1"/></clipPath>
<g clip-path="url(#cd2)">
<path d="M411.5 383.9h3.2m-1.6 0v5.6m-1.6 0h3.2M423.8 386.6h3.2m-1.6 0v16.0m-1.6 0h3.2M425.4 387.2h3.2m-1.6 0v11.6m-1.6 0h3.2M440.8 394.6h3.2m-1.6 0v17.3m-1.6 0h3.2M442.4 401.7h3.2m-1.6 0v5.2m-1.6 0h3.2M448.5 400.0h3.2m-1.6 0v13.0m-1.6 0h3.2M456.3 403.6h3.2m-1.6 0v6.1m-1.6 0h3.2M457.8 405.9h3.2m-1.6 0v11.1m-1.6 0h3.2M465.5 400.3h3.2m-1.6 0v12.6m-1.6 0h3.2M470.1 395.5h3.2m-1.6 0v17.0m-1.6 0h3.2M471.7 399.0h3.2m-1.6 0v13.5m-1.6 0h3.2M477.9 398.9h3.2m-1.6 0v15.7m-1.6 0h3.2M485.6 404.9h3.2m-1.6 0v8.9m-1.6 0h3.2M487.1 402.6h3.2m-1.6 0v8.5m-1.6 0h3.2M499.5 402.3h3.2m-1.6 0v5.1m-1.6 0h3.2M514.9 405.6h3.2m-1.6 0v10.1m-1.6 0h3.2M524.2 400.0h3.2m-1.6 0v17.1m-1.6 0h3.2M535.0 399.7h3.2m-1.6 0v13.9m-1.6 0h3.2M539.6 403.1h3.2m-1.6 0v10.7m-1.6 0h3.2M542.7 406.4h3.2m-1.6 0v5.0m-1.6 0h3.2M545.8 400.7h3.2m-1.6 0v13.8m-1.6 0h3.2M547.3 403.8h3.2m-1.6 0v15.5m-1.6 0h3.2M561.2 402.8h3.2m-1.6 0v16.1m-1.6 0h3.2M565.9 407.1h3.2m-1.6 0v5.7m-1.6 0h3.2M572.1 406.3h3.2m-1.6 0v13.8m-1.6 0h3.2M575.1 402.4h3.2m-1.6 0v18.0m-1.6 0h3.2M576.7 407.2h3.2m-1.6 0v6.1m-1.6 0h3.2M578.2 404.5h3.2m-1.6 0v5.1m-1.6 0h3.2M581.3 402.4h3.2m-1.6 0v14.6m-1.6 0h3.2M582.9 400.7h3.2m-1.6 0v8.6m-1.6 0h3.2M585.9 398.5h3.2m-1.6 0v15.2m-1.6 0h3.2M592.1 396.2h3.2m-1.6 0v16.0m-1.6 0h3.2M593.7 399.4h3.2m-1.6 0v9.6m-1.6 0h3.2M612.2 396.7h3.2m-1.6 0v12.8m-1.6 0h3.2M613.7 402.1h3.2m-1.6 0v6.6m-1.6 0h3.2M638.4 396.0h3.2m-1.6 0v16.2m-1.6 0h3.2M643.1 399.0h3.2m-1.6 0v10.1m-1.6 0h3.2M653.9 399.4h3.2m-1.6 0v7.3m-1.6 0h3.2M661.6 385.8h3.2m-1.6 0v11.1m-1.6 0h3.2" stroke="#F5241E" stroke-width="0.8" stroke-opacity="0.75" fill="none"/>
<path d="M409.9 379.2h3.2m-1.6 0v12.3m-1.6 0h3.2M425.4 389.4h3.2m-1.6 0v6.5m-1.6 0h3.2M428.5 384.3h3.2m-1.6 0v13.5m-1.6 0h3.2M442.4 401.5h3.2m-1.6 0v7.2m-1.6 0h3.2M443.9 400.9h3.2m-1.6 0v12.3m-1.6 0h3.2M447.0 399.9h3.2m-1.6 0v12.4m-1.6 0h3.2M450.1 402.9h3.2m-1.6 0v6.4m-1.6 0h3.2M464.0 410.7h3.2m-1.6 0v8.0m-1.6 0h3.2M465.5 406.9h3.2m-1.6 0v11.6m-1.6 0h3.2M477.9 402.2h3.2m-1.6 0v10.5m-1.6 0h3.2M490.2 409.7h3.2m-1.6 0v5.7m-1.6 0h3.2M496.4 406.7h3.2m-1.6 0v7.4m-1.6 0h3.2M505.7 408.3h3.2m-1.6 0v7.1m-1.6 0h3.2M508.7 405.0h3.2m-1.6 0v11.3m-1.6 0h3.2M516.5 404.6h3.2m-1.6 0v15.5m-1.6 0h3.2M521.1 411.3h3.2m-1.6 0v5.0m-1.6 0h3.2M527.3 401.1h3.2m-1.6 0v16.5m-1.6 0h3.2M531.9 404.6h3.2m-1.6 0v9.5m-1.6 0h3.2M538.1 399.2h3.2m-1.6 0v15.1m-1.6 0h3.2M544.3 405.3h3.2m-1.6 0v11.4m-1.6 0h3.2M545.8 410.7h3.2m-1.6 0v4.9m-1.6 0h3.2M552.0 402.8h3.2m-1.6 0v16.0m-1.6 0h3.2M562.8 409.2h3.2m-1.6 0v8.7m-1.6 0h3.2M565.9 401.1h3.2m-1.6 0v18.1m-1.6 0h3.2M570.5 401.3h3.2m-1.6 0v15.0m-1.6 0h3.2M576.7 402.6h3.2m-1.6 0v7.7m-1.6 0h3.2M579.8 399.0h3.2m-1.6 0v17.5m-1.6 0h3.2M587.5 397.6h3.2m-1.6 0v15.5m-1.6 0h3.2M593.7 393.4h3.2m-1.6 0v16.1m-1.6 0h3.2M598.3 396.8h3.2m-1.6 0v7.5m-1.6 0h3.2M599.8 399.1h3.2m-1.6 0v4.9m-1.6 0h3.2M602.9 396.6h3.2m-1.6 0v14.1m-1.6 0h3.2M604.5 398.6h3.2m-1.6 0v17.5m-1.6 0h3.2M610.7 393.7h3.2m-1.6 0v17.7m-1.6 0h3.2M615.3 400.2h3.2m-1.6 0v8.2m-1.6 0h3.2M616.8 399.1h3.2m-1.6 0v13.3m-1.6 0h3.2M627.6 398.3h3.2m-1.6 0v17.0m-1.6 0h3.2M629.2 401.6h3.2m-1.6 0v5.0m-1.6 0h3.2M633.8 395.4h3.2m-1.6 0v17.4m-1.6 0h3.2M636.9 394.7h3.2m-1.6 0v15.0m-1.6 0h3.2M638.4 401.2h3.2m-1.6 0v11.7m-1.6 0h3.2M643.1 399.1h3.2m-1.6 0v14.4m-1.6 0h3.2M647.7 390.4h3.2m-1.6 0v8.7m-1.6 0h3.2M652.3 395.9h3.2m-1.6 0v16.5m-1.6 0h3.2M653.9 397.0h3.2m-1.6 0v11.9m-1.6 0h3.2M660.1 390.0h3.2m-1.6 0v11.2m-1.6 0h3.2" stroke="#42A07B" stroke-width="0.8" stroke-opacity="0.75" fill="none"/>
<path d="M408.4 374.0h3.2m-1.6 0v18.2m-1.6 0h3.2M417.7 381.8h3.2m-1.6 0v7.7m-1.6 0h3.2M423.8 382.7h3.2m-1.6 0v16.1m-1.6 0h3.2M426.9 387.8h3.2m-1.6 0v11.7m-1.6 0h3.2M430.0 384.1h3.2m-1.6 0v20.1m-1.6 0h3.2M439.3 393.5h3.2m-1.6 0v16.2m-1.6 0h3.2M443.9 395.5h3.2m-1.6 0v15.6m-1.6 0h3.2M445.4 394.1h3.2m-1.6 0v18.1m-1.6 0h3.2M447.0 391.1h3.2m-1.6 0v17.6m-1.6 0h3.2M467.1 406.3h3.2m-1.6 0v11.6m-1.6 0h3.2M468.6 408.8h3.2m-1.6 0v9.3m-1.6 0h3.2M473.2 402.7h3.2m-1.6 0v11.3m-1.6 0h3.2M494.9 400.4h3.2m-1.6 0v16.9m-1.6 0h3.2M502.6 399.0h3.2m-1.6 0v17.7m-1.6 0h3.2M504.1 396.7h3.2m-1.6 0v21.0m-1.6 0h3.2M507.2 407.0h3.2m-1.6 0v10.0m-1.6 0h3.2M508.7 399.0h3.2m-1.6 0v21.7m-1.6 0h3.2M511.8 407.1h3.2m-1.6 0v9.4m-1.6 0h3.2M516.5 403.9h3.2m-1.6 0v10.8m-1.6 0h3.2M521.1 397.5h3.2m-1.6 0v19.1m-1.6 0h3.2M522.6 404.0h3.2m-1.6 0v12.5m-1.6 0h3.2M527.3 404.0h3.2m-1.6 0v14.0m-1.6 0h3.2M541.2 402.2h3.2m-1.6 0v10.7m-1.6 0h3.2M544.3 403.9h3.2m-1.6 0v11.0m-1.6 0h3.2M545.8 402.9h3.2m-1.6 0v12.1m-1.6 0h3.2M548.9 406.8h3.2m-1.6 0v5.5m-1.6 0h3.2M550.4 401.4h3.2m-1.6 0v17.6m-1.6 0h3.2M555.1 400.0h3.2m-1.6 0v21.3m-1.6 0h3.2M565.9 405.4h3.2m-1.6 0v10.3m-1.6 0h3.2M585.9 407.7h3.2m-1.6 0v7.1m-1.6 0h3.2M587.5 411.8h3.2m-1.6 0v6.0m-1.6 0h3.2M589.0 407.7h3.2m-1.6 0v11.9m-1.6 0h3.2M601.4 404.1h3.2m-1.6 0v17.0m-1.6 0h3.2M607.6 410.3h3.2m-1.6 0v15.6m-1.6 0h3.2M612.2 406.5h3.2m-1.6 0v17.2m-1.6 0h3.2M618.4 410.4h3.2m-1.6 0v18.0m-1.6 0h3.2M621.5 404.4h3.2m-1.6 0v21.1m-1.6 0h3.2M623.0 413.1h3.2m-1.6 0v7.2m-1.6 0h3.2M633.8 407.8h3.2m-1.6 0v20.0m-1.6 0h3.2M638.4 408.9h3.2m-1.6 0v9.6m-1.6 0h3.2M641.5 408.0h3.2m-1.6 0v12.7m-1.6 0h3.2M647.7 399.9h3.2m-1.6 0v20.6m-1.6 0h3.2M655.4 398.7h3.2m-1.6 0v9.2m-1.6 0h3.2M658.5 390.9h3.2m-1.6 0v15.3m-1.6 0h3.2" stroke="#E2A22E" stroke-width="0.8" stroke-opacity="0.75" fill="none"/>
<path d="M414.6 380.8h3.2m-1.6 0v15.2m-1.6 0h3.2M416.1 376.1h3.2m-1.6 0v18.8m-1.6 0h3.2M420.7 384.4h3.2m-1.6 0v7.9m-1.6 0h3.2M422.3 376.8h3.2m-1.6 0v21.6m-1.6 0h3.2M437.7 389.2h3.2m-1.6 0v15.3m-1.6 0h3.2M440.8 394.2h3.2m-1.6 0v7.8m-1.6 0h3.2M447.0 399.9h3.2m-1.6 0v6.8m-1.6 0h3.2M464.0 403.7h3.2m-1.6 0v10.0m-1.6 0h3.2M465.5 396.2h3.2m-1.6 0v21.3m-1.6 0h3.2M473.2 398.7h3.2m-1.6 0v17.3m-1.6 0h3.2M477.9 402.0h3.2m-1.6 0v9.4m-1.6 0h3.2M482.5 405.6h3.2m-1.6 0v12.9m-1.6 0h3.2M485.6 408.4h3.2m-1.6 0v5.6m-1.6 0h3.2M491.8 400.5h3.2m-1.6 0v16.2m-1.6 0h3.2M494.9 402.2h3.2m-1.6 0v12.1m-1.6 0h3.2M496.4 401.6h3.2m-1.6 0v9.0m-1.6 0h3.2M497.9 394.9h3.2m-1.6 0v19.0m-1.6 0h3.2M499.5 400.5h3.2m-1.6 0v9.4m-1.6 0h3.2M501.0 400.2h3.2m-1.6 0v18.7m-1.6 0h3.2M510.3 402.1h3.2m-1.6 0v9.2m-1.6 0h3.2M513.4 397.2h3.2m-1.6 0v19.8m-1.6 0h3.2M519.6 401.4h3.2m-1.6 0v11.6m-1.6 0h3.2M522.6 401.0h3.2m-1.6 0v18.2m-1.6 0h3.2M530.4 399.1h3.2m-1.6 0v20.7m-1.6 0h3.2M531.9 398.2h3.2m-1.6 0v14.1m-1.6 0h3.2M535.0 399.4h3.2m-1.6 0v17.5m-1.6 0h3.2M538.1 398.6h3.2m-1.6 0v17.4m-1.6 0h3.2M542.7 403.6h3.2m-1.6 0v11.7m-1.6 0h3.2M545.8 399.2h3.2m-1.6 0v16.3m-1.6 0h3.2M547.3 403.9h3.2m-1.6 0v10.4m-1.6 0h3.2M553.5 402.0h3.2m-1.6 0v11.7m-1.6 0h3.2M556.6 400.4h3.2m-1.6 0v12.0m-1.6 0h3.2M569.0 403.2h3.2m-1.6 0v13.7m-1.6 0h3.2M573.6 406.1h3.2m-1.6 0v6.9m-1.6 0h3.2M576.7 400.1h3.2m-1.6 0v15.3m-1.6 0h3.2M578.2 406.5h3.2m-1.6 0v5.6m-1.6 0h3.2M585.9 395.0h3.2m-1.6 0v17.1m-1.6 0h3.2M593.7 395.1h3.2m-1.6 0v14.5m-1.6 0h3.2M595.2 393.2h3.2m-1.6 0v15.9m-1.6 0h3.2M601.4 393.8h3.2m-1.6 0v15.0m-1.6 0h3.2M604.5 392.5h3.2m-1.6 0v20.9m-1.6 0h3.2M609.1 396.4h3.2m-1.6 0v13.0m-1.6 0h3.2M612.2 390.8h3.2m-1.6 0v15.6m-1.6 0h3.2M615.3 391.4h3.2m-1.6 0v20.0m-1.6 0h3.2M623.0 392.5h3.2m-1.6 0v18.9m-1.6 0h3.2M633.8 391.2h3.2m-1.6 0v20.3m-1.6 0h3.2M635.4 398.2h3.2m-1.6 0v8.4m-1.6 0h3.2M644.6 397.7h3.2m-1.6 0v10.6m-1.6 0h3.2M650.8 396.1h3.2m-1.6 0v13.8m-1.6 0h3.2M652.3 394.5h3.2m-1.6 0v18.3m-1.6 0h3.2M653.9 393.7h3.2m-1.6 0v18.6m-1.6 0h3.2M660.1 380.6h3.2m-1.6 0v20.9m-1.6 0h3.2M661.6 390.3h3.2m-1.6 0v7.5m-1.6 0h3.2M663.1 382.3h3.2m-1.6 0v13.7m-1.6 0h3.2" stroke="#EC7627" stroke-width="0.8" stroke-opacity="0.75" fill="none"/>
<path d="M411.5 378.4h3.2m-1.6 0v7.7m-1.6 0h3.2M413.0 383.5h3.2m-1.6 0v9.6m-1.6 0h3.2M420.7 386.1h3.2m-1.6 0v11.8m-1.6 0h3.2M430.0 391.8h3.2m-1.6 0v9.8m-1.6 0h3.2M433.1 391.0h3.2m-1.6 0v13.2m-1.6 0h3.2M440.8 397.1h3.2m-1.6 0v8.7m-1.6 0h3.2M443.9 401.3h3.2m-1.6 0v9.6m-1.6 0h3.2M454.7 404.3h3.2m-1.6 0v12.5m-1.6 0h3.2M457.8 405.5h3.2m-1.6 0v16.4m-1.6 0h3.2M462.4 403.9h3.2m-1.6 0v18.0m-1.6 0h3.2M464.0 402.6h3.2m-1.6 0v7.6m-1.6 0h3.2M467.1 397.7h3.2m-1.6 0v13.6m-1.6 0h3.2M468.6 400.4h3.2m-1.6 0v11.4m-1.6 0h3.2M470.1 398.9h3.2m-1.6 0v13.3m-1.6 0h3.2M473.2 405.4h3.2m-1.6 0v7.4m-1.6 0h3.2M474.8 397.1h3.2m-1.6 0v17.9m-1.6 0h3.2M477.9 406.2h3.2m-1.6 0v6.8m-1.6 0h3.2M479.4 407.5h3.2m-1.6 0v13.0m-1.6 0h3.2M481.0 409.3h3.2m-1.6 0v4.6m-1.6 0h3.2M487.1 403.5h3.2m-1.6 0v6.1m-1.6 0h3.2M494.9 402.4h3.2m-1.6 0v11.0m-1.6 0h3.2M496.4 403.0h3.2m-1.6 0v12.7m-1.6 0h3.2M507.2 406.5h3.2m-1.6 0v7.0m-1.6 0h3.2M510.3 401.1h3.2m-1.6 0v14.8m-1.6 0h3.2M522.6 405.7h3.2m-1.6 0v12.2m-1.6 0h3.2M524.2 402.2h3.2m-1.6 0v15.5m-1.6 0h3.2M527.3 409.0h3.2m-1.6 0v4.7m-1.6 0h3.2M531.9 401.7h3.2m-1.6 0v7.0m-1.6 0h3.2M538.1 408.0h3.2m-1.6 0v7.1m-1.6 0h3.2M541.2 407.7h3.2m-1.6 0v10.3m-1.6 0h3.2M547.3 404.0h3.2m-1.6 0v9.2m-1.6 0h3.2M552.0 405.5h3.2m-1.6 0v12.6m-1.6 0h3.2M559.7 406.3h3.2m-1.6 0v11.0m-1.6 0h3.2M569.0 398.2h3.2m-1.6 0v16.7m-1.6 0h3.2M576.7 406.6h3.2m-1.6 0v6.3m-1.6 0h3.2M579.8 405.6h3.2m-1.6 0v4.6m-1.6 0h3.2M584.4 393.7h3.2m-1.6 0v17.6m-1.6 0h3.2M585.9 396.4h3.2m-1.6 0v17.5m-1.6 0h3.2M602.9 399.1h3.2m-1.6 0v9.1m-1.6 0h3.2M607.6 397.8h3.2m-1.6 0v15.0m-1.6 0h3.2M612.2 396.3h3.2m-1.6 0v15.6m-1.6 0h3.2M624.5 402.0h3.2m-1.6 0v10.9m-1.6 0h3.2M626.1 401.6h3.2m-1.6 0v7.2m-1.6 0h3.2M629.2 396.2h3.2m-1.6 0v15.9m-1.6 0h3.2M636.9 396.0h3.2m-1.6 0v6.5m-1.6 0h3.2M641.5 394.8h3.2m-1.6 0v17.7m-1.6 0h3.2M652.3 394.3h3.2m-1.6 0v12.4m-1.6 0h3.2M658.5 391.8h3.2m-1.6 0v5.1m-1.6 0h3.2" stroke="#63BBCD" stroke-width="0.8" stroke-opacity="0.75" fill="none"/>
<polyline points="410.0,385.7 411.5,391.1 413.1,386.7 414.6,385.3 416.2,385.9 417.7,386.0 419.3,391.3 420.8,388.6 422.3,387.3 423.9,390.6 425.4,394.6 427.0,393.0 428.5,395.3 430.1,397.0 431.6,393.5 433.1,395.7 434.7,398.9 436.2,401.1 437.8,399.5 439.3,399.4 440.9,399.8 442.4,403.3 444.0,404.3 445.5,404.0 447.0,405.1 448.6,405.2 450.1,406.5 451.7,406.6 453.2,406.4 454.8,405.7 456.3,404.5 457.9,406.7 459.4,411.4 460.9,407.2 462.5,410.8 464.0,409.0 465.6,406.5 467.1,406.6 468.7,405.3 470.2,407.3 471.7,404.0 473.3,405.8 474.8,410.5 476.4,408.0 477.9,409.0 479.5,406.8 481.0,409.2 482.6,407.3 484.1,410.5 485.6,409.9 487.2,409.4 488.7,406.8 490.3,409.4 491.8,408.4 493.4,406.5 494.9,411.2 496.5,406.9 498.0,408.1 499.5,408.1 501.1,404.9 502.6,407.3 504.2,406.8 505.7,405.7 507.3,404.8 508.8,405.0 510.3,408.4 511.9,407.9 513.4,411.1 515.0,412.0 516.5,410.7 518.1,410.1 519.6,410.4 521.2,410.9 522.7,406.5 524.2,410.4 525.8,408.5 527.3,411.1 528.9,409.2 530.4,410.6 532.0,412.7 533.5,414.2 535.1,408.9 536.6,406.7 538.1,408.6 539.7,409.1 541.2,408.4 542.8,411.6 544.3,408.9 545.9,403.5 547.4,407.6 548.9,411.5 550.5,411.1 552.0,409.9 553.6,410.0 555.1,406.2 556.7,406.8 558.2,409.2 559.8,408.7 561.3,409.8 562.8,410.8 564.4,407.0 565.9,408.6 567.5,410.0 569.0,406.9 570.6,408.8 572.1,407.1 573.7,413.3 575.2,409.5 576.7,411.4 578.3,410.2 579.8,407.0 581.4,403.8 582.9,409.7 584.5,405.0 586.0,405.8 587.5,406.1 589.1,403.1 590.6,403.7 592.2,404.4 593.7,404.2 595.3,404.2 596.8,404.7 598.4,401.9 599.9,399.7 601.4,403.6 603.0,404.6 604.5,404.1 606.1,405.0 607.6,403.7 609.2,403.1 610.7,403.2 612.3,404.5 613.8,403.1 615.3,405.4 616.9,404.7 618.4,404.0 620.0,403.3 621.5,401.6 623.1,402.7 624.6,404.7 626.1,402.8 627.7,403.1 629.2,401.5 630.8,399.2 632.3,398.5 633.9,401.1 635.4,403.9 637.0,402.7 638.5,403.0 640.0,404.2 641.6,406.0 643.1,401.8 644.7,404.1 646.2,401.2 647.8,400.0 649.3,403.2 650.9,402.0 652.4,402.4 653.9,405.1 655.5,403.0 657.0,399.9 658.6,396.2 660.1,396.9 661.7,395.2 663.2,391.4 664.7,391.5 666.3,391.2" fill="none" stroke="#F5241E" stroke-width="1.7" stroke-linejoin="round"/>
<polyline points="410.0,387.3 411.5,385.4 413.1,387.5 414.6,389.4 416.2,389.6 417.7,390.8 419.3,384.2 420.8,389.3 422.3,389.1 423.9,393.8 425.4,391.8 427.0,392.6 428.5,395.0 430.1,391.0 431.6,396.6 433.1,399.7 434.7,405.2 436.2,406.8 437.8,404.6 439.3,402.9 440.9,401.0 442.4,402.5 444.0,405.1 445.5,407.0 447.0,402.9 448.6,406.1 450.1,403.4 451.7,406.1 453.2,408.0 454.8,409.0 456.3,407.8 457.9,407.0 459.4,409.3 460.9,408.6 462.5,411.9 464.0,414.0 465.6,414.7 467.1,412.7 468.7,412.3 470.2,409.3 471.7,410.3 473.3,410.9 474.8,410.8 476.4,413.3 477.9,413.8 479.5,407.4 481.0,407.7 482.6,412.0 484.1,413.2 485.6,410.4 487.2,414.6 488.7,416.6 490.3,413.5 491.8,412.6 493.4,409.3 494.9,411.9 496.5,413.4 498.0,410.4 499.5,412.1 501.1,410.5 502.6,414.1 504.2,412.4 505.7,407.2 507.3,411.8 508.8,410.9 510.3,410.6 511.9,410.0 513.4,410.3 515.0,408.6 516.5,410.9 518.1,412.3 519.6,410.6 521.2,409.8 522.7,413.7 524.2,410.0 525.8,410.9 527.3,408.4 528.9,409.4 530.4,412.4 532.0,411.8 533.5,409.4 535.1,407.7 536.6,409.5 538.1,408.6 539.7,406.8 541.2,408.2 542.8,406.4 544.3,407.3 545.9,411.0 547.4,413.1 548.9,413.1 550.5,407.8 552.0,406.8 553.6,410.8 555.1,410.5 556.7,406.1 558.2,410.3 559.8,410.2 561.3,411.0 562.8,408.8 564.4,413.6 565.9,410.9 567.5,410.2 569.0,407.9 570.6,408.5 572.1,408.8 573.7,411.7 575.2,410.3 576.7,411.4 578.3,406.4 579.8,407.2 581.4,407.8 582.9,407.4 584.5,407.1 586.0,407.6 587.5,405.3 589.1,405.4 590.6,406.9 592.2,403.5 593.7,402.6 595.3,401.5 596.8,404.2 598.4,402.4 599.9,400.5 601.4,401.5 603.0,402.4 604.5,403.7 606.1,407.4 607.6,407.7 609.2,405.8 610.7,402.7 612.3,402.5 613.8,404.7 615.3,403.9 616.9,404.3 618.4,405.7 620.0,404.8 621.5,402.6 623.1,405.8 624.6,405.6 626.1,404.7 627.7,406.4 629.2,406.8 630.8,404.1 632.3,399.6 633.9,402.0 635.4,404.1 637.0,400.6 638.5,402.2 640.0,407.0 641.6,406.2 643.1,408.7 644.7,406.3 646.2,401.7 647.8,398.6 649.3,394.8 650.9,398.0 652.4,402.0 653.9,404.2 655.5,403.0 657.0,403.0 658.6,401.8 660.1,397.7 661.7,395.6 663.2,393.7 664.7,392.7 666.3,394.1" fill="none" stroke="#42A07B" stroke-width="1.7" stroke-linejoin="round"/>
<polyline points="410.0,383.1 411.5,384.3 413.1,383.6 414.6,384.9 416.2,387.9 417.7,385.9 419.3,385.6 420.8,387.8 422.3,387.2 423.9,388.2 425.4,390.8 427.0,391.1 428.5,393.6 430.1,391.3 431.6,394.2 433.1,393.3 434.7,391.9 436.2,395.2 437.8,395.8 439.3,395.2 440.9,401.6 442.4,397.3 444.0,398.8 445.5,403.3 447.0,403.1 448.6,399.9 450.1,402.9 451.7,402.1 453.2,402.6 454.8,406.4 456.3,406.5 457.9,404.4 459.4,408.6 460.9,409.0 462.5,410.1 464.0,410.5 465.6,410.1 467.1,413.4 468.7,412.1 470.2,413.5 471.7,412.7 473.3,411.7 474.8,408.3 476.4,410.9 477.9,408.3 479.5,409.7 481.0,410.9 482.6,413.1 484.1,410.6 485.6,410.0 487.2,408.2 488.7,410.1 490.3,413.5 491.8,410.1 493.4,407.2 494.9,408.5 496.5,408.9 498.0,408.4 499.5,408.6 501.1,404.5 502.6,407.7 504.2,407.9 505.7,407.2 507.3,407.7 508.8,412.0 510.3,409.9 511.9,410.3 513.4,411.8 515.0,408.8 516.5,410.5 518.1,409.3 519.6,410.8 521.2,409.0 522.7,407.1 524.2,410.2 525.8,411.4 527.3,408.7 528.9,411.0 530.4,408.3 532.0,408.6 533.5,411.0 535.1,411.4 536.6,408.0 538.1,407.6 539.7,408.7 541.2,409.1 542.8,407.5 544.3,410.1 545.9,409.4 547.4,408.9 548.9,407.1 550.5,409.5 552.0,410.1 553.6,409.6 555.1,410.3 556.7,410.6 558.2,409.3 559.8,410.7 561.3,410.8 562.8,409.9 564.4,409.8 565.9,410.7 567.5,410.5 569.0,412.5 570.6,412.5 572.1,412.4 573.7,413.1 575.2,408.7 576.7,405.7 578.3,409.2 579.8,410.5 581.4,411.4 582.9,412.3 584.5,413.3 586.0,411.1 587.5,411.2 589.1,414.8 590.6,413.7 592.2,415.3 593.7,413.2 595.3,414.9 596.8,413.7 598.4,415.1 599.9,414.8 601.4,413.6 603.0,412.6 604.5,415.9 606.1,415.8 607.6,416.2 609.2,418.1 610.7,415.2 612.3,415.0 613.8,415.1 615.3,416.1 616.9,411.7 618.4,414.9 620.0,419.4 621.5,417.1 623.1,414.9 624.6,416.7 626.1,415.6 627.7,419.2 629.2,416.9 630.8,415.5 632.3,416.7 633.9,417.5 635.4,417.8 637.0,417.0 638.5,413.7 640.0,413.7 641.6,414.6 643.1,414.4 644.7,411.6 646.2,412.9 647.8,413.4 649.3,410.3 650.9,410.0 652.4,407.3 653.9,408.6 655.5,406.9 657.0,403.4 658.6,400.9 660.1,398.6 661.7,398.0 663.2,395.6 664.7,393.4 666.3,390.4" fill="none" stroke="#E2A22E" stroke-width="1.7" stroke-linejoin="round"/>
<polyline points="410.0,379.7 411.5,384.0 413.1,383.4 414.6,383.7 416.2,388.4 417.7,385.5 419.3,386.6 420.8,387.1 422.3,388.3 423.9,387.6 425.4,389.2 427.0,392.5 428.5,394.3 430.1,396.0 431.6,397.2 433.1,398.3 434.7,397.1 436.2,395.6 437.8,398.0 439.3,396.8 440.9,396.8 442.4,398.1 444.0,403.9 445.5,408.7 447.0,403.7 448.6,403.3 450.1,407.6 451.7,408.0 453.2,406.4 454.8,406.5 456.3,409.4 457.9,408.2 459.4,410.9 460.9,409.7 462.5,407.3 464.0,407.0 465.6,408.7 467.1,406.9 468.7,403.5 470.2,406.7 471.7,407.1 473.3,410.5 474.8,407.3 476.4,411.0 477.9,409.6 479.5,406.7 481.0,406.2 482.6,414.0 484.1,412.0 485.6,414.5 487.2,411.2 488.7,412.3 490.3,405.1 491.8,404.4 493.4,408.6 494.9,408.9 496.5,408.2 498.0,406.1 499.5,404.4 501.1,405.2 502.6,409.5 504.2,415.1 505.7,414.1 507.3,412.8 508.8,408.4 510.3,411.0 511.9,406.6 513.4,405.9 515.0,407.1 516.5,406.0 518.1,408.8 519.6,406.2 521.2,407.2 522.7,409.0 524.2,410.1 525.8,413.3 527.3,410.9 528.9,408.2 530.4,409.1 532.0,409.5 533.5,405.2 535.1,401.1 536.6,408.2 538.1,405.7 539.7,407.3 541.2,407.9 542.8,409.8 544.3,409.5 545.9,408.2 547.4,407.4 548.9,409.1 550.5,409.8 552.0,407.6 553.6,404.9 555.1,407.9 556.7,407.1 558.2,406.4 559.8,406.8 561.3,409.7 562.8,408.9 564.4,408.4 565.9,410.7 567.5,409.3 569.0,408.8 570.6,410.0 572.1,405.7 573.7,406.7 575.2,409.5 576.7,406.5 578.3,407.7 579.8,409.3 581.4,410.0 582.9,405.3 584.5,407.7 586.0,405.2 587.5,403.6 589.1,404.8 590.6,402.1 592.2,400.2 593.7,401.9 595.3,402.4 596.8,401.2 598.4,401.9 599.9,399.6 601.4,399.9 603.0,401.3 604.5,401.6 606.1,403.0 607.6,401.3 609.2,403.5 610.7,403.0 612.3,405.2 613.8,398.6 615.3,400.2 616.9,401.4 618.4,401.0 620.0,405.2 621.5,400.4 623.1,404.9 624.6,401.9 626.1,402.9 627.7,400.9 629.2,400.3 630.8,400.8 632.3,399.5 633.9,401.6 635.4,401.4 637.0,402.4 638.5,403.5 640.0,404.8 641.6,402.3 643.1,398.4 644.7,402.2 646.2,403.0 647.8,403.7 649.3,401.7 650.9,405.8 652.4,403.0 653.9,403.7 655.5,403.0 657.0,399.2 658.6,396.8 660.1,394.8 661.7,391.0 663.2,394.0 664.7,389.1 666.3,387.4" fill="none" stroke="#EC7627" stroke-width="1.7" stroke-linejoin="round"/>
<polyline points="410.0,378.7 411.5,379.8 413.1,382.3 414.6,388.3 416.2,387.2 417.7,384.9 419.3,385.8 420.8,388.3 422.3,392.0 423.9,391.6 425.4,394.9 427.0,395.4 428.5,395.5 430.1,394.6 431.6,396.7 433.1,397.0 434.7,397.6 436.2,397.9 437.8,397.9 439.3,398.6 440.9,400.8 442.4,401.4 444.0,403.6 445.5,406.1 447.0,406.4 448.6,406.0 450.1,410.1 451.7,406.6 453.2,406.2 454.8,409.8 456.3,410.5 457.9,410.8 459.4,413.7 460.9,414.0 462.5,410.1 464.0,412.9 465.6,406.3 467.1,405.2 468.7,404.5 470.2,406.1 471.7,405.6 473.3,405.1 474.8,409.1 476.4,406.1 477.9,409.2 479.5,409.6 481.0,414.0 482.6,411.5 484.1,413.1 485.6,406.4 487.2,407.2 488.7,406.6 490.3,408.9 491.8,407.2 493.4,407.2 494.9,408.9 496.5,407.9 498.0,409.3 499.5,411.5 501.1,413.7 502.6,413.9 504.2,409.9 505.7,405.7 507.3,408.5 508.8,410.0 510.3,407.0 511.9,408.5 513.4,408.2 515.0,408.7 516.5,413.4 518.1,413.3 519.6,410.2 521.2,409.4 522.7,409.7 524.2,411.9 525.8,410.0 527.3,410.0 528.9,411.3 530.4,410.5 532.0,409.2 533.5,405.2 535.1,405.5 536.6,409.4 538.1,407.8 539.7,411.6 541.2,414.5 542.8,412.8 544.3,407.1 545.9,407.0 547.4,409.6 548.9,408.7 550.5,412.9 552.0,411.1 553.6,411.8 555.1,412.7 556.7,411.4 558.2,411.7 559.8,409.7 561.3,411.8 562.8,409.6 564.4,408.6 565.9,407.6 567.5,407.4 569.0,407.3 570.6,406.6 572.1,405.9 573.7,406.0 575.2,405.9 576.7,410.5 578.3,409.8 579.8,405.9 581.4,407.9 582.9,405.8 584.5,404.1 586.0,402.5 587.5,405.1 589.1,404.3 590.6,404.3 592.2,402.5 593.7,406.8 595.3,405.0 596.8,402.0 598.4,403.0 599.9,401.4 601.4,400.0 603.0,401.8 604.5,403.6 606.1,404.5 607.6,406.1 609.2,405.3 610.7,404.5 612.3,402.0 613.8,404.1 615.3,404.9 616.9,404.0 618.4,403.9 620.0,401.1 621.5,402.3 623.1,400.1 624.6,401.7 626.1,407.5 627.7,405.2 629.2,406.0 630.8,404.2 632.3,405.2 633.9,402.1 635.4,403.1 637.0,403.6 638.5,399.2 640.0,402.0 641.6,403.4 643.1,403.6 644.7,401.7 646.2,401.8 647.8,402.3 649.3,400.3 650.9,402.8 652.4,401.3 653.9,400.5 655.5,399.6 657.0,399.8 658.6,398.3 660.1,394.4 661.7,399.0 663.2,392.1 664.7,392.9 666.3,388.8" fill="none" stroke="#63BBCD" stroke-width="1.7" stroke-linejoin="round"/>
<polyline points="427.0,403.6 428.5,404.4 430.1,405.1 431.6,407.9 433.1,405.6 434.7,408.2 437.8,411.0 439.3,412.8 440.9,411.4 444.0,415.6 445.5,417.7 447.0,419.5 448.6,415.2 450.1,415.1 453.2,416.3 454.8,410.9 456.3,410.9 460.9,413.8 462.5,413.3 464.0,413.8 467.1,414.4 474.8,416.9 476.4,414.8 477.9,413.1 479.5,412.0 482.6,417.5 484.1,414.1 488.7,413.0 490.3,411.5 491.8,409.8 494.9,411.9 496.5,413.6 498.0,414.7 499.5,414.9 501.1,416.4 502.6,414.0 504.2,411.8 505.7,413.3 507.3,411.9 508.8,411.5 510.3,412.8 511.9,413.2 513.4,410.4 515.0,413.5 516.5,414.5 518.1,414.4 522.7,411.6 524.2,412.8 525.8,411.6 527.3,415.6 528.9,413.6 532.0,409.0 535.1,410.8 538.1,411.1 539.7,410.2 541.2,413.8 542.8,409.0 544.3,413.0 547.4,410.6 548.9,409.8 550.5,410.1 552.0,411.2 555.1,409.5 556.7,410.7 558.2,408.4 561.3,409.9 562.8,410.8 570.6,412.1 573.7,409.7 575.2,410.8 579.8,409.1 581.4,407.1 582.9,407.8 586.0,407.1 587.5,408.9 589.1,406.2 592.2,408.4 595.3,410.8 596.8,412.2 598.4,408.1 601.4,405.9 603.0,411.5 604.5,408.8 606.1,408.8 609.2,408.1 610.7,407.6 613.8,406.5 616.9,409.6 621.5,413.5 626.1,409.4 627.7,410.1 629.2,405.6 632.3,406.1 635.4,407.5 637.0,407.0 640.0,409.5 644.7,406.1 649.3,403.3 652.4,406.6 653.9,404.3 655.5,403.0 657.0,399.3 658.6,403.7 660.1,399.6 661.7,396.3" fill="none" stroke="#131313" stroke-width="2.2" stroke-linejoin="round"/>
</g>
<rect x="395.2" y="379.0" width="288.3" height="51.1" fill="none" stroke="#9C9C9C" stroke-width="1.0"/>
<line y1="430.1" y2="431.4" x1="406.90" x2="406.90" stroke="#888" stroke-width="0.8"/>
<line y1="430.1" y2="431.4" x1="484.10" x2="484.10" stroke="#888" stroke-width="0.8"/>
<line y1="430.1" y2="431.4" x1="561.30" x2="561.30" stroke="#888" stroke-width="0.8"/>
<line y1="430.1" y2="431.4" x1="638.50" x2="638.50" stroke="#888" stroke-width="0.8"/>
<line x1="393.0" x2="395.2" y1="427.40" y2="427.40" stroke="#9C9C9C" stroke-width="0.8"/>
<text x="391.9" y="430.5" font-size="8.7" text-anchor="end" fill="#3a3a3a" >0.00</text>
<line x1="393.0" x2="395.2" y1="416.02" y2="416.02" stroke="#9C9C9C" stroke-width="0.8"/>
<text x="391.9" y="419.1" font-size="8.7" text-anchor="end" fill="#3a3a3a" >0.05</text>
<line x1="393.0" x2="395.2" y1="404.65" y2="404.65" stroke="#9C9C9C" stroke-width="0.8"/>
<text x="391.9" y="407.8" font-size="8.7" text-anchor="end" fill="#3a3a3a" >0.10</text>
<line x1="393.0" x2="395.2" y1="393.27" y2="393.27" stroke="#9C9C9C" stroke-width="0.8"/>
<text x="391.9" y="396.4" font-size="8.7" text-anchor="end" fill="#3a3a3a" >0.15</text>
<line x1="393.0" x2="395.2" y1="381.90" y2="381.90" stroke="#9C9C9C" stroke-width="0.8"/>
<text x="391.9" y="385.0" font-size="8.7" text-anchor="end" fill="#3a3a3a" >0.20</text>
<text transform="translate(368.6,404.6) rotate(-90)" font-size="11" text-anchor="middle" fill="#1a1a1a">T<tspan font-size="8" dy="1.3">2</tspan><tspan dy="-1.3"> (s)</tspan></text>
<rect x="395.2" y="433.0" width="288.3" height="54.5" fill="#fff"/>
<line x1="395.2" x2="683.5" y1="479.07" y2="479.07" stroke="#EFEFEF" stroke-width="0.5"/>
<line x1="395.2" x2="683.5" y1="466.62" y2="466.62" stroke="#EFEFEF" stroke-width="0.5"/>
<line x1="395.2" x2="683.5" y1="454.18" y2="454.18" stroke="#EFEFEF" stroke-width="0.5"/>
<line x1="395.2" x2="683.5" y1="441.73" y2="441.73" stroke="#EFEFEF" stroke-width="0.5"/>
<line y1="433.0" y2="487.5" x1="445.50" x2="445.50" stroke="#EFEFEF" stroke-width="0.5"/>
<line y1="433.0" y2="487.5" x1="522.70" x2="522.70" stroke="#EFEFEF" stroke-width="0.5"/>
<line y1="433.0" y2="487.5" x1="599.90" x2="599.90" stroke="#EFEFEF" stroke-width="0.5"/>
<line x1="395.2" x2="683.5" y1="485.30" y2="485.30" stroke="#DEDEDE" stroke-width="0.7"/>
<line x1="395.2" x2="683.5" y1="472.85" y2="472.85" stroke="#DEDEDE" stroke-width="0.7"/>
<line x1="395.2" x2="683.5" y1="460.40" y2="460.40" stroke="#DEDEDE" stroke-width="0.7"/>
<line x1="395.2" x2="683.5" y1="447.95" y2="447.95" stroke="#DEDEDE" stroke-width="0.7"/>
<line x1="395.2" x2="683.5" y1="435.50" y2="435.50" stroke="#DEDEDE" stroke-width="0.7"/>
<line y1="433.0" y2="487.5" x1="406.90" x2="406.90" stroke="#DEDEDE" stroke-width="0.7"/>
<line y1="433.0" y2="487.5" x1="484.10" x2="484.10" stroke="#DEDEDE" stroke-width="0.7"/>
<line y1="433.0" y2="487.5" x1="561.30" x2="561.30" stroke="#DEDEDE" stroke-width="0.7"/>
<line y1="433.0" y2="487.5" x1="638.50" x2="638.50" stroke="#DEDEDE" stroke-width="0.7"/>
<clipPath id="cd3"><rect x="395.2" y="433.0" width="288.3" height="54.5"/></clipPath>
<g clip-path="url(#cd3)">
<path d="M408.4 478.1h3.2m-1.6 0v2.8m-1.6 0h3.2M416.1 467.5h3.2m-1.6 0v5.8m-1.6 0h3.2M417.7 463.8h3.2m-1.6 0v6.1m-1.6 0h3.2M420.7 456.1h3.2m-1.6 0v5.5m-1.6 0h3.2M422.3 454.3h3.2m-1.6 0v6.3m-1.6 0h3.2M425.4 455.5h3.2m-1.6 0v4.0m-1.6 0h3.2M430.0 452.0h3.2m-1.6 0v6.1m-1.6 0h3.2M436.2 451.7h3.2m-1.6 0v2.9m-1.6 0h3.2M437.7 447.7h3.2m-1.6 0v7.6m-1.6 0h3.2M439.3 448.4h3.2m-1.6 0v6.0m-1.6 0h3.2M445.4 444.7h3.2m-1.6 0v6.0m-1.6 0h3.2M451.6 448.5h3.2m-1.6 0v4.3m-1.6 0h3.2M456.3 446.9h3.2m-1.6 0v4.2m-1.6 0h3.2M457.8 447.2h3.2m-1.6 0v5.0m-1.6 0h3.2M459.3 445.0h3.2m-1.6 0v7.5m-1.6 0h3.2M464.0 455.2h3.2m-1.6 0v4.5m-1.6 0h3.2M465.5 451.4h3.2m-1.6 0v4.4m-1.6 0h3.2M477.9 445.5h3.2m-1.6 0v6.6m-1.6 0h3.2M479.4 446.0h3.2m-1.6 0v5.5m-1.6 0h3.2M482.5 448.7h3.2m-1.6 0v4.1m-1.6 0h3.2M488.7 448.6h3.2m-1.6 0v2.5m-1.6 0h3.2M490.2 449.0h3.2m-1.6 0v3.2m-1.6 0h3.2M493.3 452.3h3.2m-1.6 0v4.1m-1.6 0h3.2M502.6 446.2h3.2m-1.6 0v5.4m-1.6 0h3.2M505.7 448.4h3.2m-1.6 0v4.2m-1.6 0h3.2M507.2 447.1h3.2m-1.6 0v6.9m-1.6 0h3.2M513.4 448.3h3.2m-1.6 0v4.6m-1.6 0h3.2M518.0 452.5h3.2m-1.6 0v6.0m-1.6 0h3.2M521.1 455.9h3.2m-1.6 0v7.0m-1.6 0h3.2M531.9 451.0h3.2m-1.6 0v2.2m-1.6 0h3.2M541.2 445.9h3.2m-1.6 0v7.1m-1.6 0h3.2M552.0 444.3h3.2m-1.6 0v4.8m-1.6 0h3.2M562.8 447.0h3.2m-1.6 0v4.1m-1.6 0h3.2M564.3 447.5h3.2m-1.6 0v2.4m-1.6 0h3.2M569.0 445.2h3.2m-1.6 0v7.4m-1.6 0h3.2M570.5 447.4h3.2m-1.6 0v2.8m-1.6 0h3.2M576.7 450.0h3.2m-1.6 0v6.4m-1.6 0h3.2M582.9 454.8h3.2m-1.6 0v4.1m-1.6 0h3.2M587.5 454.8h3.2m-1.6 0v7.1m-1.6 0h3.2M593.7 455.4h3.2m-1.6 0v5.1m-1.6 0h3.2M595.2 457.3h3.2m-1.6 0v3.8m-1.6 0h3.2M606.0 452.0h3.2m-1.6 0v5.9m-1.6 0h3.2M610.7 450.8h3.2m-1.6 0v3.5m-1.6 0h3.2M612.2 450.9h3.2m-1.6 0v3.8m-1.6 0h3.2M616.8 451.3h3.2m-1.6 0v3.9m-1.6 0h3.2M618.4 446.0h3.2m-1.6 0v7.2m-1.6 0h3.2M619.9 446.6h3.2m-1.6 0v6.0m-1.6 0h3.2M630.7 447.2h3.2m-1.6 0v4.6m-1.6 0h3.2M632.3 444.3h3.2m-1.6 0v7.1m-1.6 0h3.2M640.0 447.5h3.2m-1.6 0v2.8m-1.6 0h3.2M643.1 447.1h3.2m-1.6 0v6.4m-1.6 0h3.2M646.2 446.0h3.2m-1.6 0v6.9m-1.6 0h3.2M650.8 448.1h3.2m-1.6 0v5.2m-1.6 0h3.2M657.0 450.5h3.2m-1.6 0v2.1m-1.6 0h3.2M658.5 450.2h3.2m-1.6 0v4.4m-1.6 0h3.2M663.1 456.4h3.2m-1.6 0v5.6m-1.6 0h3.2M667.8 471.1h3.2m-1.6 0v5.7m-1.6 0h3.2" stroke="#F5241E" stroke-width="0.8" stroke-opacity="0.75" fill="none"/>
<path d="M414.6 474.3h3.2m-1.6 0v5.3m-1.6 0h3.2M416.1 472.6h3.2m-1.6 0v4.8m-1.6 0h3.2M417.7 468.8h3.2m-1.6 0v7.0m-1.6 0h3.2M426.9 468.5h3.2m-1.6 0v3.7m-1.6 0h3.2M436.2 458.5h3.2m-1.6 0v6.9m-1.6 0h3.2M440.8 454.8h3.2m-1.6 0v3.0m-1.6 0h3.2M445.4 451.8h3.2m-1.6 0v3.9m-1.6 0h3.2M451.6 447.7h3.2m-1.6 0v6.2m-1.6 0h3.2M457.8 448.3h3.2m-1.6 0v2.7m-1.6 0h3.2M474.8 447.4h3.2m-1.6 0v4.2m-1.6 0h3.2M476.3 446.8h3.2m-1.6 0v7.0m-1.6 0h3.2M479.4 445.3h3.2m-1.6 0v5.6m-1.6 0h3.2M481.0 446.4h3.2m-1.6 0v5.0m-1.6 0h3.2M487.1 448.7h3.2m-1.6 0v3.7m-1.6 0h3.2M493.3 453.3h3.2m-1.6 0v7.5m-1.6 0h3.2M494.9 455.9h3.2m-1.6 0v4.3m-1.6 0h3.2M497.9 450.3h3.2m-1.6 0v7.0m-1.6 0h3.2M499.5 450.1h3.2m-1.6 0v5.6m-1.6 0h3.2M502.6 447.2h3.2m-1.6 0v7.2m-1.6 0h3.2M513.4 449.6h3.2m-1.6 0v4.3m-1.6 0h3.2M518.0 450.7h3.2m-1.6 0v4.2m-1.6 0h3.2M531.9 446.7h3.2m-1.6 0v5.4m-1.6 0h3.2M538.1 446.3h3.2m-1.6 0v7.5m-1.6 0h3.2M548.9 447.6h3.2m-1.6 0v2.5m-1.6 0h3.2M556.6 443.7h3.2m-1.6 0v6.1m-1.6 0h3.2M559.7 447.1h3.2m-1.6 0v4.8m-1.6 0h3.2M569.0 445.8h3.2m-1.6 0v3.0m-1.6 0h3.2M570.5 445.7h3.2m-1.6 0v4.0m-1.6 0h3.2M572.1 444.7h3.2m-1.6 0v6.6m-1.6 0h3.2M576.7 453.3h3.2m-1.6 0v2.8m-1.6 0h3.2M582.9 460.1h3.2m-1.6 0v5.3m-1.6 0h3.2M595.2 460.5h3.2m-1.6 0v2.4m-1.6 0h3.2M596.8 462.4h3.2m-1.6 0v4.7m-1.6 0h3.2M599.8 461.3h3.2m-1.6 0v5.3m-1.6 0h3.2M606.0 455.8h3.2m-1.6 0v5.0m-1.6 0h3.2M607.6 454.2h3.2m-1.6 0v6.1m-1.6 0h3.2M609.1 454.4h3.2m-1.6 0v5.1m-1.6 0h3.2M615.3 454.8h3.2m-1.6 0v2.9m-1.6 0h3.2M626.1 450.7h3.2m-1.6 0v3.8m-1.6 0h3.2M629.2 446.9h3.2m-1.6 0v7.3m-1.6 0h3.2M640.0 449.1h3.2m-1.6 0v3.1m-1.6 0h3.2M646.2 446.5h3.2m-1.6 0v6.1m-1.6 0h3.2M649.3 447.5h3.2m-1.6 0v4.9m-1.6 0h3.2M652.3 447.8h3.2m-1.6 0v6.9m-1.6 0h3.2M653.9 450.8h3.2m-1.6 0v4.2m-1.6 0h3.2M657.0 454.0h3.2m-1.6 0v4.0m-1.6 0h3.2M660.1 463.7h3.2m-1.6 0v5.1m-1.6 0h3.2M664.7 478.9h3.2m-1.6 0v2.5m-1.6 0h3.2M667.8 482.5h3.2m-1.6 0v3.6m-1.6 0h3.2" stroke="#42A07B" stroke-width="0.8" stroke-opacity="0.75" fill="none"/>
<path d="M409.9 474.7h3.2m-1.6 0v8.0m-1.6 0h3.2M413.0 473.7h3.2m-1.6 0v7.8m-1.6 0h3.2M416.1 473.0h3.2m-1.6 0v4.3m-1.6 0h3.2M419.2 471.8h3.2m-1.6 0v3.8m-1.6 0h3.2M420.7 468.6h3.2m-1.6 0v9.1m-1.6 0h3.2M422.3 468.3h3.2m-1.6 0v7.5m-1.6 0h3.2M423.8 468.7h3.2m-1.6 0v3.4m-1.6 0h3.2M428.5 465.0h3.2m-1.6 0v5.0m-1.6 0h3.2M434.6 457.6h3.2m-1.6 0v8.2m-1.6 0h3.2M437.7 457.4h3.2m-1.6 0v4.8m-1.6 0h3.2M440.8 450.5h3.2m-1.6 0v9.5m-1.6 0h3.2M442.4 451.0h3.2m-1.6 0v4.4m-1.6 0h3.2M448.5 447.1h3.2m-1.6 0v7.4m-1.6 0h3.2M451.6 449.0h3.2m-1.6 0v3.8m-1.6 0h3.2M453.2 447.6h3.2m-1.6 0v3.7m-1.6 0h3.2M459.3 445.4h3.2m-1.6 0v6.6m-1.6 0h3.2M460.9 447.9h3.2m-1.6 0v6.0m-1.6 0h3.2M462.4 447.7h3.2m-1.6 0v8.3m-1.6 0h3.2M470.1 444.2h3.2m-1.6 0v4.7m-1.6 0h3.2M473.2 443.3h3.2m-1.6 0v8.0m-1.6 0h3.2M474.8 446.3h3.2m-1.6 0v5.5m-1.6 0h3.2M476.3 447.1h3.2m-1.6 0v3.8m-1.6 0h3.2M479.4 446.7h3.2m-1.6 0v3.3m-1.6 0h3.2M482.5 443.9h3.2m-1.6 0v8.1m-1.6 0h3.2M485.6 443.1h3.2m-1.6 0v9.0m-1.6 0h3.2M490.2 446.8h3.2m-1.6 0v4.7m-1.6 0h3.2M497.9 447.9h3.2m-1.6 0v8.3m-1.6 0h3.2M505.7 446.1h3.2m-1.6 0v5.9m-1.6 0h3.2M516.5 446.8h3.2m-1.6 0v6.1m-1.6 0h3.2M519.6 452.8h3.2m-1.6 0v6.2m-1.6 0h3.2M521.1 459.8h3.2m-1.6 0v2.8m-1.6 0h3.2M528.8 444.8h3.2m-1.6 0v8.4m-1.6 0h3.2M530.4 447.2h3.2m-1.6 0v7.0m-1.6 0h3.2M531.9 444.4h3.2m-1.6 0v8.7m-1.6 0h3.2M533.5 448.5h3.2m-1.6 0v4.8m-1.6 0h3.2M558.2 446.1h3.2m-1.6 0v3.7m-1.6 0h3.2M561.2 445.0h3.2m-1.6 0v6.5m-1.6 0h3.2M562.8 446.6h3.2m-1.6 0v6.1m-1.6 0h3.2M565.9 446.9h3.2m-1.6 0v4.9m-1.6 0h3.2M567.4 444.3h3.2m-1.6 0v8.2m-1.6 0h3.2M570.5 445.2h3.2m-1.6 0v7.0m-1.6 0h3.2M572.1 446.4h3.2m-1.6 0v2.8m-1.6 0h3.2M578.2 462.3h3.2m-1.6 0v6.6m-1.6 0h3.2M581.3 470.4h3.2m-1.6 0v3.2m-1.6 0h3.2M584.4 462.2h3.2m-1.6 0v4.0m-1.6 0h3.2M585.9 471.2h3.2m-1.6 0v3.0m-1.6 0h3.2M589.0 472.8h3.2m-1.6 0v9.0m-1.6 0h3.2M590.6 468.9h3.2m-1.6 0v4.9m-1.6 0h3.2M595.2 468.6h3.2m-1.6 0v6.0m-1.6 0h3.2M596.8 472.0h3.2m-1.6 0v7.8m-1.6 0h3.2M598.3 470.9h3.2m-1.6 0v9.2m-1.6 0h3.2M601.4 469.1h3.2m-1.6 0v8.2m-1.6 0h3.2M602.9 467.7h3.2m-1.6 0v5.0m-1.6 0h3.2M606.0 463.4h3.2m-1.6 0v7.5m-1.6 0h3.2M607.6 464.5h3.2m-1.6 0v5.3m-1.6 0h3.2M621.5 458.4h3.2m-1.6 0v2.8m-1.6 0h3.2M626.1 454.6h3.2m-1.6 0v4.2m-1.6 0h3.2M629.2 454.2h3.2m-1.6 0v3.5m-1.6 0h3.2M630.7 453.2h3.2m-1.6 0v4.9m-1.6 0h3.2M632.3 453.3h3.2m-1.6 0v3.5m-1.6 0h3.2M635.4 452.8h3.2m-1.6 0v3.0m-1.6 0h3.2M636.9 448.9h3.2m-1.6 0v8.5m-1.6 0h3.2M644.6 448.7h3.2m-1.6 0v5.5m-1.6 0h3.2M649.3 450.4h3.2m-1.6 0v2.5m-1.6 0h3.2M653.9 452.5h3.2m-1.6 0v4.6m-1.6 0h3.2M655.4 452.6h3.2m-1.6 0v5.6m-1.6 0h3.2M658.5 457.1h3.2m-1.6 0v4.5m-1.6 0h3.2M660.1 457.9h3.2m-1.6 0v9.3m-1.6 0h3.2M661.6 466.8h3.2m-1.6 0v4.4m-1.6 0h3.2" stroke="#E2A22E" stroke-width="0.8" stroke-opacity="0.75" fill="none"/>
<path d="M408.4 476.7h3.2m-1.6 0v5.8m-1.6 0h3.2M413.0 472.5h3.2m-1.6 0v6.4m-1.6 0h3.2M417.7 470.3h3.2m-1.6 0v5.9m-1.6 0h3.2M426.9 465.6h3.2m-1.6 0v6.6m-1.6 0h3.2M430.0 464.0h3.2m-1.6 0v4.3m-1.6 0h3.2M431.5 463.3h3.2m-1.6 0v3.7m-1.6 0h3.2M433.1 459.7h3.2m-1.6 0v7.9m-1.6 0h3.2M434.6 458.8h3.2m-1.6 0v4.8m-1.6 0h3.2M436.2 457.5h3.2m-1.6 0v2.1m-1.6 0h3.2M437.7 455.4h3.2m-1.6 0v7.9m-1.6 0h3.2M442.4 452.3h3.2m-1.6 0v6.6m-1.6 0h3.2M443.9 448.8h3.2m-1.6 0v7.8m-1.6 0h3.2M447.0 450.8h3.2m-1.6 0v3.6m-1.6 0h3.2M448.5 448.0h3.2m-1.6 0v3.5m-1.6 0h3.2M456.3 443.1h3.2m-1.6 0v5.7m-1.6 0h3.2M459.3 446.1h3.2m-1.6 0v3.5m-1.6 0h3.2M460.9 450.7h3.2m-1.6 0v2.1m-1.6 0h3.2M465.5 447.7h3.2m-1.6 0v7.5m-1.6 0h3.2M470.1 444.6h3.2m-1.6 0v5.0m-1.6 0h3.2M471.7 447.1h3.2m-1.6 0v6.1m-1.6 0h3.2M476.3 446.0h3.2m-1.6 0v5.0m-1.6 0h3.2M485.6 445.6h3.2m-1.6 0v4.3m-1.6 0h3.2M488.7 447.2h3.2m-1.6 0v2.1m-1.6 0h3.2M497.9 451.4h3.2m-1.6 0v5.4m-1.6 0h3.2M504.1 445.5h3.2m-1.6 0v5.8m-1.6 0h3.2M507.2 448.1h3.2m-1.6 0v5.1m-1.6 0h3.2M514.9 444.8h3.2m-1.6 0v7.7m-1.6 0h3.2M518.0 453.1h3.2m-1.6 0v6.8m-1.6 0h3.2M521.1 457.9h3.2m-1.6 0v7.0m-1.6 0h3.2M527.3 448.9h3.2m-1.6 0v4.9m-1.6 0h3.2M541.2 445.3h3.2m-1.6 0v7.0m-1.6 0h3.2M542.7 445.8h3.2m-1.6 0v7.5m-1.6 0h3.2M553.5 446.5h3.2m-1.6 0v3.9m-1.6 0h3.2M558.2 445.1h3.2m-1.6 0v4.3m-1.6 0h3.2M561.2 445.0h3.2m-1.6 0v3.4m-1.6 0h3.2M572.1 445.6h3.2m-1.6 0v2.7m-1.6 0h3.2M575.1 449.9h3.2m-1.6 0v4.6m-1.6 0h3.2M576.7 449.0h3.2m-1.6 0v7.6m-1.6 0h3.2M579.8 455.1h3.2m-1.6 0v5.8m-1.6 0h3.2M582.9 462.7h3.2m-1.6 0v2.9m-1.6 0h3.2M585.9 466.1h3.2m-1.6 0v3.7m-1.6 0h3.2M593.7 466.8h3.2m-1.6 0v4.2m-1.6 0h3.2M595.2 467.4h3.2m-1.6 0v3.1m-1.6 0h3.2M601.4 462.1h3.2m-1.6 0v3.2m-1.6 0h3.2M613.7 456.1h3.2m-1.6 0v5.1m-1.6 0h3.2M621.5 455.7h3.2m-1.6 0v5.0m-1.6 0h3.2M626.1 454.4h3.2m-1.6 0v2.3m-1.6 0h3.2M629.2 454.3h3.2m-1.6 0v7.5m-1.6 0h3.2M633.8 453.4h3.2m-1.6 0v4.7m-1.6 0h3.2M636.9 454.0h3.2m-1.6 0v6.5m-1.6 0h3.2M652.3 453.2h3.2m-1.6 0v4.7m-1.6 0h3.2M653.9 453.5h3.2m-1.6 0v5.3m-1.6 0h3.2M655.4 454.1h3.2m-1.6 0v2.4m-1.6 0h3.2M661.6 464.8h3.2m-1.6 0v7.2m-1.6 0h3.2M663.1 471.3h3.2m-1.6 0v2.6m-1.6 0h3.2M666.2 479.8h3.2m-1.6 0v4.4m-1.6 0h3.2" stroke="#EC7627" stroke-width="0.8" stroke-opacity="0.75" fill="none"/>
<path d="M409.9 478.9h3.2m-1.6 0v3.3m-1.6 0h3.2M414.6 472.2h3.2m-1.6 0v6.1m-1.6 0h3.2M416.1 472.2h3.2m-1.6 0v4.4m-1.6 0h3.2M417.7 469.3h3.2m-1.6 0v7.0m-1.6 0h3.2M420.7 469.9h3.2m-1.6 0v6.3m-1.6 0h3.2M422.3 468.7h3.2m-1.6 0v3.7m-1.6 0h3.2M425.4 467.3h3.2m-1.6 0v4.9m-1.6 0h3.2M426.9 467.8h3.2m-1.6 0v3.7m-1.6 0h3.2M431.5 462.5h3.2m-1.6 0v5.6m-1.6 0h3.2M448.5 448.5h3.2m-1.6 0v4.3m-1.6 0h3.2M453.2 445.8h3.2m-1.6 0v4.6m-1.6 0h3.2M459.3 447.8h3.2m-1.6 0v3.4m-1.6 0h3.2M462.4 452.4h3.2m-1.6 0v4.0m-1.6 0h3.2M471.7 449.6h3.2m-1.6 0v4.2m-1.6 0h3.2M473.2 446.9h3.2m-1.6 0v5.4m-1.6 0h3.2M474.8 446.6h3.2m-1.6 0v7.3m-1.6 0h3.2M484.0 446.2h3.2m-1.6 0v7.5m-1.6 0h3.2M487.1 449.9h3.2m-1.6 0v4.7m-1.6 0h3.2M499.5 449.9h3.2m-1.6 0v3.2m-1.6 0h3.2M501.0 445.4h3.2m-1.6 0v7.4m-1.6 0h3.2M518.0 452.6h3.2m-1.6 0v4.1m-1.6 0h3.2M524.2 453.9h3.2m-1.6 0v6.8m-1.6 0h3.2M527.3 449.7h3.2m-1.6 0v3.7m-1.6 0h3.2M536.5 447.7h3.2m-1.6 0v3.2m-1.6 0h3.2M541.2 443.7h3.2m-1.6 0v7.5m-1.6 0h3.2M542.7 448.7h3.2m-1.6 0v3.2m-1.6 0h3.2M547.3 447.4h3.2m-1.6 0v3.3m-1.6 0h3.2M548.9 449.0h3.2m-1.6 0v5.9m-1.6 0h3.2M550.4 447.4h3.2m-1.6 0v2.8m-1.6 0h3.2M559.7 446.6h3.2m-1.6 0v6.9m-1.6 0h3.2M561.2 444.2h3.2m-1.6 0v7.4m-1.6 0h3.2M569.0 445.7h3.2m-1.6 0v3.3m-1.6 0h3.2M575.1 452.5h3.2m-1.6 0v2.4m-1.6 0h3.2M582.9 459.4h3.2m-1.6 0v5.9m-1.6 0h3.2M589.0 463.9h3.2m-1.6 0v4.9m-1.6 0h3.2M590.6 461.2h3.2m-1.6 0v5.3m-1.6 0h3.2M596.8 461.5h3.2m-1.6 0v7.7m-1.6 0h3.2M602.9 457.8h3.2m-1.6 0v6.5m-1.6 0h3.2M607.6 456.2h3.2m-1.6 0v5.0m-1.6 0h3.2M609.1 456.5h3.2m-1.6 0v6.7m-1.6 0h3.2M610.7 455.8h3.2m-1.6 0v2.9m-1.6 0h3.2M612.2 456.9h3.2m-1.6 0v4.8m-1.6 0h3.2M613.7 454.8h3.2m-1.6 0v4.2m-1.6 0h3.2M618.4 454.6h3.2m-1.6 0v2.8m-1.6 0h3.2M621.5 451.8h3.2m-1.6 0v2.8m-1.6 0h3.2M623.0 451.9h3.2m-1.6 0v5.6m-1.6 0h3.2M627.6 448.7h3.2m-1.6 0v4.1m-1.6 0h3.2M633.8 449.8h3.2m-1.6 0v4.0m-1.6 0h3.2M635.4 449.2h3.2m-1.6 0v2.6m-1.6 0h3.2M638.4 448.7h3.2m-1.6 0v4.7m-1.6 0h3.2M641.5 449.4h3.2m-1.6 0v5.4m-1.6 0h3.2M643.1 450.1h3.2m-1.6 0v3.3m-1.6 0h3.2M644.6 447.3h3.2m-1.6 0v5.9m-1.6 0h3.2M663.1 471.1h3.2m-1.6 0v5.3m-1.6 0h3.2M667.8 483.7h3.2m-1.6 0v5.8m-1.6 0h3.2" stroke="#63BBCD" stroke-width="0.8" stroke-opacity="0.75" fill="none"/>
<polyline points="410.0,479.5 411.5,469.7 413.1,464.1 414.6,468.0 416.2,475.4 417.7,470.4 419.3,466.8 420.8,461.3 422.3,458.8 423.9,457.5 425.4,456.9 427.0,457.6 428.5,456.0 430.1,456.0 431.6,455.1 433.1,455.5 434.7,451.8 436.2,451.7 437.8,453.2 439.3,451.5 440.9,451.4 442.4,452.3 444.0,449.2 445.5,450.9 447.0,447.6 448.6,448.4 450.1,449.3 451.7,449.8 453.2,450.7 454.8,447.9 456.3,449.7 457.9,449.0 459.4,449.6 460.9,448.7 462.5,449.4 464.0,453.5 465.6,457.4 467.1,453.6 468.7,452.1 470.2,449.3 471.7,447.9 473.3,449.1 474.8,448.4 476.4,449.2 477.9,449.2 479.5,448.8 481.0,448.7 482.6,450.0 484.1,450.7 485.6,449.3 487.2,448.3 488.7,447.1 490.3,449.9 491.8,450.5 493.4,452.3 494.9,454.4 496.5,458.1 498.0,456.8 499.5,452.1 501.1,450.7 502.6,451.2 504.2,448.9 505.7,448.7 507.3,450.5 508.8,450.5 510.3,448.0 511.9,451.7 513.4,450.9 515.0,450.6 516.5,450.0 518.1,451.6 519.6,455.5 521.2,455.4 522.7,459.4 524.2,458.0 525.8,455.9 527.3,455.2 528.9,452.4 530.4,448.6 532.0,450.7 533.5,452.2 535.1,449.1 536.6,450.8 538.1,448.5 539.7,449.4 541.2,450.2 542.8,449.5 544.3,449.0 545.9,447.9 547.4,447.5 548.9,449.8 550.5,449.3 552.0,447.5 553.6,446.7 555.1,449.1 556.7,449.8 558.2,446.9 559.8,448.7 561.3,448.9 562.8,446.5 564.4,449.1 565.9,448.7 567.5,448.4 569.0,447.2 570.6,448.9 572.1,448.7 573.7,448.3 575.2,451.9 576.7,452.7 578.3,453.2 579.8,455.8 581.4,455.8 582.9,457.8 584.5,456.9 586.0,456.1 587.5,457.6 589.1,458.4 590.6,458.0 592.2,457.3 593.7,458.8 595.3,458.0 596.8,459.1 598.4,459.3 599.9,455.6 601.4,455.0 603.0,453.5 604.5,456.8 606.1,456.0 607.6,455.0 609.2,453.0 610.7,454.0 612.3,452.6 613.8,452.8 615.3,452.2 616.9,451.9 618.4,453.2 620.0,449.6 621.5,449.6 623.1,449.7 624.6,450.2 626.1,450.2 627.7,452.0 629.2,449.6 630.8,451.1 632.3,449.5 633.9,447.8 635.4,448.6 637.0,450.5 638.5,449.6 640.0,449.0 641.6,448.9 643.1,448.7 644.7,450.3 646.2,450.7 647.8,449.4 649.3,449.6 650.9,449.4 652.4,450.7 653.9,447.8 655.5,451.4 657.0,451.6 658.6,451.6 660.1,452.4 661.7,456.9 663.2,457.3 664.7,459.2 666.3,461.5 667.8,467.1 669.4,474.0" fill="none" stroke="#F5241E" stroke-width="1.7" stroke-linejoin="round"/>
<polyline points="410.0,481.7 411.5,482.3 413.1,478.1 414.6,475.2 416.2,477.0 417.7,475.0 419.3,472.2 420.8,473.0 422.3,472.0 423.9,472.4 425.4,470.5 427.0,471.0 428.5,470.4 430.1,468.3 431.6,466.8 433.1,464.8 434.7,464.7 436.2,462.5 437.8,462.0 439.3,461.0 440.9,460.1 442.4,456.3 444.0,454.0 445.5,453.1 447.0,453.7 448.6,454.0 450.1,450.5 451.7,449.2 453.2,450.8 454.8,448.5 456.3,450.8 457.9,450.2 459.4,449.6 460.9,447.1 462.5,451.1 464.0,452.0 465.6,456.3 467.1,454.9 468.7,453.5 470.2,451.3 471.7,447.5 473.3,448.7 474.8,448.4 476.4,449.5 477.9,450.3 479.5,450.4 481.0,448.1 482.6,448.9 484.1,450.0 485.6,450.2 487.2,449.8 488.7,450.5 490.3,450.5 491.8,448.9 493.4,451.2 494.9,457.0 496.5,458.0 498.0,455.1 499.5,453.8 501.1,452.9 502.6,450.7 504.2,450.8 505.7,450.7 507.3,449.9 508.8,451.4 510.3,452.6 511.9,452.2 513.4,449.3 515.0,451.8 516.5,450.9 518.1,450.9 519.6,452.8 521.2,456.3 522.7,459.7 524.2,457.8 525.8,456.1 527.3,455.4 528.9,451.9 530.4,450.7 532.0,449.2 533.5,449.4 535.1,447.7 536.6,449.7 538.1,447.5 539.7,450.1 541.2,449.7 542.8,449.7 544.3,449.6 545.9,447.3 547.4,449.8 548.9,447.1 550.5,448.8 552.0,450.4 553.6,448.9 555.1,450.6 556.7,449.6 558.2,446.8 559.8,449.2 561.3,449.5 562.8,449.2 564.4,447.6 565.9,449.3 567.5,447.5 569.0,449.3 570.6,447.4 572.1,447.7 573.7,448.0 575.2,451.5 576.7,453.5 578.3,454.7 579.8,454.6 581.4,458.4 582.9,460.6 584.5,462.7 586.0,466.0 587.5,466.0 589.1,466.4 590.6,465.1 592.2,465.0 593.7,464.1 595.3,465.2 596.8,461.7 598.4,464.8 599.9,462.1 601.4,464.0 603.0,460.4 604.5,459.2 606.1,458.4 607.6,458.3 609.2,457.3 610.7,456.9 612.3,457.6 613.8,455.9 615.3,455.6 616.9,456.2 618.4,455.6 620.0,453.9 621.5,453.8 623.1,452.5 624.6,452.1 626.1,452.4 627.7,452.7 629.2,450.9 630.8,450.5 632.3,450.0 633.9,450.6 635.4,450.3 637.0,450.3 638.5,451.0 640.0,449.9 641.6,450.7 643.1,451.3 644.7,449.7 646.2,450.9 647.8,449.6 649.3,450.9 650.9,449.9 652.4,451.3 653.9,451.3 655.5,452.9 657.0,453.4 658.6,456.0 660.1,459.1 661.7,466.3 663.2,469.5 664.7,471.6 666.3,480.2 667.8,483.9 669.4,484.3" fill="none" stroke="#42A07B" stroke-width="1.7" stroke-linejoin="round"/>
<polyline points="410.0,478.7 411.5,478.7 413.1,478.1 414.6,477.6 416.2,475.0 417.7,475.1 419.3,474.9 420.8,473.7 422.3,473.2 423.9,472.0 425.4,470.3 427.0,470.1 428.5,467.3 430.1,467.4 431.6,467.0 433.1,465.4 434.7,463.3 436.2,461.8 437.8,461.6 439.3,459.8 440.9,456.9 442.4,455.2 444.0,453.2 445.5,453.1 447.0,451.5 448.6,450.8 450.1,450.8 451.7,448.9 453.2,450.9 454.8,449.5 456.3,447.0 457.9,450.7 459.4,448.3 460.9,448.7 462.5,450.9 464.0,451.8 465.6,453.4 467.1,451.1 468.7,451.9 470.2,451.5 471.7,446.5 473.3,448.6 474.8,447.4 476.4,449.0 477.9,449.0 479.5,447.6 481.0,448.3 482.6,447.8 484.1,448.0 485.6,448.2 487.2,447.6 488.7,449.5 490.3,449.7 491.8,449.2 493.4,453.6 494.9,455.0 496.5,458.3 498.0,455.5 499.5,452.1 501.1,451.2 502.6,451.1 504.2,450.5 505.7,448.6 507.3,449.0 508.8,448.1 510.3,450.6 511.9,449.6 513.4,450.6 515.0,450.7 516.5,450.6 518.1,449.9 519.6,454.6 521.2,455.9 522.7,461.2 524.2,457.8 525.8,457.6 527.3,453.7 528.9,451.9 530.4,449.0 532.0,450.7 533.5,448.8 535.1,450.9 536.6,449.6 538.1,447.2 539.7,448.4 541.2,450.0 542.8,448.9 544.3,449.3 545.9,449.6 547.4,448.3 548.9,448.6 550.5,447.6 552.0,448.5 553.6,448.4 555.1,448.2 556.7,449.5 558.2,449.7 559.8,447.9 561.3,449.0 562.8,448.3 564.4,449.7 565.9,447.2 567.5,449.4 569.0,448.4 570.6,448.8 572.1,448.7 573.7,447.8 575.2,450.5 576.7,455.2 578.3,456.2 579.8,465.6 581.4,468.1 582.9,472.0 584.5,466.7 586.0,464.2 587.5,472.7 589.1,479.8 590.6,477.3 592.2,471.4 593.7,468.2 595.3,464.4 596.8,471.7 598.4,475.9 599.9,475.5 601.4,473.7 603.0,473.2 604.5,470.2 606.1,470.0 607.6,467.1 609.2,467.2 610.7,467.9 612.3,465.6 613.8,465.8 615.3,462.2 616.9,461.9 618.4,459.7 620.0,458.4 621.5,460.2 623.1,459.7 624.6,456.6 626.1,457.0 627.7,456.6 629.2,457.0 630.8,455.9 632.3,455.7 633.9,455.0 635.4,453.6 637.0,454.3 638.5,453.1 640.0,450.8 641.6,452.9 643.1,450.2 644.7,452.1 646.2,451.4 647.8,451.4 649.3,449.5 650.9,451.6 652.4,450.8 653.9,452.9 655.5,454.8 657.0,455.4 658.6,454.5 660.1,459.4 661.7,462.5 663.2,469.0 664.7,474.6 666.3,477.7 667.8,482.5 669.4,484.8" fill="none" stroke="#E2A22E" stroke-width="1.7" stroke-linejoin="round"/>
<polyline points="410.0,479.7 411.5,478.2 413.1,478.2 414.6,475.7 416.2,475.2 417.7,473.2 419.3,473.2 420.8,472.5 422.3,471.1 423.9,470.7 425.4,470.2 427.0,468.6 428.5,468.9 430.1,467.2 431.6,466.1 433.1,465.2 434.7,463.7 436.2,461.2 437.8,458.5 439.3,459.4 440.9,457.1 442.4,456.9 444.0,455.6 445.5,452.7 447.0,450.6 448.6,452.5 450.1,449.7 451.7,449.2 453.2,448.4 454.8,447.7 456.3,448.4 457.9,445.9 459.4,448.7 460.9,447.8 462.5,451.7 464.0,452.0 465.6,454.2 467.1,451.5 468.7,450.7 470.2,451.2 471.7,447.1 473.3,450.1 474.8,448.8 476.4,448.7 477.9,448.6 479.5,448.9 481.0,448.6 482.6,450.1 484.1,449.1 485.6,449.1 487.2,447.8 488.7,450.7 490.3,448.3 491.8,449.8 493.4,451.6 494.9,453.8 496.5,457.5 498.0,456.6 499.5,454.1 501.1,452.6 502.6,448.9 504.2,449.7 505.7,448.4 507.3,448.4 508.8,450.7 510.3,449.7 511.9,450.1 513.4,449.4 515.0,450.6 516.5,448.6 518.1,449.9 519.6,456.5 521.2,457.5 522.7,461.4 524.2,458.4 525.8,456.9 527.3,453.5 528.9,451.3 530.4,449.6 532.0,450.8 533.5,449.7 535.1,448.9 536.6,449.3 538.1,449.3 539.7,448.3 541.2,447.9 542.8,448.8 544.3,449.6 545.9,449.4 547.4,448.7 548.9,446.5 550.5,449.2 552.0,448.6 553.6,447.9 555.1,448.4 556.7,450.0 558.2,447.9 559.8,447.3 561.3,449.3 562.8,446.7 564.4,449.5 565.9,448.0 567.5,446.1 569.0,447.1 570.6,448.2 572.1,449.7 573.7,447.0 575.2,452.5 576.7,452.2 578.3,452.8 579.8,455.4 581.4,458.0 582.9,459.1 584.5,464.1 586.0,466.9 587.5,468.0 589.1,467.5 590.6,468.3 592.2,467.5 593.7,468.7 595.3,468.9 596.8,469.0 598.4,468.0 599.9,465.9 601.4,467.4 603.0,463.7 604.5,462.5 606.1,464.2 607.6,461.3 609.2,462.1 610.7,461.2 612.3,462.0 613.8,460.0 615.3,458.7 616.9,460.9 618.4,458.8 620.0,460.1 621.5,459.1 623.1,458.2 624.6,458.2 626.1,457.3 627.7,455.5 629.2,456.7 630.8,458.0 632.3,458.3 633.9,457.9 635.4,455.8 637.0,456.2 638.5,457.2 640.0,455.1 641.6,456.5 643.1,456.4 644.7,456.0 646.2,456.1 647.8,453.5 649.3,456.7 650.9,455.8 652.4,455.6 653.9,455.5 655.5,456.2 657.0,455.3 658.6,454.7 660.1,458.3 661.7,464.0 663.2,468.4 664.7,472.6 666.3,478.4 667.8,482.0 669.4,486.6" fill="none" stroke="#EC7627" stroke-width="1.7" stroke-linejoin="round"/>
<polyline points="410.0,481.5 411.5,480.5 413.1,480.3 414.6,477.3 416.2,475.3 417.7,474.5 419.3,472.7 420.8,472.7 422.3,473.0 423.9,470.6 425.4,469.9 427.0,469.7 428.5,469.6 430.1,468.1 431.6,466.0 433.1,465.3 434.7,463.1 436.2,462.2 437.8,460.3 439.3,458.0 440.9,459.6 442.4,456.9 444.0,455.0 445.5,453.4 447.0,452.0 448.6,451.5 450.1,450.7 451.7,451.8 453.2,451.0 454.8,448.1 456.3,447.9 457.9,449.6 459.4,451.0 460.9,449.6 462.5,451.1 464.0,454.4 465.6,456.7 467.1,453.7 468.7,455.2 470.2,453.0 471.7,450.7 473.3,451.7 474.8,449.6 476.4,450.3 477.9,449.0 479.5,450.4 481.0,449.2 482.6,450.7 484.1,449.4 485.6,450.0 487.2,450.6 488.7,452.2 490.3,451.2 491.8,449.7 493.4,453.4 494.9,457.6 496.5,459.4 498.0,456.2 499.5,455.4 501.1,451.5 502.6,449.2 504.2,450.8 505.7,450.4 507.3,449.0 508.8,451.5 510.3,449.4 511.9,450.9 513.4,453.2 515.0,450.1 516.5,453.2 518.1,453.5 519.6,454.6 521.2,458.5 522.7,461.2 524.2,459.5 525.8,457.3 527.3,451.8 528.9,451.6 530.4,451.4 532.0,450.7 533.5,451.3 535.1,450.1 536.6,451.6 538.1,449.3 539.7,450.4 541.2,450.3 542.8,447.5 544.3,450.3 545.9,451.5 547.4,450.2 548.9,449.1 550.5,452.0 552.0,448.8 553.6,449.5 555.1,448.6 556.7,451.2 558.2,448.4 559.8,451.9 561.3,450.0 562.8,448.0 564.4,450.2 565.9,448.5 567.5,450.6 569.0,449.3 570.6,447.4 572.1,447.5 573.7,447.3 575.2,449.8 576.7,453.7 578.3,455.3 579.8,457.4 581.4,458.4 582.9,459.9 584.5,462.4 586.0,465.2 587.5,464.7 589.1,466.3 590.6,466.4 592.2,463.8 593.7,463.5 595.3,465.2 596.8,463.8 598.4,465.3 599.9,463.1 601.4,461.7 603.0,462.8 604.5,461.1 606.1,461.1 607.6,460.0 609.2,458.7 610.7,459.9 612.3,457.2 613.8,459.3 615.3,456.9 616.9,454.1 618.4,453.3 620.0,456.0 621.5,454.0 623.1,453.3 624.6,454.7 626.1,453.9 627.7,454.5 629.2,450.8 630.8,452.9 632.3,452.0 633.9,453.0 635.4,451.8 637.0,450.5 638.5,450.7 640.0,451.0 641.6,449.7 643.1,452.1 644.7,451.8 646.2,450.3 647.8,449.9 649.3,453.1 650.9,451.6 652.4,451.2 653.9,453.8 655.5,455.4 657.0,455.5 658.6,456.6 660.1,460.8 661.7,466.6 663.2,469.0 664.7,473.7 666.3,476.7 667.8,480.9 669.4,486.6" fill="none" stroke="#63BBCD" stroke-width="1.7" stroke-linejoin="round"/>
<polyline points="430.1,466.9 431.6,458.6 433.1,461.0 434.7,461.8 437.8,452.8 439.3,452.4 440.9,451.7 442.4,445.4 444.0,442.4 445.5,440.7 447.0,444.6 448.6,446.1 450.1,447.3 451.7,446.4 454.8,447.8 456.3,444.6 457.9,443.3 459.4,447.7 464.0,443.7 465.6,444.1 467.1,441.5 468.7,444.6 470.2,444.9 471.7,445.3 473.3,444.5 474.8,443.6 477.9,443.2 479.5,441.7 481.0,444.2 482.6,442.6 484.1,444.3 485.6,445.4 487.2,445.4 490.3,445.0 491.8,444.1 494.9,442.7 499.5,446.7 501.1,446.4 502.6,449.1 504.2,447.2 507.3,444.4 508.8,446.1 511.9,446.6 513.4,444.3 515.0,444.3 516.5,449.0 518.1,453.6 524.2,463.4 525.8,456.1 527.3,450.5 528.9,446.1 530.4,449.7 532.0,444.6 533.5,443.1 535.1,444.1 536.6,441.8 538.1,440.7 539.7,440.1 541.2,442.0 542.8,440.0 545.9,439.9 548.9,435.6 550.5,438.0 552.0,436.3 553.6,444.5 555.1,442.8 556.7,440.2 558.2,438.3 559.8,439.2 561.3,439.4 565.9,436.3 567.5,441.2 569.0,441.3 570.6,441.1 573.7,440.2 576.7,441.2 579.8,450.2 581.4,450.4 582.9,454.8 584.5,458.8 586.0,461.7 587.5,457.9 589.1,453.9 590.6,454.7 592.2,451.3 595.3,449.2 596.8,453.7 598.4,450.1 601.4,450.5 603.0,448.8 604.5,446.5 606.1,447.5 607.6,446.7 609.2,446.8 610.7,443.6 612.3,445.0 615.3,443.7 616.9,448.1 618.4,447.0 620.0,446.4 621.5,444.6 623.1,442.5 624.6,446.7 626.1,442.3 627.7,448.1 629.2,443.2 630.8,445.0 632.3,438.2 633.9,438.4 635.4,442.0 638.5,438.0 640.0,438.4 641.6,442.5 643.1,445.9 646.2,443.6 647.8,451.3 649.3,447.1 650.9,445.0 652.4,451.6 653.9,445.3 655.5,454.1 658.6,468.3 660.1,479.3 661.7,481.2 663.2,488.7" fill="none" stroke="#131313" stroke-width="2.2" stroke-linejoin="round"/>
</g>
<rect x="395.2" y="433.0" width="288.3" height="54.5" fill="none" stroke="#9C9C9C" stroke-width="1.0"/>
<line x1="393.0" x2="395.2" y1="485.30" y2="485.30" stroke="#9C9C9C" stroke-width="0.8"/>
<text x="391.9" y="488.4" font-size="8.7" text-anchor="end" fill="#3a3a3a" >0.00</text>
<line x1="393.0" x2="395.2" y1="472.85" y2="472.85" stroke="#9C9C9C" stroke-width="0.8"/>
<text x="391.9" y="476.0" font-size="8.7" text-anchor="end" fill="#3a3a3a" >0.25</text>
<line x1="393.0" x2="395.2" y1="460.40" y2="460.40" stroke="#9C9C9C" stroke-width="0.8"/>
<text x="391.9" y="463.5" font-size="8.7" text-anchor="end" fill="#3a3a3a" >0.50</text>
<line x1="393.0" x2="395.2" y1="447.95" y2="447.95" stroke="#9C9C9C" stroke-width="0.8"/>
<text x="391.9" y="451.1" font-size="8.7" text-anchor="end" fill="#3a3a3a" >0.75</text>
<line x1="393.0" x2="395.2" y1="435.50" y2="435.50" stroke="#9C9C9C" stroke-width="0.8"/>
<text x="391.9" y="438.6" font-size="8.7" text-anchor="end" fill="#3a3a3a" >1.00</text>
<text transform="translate(368.6,460.2) rotate(-90)" font-size="11" text-anchor="middle" fill="#1a1a1a">hetNOE</text>
<line y1="487.5" y2="489.7" x1="406.90" x2="406.90" stroke="#9C9C9C" stroke-width="0.8"/>
<text x="406.9" y="496.9" font-size="8.7" text-anchor="middle" fill="#3a3a3a" >0</text>
<line y1="487.5" y2="489.7" x1="484.10" x2="484.10" stroke="#9C9C9C" stroke-width="0.8"/>
<text x="484.1" y="496.9" font-size="8.7" text-anchor="middle" fill="#3a3a3a" >50</text>
<line y1="487.5" y2="489.7" x1="561.30" x2="561.30" stroke="#9C9C9C" stroke-width="0.8"/>
<text x="561.3" y="496.9" font-size="8.7" text-anchor="middle" fill="#3a3a3a" >100</text>
<line y1="487.5" y2="489.7" x1="638.50" x2="638.50" stroke="#9C9C9C" stroke-width="0.8"/>
<text x="638.5" y="496.9" font-size="8.7" text-anchor="middle" fill="#3a3a3a" >150</text>
<text x="539.4" y="508.0" font-size="10.5" text-anchor="middle" fill="#111" >residues</text>
<text x="36.2" y="630.3" font-size="13.3" fill="#111">EN2</text>
<rect x="36.0" y="636.2" width="288.3" height="52.1" fill="#fff"/>
<line x1="36.0" x2="324.3" y1="679.91" y2="679.91" stroke="#EFEFEF" stroke-width="0.5"/>
<line x1="36.0" x2="324.3" y1="668.24" y2="668.24" stroke="#EFEFEF" stroke-width="0.5"/>
<line x1="36.0" x2="324.3" y1="656.56" y2="656.56" stroke="#EFEFEF" stroke-width="0.5"/>
<line x1="36.0" x2="324.3" y1="644.89" y2="644.89" stroke="#EFEFEF" stroke-width="0.5"/>
<line y1="636.2" y2="688.3" x1="97.15" x2="97.15" stroke="#EFEFEF" stroke-width="0.5"/>
<line y1="636.2" y2="688.3" x1="165.85" x2="165.85" stroke="#EFEFEF" stroke-width="0.5"/>
<line y1="636.2" y2="688.3" x1="234.55" x2="234.55" stroke="#EFEFEF" stroke-width="0.5"/>
<line y1="636.2" y2="688.3" x1="303.25" x2="303.25" stroke="#EFEFEF" stroke-width="0.5"/>
<line x1="36.0" x2="324.3" y1="685.75" y2="685.75" stroke="#DEDEDE" stroke-width="0.7"/>
<line x1="36.0" x2="324.3" y1="674.07" y2="674.07" stroke="#DEDEDE" stroke-width="0.7"/>
<line x1="36.0" x2="324.3" y1="662.40" y2="662.40" stroke="#DEDEDE" stroke-width="0.7"/>
<line x1="36.0" x2="324.3" y1="650.73" y2="650.73" stroke="#DEDEDE" stroke-width="0.7"/>
<line x1="36.0" x2="324.3" y1="639.05" y2="639.05" stroke="#DEDEDE" stroke-width="0.7"/>
<line y1="636.2" y2="688.3" x1="62.80" x2="62.80" stroke="#DEDEDE" stroke-width="0.7"/>
<line y1="636.2" y2="688.3" x1="131.50" x2="131.50" stroke="#DEDEDE" stroke-width="0.7"/>
<line y1="636.2" y2="688.3" x1="200.20" x2="200.20" stroke="#DEDEDE" stroke-width="0.7"/>
<line y1="636.2" y2="688.3" x1="268.90" x2="268.90" stroke="#DEDEDE" stroke-width="0.7"/>
<clipPath id="ce1"><rect x="36.0" y="636.2" width="288.3" height="52.1"/></clipPath>
<g clip-path="url(#ce1)">
<path d="M56.6 671.1h3.2m-1.6 0v3.8m-1.6 0h3.2M84.1 667.4h3.2m-1.6 0v8.8m-1.6 0h3.2M93.3 665.6h3.2m-1.6 0v7.1m-1.6 0h3.2M102.4 666.0h3.2m-1.6 0v4.7m-1.6 0h3.2M145.9 669.2h3.2m-1.6 0v4.5m-1.6 0h3.2M150.5 670.5h3.2m-1.6 0v5.0m-1.6 0h3.2M159.7 671.1h3.2m-1.6 0v2.5m-1.6 0h3.2M162.0 669.9h3.2m-1.6 0v3.9m-1.6 0h3.2M164.2 670.5h3.2m-1.6 0v3.5m-1.6 0h3.2M171.1 667.5h3.2m-1.6 0v8.4m-1.6 0h3.2M175.7 671.0h3.2m-1.6 0v6.1m-1.6 0h3.2M178.0 670.7h3.2m-1.6 0v3.9m-1.6 0h3.2M182.6 665.4h3.2m-1.6 0v4.9m-1.6 0h3.2M200.9 663.3h3.2m-1.6 0v6.0m-1.6 0h3.2M207.8 661.4h3.2m-1.6 0v4.3m-1.6 0h3.2M212.3 663.7h3.2m-1.6 0v4.5m-1.6 0h3.2M226.1 662.7h3.2m-1.6 0v2.6m-1.6 0h3.2M230.7 661.8h3.2m-1.6 0v7.4m-1.6 0h3.2M237.5 664.0h3.2m-1.6 0v4.6m-1.6 0h3.2M242.1 662.3h3.2m-1.6 0v6.2m-1.6 0h3.2M246.7 662.3h3.2m-1.6 0v6.9m-1.6 0h3.2M249.0 662.3h3.2m-1.6 0v4.1m-1.6 0h3.2M271.9 661.8h3.2m-1.6 0v5.4m-1.6 0h3.2M276.5 660.8h3.2m-1.6 0v8.5m-1.6 0h3.2M281.0 663.1h3.2m-1.6 0v3.5m-1.6 0h3.2M283.3 662.5h3.2m-1.6 0v7.1m-1.6 0h3.2M285.6 661.7h3.2m-1.6 0v7.0m-1.6 0h3.2M287.9 661.0h3.2m-1.6 0v7.5m-1.6 0h3.2M290.2 664.6h3.2m-1.6 0v3.2m-1.6 0h3.2M294.8 666.3h3.2m-1.6 0v5.3m-1.6 0h3.2M301.6 669.3h3.2m-1.6 0v3.8m-1.6 0h3.2" stroke="#F5241E" stroke-width="0.8" stroke-opacity="0.75" fill="none"/>
<path d="M54.3 668.8h3.2m-1.6 0v5.8m-1.6 0h3.2M58.9 667.2h3.2m-1.6 0v5.1m-1.6 0h3.2M65.8 663.7h3.2m-1.6 0v7.8m-1.6 0h3.2M68.1 662.4h3.2m-1.6 0v7.2m-1.6 0h3.2M77.2 663.9h3.2m-1.6 0v4.1m-1.6 0h3.2M81.8 660.0h3.2m-1.6 0v9.2m-1.6 0h3.2M91.0 658.1h3.2m-1.6 0v7.2m-1.6 0h3.2M109.3 659.2h3.2m-1.6 0v8.4m-1.6 0h3.2M111.6 659.6h3.2m-1.6 0v9.0m-1.6 0h3.2M113.9 662.8h3.2m-1.6 0v4.9m-1.6 0h3.2M116.2 663.2h3.2m-1.6 0v8.4m-1.6 0h3.2M120.7 666.9h3.2m-1.6 0v3.3m-1.6 0h3.2M125.3 663.1h3.2m-1.6 0v10.1m-1.6 0h3.2M132.2 666.4h3.2m-1.6 0v8.7m-1.6 0h3.2M136.8 666.9h3.2m-1.6 0v4.0m-1.6 0h3.2M139.1 664.7h3.2m-1.6 0v8.3m-1.6 0h3.2M148.2 662.9h3.2m-1.6 0v9.4m-1.6 0h3.2M157.4 666.3h3.2m-1.6 0v7.5m-1.6 0h3.2M159.7 666.8h3.2m-1.6 0v6.4m-1.6 0h3.2M162.0 666.8h3.2m-1.6 0v4.9m-1.6 0h3.2M164.2 667.0h3.2m-1.6 0v7.4m-1.6 0h3.2M166.5 668.8h3.2m-1.6 0v5.7m-1.6 0h3.2M168.8 667.5h3.2m-1.6 0v5.9m-1.6 0h3.2M182.6 660.3h3.2m-1.6 0v9.0m-1.6 0h3.2M184.9 659.1h3.2m-1.6 0v4.3m-1.6 0h3.2M191.7 656.5h3.2m-1.6 0v5.8m-1.6 0h3.2M203.2 654.7h3.2m-1.6 0v10.2m-1.6 0h3.2M207.8 654.5h3.2m-1.6 0v9.2m-1.6 0h3.2M214.6 656.8h3.2m-1.6 0v6.2m-1.6 0h3.2M216.9 657.4h3.2m-1.6 0v4.0m-1.6 0h3.2M228.4 655.7h3.2m-1.6 0v7.8m-1.6 0h3.2M230.7 657.4h3.2m-1.6 0v6.2m-1.6 0h3.2M235.2 655.1h3.2m-1.6 0v9.7m-1.6 0h3.2M237.5 653.6h3.2m-1.6 0v9.1m-1.6 0h3.2M242.1 656.3h3.2m-1.6 0v8.4m-1.6 0h3.2M251.3 653.6h3.2m-1.6 0v8.1m-1.6 0h3.2M253.6 656.0h3.2m-1.6 0v6.1m-1.6 0h3.2M269.6 656.4h3.2m-1.6 0v3.2m-1.6 0h3.2M271.9 656.5h3.2m-1.6 0v6.2m-1.6 0h3.2M287.9 655.3h3.2m-1.6 0v9.5m-1.6 0h3.2M290.2 656.5h3.2m-1.6 0v6.0m-1.6 0h3.2M294.8 661.9h3.2m-1.6 0v5.7m-1.6 0h3.2M301.6 667.8h3.2m-1.6 0v7.2m-1.6 0h3.2M303.9 668.2h3.2m-1.6 0v5.4m-1.6 0h3.2" stroke="#42A07B" stroke-width="0.8" stroke-opacity="0.75" fill="none"/>
<path d="M52.0 661.5h3.2m-1.6 0v16.3m-1.6 0h3.2M63.5 661.7h3.2m-1.6 0v13.0m-1.6 0h3.2M77.2 659.7h3.2m-1.6 0v9.4m-1.6 0h3.2M79.5 662.4h3.2m-1.6 0v7.8m-1.6 0h3.2M81.8 656.4h3.2m-1.6 0v11.6m-1.6 0h3.2M86.4 658.5h3.2m-1.6 0v10.9m-1.6 0h3.2M88.7 658.2h3.2m-1.6 0v6.6m-1.6 0h3.2M100.1 650.7h3.2m-1.6 0v15.7m-1.6 0h3.2M104.7 652.9h3.2m-1.6 0v8.9m-1.6 0h3.2M107.0 653.3h3.2m-1.6 0v14.2m-1.6 0h3.2M109.3 651.6h3.2m-1.6 0v22.9m-1.6 0h3.2M125.3 659.3h3.2m-1.6 0v21.5m-1.6 0h3.2M127.6 667.5h3.2m-1.6 0v8.4m-1.6 0h3.2M129.9 662.7h3.2m-1.6 0v16.9m-1.6 0h3.2M141.3 669.0h3.2m-1.6 0v8.0m-1.6 0h3.2M150.5 663.3h3.2m-1.6 0v15.2m-1.6 0h3.2M162.0 664.4h3.2m-1.6 0v15.4m-1.6 0h3.2M164.2 667.1h3.2m-1.6 0v9.1m-1.6 0h3.2M166.5 665.9h3.2m-1.6 0v9.3m-1.6 0h3.2M168.8 661.0h3.2m-1.6 0v20.6m-1.6 0h3.2M180.3 661.0h3.2m-1.6 0v8.2m-1.6 0h3.2M182.6 656.7h3.2m-1.6 0v6.0m-1.6 0h3.2M184.9 648.8h3.2m-1.6 0v17.4m-1.6 0h3.2M187.2 650.0h3.2m-1.6 0v13.1m-1.6 0h3.2M194.0 648.6h3.2m-1.6 0v10.3m-1.6 0h3.2M198.6 647.6h3.2m-1.6 0v15.2m-1.6 0h3.2M200.9 642.9h3.2m-1.6 0v21.4m-1.6 0h3.2M203.2 646.9h3.2m-1.6 0v11.8m-1.6 0h3.2M205.5 645.5h3.2m-1.6 0v15.9m-1.6 0h3.2M210.0 642.8h3.2m-1.6 0v21.3m-1.6 0h3.2M214.6 645.5h3.2m-1.6 0v13.5m-1.6 0h3.2M219.2 643.4h3.2m-1.6 0v21.7m-1.6 0h3.2M221.5 644.9h3.2m-1.6 0v9.6m-1.6 0h3.2M226.1 648.0h3.2m-1.6 0v7.6m-1.6 0h3.2M237.5 648.3h3.2m-1.6 0v9.6m-1.6 0h3.2M239.8 642.9h3.2m-1.6 0v19.5m-1.6 0h3.2M244.4 646.4h3.2m-1.6 0v12.4m-1.6 0h3.2M246.7 646.5h3.2m-1.6 0v10.4m-1.6 0h3.2M251.3 648.4h3.2m-1.6 0v8.5m-1.6 0h3.2M258.1 651.3h3.2m-1.6 0v6.4m-1.6 0h3.2M260.4 648.3h3.2m-1.6 0v11.4m-1.6 0h3.2M274.2 643.4h3.2m-1.6 0v18.8m-1.6 0h3.2M283.3 648.0h3.2m-1.6 0v10.7m-1.6 0h3.2M285.6 642.6h3.2m-1.6 0v19.4m-1.6 0h3.2M287.9 651.2h3.2m-1.6 0v7.7m-1.6 0h3.2M292.5 647.8h3.2m-1.6 0v13.6m-1.6 0h3.2M294.8 651.9h3.2m-1.6 0v16.3m-1.6 0h3.2M297.1 656.6h3.2m-1.6 0v15.6m-1.6 0h3.2M299.4 659.0h3.2m-1.6 0v13.2m-1.6 0h3.2M301.6 661.0h3.2m-1.6 0v16.5m-1.6 0h3.2" stroke="#E2A22E" stroke-width="0.8" stroke-opacity="0.75" fill="none"/>
<path d="M54.3 669.6h3.2m-1.6 0v8.0m-1.6 0h3.2M56.6 666.4h3.2m-1.6 0v8.9m-1.6 0h3.2M58.9 669.5h3.2m-1.6 0v5.2m-1.6 0h3.2M61.2 669.4h3.2m-1.6 0v4.1m-1.6 0h3.2M65.8 669.8h3.2m-1.6 0v2.3m-1.6 0h3.2M70.4 666.8h3.2m-1.6 0v5.3m-1.6 0h3.2M72.7 669.5h3.2m-1.6 0v2.4m-1.6 0h3.2M74.9 668.1h3.2m-1.6 0v6.7m-1.6 0h3.2M79.5 666.1h3.2m-1.6 0v7.5m-1.6 0h3.2M81.8 669.8h3.2m-1.6 0v2.3m-1.6 0h3.2M88.7 663.1h3.2m-1.6 0v7.6m-1.6 0h3.2M91.0 664.3h3.2m-1.6 0v7.8m-1.6 0h3.2M109.3 664.3h3.2m-1.6 0v7.0m-1.6 0h3.2M111.6 668.8h3.2m-1.6 0v3.5m-1.6 0h3.2M116.2 665.5h3.2m-1.6 0v6.6m-1.6 0h3.2M118.5 667.5h3.2m-1.6 0v3.5m-1.6 0h3.2M127.6 667.5h3.2m-1.6 0v7.8m-1.6 0h3.2M136.8 668.7h3.2m-1.6 0v6.8m-1.6 0h3.2M139.1 672.4h3.2m-1.6 0v3.2m-1.6 0h3.2M141.3 670.7h3.2m-1.6 0v5.2m-1.6 0h3.2M150.5 668.0h3.2m-1.6 0v8.8m-1.6 0h3.2M157.4 669.5h3.2m-1.6 0v3.4m-1.6 0h3.2M162.0 667.8h3.2m-1.6 0v7.6m-1.6 0h3.2M168.8 669.2h3.2m-1.6 0v4.3m-1.6 0h3.2M175.7 669.7h3.2m-1.6 0v4.1m-1.6 0h3.2M182.6 662.1h3.2m-1.6 0v3.7m-1.6 0h3.2M189.4 659.9h3.2m-1.6 0v5.5m-1.6 0h3.2M196.3 657.8h3.2m-1.6 0v8.9m-1.6 0h3.2M200.9 659.3h3.2m-1.6 0v7.2m-1.6 0h3.2M210.0 660.8h3.2m-1.6 0v4.7m-1.6 0h3.2M212.3 661.6h3.2m-1.6 0v3.3m-1.6 0h3.2M216.9 660.2h3.2m-1.6 0v7.5m-1.6 0h3.2M244.4 659.1h3.2m-1.6 0v8.1m-1.6 0h3.2M260.4 661.7h3.2m-1.6 0v4.7m-1.6 0h3.2M267.3 658.9h3.2m-1.6 0v4.3m-1.6 0h3.2M276.5 661.4h3.2m-1.6 0v4.8m-1.6 0h3.2" stroke="#EC7627" stroke-width="0.8" stroke-opacity="0.75" fill="none"/>
<path d="M54.3 671.2h3.2m-1.6 0v4.9m-1.6 0h3.2M68.1 665.6h3.2m-1.6 0v8.8m-1.6 0h3.2M72.7 665.9h3.2m-1.6 0v8.7m-1.6 0h3.2M88.7 662.8h3.2m-1.6 0v10.1m-1.6 0h3.2M95.6 661.9h3.2m-1.6 0v10.3m-1.6 0h3.2M100.1 664.8h3.2m-1.6 0v3.6m-1.6 0h3.2M113.9 664.9h3.2m-1.6 0v9.8m-1.6 0h3.2M125.3 669.6h3.2m-1.6 0v2.6m-1.6 0h3.2M127.6 667.2h3.2m-1.6 0v6.0m-1.6 0h3.2M134.5 668.2h3.2m-1.6 0v9.6m-1.6 0h3.2M136.8 667.8h3.2m-1.6 0v9.8m-1.6 0h3.2M155.1 668.4h3.2m-1.6 0v4.4m-1.6 0h3.2M159.7 668.2h3.2m-1.6 0v5.9m-1.6 0h3.2M162.0 665.6h3.2m-1.6 0v10.2m-1.6 0h3.2M182.6 660.5h3.2m-1.6 0v9.2m-1.6 0h3.2M189.4 658.6h3.2m-1.6 0v9.2m-1.6 0h3.2M203.2 658.1h3.2m-1.6 0v7.1m-1.6 0h3.2M207.8 658.9h3.2m-1.6 0v5.1m-1.6 0h3.2M223.8 654.0h3.2m-1.6 0v7.3m-1.6 0h3.2M233.0 657.8h3.2m-1.6 0v6.9m-1.6 0h3.2M235.2 657.4h3.2m-1.6 0v9.2m-1.6 0h3.2M237.5 657.0h3.2m-1.6 0v10.2m-1.6 0h3.2M242.1 658.1h3.2m-1.6 0v7.5m-1.6 0h3.2M246.7 659.1h3.2m-1.6 0v5.1m-1.6 0h3.2M249.0 656.7h3.2m-1.6 0v9.8m-1.6 0h3.2M255.8 657.4h3.2m-1.6 0v7.7m-1.6 0h3.2M267.3 655.5h3.2m-1.6 0v7.3m-1.6 0h3.2M269.6 661.6h3.2m-1.6 0v3.5m-1.6 0h3.2M274.2 656.7h3.2m-1.6 0v10.1m-1.6 0h3.2M281.0 659.0h3.2m-1.6 0v4.8m-1.6 0h3.2M285.6 657.6h3.2m-1.6 0v7.4m-1.6 0h3.2M290.2 653.8h3.2m-1.6 0v9.8m-1.6 0h3.2M299.4 666.0h3.2m-1.6 0v7.1m-1.6 0h3.2M303.9 666.9h3.2m-1.6 0v6.4m-1.6 0h3.2M306.2 666.8h3.2m-1.6 0v7.6m-1.6 0h3.2" stroke="#63BBCD" stroke-width="0.8" stroke-opacity="0.75" fill="none"/>
<polyline points="51.3,672.6 53.6,673.0 55.9,674.0 58.2,673.1 60.5,672.9 62.8,673.4 65.1,672.5 67.4,671.8 69.7,671.4 72.0,673.0 74.2,672.0 76.5,672.5 78.8,671.8 81.1,670.5 83.4,672.4 85.7,671.8 88.0,670.3 90.3,670.1 92.6,670.6 94.9,669.2 97.2,670.5 99.4,669.5 101.7,668.5 104.0,668.4 106.3,670.3 108.6,669.4 110.9,669.2 113.2,668.1 115.5,670.6 117.8,670.0 120.0,669.4 122.3,671.0 124.6,672.2 126.9,671.5 129.2,671.6 131.5,672.7 133.8,674.0 136.1,674.7 138.4,671.9 140.7,672.7 142.9,672.5 145.2,671.8 147.5,671.4 149.8,672.6 152.1,673.0 154.4,672.6 156.7,672.8 159.0,674.8 161.3,672.4 163.6,671.9 165.8,672.3 168.1,672.0 170.4,672.0 172.7,671.7 175.0,674.0 177.3,674.0 179.6,672.6 181.9,670.8 184.2,667.9 186.5,667.5 188.8,667.5 191.0,666.5 193.3,665.7 195.6,666.1 197.9,665.8 200.2,665.6 202.5,666.3 204.8,666.4 207.1,665.5 209.4,663.6 211.6,665.2 213.9,666.0 216.2,664.9 218.5,666.0 220.8,666.3 223.1,665.6 225.4,665.6 227.7,663.9 230.0,666.6 232.3,665.5 234.6,666.5 236.8,666.5 239.1,666.3 241.4,666.3 243.7,665.4 246.0,666.7 248.3,665.7 250.6,664.3 252.9,666.4 255.2,666.1 257.4,665.6 259.7,665.3 262.0,666.4 264.3,665.3 266.6,664.5 268.9,664.5 271.2,666.9 273.5,664.5 275.8,665.7 278.1,665.1 280.4,665.2 282.6,664.8 284.9,666.0 287.2,665.2 289.5,664.8 291.8,666.2 294.1,666.9 296.4,669.0 298.7,669.2 301.0,670.9 303.2,671.2 305.5,672.8 307.8,672.1" fill="none" stroke="#F5241E" stroke-width="1.7" stroke-linejoin="round"/>
<polyline points="51.3,662.7 53.6,667.4 55.9,671.7 58.2,671.3 60.5,669.8 62.8,668.8 65.1,666.3 67.4,667.6 69.7,666.0 72.0,667.5 74.2,664.1 76.5,666.2 78.8,665.9 81.1,662.9 83.4,664.6 85.7,663.7 88.0,663.6 90.3,662.6 92.6,661.6 94.9,662.6 97.2,663.1 99.4,663.1 101.7,662.7 104.0,663.6 106.3,663.7 108.6,662.8 110.9,663.4 113.2,664.1 115.5,665.2 117.8,667.5 120.0,667.3 122.3,668.6 124.6,670.5 126.9,668.2 129.2,670.0 131.5,670.7 133.8,670.8 136.1,669.0 138.4,669.0 140.7,668.9 142.9,669.5 145.2,668.5 147.5,667.9 149.8,667.6 152.1,667.9 154.4,670.2 156.7,671.5 159.0,670.1 161.3,670.0 163.6,669.2 165.8,670.7 168.1,671.7 170.4,670.4 172.7,670.2 175.0,670.8 177.3,670.5 179.6,669.2 181.9,665.8 184.2,664.8 186.5,661.2 188.8,658.5 191.0,659.2 193.3,659.4 195.6,657.5 197.9,660.4 200.2,660.6 202.5,661.2 204.8,659.8 207.1,659.0 209.4,659.1 211.6,659.3 213.9,658.7 216.2,659.9 218.5,659.4 220.8,658.6 223.1,657.6 225.4,657.5 227.7,657.9 230.0,659.6 232.3,660.5 234.6,660.7 236.8,659.9 239.1,658.2 241.4,659.5 243.7,660.5 246.0,659.9 248.3,659.6 250.6,659.8 252.9,657.7 255.2,659.1 257.4,660.3 259.7,659.0 262.0,659.7 264.3,657.6 266.6,656.0 268.9,658.4 271.2,658.0 273.5,659.6 275.8,660.2 278.1,658.8 280.4,658.9 282.6,660.0 284.9,659.1 287.2,660.2 289.5,660.0 291.8,659.5 294.1,662.3 296.4,664.7 298.7,667.3 301.0,669.9 303.2,671.4 305.5,670.9 307.8,671.8" fill="none" stroke="#42A07B" stroke-width="1.7" stroke-linejoin="round"/>
<polyline points="51.3,665.4 53.6,669.6 55.9,670.1 58.2,670.8 60.5,668.7 62.8,668.2 65.1,668.1 67.4,665.3 69.7,668.2 72.0,666.2 74.2,667.4 76.5,666.1 78.8,664.4 81.1,666.3 83.4,662.1 85.7,662.1 88.0,663.9 90.3,661.5 92.6,660.6 94.9,661.4 97.2,659.6 99.4,659.7 101.7,658.5 104.0,656.1 106.3,657.4 108.6,660.4 110.9,663.0 113.2,663.8 115.5,666.2 117.8,666.5 120.0,667.4 122.3,667.5 124.6,670.1 126.9,670.0 129.2,671.7 131.5,671.1 133.8,671.6 136.1,670.7 138.4,672.3 140.7,670.9 142.9,673.1 145.2,672.1 147.5,673.1 149.8,672.0 152.1,670.9 154.4,673.3 156.7,673.0 159.0,672.9 161.3,671.5 163.6,672.1 165.8,671.6 168.1,670.5 170.4,671.3 172.7,671.9 175.0,670.5 177.3,670.2 179.6,668.5 181.9,665.1 184.2,659.7 186.5,657.5 188.8,656.6 191.0,654.4 193.3,653.3 195.6,653.7 197.9,655.2 200.2,655.2 202.5,653.6 204.8,652.8 207.1,653.5 209.4,655.2 211.6,653.5 213.9,650.4 216.2,652.2 218.5,651.2 220.8,654.3 223.1,649.7 225.4,649.4 227.7,651.8 230.0,653.8 232.3,654.2 234.6,652.8 236.8,652.7 239.1,653.1 241.4,652.6 243.7,653.2 246.0,652.6 248.3,651.7 250.6,651.4 252.9,652.6 255.2,653.6 257.4,652.2 259.7,654.5 262.0,654.0 264.3,651.5 266.6,649.9 268.9,652.6 271.2,652.2 273.5,652.6 275.8,652.8 278.1,651.8 280.4,652.1 282.6,654.9 284.9,653.3 287.2,652.3 289.5,655.0 291.8,652.3 294.1,654.6 296.4,660.0 298.7,664.4 301.0,665.6 303.2,669.3 305.5,669.5 307.8,672.5" fill="none" stroke="#E2A22E" stroke-width="1.7" stroke-linejoin="round"/>
<polyline points="51.3,668.2 53.6,671.2 55.9,673.6 58.2,670.9 60.5,672.1 62.8,671.4 65.1,672.1 67.4,671.0 69.7,670.5 72.0,669.5 74.2,670.8 76.5,671.4 78.8,670.1 81.1,669.9 83.4,670.9 85.7,670.4 88.0,668.8 90.3,666.9 92.6,668.2 94.9,667.9 97.2,668.9 99.4,667.9 101.7,666.7 104.0,668.2 106.3,666.4 108.6,668.9 110.9,667.8 113.2,670.6 115.5,669.7 117.8,668.8 120.0,669.2 122.3,669.6 124.6,669.1 126.9,670.7 129.2,671.3 131.5,672.3 133.8,673.3 136.1,671.6 138.4,672.1 140.7,674.0 142.9,673.3 145.2,673.7 147.5,672.5 149.8,672.1 152.1,672.4 154.4,670.8 156.7,671.2 159.0,671.2 161.3,671.3 163.6,671.6 165.8,671.6 168.1,671.0 170.4,671.4 172.7,671.2 175.0,671.0 177.3,671.7 179.6,669.3 181.9,666.4 184.2,664.0 186.5,663.3 188.8,663.0 191.0,662.6 193.3,662.3 195.6,663.3 197.9,662.3 200.2,662.1 202.5,662.9 204.8,661.6 207.1,663.3 209.4,663.9 211.6,663.1 213.9,663.2 216.2,662.1 218.5,664.0 220.8,663.0 223.1,661.3 225.4,660.6 227.7,661.0 230.0,662.2 232.3,663.8 234.6,662.8 236.8,664.2 239.1,662.4 241.4,665.2 243.7,664.4 246.0,663.2 248.3,662.6 250.6,663.3 252.9,663.3 255.2,664.1 257.4,662.3 259.7,663.2 262.0,664.0 264.3,661.7 266.6,659.9 268.9,661.1 271.2,661.8 273.5,661.6 275.8,662.2 278.1,663.8 280.4,663.6 282.6,662.1 284.9,662.5 287.2,664.2 289.5,662.8 291.8,662.7 294.1,664.2 296.4,668.0 298.7,670.4 301.0,670.6 303.2,670.6 305.5,672.1 307.8,673.1" fill="none" stroke="#EC7627" stroke-width="1.7" stroke-linejoin="round"/>
<polyline points="51.3,667.8 53.6,668.8 55.9,673.7 58.2,672.7 60.5,672.8 62.8,670.2 65.1,671.6 67.4,671.1 69.7,670.0 72.0,670.9 74.2,670.2 76.5,668.9 78.8,669.0 81.1,670.3 83.4,668.9 85.7,668.3 88.0,668.6 90.3,667.8 92.6,669.2 94.9,667.1 97.2,667.0 99.4,666.7 101.7,666.6 104.0,666.9 106.3,669.4 108.6,666.9 110.9,669.2 113.2,669.3 115.5,669.8 117.8,668.1 120.0,668.7 122.3,671.4 124.6,670.2 126.9,670.9 129.2,670.2 131.5,669.4 133.8,672.0 136.1,673.0 138.4,672.7 140.7,671.3 142.9,671.0 145.2,671.7 147.5,672.7 149.8,670.4 152.1,671.0 154.4,669.9 156.7,670.6 159.0,670.8 161.3,671.1 163.6,670.6 165.8,670.4 168.1,670.9 170.4,671.8 172.7,672.6 175.0,673.6 177.3,672.4 179.6,669.0 181.9,667.1 184.2,665.1 186.5,664.1 188.8,660.2 191.0,663.2 193.3,663.1 195.6,659.5 197.9,658.3 200.2,659.4 202.5,661.0 204.8,661.7 207.1,662.2 209.4,661.4 211.6,661.1 213.9,662.0 216.2,662.2 218.5,660.6 220.8,660.4 223.1,658.9 225.4,657.7 227.7,661.9 230.0,661.2 232.3,661.2 234.6,661.2 236.8,661.9 239.1,662.1 241.4,662.7 243.7,661.8 246.0,661.3 248.3,661.7 250.6,661.6 252.9,661.3 255.2,660.3 257.4,661.3 259.7,661.2 262.0,663.2 264.3,658.3 266.6,659.8 268.9,659.2 271.2,663.3 273.5,660.4 275.8,661.7 278.1,660.6 280.4,662.9 282.6,661.4 284.9,662.4 287.2,661.3 289.5,660.2 291.8,658.7 294.1,663.2 296.4,664.4 298.7,666.2 301.0,669.5 303.2,670.4 305.5,670.1 307.8,670.6" fill="none" stroke="#63BBCD" stroke-width="1.7" stroke-linejoin="round"/>
<polyline points="51.3,656.9 53.6,661.9 55.9,664.1 58.2,667.5 60.5,669.9 62.8,671.5 65.1,670.8 67.4,671.8 69.7,671.9 72.0,672.6 74.2,674.8 76.5,673.8 78.8,672.9 81.1,674.4 83.4,674.0 85.7,673.4 88.0,674.9 90.3,674.4 92.6,673.9 94.9,675.0 97.2,674.8 99.4,674.7 101.7,675.0 104.0,674.6 106.3,675.7 108.6,677.2 110.9,677.2 113.2,675.5 115.5,677.1 117.8,677.2 120.0,678.0 122.3,678.0 124.6,678.3 126.9,679.3 129.2,677.6 131.5,677.9 133.8,677.4 136.1,675.9 138.4,673.7 140.7,672.3 142.9,673.9 145.2,676.3 147.5,676.0 149.8,676.1 152.1,675.5 154.4,674.9 156.7,674.7 159.0,675.7 161.3,674.8 163.6,675.4 165.8,676.7 168.1,674.7 170.4,674.8 172.7,674.5 175.0,676.2 177.3,674.1 179.6,674.7 181.9,675.3 184.2,672.7 186.5,672.9 188.8,673.5 191.0,667.9 193.3,672.0 195.6,673.6 197.9,674.3 200.2,675.3 202.5,675.1 204.8,674.9 207.1,674.0 209.4,674.1 211.6,675.3 213.9,674.5 216.2,675.1 218.5,673.0 220.8,674.2 223.1,675.0 225.4,673.4 227.7,673.4 230.0,674.7 232.3,672.8 234.6,673.0 236.8,674.1 239.1,672.9 241.4,673.7 243.7,674.2 246.0,673.7 248.3,674.0 250.6,673.6 252.9,674.3 255.2,674.4 257.4,675.2 259.7,672.5 262.0,675.1 264.3,674.1 266.6,674.3 268.9,673.9 271.2,673.9 273.5,674.6 275.8,673.9 278.1,673.8 280.4,673.3 282.6,674.2 284.9,675.1 287.2,673.7 289.5,674.4 291.8,674.5 294.1,674.7 296.4,673.8 298.7,675.5 301.0,674.6 303.2,673.9 305.5,668.2 307.8,657.3 310.1,650.2" fill="none" stroke="#131313" stroke-width="2.2" stroke-linejoin="round"/>
</g>
<rect x="36.0" y="636.2" width="288.3" height="52.1" fill="none" stroke="#9C9C9C" stroke-width="1.0"/>
<line y1="688.3" y2="689.6" x1="62.80" x2="62.80" stroke="#888" stroke-width="0.8"/>
<line y1="688.3" y2="689.6" x1="131.50" x2="131.50" stroke="#888" stroke-width="0.8"/>
<line y1="688.3" y2="689.6" x1="200.20" x2="200.20" stroke="#888" stroke-width="0.8"/>
<line y1="688.3" y2="689.6" x1="268.90" x2="268.90" stroke="#888" stroke-width="0.8"/>
<line x1="33.8" x2="36.0" y1="685.75" y2="685.75" stroke="#9C9C9C" stroke-width="0.8"/>
<text x="32.7" y="688.9" font-size="8.7" text-anchor="end" fill="#3a3a3a" >0.50</text>
<line x1="33.8" x2="36.0" y1="674.07" y2="674.07" stroke="#9C9C9C" stroke-width="0.8"/>
<text x="32.7" y="677.2" font-size="8.7" text-anchor="end" fill="#3a3a3a" >0.75</text>
<line x1="33.8" x2="36.0" y1="662.40" y2="662.40" stroke="#9C9C9C" stroke-width="0.8"/>
<text x="32.7" y="665.5" font-size="8.7" text-anchor="end" fill="#3a3a3a" >1.00</text>
<line x1="33.8" x2="36.0" y1="650.73" y2="650.73" stroke="#9C9C9C" stroke-width="0.8"/>
<text x="32.7" y="653.8" font-size="8.7" text-anchor="end" fill="#3a3a3a" >1.25</text>
<line x1="33.8" x2="36.0" y1="639.05" y2="639.05" stroke="#9C9C9C" stroke-width="0.8"/>
<text x="32.7" y="642.1" font-size="8.7" text-anchor="end" fill="#3a3a3a" >1.50</text>
<text transform="translate(9.4,662.2) rotate(-90)" font-size="11" text-anchor="middle" fill="#1a1a1a">T<tspan font-size="8" dy="1.3">1</tspan><tspan dy="-1.3"> (s)</tspan></text>
<rect x="36.0" y="691.4" width="288.3" height="49.9" fill="#fff"/>
<line x1="36.0" x2="324.3" y1="732.37" y2="732.37" stroke="#EFEFEF" stroke-width="0.5"/>
<line x1="36.0" x2="324.3" y1="718.31" y2="718.31" stroke="#EFEFEF" stroke-width="0.5"/>
<line x1="36.0" x2="324.3" y1="704.25" y2="704.25" stroke="#EFEFEF" stroke-width="0.5"/>
<line y1="691.4" y2="741.3" x1="97.15" x2="97.15" stroke="#EFEFEF" stroke-width="0.5"/>
<line y1="691.4" y2="741.3" x1="165.85" x2="165.85" stroke="#EFEFEF" stroke-width="0.5"/>
<line y1="691.4" y2="741.3" x1="234.55" x2="234.55" stroke="#EFEFEF" stroke-width="0.5"/>
<line y1="691.4" y2="741.3" x1="303.25" x2="303.25" stroke="#EFEFEF" stroke-width="0.5"/>
<line x1="36.0" x2="324.3" y1="739.40" y2="739.40" stroke="#DEDEDE" stroke-width="0.7"/>
<line x1="36.0" x2="324.3" y1="725.34" y2="725.34" stroke="#DEDEDE" stroke-width="0.7"/>
<line x1="36.0" x2="324.3" y1="711.28" y2="711.28" stroke="#DEDEDE" stroke-width="0.7"/>
<line x1="36.0" x2="324.3" y1="697.22" y2="697.22" stroke="#DEDEDE" stroke-width="0.7"/>
<line y1="691.4" y2="741.3" x1="62.80" x2="62.80" stroke="#DEDEDE" stroke-width="0.7"/>
<line y1="691.4" y2="741.3" x1="131.50" x2="131.50" stroke="#DEDEDE" stroke-width="0.7"/>
<line y1="691.4" y2="741.3" x1="200.20" x2="200.20" stroke="#DEDEDE" stroke-width="0.7"/>
<line y1="691.4" y2="741.3" x1="268.90" x2="268.90" stroke="#DEDEDE" stroke-width="0.7"/>
<clipPath id="ce2"><rect x="36.0" y="691.4" width="288.3" height="49.9"/></clipPath>
<g clip-path="url(#ce2)">
<path d="M58.9 725.8h3.2m-1.6 0v8.6m-1.6 0h3.2M61.2 727.8h3.2m-1.6 0v7.6m-1.6 0h3.2M63.5 729.4h3.2m-1.6 0v4.9m-1.6 0h3.2M68.1 728.9h3.2m-1.6 0v4.0m-1.6 0h3.2M86.4 727.9h3.2m-1.6 0v8.7m-1.6 0h3.2M95.6 729.0h3.2m-1.6 0v10.4m-1.6 0h3.2M100.1 727.6h3.2m-1.6 0v9.7m-1.6 0h3.2M104.7 730.4h3.2m-1.6 0v10.9m-1.6 0h3.2M116.2 731.4h3.2m-1.6 0v4.4m-1.6 0h3.2M132.2 729.1h3.2m-1.6 0v4.9m-1.6 0h3.2M150.5 726.9h3.2m-1.6 0v4.0m-1.6 0h3.2M180.3 726.8h3.2m-1.6 0v10.5m-1.6 0h3.2M182.6 731.0h3.2m-1.6 0v4.4m-1.6 0h3.2M200.9 729.6h3.2m-1.6 0v11.2m-1.6 0h3.2M203.2 729.2h3.2m-1.6 0v8.4m-1.6 0h3.2M207.8 730.3h3.2m-1.6 0v6.7m-1.6 0h3.2M210.0 727.4h3.2m-1.6 0v10.8m-1.6 0h3.2M221.5 729.6h3.2m-1.6 0v7.4m-1.6 0h3.2M226.1 729.5h3.2m-1.6 0v9.2m-1.6 0h3.2M228.4 729.9h3.2m-1.6 0v8.3m-1.6 0h3.2M230.7 730.5h3.2m-1.6 0v6.0m-1.6 0h3.2M233.0 733.5h3.2m-1.6 0v3.0m-1.6 0h3.2M239.8 728.2h3.2m-1.6 0v9.1m-1.6 0h3.2M246.7 731.6h3.2m-1.6 0v7.6m-1.6 0h3.2M249.0 731.4h3.2m-1.6 0v6.8m-1.6 0h3.2M251.3 734.6h3.2m-1.6 0v4.3m-1.6 0h3.2M255.8 731.6h3.2m-1.6 0v4.1m-1.6 0h3.2M258.1 730.9h3.2m-1.6 0v5.2m-1.6 0h3.2M267.3 729.6h3.2m-1.6 0v10.9m-1.6 0h3.2M271.9 729.8h3.2m-1.6 0v11.2m-1.6 0h3.2M274.2 733.1h3.2m-1.6 0v4.7m-1.6 0h3.2M278.8 733.7h3.2m-1.6 0v7.1m-1.6 0h3.2M281.0 731.8h3.2m-1.6 0v5.5m-1.6 0h3.2M292.5 730.8h3.2m-1.6 0v7.2m-1.6 0h3.2M294.8 731.6h3.2m-1.6 0v5.0m-1.6 0h3.2M297.1 726.8h3.2m-1.6 0v10.8m-1.6 0h3.2M303.9 718.5h3.2m-1.6 0v5.1m-1.6 0h3.2M306.2 710.8h3.2m-1.6 0v6.9m-1.6 0h3.2" stroke="#F5241E" stroke-width="0.8" stroke-opacity="0.75" fill="none"/>
<path d="M49.7 714.1h3.2m-1.6 0v8.8m-1.6 0h3.2M52.0 719.5h3.2m-1.6 0v9.6m-1.6 0h3.2M77.2 725.2h3.2m-1.6 0v10.6m-1.6 0h3.2M79.5 728.1h3.2m-1.6 0v5.4m-1.6 0h3.2M93.3 730.7h3.2m-1.6 0v9.2m-1.6 0h3.2M97.8 730.3h3.2m-1.6 0v6.3m-1.6 0h3.2M100.1 732.3h3.2m-1.6 0v4.2m-1.6 0h3.2M107.0 731.0h3.2m-1.6 0v4.8m-1.6 0h3.2M159.7 727.8h3.2m-1.6 0v6.0m-1.6 0h3.2M180.3 729.2h3.2m-1.6 0v7.8m-1.6 0h3.2M196.3 729.8h3.2m-1.6 0v8.7m-1.6 0h3.2M203.2 730.6h3.2m-1.6 0v7.1m-1.6 0h3.2M221.5 729.6h3.2m-1.6 0v10.1m-1.6 0h3.2M223.8 730.0h3.2m-1.6 0v9.7m-1.6 0h3.2M235.2 732.3h3.2m-1.6 0v7.3m-1.6 0h3.2M237.5 732.8h3.2m-1.6 0v4.9m-1.6 0h3.2M239.8 731.2h3.2m-1.6 0v10.6m-1.6 0h3.2M242.1 734.0h3.2m-1.6 0v3.5m-1.6 0h3.2M246.7 730.3h3.2m-1.6 0v9.7m-1.6 0h3.2M258.1 732.9h3.2m-1.6 0v4.9m-1.6 0h3.2M260.4 732.0h3.2m-1.6 0v4.7m-1.6 0h3.2M267.3 729.6h3.2m-1.6 0v10.1m-1.6 0h3.2M269.6 728.5h3.2m-1.6 0v10.8m-1.6 0h3.2M271.9 730.9h3.2m-1.6 0v10.0m-1.6 0h3.2M285.6 732.6h3.2m-1.6 0v3.8m-1.6 0h3.2M290.2 731.2h3.2m-1.6 0v5.9m-1.6 0h3.2M301.6 729.6h3.2m-1.6 0v6.2m-1.6 0h3.2M308.5 706.1h3.2m-1.6 0v3.4m-1.6 0h3.2" stroke="#42A07B" stroke-width="0.8" stroke-opacity="0.75" fill="none"/>
<path d="M49.7 714.7h3.2m-1.6 0v8.7m-1.6 0h3.2M65.8 726.9h3.2m-1.6 0v9.5m-1.6 0h3.2M68.1 729.1h3.2m-1.6 0v6.3m-1.6 0h3.2M72.7 732.7h3.2m-1.6 0v3.5m-1.6 0h3.2M81.8 731.0h3.2m-1.6 0v3.3m-1.6 0h3.2M84.1 728.6h3.2m-1.6 0v7.1m-1.6 0h3.2M88.7 728.5h3.2m-1.6 0v9.1m-1.6 0h3.2M97.8 730.7h3.2m-1.6 0v6.7m-1.6 0h3.2M102.4 732.0h3.2m-1.6 0v4.9m-1.6 0h3.2M104.7 730.9h3.2m-1.6 0v7.7m-1.6 0h3.2M123.0 729.8h3.2m-1.6 0v7.1m-1.6 0h3.2M125.3 728.6h3.2m-1.6 0v9.9m-1.6 0h3.2M127.6 728.9h3.2m-1.6 0v10.0m-1.6 0h3.2M129.9 732.2h3.2m-1.6 0v4.0m-1.6 0h3.2M143.6 724.1h3.2m-1.6 0v9.4m-1.6 0h3.2M150.5 724.2h3.2m-1.6 0v9.9m-1.6 0h3.2M157.4 727.5h3.2m-1.6 0v7.1m-1.6 0h3.2M162.0 725.6h3.2m-1.6 0v9.5m-1.6 0h3.2M164.2 727.3h3.2m-1.6 0v8.7m-1.6 0h3.2M168.8 728.1h3.2m-1.6 0v6.0m-1.6 0h3.2M171.1 727.3h3.2m-1.6 0v9.6m-1.6 0h3.2M175.7 727.4h3.2m-1.6 0v8.5m-1.6 0h3.2M178.0 728.2h3.2m-1.6 0v9.4m-1.6 0h3.2M184.9 729.9h3.2m-1.6 0v3.5m-1.6 0h3.2M191.7 729.4h3.2m-1.6 0v7.2m-1.6 0h3.2M196.3 729.8h3.2m-1.6 0v8.0m-1.6 0h3.2M203.2 731.4h3.2m-1.6 0v4.5m-1.6 0h3.2M212.3 731.7h3.2m-1.6 0v5.3m-1.6 0h3.2M216.9 732.1h3.2m-1.6 0v7.1m-1.6 0h3.2M226.1 729.0h3.2m-1.6 0v10.8m-1.6 0h3.2M242.1 728.6h3.2m-1.6 0v10.3m-1.6 0h3.2M251.3 731.5h3.2m-1.6 0v4.7m-1.6 0h3.2M253.6 730.8h3.2m-1.6 0v5.4m-1.6 0h3.2M262.7 732.8h3.2m-1.6 0v3.2m-1.6 0h3.2M267.3 735.2h3.2m-1.6 0v3.5m-1.6 0h3.2M276.5 733.1h3.2m-1.6 0v3.0m-1.6 0h3.2M287.9 730.1h3.2m-1.6 0v9.5m-1.6 0h3.2M294.8 730.2h3.2m-1.6 0v11.1m-1.6 0h3.2M299.4 728.9h3.2m-1.6 0v6.1m-1.6 0h3.2M301.6 727.1h3.2m-1.6 0v6.0m-1.6 0h3.2" stroke="#E2A22E" stroke-width="0.8" stroke-opacity="0.75" fill="none"/>
<path d="M63.5 729.3h3.2m-1.6 0v5.2m-1.6 0h3.2M65.8 724.7h3.2m-1.6 0v10.6m-1.6 0h3.2M68.1 729.6h3.2m-1.6 0v3.9m-1.6 0h3.2M93.3 729.8h3.2m-1.6 0v9.1m-1.6 0h3.2M97.8 732.3h3.2m-1.6 0v3.0m-1.6 0h3.2M111.6 728.5h3.2m-1.6 0v8.0m-1.6 0h3.2M123.0 731.4h3.2m-1.6 0v5.9m-1.6 0h3.2M125.3 731.8h3.2m-1.6 0v3.6m-1.6 0h3.2M132.2 729.1h3.2m-1.6 0v3.5m-1.6 0h3.2M143.6 723.6h3.2m-1.6 0v8.2m-1.6 0h3.2M150.5 727.2h3.2m-1.6 0v8.3m-1.6 0h3.2M152.8 725.2h3.2m-1.6 0v9.8m-1.6 0h3.2M168.8 725.7h3.2m-1.6 0v8.9m-1.6 0h3.2M178.0 726.0h3.2m-1.6 0v10.9m-1.6 0h3.2M196.3 730.9h3.2m-1.6 0v6.0m-1.6 0h3.2M198.6 728.6h3.2m-1.6 0v10.1m-1.6 0h3.2M200.9 728.9h3.2m-1.6 0v8.8m-1.6 0h3.2M205.5 731.3h3.2m-1.6 0v3.3m-1.6 0h3.2M230.7 731.9h3.2m-1.6 0v5.0m-1.6 0h3.2M246.7 729.9h3.2m-1.6 0v4.9m-1.6 0h3.2M255.8 730.6h3.2m-1.6 0v6.1m-1.6 0h3.2M269.6 731.7h3.2m-1.6 0v4.1m-1.6 0h3.2M283.3 730.6h3.2m-1.6 0v6.2m-1.6 0h3.2M290.2 731.6h3.2m-1.6 0v4.0m-1.6 0h3.2M292.5 730.7h3.2m-1.6 0v5.3m-1.6 0h3.2M294.8 728.5h3.2m-1.6 0v10.5m-1.6 0h3.2M299.4 726.7h3.2m-1.6 0v7.4m-1.6 0h3.2M306.2 709.9h3.2m-1.6 0v7.7m-1.6 0h3.2" stroke="#EC7627" stroke-width="0.8" stroke-opacity="0.75" fill="none"/>
<path d="M84.1 726.5h3.2m-1.6 0v10.9m-1.6 0h3.2M91.0 729.6h3.2m-1.6 0v7.3m-1.6 0h3.2M107.0 731.2h3.2m-1.6 0v5.9m-1.6 0h3.2M109.3 731.0h3.2m-1.6 0v8.9m-1.6 0h3.2M116.2 730.0h3.2m-1.6 0v9.0m-1.6 0h3.2M123.0 732.0h3.2m-1.6 0v4.5m-1.6 0h3.2M129.9 728.4h3.2m-1.6 0v8.4m-1.6 0h3.2M132.2 727.5h3.2m-1.6 0v8.1m-1.6 0h3.2M139.1 725.7h3.2m-1.6 0v4.2m-1.6 0h3.2M143.6 725.0h3.2m-1.6 0v5.8m-1.6 0h3.2M145.9 727.7h3.2m-1.6 0v3.3m-1.6 0h3.2M152.8 723.9h3.2m-1.6 0v10.0m-1.6 0h3.2M155.1 725.6h3.2m-1.6 0v10.9m-1.6 0h3.2M162.0 729.0h3.2m-1.6 0v4.0m-1.6 0h3.2M166.5 730.0h3.2m-1.6 0v3.6m-1.6 0h3.2M175.7 729.2h3.2m-1.6 0v8.8m-1.6 0h3.2M180.3 731.1h3.2m-1.6 0v3.0m-1.6 0h3.2M198.6 731.8h3.2m-1.6 0v6.1m-1.6 0h3.2M200.9 727.8h3.2m-1.6 0v10.0m-1.6 0h3.2M203.2 731.0h3.2m-1.6 0v5.9m-1.6 0h3.2M207.8 730.6h3.2m-1.6 0v8.0m-1.6 0h3.2M210.0 732.4h3.2m-1.6 0v4.9m-1.6 0h3.2M216.9 732.4h3.2m-1.6 0v3.0m-1.6 0h3.2M219.2 732.3h3.2m-1.6 0v4.9m-1.6 0h3.2M221.5 730.9h3.2m-1.6 0v5.1m-1.6 0h3.2M226.1 730.6h3.2m-1.6 0v5.4m-1.6 0h3.2M228.4 729.1h3.2m-1.6 0v10.2m-1.6 0h3.2M233.0 729.3h3.2m-1.6 0v8.8m-1.6 0h3.2M239.8 729.9h3.2m-1.6 0v9.7m-1.6 0h3.2M242.1 731.7h3.2m-1.6 0v5.0m-1.6 0h3.2M246.7 732.2h3.2m-1.6 0v5.3m-1.6 0h3.2M249.0 731.6h3.2m-1.6 0v3.3m-1.6 0h3.2M251.3 729.3h3.2m-1.6 0v10.7m-1.6 0h3.2M260.4 731.3h3.2m-1.6 0v3.9m-1.6 0h3.2M267.3 730.5h3.2m-1.6 0v4.3m-1.6 0h3.2M276.5 728.9h3.2m-1.6 0v10.5m-1.6 0h3.2M287.9 731.6h3.2m-1.6 0v2.9m-1.6 0h3.2M290.2 731.7h3.2m-1.6 0v4.1m-1.6 0h3.2M292.5 728.3h3.2m-1.6 0v9.4m-1.6 0h3.2M297.1 731.2h3.2m-1.6 0v4.4m-1.6 0h3.2M303.9 721.4h3.2m-1.6 0v3.1m-1.6 0h3.2" stroke="#63BBCD" stroke-width="0.8" stroke-opacity="0.75" fill="none"/>
<polyline points="51.3,722.2 53.6,726.3 55.9,728.4 58.2,728.2 60.5,730.1 62.8,731.6 65.1,731.9 67.4,731.1 69.7,730.9 72.0,730.7 74.2,732.0 76.5,731.0 78.8,729.7 81.1,730.2 83.4,730.3 85.7,731.3 88.0,732.2 90.3,730.7 92.6,732.2 94.9,733.2 97.2,734.3 99.4,733.4 101.7,732.4 104.0,734.1 106.3,735.8 108.6,735.3 110.9,734.4 113.2,734.9 115.5,734.8 117.8,733.6 120.0,733.3 122.3,734.7 124.6,733.8 126.9,733.8 129.2,733.1 131.5,732.9 133.8,731.6 136.1,731.7 138.4,730.0 140.7,730.5 142.9,729.1 145.2,729.8 147.5,729.9 149.8,729.5 152.1,728.8 154.4,730.3 156.7,729.3 159.0,730.4 161.3,730.8 163.6,731.9 165.8,731.8 168.1,729.4 170.4,730.3 172.7,730.4 175.0,730.5 177.3,732.7 179.6,732.7 181.9,732.0 184.2,733.2 186.5,731.8 188.8,732.4 191.0,733.4 193.3,733.9 195.6,732.7 197.9,733.2 200.2,732.9 202.5,735.2 204.8,733.5 207.1,733.9 209.4,733.7 211.6,732.8 213.9,734.6 216.2,734.6 218.5,733.7 220.8,733.5 223.1,733.3 225.4,735.0 227.7,734.1 230.0,734.1 232.3,733.5 234.6,735.0 236.8,734.8 239.1,734.4 241.4,732.8 243.7,733.5 246.0,735.0 248.3,735.4 250.6,734.8 252.9,736.7 255.2,735.4 257.4,733.6 259.7,733.5 262.0,735.5 264.3,735.2 266.6,733.6 268.9,735.0 271.2,734.9 273.5,735.4 275.8,735.4 278.1,735.5 280.4,737.2 282.6,734.5 284.9,734.0 287.2,734.4 289.5,733.9 291.8,734.2 294.1,734.4 296.4,734.0 298.7,732.2 301.0,730.8 303.2,730.0 305.5,721.0 307.8,714.2 310.1,708.0" fill="none" stroke="#F5241E" stroke-width="1.7" stroke-linejoin="round"/>
<polyline points="51.3,718.5 53.6,724.2 55.9,729.7 58.2,730.3 60.5,731.2 62.8,732.5 65.1,733.6 67.4,733.0 69.7,732.2 72.0,730.9 74.2,731.4 76.5,730.9 78.8,730.5 81.1,730.8 83.4,731.0 85.7,731.1 88.0,731.8 90.3,733.7 92.6,735.1 94.9,735.3 97.2,734.5 99.4,733.4 101.7,734.4 104.0,734.9 106.3,733.7 108.6,733.5 110.9,734.2 113.2,734.8 115.5,736.6 117.8,734.7 120.0,734.7 122.3,734.8 124.6,734.5 126.9,734.5 129.2,733.7 131.5,733.7 133.8,732.9 136.1,731.2 138.4,731.7 140.7,730.2 142.9,729.5 145.2,731.7 147.5,733.3 149.8,730.6 152.1,728.9 154.4,729.9 156.7,729.7 159.0,729.7 161.3,730.8 163.6,731.3 165.8,730.2 168.1,730.9 170.4,731.0 172.7,733.3 175.0,732.6 177.3,731.5 179.6,732.8 181.9,733.1 184.2,732.7 186.5,732.4 188.8,733.8 191.0,733.6 193.3,733.3 195.6,735.1 197.9,734.2 200.2,736.3 202.5,734.6 204.8,734.1 207.1,733.4 209.4,736.1 211.6,735.3 213.9,735.3 216.2,734.9 218.5,735.6 220.8,734.1 223.1,734.7 225.4,734.8 227.7,735.8 230.0,735.6 232.3,736.8 234.6,735.9 236.8,735.9 239.1,735.2 241.4,736.5 243.7,735.8 246.0,734.7 248.3,735.1 250.6,735.0 252.9,735.7 255.2,735.6 257.4,735.0 259.7,735.3 262.0,734.4 264.3,735.7 266.6,735.5 268.9,734.6 271.2,733.8 273.5,736.0 275.8,734.9 278.1,735.3 280.4,735.0 282.6,734.9 284.9,735.0 287.2,734.5 289.5,734.9 291.8,734.1 294.1,734.1 296.4,736.1 298.7,733.6 301.0,732.3 303.2,732.7 305.5,725.2 307.8,717.1 310.1,707.7" fill="none" stroke="#42A07B" stroke-width="1.7" stroke-linejoin="round"/>
<polyline points="51.3,719.1 53.6,723.8 55.9,729.7 58.2,730.0 60.5,731.0 62.8,731.8 65.1,731.4 67.4,731.6 69.7,732.2 72.0,732.1 74.2,734.5 76.5,732.3 78.8,731.6 81.1,731.7 83.4,732.7 85.7,732.1 88.0,732.9 90.3,733.0 92.6,732.5 94.9,732.9 97.2,733.9 99.4,734.0 101.7,734.1 104.0,734.4 106.3,734.8 108.6,734.1 110.9,734.8 113.2,734.7 115.5,734.4 117.8,734.8 120.0,734.7 122.3,733.3 124.6,733.4 126.9,733.5 129.2,733.9 131.5,734.2 133.8,732.7 136.1,731.4 138.4,729.4 140.7,729.9 142.9,727.7 145.2,728.7 147.5,729.1 149.8,728.9 152.1,729.2 154.4,729.8 156.7,731.1 159.0,731.0 161.3,731.3 163.6,730.3 165.8,731.7 168.1,730.5 170.4,731.1 172.7,732.1 175.0,731.9 177.3,731.7 179.6,732.9 181.9,731.6 184.2,732.3 186.5,731.6 188.8,732.7 191.0,733.6 193.3,733.0 195.6,733.1 197.9,733.8 200.2,735.6 202.5,734.1 204.8,733.6 207.1,735.4 209.4,736.1 211.6,735.3 213.9,734.4 216.2,734.3 218.5,735.6 220.8,734.7 223.1,734.2 225.4,733.9 227.7,734.4 230.0,735.0 232.3,735.4 234.6,734.1 236.8,734.1 239.1,734.3 241.4,734.1 243.7,733.7 246.0,733.8 248.3,733.4 250.6,735.2 252.9,733.8 255.2,733.5 257.4,734.6 259.7,734.0 262.0,734.9 264.3,734.3 266.6,734.8 268.9,736.9 271.2,734.8 273.5,735.7 275.8,734.3 278.1,734.6 280.4,733.0 282.6,736.5 284.9,736.1 287.2,736.4 289.5,734.9 291.8,735.3 294.1,735.8 296.4,735.7 298.7,734.3 301.0,732.0 303.2,730.1 305.5,721.2 307.8,716.4 310.1,709.6" fill="none" stroke="#E2A22E" stroke-width="1.7" stroke-linejoin="round"/>
<polyline points="51.3,719.9 53.6,723.5 55.9,728.3 58.2,728.3 60.5,729.5 62.8,731.6 65.1,731.9 67.4,730.0 69.7,731.6 72.0,732.3 74.2,732.5 76.5,731.5 78.8,731.1 81.1,730.6 83.4,732.3 85.7,731.5 88.0,732.6 90.3,732.4 92.6,734.0 94.9,734.3 97.2,734.3 99.4,733.8 101.7,735.6 104.0,734.1 106.3,734.5 108.6,734.0 110.9,733.4 113.2,732.5 115.5,732.5 117.8,732.5 120.0,732.7 122.3,734.4 124.6,734.3 126.9,733.6 129.2,733.2 131.5,731.7 133.8,730.8 136.1,729.8 138.4,729.0 140.7,729.8 142.9,727.1 145.2,727.7 147.5,728.5 149.8,730.1 152.1,731.3 154.4,730.1 156.7,729.4 159.0,731.1 161.3,732.1 163.6,731.0 165.8,731.4 168.1,730.0 170.4,730.2 172.7,730.7 175.0,733.2 177.3,730.7 179.6,731.5 181.9,732.6 184.2,731.8 186.5,732.3 188.8,731.7 191.0,730.7 193.3,733.0 195.6,732.3 197.9,733.9 200.2,733.7 202.5,733.3 204.8,732.0 207.1,733.0 209.4,733.1 211.6,733.8 213.9,734.1 216.2,734.4 218.5,735.4 220.8,735.9 223.1,735.1 225.4,733.8 227.7,733.7 230.0,732.5 232.3,734.5 234.6,734.5 236.8,734.2 239.1,732.9 241.4,734.2 243.7,733.5 246.0,732.7 248.3,732.4 250.6,733.5 252.9,733.8 255.2,732.9 257.4,733.6 259.7,733.1 262.0,733.4 264.3,732.7 266.6,733.0 268.9,733.0 271.2,733.7 273.5,733.2 275.8,733.7 278.1,731.1 280.4,732.3 282.6,733.0 284.9,733.7 287.2,735.4 289.5,734.4 291.8,733.6 294.1,733.3 296.4,733.7 298.7,731.4 301.0,730.4 303.2,730.1 305.5,723.1 307.8,713.8 310.1,706.8" fill="none" stroke="#EC7627" stroke-width="1.7" stroke-linejoin="round"/>
<polyline points="51.3,719.5 53.6,724.7 55.9,729.2 58.2,729.1 60.5,729.9 62.8,731.5 65.1,730.9 67.4,730.5 69.7,730.5 72.0,732.7 74.2,732.1 76.5,732.2 78.8,730.4 81.1,729.7 83.4,730.5 85.7,732.0 88.0,731.3 90.3,732.3 92.6,733.3 94.9,732.5 97.2,733.2 99.4,733.5 101.7,734.4 104.0,734.8 106.3,732.8 108.6,734.2 110.9,735.5 113.2,733.5 115.5,734.4 117.8,734.5 120.0,734.5 122.3,732.3 124.6,734.2 126.9,733.5 129.2,733.0 131.5,732.6 133.8,731.6 136.1,730.6 138.4,727.8 140.7,727.9 142.9,726.5 145.2,727.9 147.5,729.3 149.8,729.7 152.1,731.3 154.4,728.9 156.7,731.1 159.0,729.6 161.3,730.7 163.6,731.0 165.8,731.6 168.1,731.8 170.4,732.3 172.7,731.9 175.0,731.5 177.3,733.6 179.6,734.0 181.9,732.6 184.2,731.3 186.5,731.6 188.8,733.1 191.0,731.6 193.3,733.3 195.6,733.7 197.9,733.9 200.2,734.9 202.5,732.8 204.8,733.9 207.1,733.8 209.4,734.6 211.6,734.9 213.9,734.5 216.2,734.3 218.5,733.9 220.8,734.8 223.1,733.5 225.4,733.1 227.7,733.3 230.0,734.2 232.3,733.1 234.6,733.7 236.8,733.3 239.1,733.4 241.4,734.8 243.7,734.2 246.0,733.5 248.3,734.9 250.6,733.3 252.9,734.7 255.2,735.8 257.4,734.1 259.7,733.4 262.0,733.2 264.3,734.0 266.6,732.9 268.9,732.6 271.2,732.6 273.5,733.2 275.8,734.0 278.1,734.2 280.4,734.6 282.6,734.5 284.9,732.8 287.2,734.1 289.5,733.1 291.8,733.7 294.1,733.0 296.4,732.0 298.7,733.4 301.0,732.3 303.2,730.8 305.5,723.0 307.8,715.3 310.1,707.0" fill="none" stroke="#63BBCD" stroke-width="1.7" stroke-linejoin="round"/>
<polyline points="51.3,702.3 53.6,701.1 55.9,700.0 58.2,701.9 60.5,705.9 62.8,705.7 65.1,706.7 67.4,706.6 69.7,706.3 72.0,706.7 74.2,705.2 76.5,704.1 78.8,700.3 81.1,698.1 83.4,702.5 85.7,705.6 88.0,707.1 90.3,708.0 92.6,713.0 94.9,716.8 97.2,720.8 99.4,724.9 101.7,725.4 104.0,728.3 106.3,729.8 108.6,733.0 110.9,733.0 113.2,733.4 115.5,733.2 117.8,732.6 120.0,733.4 122.3,731.8 124.6,730.2 126.9,728.9 129.2,727.5 131.5,726.9 133.8,723.7 136.1,721.6 138.4,719.9 140.7,718.7 142.9,713.8 145.2,715.0 147.5,715.5 149.8,715.9 152.1,717.3 154.4,718.8 156.7,718.3 159.0,718.5 161.3,717.7 163.6,719.0 165.8,719.7 168.1,720.4 170.4,719.9 172.7,720.4 175.0,720.8 177.3,719.2 179.6,719.1 181.9,718.4 184.2,719.7 186.5,722.4 188.8,725.7 191.0,729.5 193.3,730.8 195.6,732.1 197.9,733.7 200.2,733.4 202.5,733.1 204.8,734.1 207.1,733.9 209.4,733.3 211.6,734.0 213.9,732.8 216.2,733.7 218.5,733.4 220.8,733.4 223.1,733.5 225.4,733.9 227.7,733.6 230.0,733.5 232.3,732.9 234.6,734.8 236.8,733.8 239.1,733.5 241.4,734.0 243.7,733.2 246.0,733.6 248.3,733.4 250.6,732.4 252.9,732.0 255.2,733.4 257.4,732.8 259.7,733.0 262.0,731.3 264.3,731.9 266.6,733.2 268.9,733.1 271.2,733.0 273.5,733.1 275.8,734.5 278.1,733.7 280.4,734.2 282.6,733.6 284.9,732.9 287.2,732.6 289.5,733.4 291.8,733.6 294.1,734.8 296.4,733.4 298.7,733.0 301.0,733.0 303.2,733.6 305.5,725.0 307.8,714.3 310.1,703.8" fill="none" stroke="#131313" stroke-width="2.2" stroke-linejoin="round"/>
</g>
<rect x="36.0" y="691.4" width="288.3" height="49.9" fill="none" stroke="#9C9C9C" stroke-width="1.0"/>
<line y1="741.3" y2="742.6" x1="62.80" x2="62.80" stroke="#888" stroke-width="0.8"/>
<line y1="741.3" y2="742.6" x1="131.50" x2="131.50" stroke="#888" stroke-width="0.8"/>
<line y1="741.3" y2="742.6" x1="200.20" x2="200.20" stroke="#888" stroke-width="0.8"/>
<line y1="741.3" y2="742.6" x1="268.90" x2="268.90" stroke="#888" stroke-width="0.8"/>
<line x1="33.8" x2="36.0" y1="739.40" y2="739.40" stroke="#9C9C9C" stroke-width="0.8"/>
<text x="32.7" y="742.5" font-size="8.7" text-anchor="end" fill="#3a3a3a" >0.00</text>
<line x1="33.8" x2="36.0" y1="725.34" y2="725.34" stroke="#9C9C9C" stroke-width="0.8"/>
<text x="32.7" y="728.4" font-size="8.7" text-anchor="end" fill="#3a3a3a" >0.20</text>
<line x1="33.8" x2="36.0" y1="711.28" y2="711.28" stroke="#9C9C9C" stroke-width="0.8"/>
<text x="32.7" y="714.4" font-size="8.7" text-anchor="end" fill="#3a3a3a" >0.40</text>
<line x1="33.8" x2="36.0" y1="697.22" y2="697.22" stroke="#9C9C9C" stroke-width="0.8"/>
<text x="32.7" y="700.3" font-size="8.7" text-anchor="end" fill="#3a3a3a" >0.60</text>
<text transform="translate(9.4,716.3) rotate(-90)" font-size="11" text-anchor="middle" fill="#1a1a1a">T<tspan font-size="8" dy="1.3">2</tspan><tspan dy="-1.3"> (s)</tspan></text>
<rect x="36.0" y="744.4" width="288.3" height="54.7" fill="#fff"/>
<line x1="36.0" x2="324.3" y1="789.10" y2="789.10" stroke="#EFEFEF" stroke-width="0.5"/>
<line x1="36.0" x2="324.3" y1="772.10" y2="772.10" stroke="#EFEFEF" stroke-width="0.5"/>
<line x1="36.0" x2="324.3" y1="755.10" y2="755.10" stroke="#EFEFEF" stroke-width="0.5"/>
<line y1="744.4" y2="799.1" x1="97.15" x2="97.15" stroke="#EFEFEF" stroke-width="0.5"/>
<line y1="744.4" y2="799.1" x1="165.85" x2="165.85" stroke="#EFEFEF" stroke-width="0.5"/>
<line y1="744.4" y2="799.1" x1="234.55" x2="234.55" stroke="#EFEFEF" stroke-width="0.5"/>
<line y1="744.4" y2="799.1" x1="303.25" x2="303.25" stroke="#EFEFEF" stroke-width="0.5"/>
<line x1="36.0" x2="324.3" y1="797.60" y2="797.60" stroke="#DEDEDE" stroke-width="0.7"/>
<line x1="36.0" x2="324.3" y1="780.60" y2="780.60" stroke="#DEDEDE" stroke-width="0.7"/>
<line x1="36.0" x2="324.3" y1="763.60" y2="763.60" stroke="#DEDEDE" stroke-width="0.7"/>
<line x1="36.0" x2="324.3" y1="746.60" y2="746.60" stroke="#DEDEDE" stroke-width="0.7"/>
<line y1="744.4" y2="799.1" x1="62.80" x2="62.80" stroke="#DEDEDE" stroke-width="0.7"/>
<line y1="744.4" y2="799.1" x1="131.50" x2="131.50" stroke="#DEDEDE" stroke-width="0.7"/>
<line y1="744.4" y2="799.1" x1="200.20" x2="200.20" stroke="#DEDEDE" stroke-width="0.7"/>
<line y1="744.4" y2="799.1" x1="268.90" x2="268.90" stroke="#DEDEDE" stroke-width="0.7"/>
<clipPath id="ce3"><rect x="36.0" y="744.4" width="288.3" height="54.7"/></clipPath>
<g clip-path="url(#ce3)">
<path d="M54.3 771.8h3.2m-1.6 0v2.4m-1.6 0h3.2M58.9 762.1h3.2m-1.6 0v8.6m-1.6 0h3.2M79.5 755.1h3.2m-1.6 0v7.0m-1.6 0h3.2M93.3 754.2h3.2m-1.6 0v7.0m-1.6 0h3.2M100.1 754.7h3.2m-1.6 0v6.9m-1.6 0h3.2M102.4 756.0h3.2m-1.6 0v6.0m-1.6 0h3.2M107.0 757.6h3.2m-1.6 0v5.1m-1.6 0h3.2M109.3 758.8h3.2m-1.6 0v6.0m-1.6 0h3.2M111.6 757.7h3.2m-1.6 0v6.5m-1.6 0h3.2M113.9 758.4h3.2m-1.6 0v5.9m-1.6 0h3.2M134.5 757.1h3.2m-1.6 0v8.0m-1.6 0h3.2M139.1 756.4h3.2m-1.6 0v6.5m-1.6 0h3.2M143.6 758.0h3.2m-1.6 0v5.7m-1.6 0h3.2M164.2 761.2h3.2m-1.6 0v3.9m-1.6 0h3.2M168.8 760.3h3.2m-1.6 0v3.4m-1.6 0h3.2M175.7 760.2h3.2m-1.6 0v5.1m-1.6 0h3.2M187.2 753.0h3.2m-1.6 0v4.0m-1.6 0h3.2M194.0 752.8h3.2m-1.6 0v7.3m-1.6 0h3.2M200.9 751.4h3.2m-1.6 0v7.2m-1.6 0h3.2M212.3 752.8h3.2m-1.6 0v5.3m-1.6 0h3.2M214.6 752.7h3.2m-1.6 0v4.3m-1.6 0h3.2M239.8 753.9h3.2m-1.6 0v3.5m-1.6 0h3.2M246.7 753.5h3.2m-1.6 0v4.2m-1.6 0h3.2M260.4 751.2h3.2m-1.6 0v6.2m-1.6 0h3.2M276.5 750.8h3.2m-1.6 0v8.5m-1.6 0h3.2M278.8 752.2h3.2m-1.6 0v6.1m-1.6 0h3.2M290.2 752.9h3.2m-1.6 0v3.8m-1.6 0h3.2M292.5 756.2h3.2m-1.6 0v4.3m-1.6 0h3.2M299.4 762.7h3.2m-1.6 0v3.8m-1.6 0h3.2" stroke="#F5241E" stroke-width="0.8" stroke-opacity="0.75" fill="none"/>
<path d="M49.7 794.9h3.2m-1.6 0v2.7m-1.6 0h3.2M52.0 787.4h3.2m-1.6 0v2.5m-1.6 0h3.2M56.6 775.3h3.2m-1.6 0v5.7m-1.6 0h3.2M68.1 767.1h3.2m-1.6 0v5.1m-1.6 0h3.2M77.2 761.8h3.2m-1.6 0v4.5m-1.6 0h3.2M93.3 757.5h3.2m-1.6 0v6.2m-1.6 0h3.2M95.6 757.4h3.2m-1.6 0v6.2m-1.6 0h3.2M129.9 760.3h3.2m-1.6 0v8.5m-1.6 0h3.2M132.2 760.5h3.2m-1.6 0v8.2m-1.6 0h3.2M134.5 762.8h3.2m-1.6 0v5.1m-1.6 0h3.2M141.3 764.4h3.2m-1.6 0v4.6m-1.6 0h3.2M145.9 765.4h3.2m-1.6 0v4.3m-1.6 0h3.2M162.0 762.8h3.2m-1.6 0v6.1m-1.6 0h3.2M164.2 764.3h3.2m-1.6 0v2.2m-1.6 0h3.2M166.5 763.4h3.2m-1.6 0v4.7m-1.6 0h3.2M175.7 761.7h3.2m-1.6 0v5.7m-1.6 0h3.2M184.9 754.5h3.2m-1.6 0v7.5m-1.6 0h3.2M189.4 753.4h3.2m-1.6 0v2.2m-1.6 0h3.2M196.3 751.3h3.2m-1.6 0v8.2m-1.6 0h3.2M200.9 753.6h3.2m-1.6 0v3.9m-1.6 0h3.2M203.2 751.9h3.2m-1.6 0v8.4m-1.6 0h3.2M205.5 752.9h3.2m-1.6 0v5.3m-1.6 0h3.2M210.0 751.7h3.2m-1.6 0v5.4m-1.6 0h3.2M212.3 751.4h3.2m-1.6 0v8.2m-1.6 0h3.2M214.6 753.6h3.2m-1.6 0v4.4m-1.6 0h3.2M216.9 753.1h3.2m-1.6 0v3.7m-1.6 0h3.2M221.5 753.8h3.2m-1.6 0v4.4m-1.6 0h3.2M228.4 751.0h3.2m-1.6 0v7.7m-1.6 0h3.2M230.7 750.2h3.2m-1.6 0v8.1m-1.6 0h3.2M233.0 751.0h3.2m-1.6 0v7.0m-1.6 0h3.2M235.2 752.9h3.2m-1.6 0v3.9m-1.6 0h3.2M239.8 751.9h3.2m-1.6 0v6.0m-1.6 0h3.2M246.7 753.4h3.2m-1.6 0v4.6m-1.6 0h3.2M251.3 751.7h3.2m-1.6 0v6.2m-1.6 0h3.2M258.1 754.0h3.2m-1.6 0v2.7m-1.6 0h3.2M260.4 753.0h3.2m-1.6 0v6.5m-1.6 0h3.2M262.7 753.2h3.2m-1.6 0v5.0m-1.6 0h3.2M276.5 753.6h3.2m-1.6 0v5.6m-1.6 0h3.2M290.2 752.8h3.2m-1.6 0v5.5m-1.6 0h3.2" stroke="#42A07B" stroke-width="0.8" stroke-opacity="0.75" fill="none"/>
<path d="M52.0 783.3h3.2m-1.6 0v7.8m-1.6 0h3.2M54.3 780.2h3.2m-1.6 0v2.7m-1.6 0h3.2M72.7 762.9h3.2m-1.6 0v2.7m-1.6 0h3.2M79.5 759.8h3.2m-1.6 0v2.8m-1.6 0h3.2M88.7 758.4h3.2m-1.6 0v4.4m-1.6 0h3.2M91.0 757.9h3.2m-1.6 0v6.0m-1.6 0h3.2M93.3 758.7h3.2m-1.6 0v6.4m-1.6 0h3.2M104.7 759.5h3.2m-1.6 0v5.9m-1.6 0h3.2M109.3 761.5h3.2m-1.6 0v4.8m-1.6 0h3.2M118.5 760.6h3.2m-1.6 0v4.3m-1.6 0h3.2M123.0 762.8h3.2m-1.6 0v4.5m-1.6 0h3.2M127.6 765.2h3.2m-1.6 0v2.3m-1.6 0h3.2M132.2 766.3h3.2m-1.6 0v7.3m-1.6 0h3.2M136.8 766.9h3.2m-1.6 0v7.0m-1.6 0h3.2M141.3 769.2h3.2m-1.6 0v5.2m-1.6 0h3.2M145.9 768.1h3.2m-1.6 0v5.6m-1.6 0h3.2M159.7 763.5h3.2m-1.6 0v6.9m-1.6 0h3.2M164.2 764.5h3.2m-1.6 0v7.3m-1.6 0h3.2M166.5 763.1h3.2m-1.6 0v7.6m-1.6 0h3.2M171.1 764.2h3.2m-1.6 0v5.1m-1.6 0h3.2M187.2 752.8h3.2m-1.6 0v6.3m-1.6 0h3.2M198.6 751.3h3.2m-1.6 0v6.3m-1.6 0h3.2M203.2 752.4h3.2m-1.6 0v4.3m-1.6 0h3.2M228.4 754.3h3.2m-1.6 0v3.2m-1.6 0h3.2M230.7 756.0h3.2m-1.6 0v2.3m-1.6 0h3.2M246.7 750.6h3.2m-1.6 0v7.4m-1.6 0h3.2M253.6 751.4h3.2m-1.6 0v6.2m-1.6 0h3.2M274.2 750.9h3.2m-1.6 0v7.7m-1.6 0h3.2M278.8 752.7h3.2m-1.6 0v5.9m-1.6 0h3.2M287.9 751.6h3.2m-1.6 0v4.4m-1.6 0h3.2M292.5 755.2h3.2m-1.6 0v3.5m-1.6 0h3.2M294.8 758.6h3.2m-1.6 0v6.0m-1.6 0h3.2M297.1 760.9h3.2m-1.6 0v2.5m-1.6 0h3.2M306.2 782.2h3.2m-1.6 0v5.1m-1.6 0h3.2" stroke="#E2A22E" stroke-width="0.8" stroke-opacity="0.75" fill="none"/>
<path d="M49.7 795.2h3.2m-1.6 0v2.3m-1.6 0h3.2M52.0 783.7h3.2m-1.6 0v4.5m-1.6 0h3.2M56.6 771.6h3.2m-1.6 0v4.8m-1.6 0h3.2M61.2 763.7h3.2m-1.6 0v6.7m-1.6 0h3.2M70.4 760.6h3.2m-1.6 0v7.0m-1.6 0h3.2M84.1 756.0h3.2m-1.6 0v6.2m-1.6 0h3.2M88.7 755.6h3.2m-1.6 0v6.2m-1.6 0h3.2M109.3 757.1h3.2m-1.6 0v8.7m-1.6 0h3.2M111.6 757.5h3.2m-1.6 0v8.3m-1.6 0h3.2M120.7 762.6h3.2m-1.6 0v2.4m-1.6 0h3.2M125.3 764.5h3.2m-1.6 0v2.4m-1.6 0h3.2M127.6 763.7h3.2m-1.6 0v5.1m-1.6 0h3.2M136.8 767.9h3.2m-1.6 0v2.7m-1.6 0h3.2M141.3 769.5h3.2m-1.6 0v3.3m-1.6 0h3.2M148.2 769.9h3.2m-1.6 0v2.3m-1.6 0h3.2M150.5 765.5h3.2m-1.6 0v8.0m-1.6 0h3.2M155.1 766.1h3.2m-1.6 0v6.1m-1.6 0h3.2M157.4 764.5h3.2m-1.6 0v8.1m-1.6 0h3.2M162.0 764.3h3.2m-1.6 0v5.3m-1.6 0h3.2M166.5 763.7h3.2m-1.6 0v5.5m-1.6 0h3.2M171.1 764.2h3.2m-1.6 0v3.2m-1.6 0h3.2M173.4 763.9h3.2m-1.6 0v2.6m-1.6 0h3.2M189.4 752.6h3.2m-1.6 0v5.9m-1.6 0h3.2M191.7 751.5h3.2m-1.6 0v6.3m-1.6 0h3.2M194.0 751.5h3.2m-1.6 0v7.5m-1.6 0h3.2M207.8 752.2h3.2m-1.6 0v5.4m-1.6 0h3.2M219.2 752.4h3.2m-1.6 0v2.6m-1.6 0h3.2M226.1 750.1h3.2m-1.6 0v8.2m-1.6 0h3.2M230.7 752.2h3.2m-1.6 0v7.4m-1.6 0h3.2M237.5 751.7h3.2m-1.6 0v7.1m-1.6 0h3.2M267.3 754.5h3.2m-1.6 0v2.8m-1.6 0h3.2M281.0 751.2h3.2m-1.6 0v8.3m-1.6 0h3.2M290.2 752.5h3.2m-1.6 0v3.5m-1.6 0h3.2M292.5 755.0h3.2m-1.6 0v4.8m-1.6 0h3.2M303.9 775.6h3.2m-1.6 0v3.5m-1.6 0h3.2" stroke="#EC7627" stroke-width="0.8" stroke-opacity="0.75" fill="none"/>
<path d="M54.3 777.5h3.2m-1.6 0v4.0m-1.6 0h3.2M79.5 764.0h3.2m-1.6 0v5.4m-1.6 0h3.2M88.7 759.5h3.2m-1.6 0v8.1m-1.6 0h3.2M93.3 758.9h3.2m-1.6 0v6.9m-1.6 0h3.2M102.4 761.2h3.2m-1.6 0v2.5m-1.6 0h3.2M113.9 762.9h3.2m-1.6 0v3.0m-1.6 0h3.2M118.5 759.9h3.2m-1.6 0v8.2m-1.6 0h3.2M125.3 761.8h3.2m-1.6 0v5.8m-1.6 0h3.2M141.3 765.7h3.2m-1.6 0v2.8m-1.6 0h3.2M150.5 761.2h3.2m-1.6 0v8.3m-1.6 0h3.2M157.4 763.0h3.2m-1.6 0v6.4m-1.6 0h3.2M159.7 765.2h3.2m-1.6 0v2.9m-1.6 0h3.2M164.2 763.1h3.2m-1.6 0v4.0m-1.6 0h3.2M171.1 763.1h3.2m-1.6 0v6.9m-1.6 0h3.2M175.7 764.7h3.2m-1.6 0v2.3m-1.6 0h3.2M178.0 760.9h3.2m-1.6 0v5.8m-1.6 0h3.2M182.6 756.9h3.2m-1.6 0v3.0m-1.6 0h3.2M184.9 755.4h3.2m-1.6 0v6.1m-1.6 0h3.2M194.0 752.6h3.2m-1.6 0v3.3m-1.6 0h3.2M196.3 751.8h3.2m-1.6 0v4.9m-1.6 0h3.2M198.6 752.2h3.2m-1.6 0v5.0m-1.6 0h3.2M216.9 751.3h3.2m-1.6 0v7.0m-1.6 0h3.2M219.2 753.1h3.2m-1.6 0v4.9m-1.6 0h3.2M223.8 751.7h3.2m-1.6 0v7.3m-1.6 0h3.2M230.7 754.0h3.2m-1.6 0v5.3m-1.6 0h3.2M253.6 750.5h3.2m-1.6 0v8.1m-1.6 0h3.2M260.4 752.4h3.2m-1.6 0v4.8m-1.6 0h3.2M265.0 753.6h3.2m-1.6 0v4.8m-1.6 0h3.2M276.5 753.8h3.2m-1.6 0v4.9m-1.6 0h3.2M285.6 752.5h3.2m-1.6 0v6.3m-1.6 0h3.2M290.2 750.9h3.2m-1.6 0v7.5m-1.6 0h3.2M299.4 762.5h3.2m-1.6 0v2.2m-1.6 0h3.2" stroke="#63BBCD" stroke-width="0.8" stroke-opacity="0.75" fill="none"/>
<polyline points="51.3,795.0 53.6,776.7 55.9,773.0 58.2,771.1 60.5,766.4 62.8,762.2 65.1,763.0 67.4,763.2 69.7,762.2 72.0,761.0 74.2,761.0 76.5,762.1 78.8,760.0 81.1,758.7 83.4,758.7 85.7,757.8 88.0,758.5 90.3,758.7 92.6,759.1 94.9,757.7 97.2,758.1 99.4,757.6 101.7,758.1 104.0,759.0 106.3,759.6 108.6,760.1 110.9,761.8 113.2,761.0 115.5,761.4 117.8,761.2 120.0,762.6 122.3,762.2 124.6,762.1 126.9,761.6 129.2,760.8 131.5,760.2 133.8,761.3 136.1,761.2 138.4,759.8 140.7,759.7 142.9,760.3 145.2,760.9 147.5,761.6 149.8,761.8 152.1,762.2 154.4,763.0 156.7,763.3 159.0,762.8 161.3,761.4 163.6,762.2 165.8,763.2 168.1,762.1 170.4,762.1 172.7,762.1 175.0,762.1 177.3,762.7 179.6,760.1 181.9,758.0 184.2,757.7 186.5,756.3 188.8,755.0 191.0,755.0 193.3,754.9 195.6,756.5 197.9,756.2 200.2,755.3 202.5,755.0 204.8,756.4 207.1,755.2 209.4,754.8 211.6,755.8 213.9,755.5 216.2,754.9 218.5,755.9 220.8,755.1 223.1,754.3 225.4,753.4 227.7,753.4 230.0,754.8 232.3,754.1 234.6,755.6 236.8,754.9 239.1,754.6 241.4,755.6 243.7,755.4 246.0,755.6 248.3,755.7 250.6,754.4 252.9,754.7 255.2,754.9 257.4,754.7 259.7,755.0 262.0,754.3 264.3,755.5 266.6,755.7 268.9,755.8 271.2,756.0 273.5,755.7 275.8,755.5 278.1,755.1 280.4,755.2 282.6,755.5 284.9,755.8 287.2,754.4 289.5,754.6 291.8,754.8 294.1,758.3 296.4,761.1 298.7,762.8 301.0,764.6 303.2,766.6 305.5,775.9 307.8,784.8 310.1,794.2" fill="none" stroke="#F5241E" stroke-width="1.7" stroke-linejoin="round"/>
<polyline points="51.3,796.3 53.6,788.7 55.9,781.0 58.2,778.1 60.5,775.0 62.8,773.5 65.1,771.8 67.4,769.6 69.7,769.6 72.0,768.5 74.2,764.1 76.5,764.3 78.8,764.1 81.1,763.7 83.4,763.6 85.7,763.3 88.0,762.4 90.3,762.5 92.6,761.6 94.9,760.6 97.2,760.5 99.4,760.9 101.7,761.2 104.0,760.8 106.3,761.8 108.6,762.4 110.9,762.1 113.2,761.7 115.5,763.2 117.8,762.5 120.0,764.0 122.3,763.2 124.6,763.3 126.9,764.0 129.2,764.1 131.5,764.6 133.8,764.5 136.1,765.3 138.4,765.6 140.7,765.6 142.9,766.7 145.2,768.2 147.5,767.6 149.8,767.5 152.1,766.3 154.4,765.3 156.7,766.5 159.0,765.8 161.3,766.6 163.6,765.8 165.8,765.4 168.1,765.7 170.4,765.5 172.7,765.1 175.0,764.4 177.3,764.5 179.6,763.6 181.9,762.3 184.2,760.0 186.5,758.2 188.8,756.4 191.0,754.5 193.3,754.4 195.6,755.6 197.9,755.4 200.2,754.9 202.5,755.5 204.8,756.1 207.1,755.6 209.4,755.0 211.6,754.3 213.9,755.5 216.2,755.8 218.5,754.9 220.8,754.9 223.1,756.0 225.4,755.4 227.7,755.5 230.0,754.8 232.3,754.3 234.6,754.6 236.8,754.8 239.1,755.0 241.4,754.9 243.7,755.1 246.0,755.8 248.3,755.7 250.6,755.3 252.9,754.7 255.2,754.6 257.4,754.0 259.7,755.3 262.0,756.2 264.3,755.7 266.6,755.0 268.9,756.6 271.2,755.8 273.5,754.5 275.8,756.0 278.1,756.4 280.4,756.8 282.6,756.4 284.9,753.7 287.2,755.8 289.5,755.8 291.8,755.6 294.1,757.6 296.4,759.2 298.7,761.1 301.0,764.9 303.2,766.9 305.5,776.3 307.8,785.9 310.1,794.1" fill="none" stroke="#42A07B" stroke-width="1.7" stroke-linejoin="round"/>
<polyline points="51.3,791.8 53.6,787.2 55.9,781.5 58.2,777.4 60.5,772.4 62.8,767.4 65.1,766.4 67.4,767.0 69.7,766.7 72.0,764.5 74.2,764.2 76.5,763.4 78.8,761.6 81.1,761.2 83.4,760.3 85.7,760.4 88.0,761.1 90.3,760.6 92.6,760.9 94.9,761.9 97.2,762.7 99.4,762.8 101.7,762.5 104.0,762.7 106.3,762.5 108.6,763.7 110.9,763.9 113.2,762.7 115.5,762.5 117.8,762.6 120.0,762.7 122.3,763.4 124.6,765.0 126.9,766.0 129.2,766.3 131.5,767.0 133.8,770.0 136.1,770.5 138.4,770.4 140.7,772.0 142.9,771.8 145.2,771.5 147.5,771.0 149.8,770.0 152.1,771.5 154.4,770.7 156.7,769.7 159.0,769.1 161.3,767.0 163.6,768.0 165.8,768.2 168.1,766.9 170.4,767.2 172.7,766.7 175.0,766.5 177.3,766.1 179.6,764.0 181.9,761.1 184.2,759.5 186.5,758.7 188.8,755.9 191.0,754.9 193.3,754.5 195.6,755.4 197.9,755.1 200.2,754.5 202.5,755.2 204.8,754.5 207.1,755.0 209.4,754.3 211.6,753.8 213.9,754.1 216.2,753.6 218.5,755.1 220.8,754.9 223.1,756.0 225.4,756.6 227.7,754.9 230.0,755.9 232.3,757.2 234.6,756.5 236.8,756.3 239.1,755.8 241.4,755.0 243.7,754.8 246.0,754.5 248.3,754.3 250.6,754.7 252.9,755.1 255.2,754.5 257.4,754.6 259.7,754.7 262.0,755.4 264.3,754.7 266.6,756.4 268.9,756.4 271.2,755.7 273.5,755.5 275.8,754.7 278.1,754.0 280.4,755.7 282.6,755.1 284.9,755.1 287.2,754.1 289.5,753.9 291.8,753.6 294.1,757.0 296.4,761.6 298.7,762.2 301.0,764.9 303.2,766.2 305.5,775.2 307.8,784.7 310.1,795.3" fill="none" stroke="#E2A22E" stroke-width="1.7" stroke-linejoin="round"/>
<polyline points="51.3,796.3 53.6,785.9 55.9,776.6 58.2,774.0 60.5,771.0 62.8,767.0 65.1,767.1 67.4,766.6 69.7,763.8 72.0,764.1 74.2,763.4 76.5,762.9 78.8,762.3 81.1,761.4 83.4,760.5 85.7,759.1 88.0,759.0 90.3,758.7 92.6,758.8 94.9,758.1 97.2,758.6 99.4,758.2 101.7,759.0 104.0,759.4 106.3,760.6 108.6,761.4 110.9,761.5 113.2,761.6 115.5,762.2 117.8,764.3 120.0,764.1 122.3,763.8 124.6,765.1 126.9,765.7 129.2,766.3 131.5,766.9 133.8,769.4 136.1,769.3 138.4,769.3 140.7,771.0 142.9,771.1 145.2,770.3 147.5,771.0 149.8,771.0 152.1,769.5 154.4,769.1 156.7,769.1 159.0,768.5 161.3,770.0 163.6,766.9 165.8,765.8 168.1,766.4 170.4,766.3 172.7,765.8 175.0,765.2 177.3,765.2 179.6,763.9 181.9,761.2 184.2,759.9 186.5,757.3 188.8,755.4 191.0,755.6 193.3,754.7 195.6,755.3 197.9,754.7 200.2,754.4 202.5,754.2 204.8,755.7 207.1,755.3 209.4,755.0 211.6,755.0 213.9,754.6 216.2,754.9 218.5,754.8 220.8,753.7 223.1,754.3 225.4,755.4 227.7,754.2 230.0,753.9 232.3,755.9 234.6,754.7 236.8,755.5 239.1,755.3 241.4,755.3 243.7,755.1 246.0,754.8 248.3,754.1 250.6,755.1 252.9,755.0 255.2,754.6 257.4,755.1 259.7,756.2 262.0,754.9 264.3,755.5 266.6,754.6 268.9,755.9 271.2,754.3 273.5,755.5 275.8,755.7 278.1,754.9 280.4,755.1 282.6,755.4 284.9,754.5 287.2,753.8 289.5,753.4 291.8,754.2 294.1,757.4 296.4,759.7 298.7,762.3 301.0,765.0 303.2,766.2 305.5,777.4 307.8,785.3 310.1,794.2" fill="none" stroke="#EC7627" stroke-width="1.7" stroke-linejoin="round"/>
<polyline points="51.3,795.7 53.6,787.5 55.9,779.5 58.2,777.3 60.5,773.8 62.8,771.1 65.1,770.9 67.4,769.5 69.7,768.6 72.0,767.7 74.2,767.7 76.5,767.4 78.8,767.4 81.1,766.8 83.4,765.5 85.7,764.6 88.0,764.0 90.3,763.5 92.6,763.9 94.9,762.4 97.2,760.9 99.4,762.3 101.7,762.5 104.0,762.4 106.3,763.1 108.6,762.7 110.9,763.9 113.2,763.0 115.5,764.4 117.8,763.7 120.0,764.0 122.3,765.0 124.6,764.6 126.9,764.6 129.2,765.6 131.5,765.1 133.8,766.4 136.1,766.2 138.4,766.4 140.7,767.7 142.9,767.1 145.2,766.5 147.5,766.4 149.8,766.5 152.1,765.3 154.4,765.4 156.7,765.6 159.0,766.2 161.3,766.6 163.6,766.1 165.8,765.1 168.1,764.9 170.4,765.1 172.7,766.5 175.0,764.6 177.3,765.8 179.6,763.8 181.9,761.4 184.2,758.4 186.5,758.4 188.8,756.3 191.0,756.0 193.3,754.6 195.6,754.3 197.9,754.2 200.2,754.7 202.5,754.9 204.8,755.5 207.1,755.1 209.4,754.2 211.6,754.6 213.9,754.6 216.2,755.7 218.5,754.8 220.8,755.6 223.1,756.3 225.4,755.3 227.7,754.6 230.0,756.3 232.3,756.7 234.6,755.4 236.8,754.5 239.1,754.6 241.4,754.3 243.7,753.8 246.0,753.9 248.3,754.2 250.6,755.1 252.9,754.6 255.2,754.6 257.4,754.7 259.7,754.6 262.0,754.8 264.3,754.9 266.6,756.0 268.9,755.7 271.2,756.0 273.5,755.4 275.8,755.8 278.1,756.2 280.4,755.2 282.6,754.0 284.9,755.0 287.2,755.6 289.5,754.8 291.8,754.7 294.1,757.1 296.4,759.1 298.7,761.9 301.0,763.7 303.2,766.3 305.5,775.9 307.8,784.8 310.1,793.2" fill="none" stroke="#63BBCD" stroke-width="1.7" stroke-linejoin="round"/>
<polyline points="55.9,792.7 58.2,791.6 60.5,787.8 62.8,787.7 65.1,787.8 67.4,786.3 69.7,785.0 72.0,781.4 74.2,779.6 76.5,779.7 78.8,780.9 81.1,780.6 83.4,781.7 85.7,781.9 88.0,780.3 90.3,780.4 92.6,779.5 94.9,780.9 97.2,782.0 99.4,777.6 101.7,775.3 104.0,773.4 106.3,772.7 108.6,769.5 110.9,766.6 113.2,763.4 115.5,765.8 117.8,767.4 120.0,767.0 122.3,767.3 124.6,767.0 126.9,769.0 129.2,770.7 131.5,773.0 133.8,775.8 136.1,777.6 138.4,774.3 140.7,775.2 142.9,776.1 145.2,775.2 147.5,775.7 149.8,776.0 152.1,774.9 154.4,775.4 156.7,776.9 159.0,777.8 161.3,776.5 163.6,776.6 165.8,774.4 168.1,773.5 170.4,773.5 172.7,774.0 175.0,772.2 177.3,768.2 179.6,766.1 181.9,762.7 184.2,760.3 186.5,758.0 188.8,753.8 191.0,751.8 193.3,752.3 195.6,749.9 197.9,750.6 200.2,751.4 202.5,751.2 204.8,751.2 207.1,750.9 209.4,750.9 211.6,750.7 213.9,750.4 216.2,751.5 218.5,752.9 220.8,754.0 223.1,753.9 225.4,750.8 227.7,749.9 230.0,752.9 232.3,752.1 234.6,752.3 236.8,750.7 239.1,752.5 241.4,753.2 243.7,751.0 246.0,752.0 248.3,751.1 250.6,750.8 252.9,752.1 255.2,750.9 257.4,753.0 259.7,754.4 262.0,753.5 264.3,751.3 266.6,753.0 268.9,752.1 271.2,750.4 273.5,752.3 275.8,753.3 278.1,754.1 280.4,753.2 282.6,753.0 284.9,751.0 287.2,750.0 289.5,750.3 291.8,750.9 294.1,751.7 296.4,754.2 298.7,760.3 301.0,770.4 303.2,776.8 305.5,782.5 307.8,791.1" fill="none" stroke="#131313" stroke-width="2.2" stroke-linejoin="round"/>
</g>
<rect x="36.0" y="744.4" width="288.3" height="54.7" fill="none" stroke="#9C9C9C" stroke-width="1.0"/>
<line x1="33.8" x2="36.0" y1="797.60" y2="797.60" stroke="#9C9C9C" stroke-width="0.8"/>
<text x="32.7" y="800.7" font-size="8.7" text-anchor="end" fill="#3a3a3a" >-0.50</text>
<line x1="33.8" x2="36.0" y1="780.60" y2="780.60" stroke="#9C9C9C" stroke-width="0.8"/>
<text x="32.7" y="783.7" font-size="8.7" text-anchor="end" fill="#3a3a3a" >0.00</text>
<line x1="33.8" x2="36.0" y1="763.60" y2="763.60" stroke="#9C9C9C" stroke-width="0.8"/>
<text x="32.7" y="766.7" font-size="8.7" text-anchor="end" fill="#3a3a3a" >0.50</text>
<line x1="33.8" x2="36.0" y1="746.60" y2="746.60" stroke="#9C9C9C" stroke-width="0.8"/>
<text x="32.7" y="749.7" font-size="8.7" text-anchor="end" fill="#3a3a3a" >1.00</text>
<text transform="translate(9.4,771.8) rotate(-90)" font-size="11" text-anchor="middle" fill="#1a1a1a">hetNOE</text>
<line y1="799.1" y2="801.3" x1="62.80" x2="62.80" stroke="#9C9C9C" stroke-width="0.8"/>
<text x="62.8" y="808.5" font-size="8.7" text-anchor="middle" fill="#3a3a3a" >150</text>
<line y1="799.1" y2="801.3" x1="131.50" x2="131.50" stroke="#9C9C9C" stroke-width="0.8"/>
<text x="131.5" y="808.5" font-size="8.7" text-anchor="middle" fill="#3a3a3a" >180</text>
<line y1="799.1" y2="801.3" x1="200.20" x2="200.20" stroke="#9C9C9C" stroke-width="0.8"/>
<text x="200.2" y="808.5" font-size="8.7" text-anchor="middle" fill="#3a3a3a" >210</text>
<line y1="799.1" y2="801.3" x1="268.90" x2="268.90" stroke="#9C9C9C" stroke-width="0.8"/>
<text x="268.9" y="808.5" font-size="8.7" text-anchor="middle" fill="#3a3a3a" >240</text>
<text x="180.2" y="819.5" font-size="10.5" text-anchor="middle" fill="#111" >residues</text>
<text transform="translate(16.6,256.2) rotate(-90)" font-size="8.8" text-anchor="middle" fill="#1a1a1a">Difference to experiment</text>
<text x="45.2" y="217.6" font-size="10.8" fill="#111">T<tspan font-size="7.5" dy="2.2">1</tspan><tspan dy="-2.2"> (s)</tspan></text>
<line x1="47.2" x2="56.0" y1="266.5" y2="266.5" stroke="#F5241E" stroke-width="1.4"/>
<circle cx="51.6" cy="263.8" r="1.75" fill="#7A8CC4"/>
<circle cx="51.6" cy="269.3" r="1.75" fill="#D96CC6"/>
<circle cx="51.6" cy="266.5" r="1.75" fill="#97E04C"/>
<circle cx="51.6" cy="266.5" r="1.75" fill="#EE6F4C"/>
<rect x="59.0" y="256.4" width="8.8" height="9.2" fill="#A8DCCB" stroke="#42A07B" stroke-width="0.9"/>
<circle cx="63.4" cy="252.7" r="1.75" fill="#D96CC6"/>
<circle cx="63.4" cy="256.4" r="1.75" fill="#97E04C"/>
<circle cx="63.4" cy="258.2" r="1.75" fill="#7A8CC4"/>
<circle cx="63.4" cy="257.3" r="1.75" fill="#68C498"/>
<rect x="70.8" y="248.0" width="8.8" height="17.6" fill="#EED89B" stroke="#E2A22E" stroke-width="0.9"/>
<circle cx="75.2" cy="246.2" r="1.75" fill="#EE6F4C"/>
<circle cx="75.2" cy="247.1" r="1.75" fill="#97E04C"/>
<circle cx="75.2" cy="252.7" r="1.75" fill="#68C498"/>
<rect x="82.6" y="263.8" width="8.8" height="1.9" fill="#F0C29C" stroke="#EC7627" stroke-width="0.9"/>
<circle cx="87.0" cy="261.9" r="1.75" fill="#97E04C"/>
<circle cx="87.0" cy="265.6" r="1.75" fill="#68C498"/>
<circle cx="87.0" cy="263.8" r="1.75" fill="#EE6F4C"/>
<rect x="94.4" y="258.2" width="8.8" height="7.4" fill="#C2E5EC" stroke="#63BBCD" stroke-width="0.9"/>
<circle cx="98.8" cy="254.5" r="1.75" fill="#97E04C"/>
<circle cx="98.8" cy="261.9" r="1.75" fill="#D96CC6"/>
<circle cx="98.8" cy="259.1" r="1.75" fill="#EE6F4C"/>
<circle cx="98.8" cy="257.3" r="1.75" fill="#7A8CC4"/>
<path d="M44.7 226.3V286.2H105.7" fill="none" stroke="#222" stroke-width="0.9"/>
<line x1="42.5" x2="44.7" y1="228.6" y2="228.6" stroke="#222" stroke-width="0.8"/>
<text x="40.1" y="231.9" font-size="9.2" text-anchor="end" fill="#2a2a2a" >0.40</text>
<line x1="42.5" x2="44.7" y1="247.1" y2="247.1" stroke="#222" stroke-width="0.8"/>
<text x="40.1" y="250.4" font-size="9.2" text-anchor="end" fill="#2a2a2a" >0.20</text>
<line x1="42.5" x2="44.7" y1="265.6" y2="265.6" stroke="#222" stroke-width="0.8"/>
<text x="40.1" y="268.9" font-size="9.2" text-anchor="end" fill="#2a2a2a" >0.00</text>
<line x1="42.5" x2="44.7" y1="284.1" y2="284.1" stroke="#222" stroke-width="0.8"/>
<text x="40.1" y="287.4" font-size="9.2" text-anchor="end" fill="#2a2a2a" >-0.20</text>
<line x1="51.6" x2="51.6" y1="286.2" y2="288.6" stroke="#222" stroke-width="0.8"/>
<line x1="63.4" x2="63.4" y1="286.2" y2="288.6" stroke="#222" stroke-width="0.8"/>
<line x1="75.2" x2="75.2" y1="286.2" y2="288.6" stroke="#222" stroke-width="0.8"/>
<line x1="87.0" x2="87.0" y1="286.2" y2="288.6" stroke="#222" stroke-width="0.8"/>
<line x1="98.8" x2="98.8" y1="286.2" y2="288.6" stroke="#222" stroke-width="0.8"/>
<text transform="translate(121.8,256.2) rotate(-90)" font-size="8.8" text-anchor="middle" fill="#1a1a1a">Difference to experiment</text>
<text x="150.4" y="217.6" font-size="10.8" fill="#111">T<tspan font-size="7.5" dy="2.2">2</tspan><tspan dy="-2.2"> (s)</tspan></text>
<line x1="152.4" x2="161.2" y1="241.3" y2="241.3" stroke="#F5241E" stroke-width="1.4"/>
<circle cx="156.8" cy="238.9" r="1.75" fill="#EE6F4C"/>
<circle cx="156.8" cy="240.6" r="1.75" fill="#97E04C"/>
<circle cx="156.8" cy="243.0" r="1.75" fill="#7A8CC4"/>
<rect x="164.2" y="240.6" width="8.8" height="2.9" fill="#A8DCCB" stroke="#42A07B" stroke-width="0.9"/>
<circle cx="168.6" cy="240.6" r="1.75" fill="#D96CC6"/>
<circle cx="168.6" cy="246.7" r="1.75" fill="#7A8CC4"/>
<circle cx="168.6" cy="251.5" r="1.75" fill="#68C498"/>
<circle cx="168.6" cy="241.8" r="1.75" fill="#97E04C"/>
<rect x="176.0" y="240.6" width="8.8" height="2.9" fill="#EED89B" stroke="#E2A22E" stroke-width="0.9"/>
<circle cx="180.4" cy="249.6" r="1.75" fill="#D96CC6"/>
<circle cx="180.4" cy="243.5" r="1.75" fill="#97E04C"/>
<circle cx="180.4" cy="241.3" r="1.75" fill="#EE6F4C"/>
<line x1="187.8" x2="196.6" y1="239.9" y2="239.9" stroke="#EC7627" stroke-width="1.4"/>
<circle cx="192.2" cy="233.3" r="1.75" fill="#68C498"/>
<circle cx="192.2" cy="237.7" r="1.75" fill="#97E04C"/>
<circle cx="192.2" cy="240.6" r="1.75" fill="#7A8CC4"/>
<circle cx="192.2" cy="247.1" r="1.75" fill="#EE6F4C"/>
<line x1="199.6" x2="208.4" y1="240.1" y2="240.1" stroke="#63BBCD" stroke-width="1.4"/>
<circle cx="204.0" cy="238.2" r="1.75" fill="#97E04C"/>
<circle cx="204.0" cy="243.7" r="1.75" fill="#D96CC6"/>
<path d="M149.9 226.3V286.2H210.9" fill="none" stroke="#222" stroke-width="0.9"/>
<line x1="147.7" x2="149.9" y1="228.5" y2="228.5" stroke="#222" stroke-width="0.8"/>
<text x="145.3" y="231.8" font-size="9.2" text-anchor="end" fill="#2a2a2a" >0.05</text>
<line x1="147.7" x2="149.9" y1="240.6" y2="240.6" stroke="#222" stroke-width="0.8"/>
<text x="145.3" y="243.9" font-size="9.2" text-anchor="end" fill="#2a2a2a" >0.00</text>
<line x1="147.7" x2="149.9" y1="252.7" y2="252.7" stroke="#222" stroke-width="0.8"/>
<text x="145.3" y="256.0" font-size="9.2" text-anchor="end" fill="#2a2a2a" >-0.05</text>
<line x1="147.7" x2="149.9" y1="264.8" y2="264.8" stroke="#222" stroke-width="0.8"/>
<text x="145.3" y="268.1" font-size="9.2" text-anchor="end" fill="#2a2a2a" >-0.10</text>
<line x1="147.7" x2="149.9" y1="276.9" y2="276.9" stroke="#222" stroke-width="0.8"/>
<text x="145.3" y="280.2" font-size="9.2" text-anchor="end" fill="#2a2a2a" >-0.15</text>
<line x1="156.8" x2="156.8" y1="286.2" y2="288.6" stroke="#222" stroke-width="0.8"/>
<line x1="168.6" x2="168.6" y1="286.2" y2="288.6" stroke="#222" stroke-width="0.8"/>
<line x1="180.4" x2="180.4" y1="286.2" y2="288.6" stroke="#222" stroke-width="0.8"/>
<line x1="192.2" x2="192.2" y1="286.2" y2="288.6" stroke="#222" stroke-width="0.8"/>
<line x1="204.0" x2="204.0" y1="286.2" y2="288.6" stroke="#222" stroke-width="0.8"/>
<text transform="translate(227.1,256.2) rotate(-90)" font-size="8.8" text-anchor="middle" fill="#1a1a1a">Difference to experiment</text>
<text x="255.7" y="217.6" font-size="10.8" fill="#111">hetNOE</text>
<rect x="257.7" y="262.2" width="8.8" height="3.1" fill="#EF9198" stroke="#F5241E" stroke-width="0.9"/>
<circle cx="262.1" cy="266.6" r="1.75" fill="#68C498"/>
<circle cx="262.1" cy="267.2" r="1.75" fill="#97E04C"/>
<rect x="269.5" y="262.2" width="8.8" height="3.3" fill="#A8DCCB" stroke="#42A07B" stroke-width="0.9"/>
<circle cx="273.9" cy="267.2" r="1.75" fill="#D96CC6"/>
<circle cx="273.9" cy="266.6" r="1.75" fill="#97E04C"/>
<rect x="281.3" y="262.2" width="8.8" height="3.1" fill="#EED89B" stroke="#E2A22E" stroke-width="0.9"/>
<circle cx="285.7" cy="266.1" r="1.75" fill="#97E04C"/>
<circle cx="285.7" cy="265.5" r="1.75" fill="#68C498"/>
<rect x="293.1" y="262.2" width="8.8" height="3.3" fill="#F0C29C" stroke="#EC7627" stroke-width="0.9"/>
<circle cx="297.5" cy="267.2" r="1.75" fill="#D96CC6"/>
<circle cx="297.5" cy="266.6" r="1.75" fill="#97E04C"/>
<rect x="304.9" y="262.2" width="8.8" height="3.6" fill="#C2E5EC" stroke="#63BBCD" stroke-width="0.9"/>
<circle cx="309.3" cy="266.6" r="1.75" fill="#D96CC6"/>
<circle cx="309.3" cy="267.7" r="1.75" fill="#97E04C"/>
<path d="M255.2 226.3V286.2H316.2" fill="none" stroke="#222" stroke-width="0.9"/>
<line x1="253.0" x2="255.2" y1="229.0" y2="229.0" stroke="#222" stroke-width="0.8"/>
<text x="250.6" y="232.3" font-size="9.2" text-anchor="end" fill="#2a2a2a" >0.30</text>
<line x1="253.0" x2="255.2" y1="240.1" y2="240.1" stroke="#222" stroke-width="0.8"/>
<text x="250.6" y="243.4" font-size="9.2" text-anchor="end" fill="#2a2a2a" >0.20</text>
<line x1="253.0" x2="255.2" y1="251.1" y2="251.1" stroke="#222" stroke-width="0.8"/>
<text x="250.6" y="254.4" font-size="9.2" text-anchor="end" fill="#2a2a2a" >0.10</text>
<line x1="253.0" x2="255.2" y1="262.2" y2="262.2" stroke="#222" stroke-width="0.8"/>
<text x="250.6" y="265.5" font-size="9.2" text-anchor="end" fill="#2a2a2a" >0.00</text>
<line x1="253.0" x2="255.2" y1="273.2" y2="273.2" stroke="#222" stroke-width="0.8"/>
<text x="250.6" y="276.6" font-size="9.2" text-anchor="end" fill="#2a2a2a" >-0.10</text>
<line x1="253.0" x2="255.2" y1="284.3" y2="284.3" stroke="#222" stroke-width="0.8"/>
<text x="250.6" y="287.6" font-size="9.2" text-anchor="end" fill="#2a2a2a" >-0.20</text>
<line x1="262.1" x2="262.1" y1="286.2" y2="288.6" stroke="#222" stroke-width="0.8"/>
<line x1="273.9" x2="273.9" y1="286.2" y2="288.6" stroke="#222" stroke-width="0.8"/>
<line x1="285.7" x2="285.7" y1="286.2" y2="288.6" stroke="#222" stroke-width="0.8"/>
<line x1="297.5" x2="297.5" y1="286.2" y2="288.6" stroke="#222" stroke-width="0.8"/>
<line x1="309.3" x2="309.3" y1="286.2" y2="288.6" stroke="#222" stroke-width="0.8"/>
<text transform="translate(376.4,256.2) rotate(-90)" font-size="8.8" text-anchor="middle" fill="#1a1a1a">Difference to experiment</text>
<text x="405.0" y="217.6" font-size="10.8" fill="#111">T<tspan font-size="7.5" dy="2.2">1</tspan><tspan dy="-2.2"> (s)</tspan></text>
<line x1="407.0" x2="415.8" y1="265.9" y2="265.9" stroke="#F5241E" stroke-width="1.4"/>
<circle cx="411.4" cy="260.1" r="1.75" fill="#68C498"/>
<circle cx="411.4" cy="262.8" r="1.75" fill="#7A8CC4"/>
<circle cx="411.4" cy="265.6" r="1.75" fill="#97E04C"/>
<circle cx="411.4" cy="269.3" r="1.75" fill="#D96CC6"/>
<circle cx="411.4" cy="270.2" r="1.75" fill="#EE6F4C"/>
<rect x="418.8" y="254.5" width="8.8" height="11.1" fill="#A8DCCB" stroke="#42A07B" stroke-width="0.9"/>
<circle cx="423.2" cy="245.3" r="1.75" fill="#EE6F4C"/>
<circle cx="423.2" cy="249.9" r="1.75" fill="#7A8CC4"/>
<circle cx="423.2" cy="256.4" r="1.75" fill="#97E04C"/>
<circle cx="423.2" cy="262.8" r="1.75" fill="#D96CC6"/>
<rect x="430.6" y="249.4" width="8.8" height="16.2" fill="#EED89B" stroke="#E2A22E" stroke-width="0.9"/>
<circle cx="435.0" cy="241.6" r="1.75" fill="#97E04C"/>
<circle cx="435.0" cy="250.8" r="1.75" fill="#68C498"/>
<circle cx="435.0" cy="254.5" r="1.75" fill="#D96CC6"/>
<circle cx="435.0" cy="257.3" r="1.75" fill="#7A8CC4"/>
<rect x="442.4" y="263.8" width="8.8" height="1.9" fill="#F0C29C" stroke="#EC7627" stroke-width="0.9"/>
<circle cx="446.8" cy="261.9" r="1.75" fill="#68C498"/>
<circle cx="446.8" cy="262.8" r="1.75" fill="#97E04C"/>
<circle cx="446.8" cy="264.7" r="1.75" fill="#D96CC6"/>
<rect x="454.2" y="262.4" width="8.8" height="3.2" fill="#C2E5EC" stroke="#63BBCD" stroke-width="0.9"/>
<circle cx="458.6" cy="257.3" r="1.75" fill="#D96CC6"/>
<circle cx="458.6" cy="260.1" r="1.75" fill="#7A8CC4"/>
<circle cx="458.6" cy="263.8" r="1.75" fill="#EE6F4C"/>
<circle cx="458.6" cy="267.5" r="1.75" fill="#97E04C"/>
<path d="M404.5 226.3V286.2H465.5" fill="none" stroke="#222" stroke-width="0.9"/>
<line x1="402.3" x2="404.5" y1="228.6" y2="228.6" stroke="#222" stroke-width="0.8"/>
<text x="399.9" y="231.9" font-size="9.2" text-anchor="end" fill="#2a2a2a" >0.40</text>
<line x1="402.3" x2="404.5" y1="247.1" y2="247.1" stroke="#222" stroke-width="0.8"/>
<text x="399.9" y="250.4" font-size="9.2" text-anchor="end" fill="#2a2a2a" >0.20</text>
<line x1="402.3" x2="404.5" y1="265.6" y2="265.6" stroke="#222" stroke-width="0.8"/>
<text x="399.9" y="268.9" font-size="9.2" text-anchor="end" fill="#2a2a2a" >0.00</text>
<line x1="402.3" x2="404.5" y1="284.1" y2="284.1" stroke="#222" stroke-width="0.8"/>
<text x="399.9" y="287.4" font-size="9.2" text-anchor="end" fill="#2a2a2a" >-0.20</text>
<line x1="411.4" x2="411.4" y1="286.2" y2="288.6" stroke="#222" stroke-width="0.8"/>
<line x1="423.2" x2="423.2" y1="286.2" y2="288.6" stroke="#222" stroke-width="0.8"/>
<line x1="435.0" x2="435.0" y1="286.2" y2="288.6" stroke="#222" stroke-width="0.8"/>
<line x1="446.8" x2="446.8" y1="286.2" y2="288.6" stroke="#222" stroke-width="0.8"/>
<line x1="458.6" x2="458.6" y1="286.2" y2="288.6" stroke="#222" stroke-width="0.8"/>
<text transform="translate(481.6,256.2) rotate(-90)" font-size="8.8" text-anchor="middle" fill="#1a1a1a">Difference to experiment</text>
<text x="510.2" y="217.6" font-size="10.8" fill="#111">T<tspan font-size="7.5" dy="2.2">2</tspan><tspan dy="-2.2"> (s)</tspan></text>
<rect x="512.2" y="240.6" width="8.8" height="1.2" fill="#EF9198" stroke="#F5241E" stroke-width="0.9"/>
<circle cx="516.6" cy="237.7" r="1.75" fill="#EE6F4C"/>
<circle cx="516.6" cy="240.6" r="1.75" fill="#7A8CC4"/>
<circle cx="516.6" cy="244.2" r="1.75" fill="#97E04C"/>
<circle cx="516.6" cy="248.6" r="1.75" fill="#68C498"/>
<rect x="524.0" y="240.6" width="8.8" height="8.0" fill="#A8DCCB" stroke="#42A07B" stroke-width="0.9"/>
<circle cx="528.4" cy="246.7" r="1.75" fill="#D96CC6"/>
<circle cx="528.4" cy="248.6" r="1.75" fill="#97E04C"/>
<circle cx="528.4" cy="249.1" r="1.75" fill="#68C498"/>
<circle cx="528.4" cy="250.8" r="1.75" fill="#EE6F4C"/>
<rect x="535.8" y="240.6" width="8.8" height="8.0" fill="#EED89B" stroke="#E2A22E" stroke-width="0.9"/>
<circle cx="540.2" cy="240.6" r="1.75" fill="#7A8CC4"/>
<circle cx="540.2" cy="245.9" r="1.75" fill="#68C498"/>
<circle cx="540.2" cy="249.1" r="1.75" fill="#D96CC6"/>
<circle cx="540.2" cy="253.9" r="1.75" fill="#97E04C"/>
<rect x="547.6" y="240.6" width="8.8" height="4.6" fill="#F0C29C" stroke="#EC7627" stroke-width="0.9"/>
<circle cx="552.0" cy="244.2" r="1.75" fill="#D96CC6"/>
<circle cx="552.0" cy="245.4" r="1.75" fill="#68C498"/>
<circle cx="552.0" cy="246.7" r="1.75" fill="#97E04C"/>
<circle cx="552.0" cy="249.6" r="1.75" fill="#7A8CC4"/>
<rect x="559.4" y="240.6" width="8.8" height="3.6" fill="#C2E5EC" stroke="#63BBCD" stroke-width="0.9"/>
<circle cx="563.8" cy="243.0" r="1.75" fill="#D96CC6"/>
<circle cx="563.8" cy="247.1" r="1.75" fill="#97E04C"/>
<path d="M509.7 226.3V286.2H570.7" fill="none" stroke="#222" stroke-width="0.9"/>
<line x1="507.5" x2="509.7" y1="228.5" y2="228.5" stroke="#222" stroke-width="0.8"/>
<text x="505.1" y="231.8" font-size="9.2" text-anchor="end" fill="#2a2a2a" >0.05</text>
<line x1="507.5" x2="509.7" y1="240.6" y2="240.6" stroke="#222" stroke-width="0.8"/>
<text x="505.1" y="243.9" font-size="9.2" text-anchor="end" fill="#2a2a2a" >0.00</text>
<line x1="507.5" x2="509.7" y1="252.7" y2="252.7" stroke="#222" stroke-width="0.8"/>
<text x="505.1" y="256.0" font-size="9.2" text-anchor="end" fill="#2a2a2a" >-0.05</text>
<line x1="507.5" x2="509.7" y1="264.8" y2="264.8" stroke="#222" stroke-width="0.8"/>
<text x="505.1" y="268.1" font-size="9.2" text-anchor="end" fill="#2a2a2a" >-0.10</text>
<line x1="507.5" x2="509.7" y1="276.9" y2="276.9" stroke="#222" stroke-width="0.8"/>
<text x="505.1" y="280.2" font-size="9.2" text-anchor="end" fill="#2a2a2a" >-0.15</text>
<line x1="516.6" x2="516.6" y1="286.2" y2="288.6" stroke="#222" stroke-width="0.8"/>
<line x1="528.4" x2="528.4" y1="286.2" y2="288.6" stroke="#222" stroke-width="0.8"/>
<line x1="540.2" x2="540.2" y1="286.2" y2="288.6" stroke="#222" stroke-width="0.8"/>
<line x1="552.0" x2="552.0" y1="286.2" y2="288.6" stroke="#222" stroke-width="0.8"/>
<line x1="563.8" x2="563.8" y1="286.2" y2="288.6" stroke="#222" stroke-width="0.8"/>
<text transform="translate(586.9,256.2) rotate(-90)" font-size="8.8" text-anchor="middle" fill="#1a1a1a">Difference to experiment</text>
<text x="615.5" y="217.6" font-size="10.8" fill="#111">hetNOE</text>
<rect x="617.5" y="262.2" width="8.8" height="2.2" fill="#EF9198" stroke="#F5241E" stroke-width="0.9"/>
<circle cx="621.9" cy="263.9" r="1.75" fill="#97E04C"/>
<circle cx="621.9" cy="265.5" r="1.75" fill="#7A8CC4"/>
<rect x="629.3" y="262.2" width="8.8" height="1.7" fill="#A8DCCB" stroke="#42A07B" stroke-width="0.9"/>
<circle cx="633.7" cy="263.3" r="1.75" fill="#D96CC6"/>
<circle cx="633.7" cy="263.9" r="1.75" fill="#97E04C"/>
<circle cx="633.7" cy="264.4" r="1.75" fill="#EE6F4C"/>
<rect x="641.1" y="262.2" width="8.8" height="3.9" fill="#EED89B" stroke="#E2A22E" stroke-width="0.9"/>
<circle cx="645.5" cy="264.4" r="1.75" fill="#D96CC6"/>
<circle cx="645.5" cy="267.2" r="1.75" fill="#97E04C"/>
<rect x="652.9" y="262.2" width="8.8" height="6.1" fill="#F0C29C" stroke="#EC7627" stroke-width="0.9"/>
<circle cx="657.3" cy="266.1" r="1.75" fill="#97E04C"/>
<circle cx="657.3" cy="267.7" r="1.75" fill="#D96CC6"/>
<rect x="664.7" y="262.2" width="8.8" height="4.4" fill="#C2E5EC" stroke="#63BBCD" stroke-width="0.9"/>
<circle cx="669.1" cy="263.9" r="1.75" fill="#97E04C"/>
<circle cx="669.1" cy="266.6" r="1.75" fill="#D96CC6"/>
<circle cx="669.1" cy="269.9" r="1.75" fill="#EE6F4C"/>
<path d="M615.0 226.3V286.2H676.0" fill="none" stroke="#222" stroke-width="0.9"/>
<line x1="612.8" x2="615.0" y1="229.0" y2="229.0" stroke="#222" stroke-width="0.8"/>
<text x="610.4" y="232.3" font-size="9.2" text-anchor="end" fill="#2a2a2a" >0.30</text>
<line x1="612.8" x2="615.0" y1="240.1" y2="240.1" stroke="#222" stroke-width="0.8"/>
<text x="610.4" y="243.4" font-size="9.2" text-anchor="end" fill="#2a2a2a" >0.20</text>
<line x1="612.8" x2="615.0" y1="251.1" y2="251.1" stroke="#222" stroke-width="0.8"/>
<text x="610.4" y="254.4" font-size="9.2" text-anchor="end" fill="#2a2a2a" >0.10</text>
<line x1="612.8" x2="615.0" y1="262.2" y2="262.2" stroke="#222" stroke-width="0.8"/>
<text x="610.4" y="265.5" font-size="9.2" text-anchor="end" fill="#2a2a2a" >0.00</text>
<line x1="612.8" x2="615.0" y1="273.2" y2="273.2" stroke="#222" stroke-width="0.8"/>
<text x="610.4" y="276.6" font-size="9.2" text-anchor="end" fill="#2a2a2a" >-0.10</text>
<line x1="612.8" x2="615.0" y1="284.3" y2="284.3" stroke="#222" stroke-width="0.8"/>
<text x="610.4" y="287.6" font-size="9.2" text-anchor="end" fill="#2a2a2a" >-0.20</text>
<line x1="621.9" x2="621.9" y1="286.2" y2="288.6" stroke="#222" stroke-width="0.8"/>
<line x1="633.7" x2="633.7" y1="286.2" y2="288.6" stroke="#222" stroke-width="0.8"/>
<line x1="645.5" x2="645.5" y1="286.2" y2="288.6" stroke="#222" stroke-width="0.8"/>
<line x1="657.3" x2="657.3" y1="286.2" y2="288.6" stroke="#222" stroke-width="0.8"/>
<line x1="669.1" x2="669.1" y1="286.2" y2="288.6" stroke="#222" stroke-width="0.8"/>
<text transform="translate(16.6,564.5) rotate(-90)" font-size="8.8" text-anchor="middle" fill="#1a1a1a">Difference to experiment</text>
<text x="45.2" y="525.9" font-size="10.8" fill="#111">T<tspan font-size="7.5" dy="2.2">1</tspan><tspan dy="-2.2"> (s)</tspan></text>
<rect x="47.2" y="573.9" width="8.8" height="5.1" fill="#EF9198" stroke="#F5241E" stroke-width="0.9"/>
<circle cx="51.6" cy="572.1" r="1.75" fill="#68C498"/>
<circle cx="51.6" cy="577.6" r="1.75" fill="#D96CC6"/>
<circle cx="51.6" cy="578.5" r="1.75" fill="#EE6F4C"/>
<circle cx="51.6" cy="584.1" r="1.75" fill="#97E04C"/>
<rect x="59.0" y="570.4" width="8.8" height="3.5" fill="#A8DCCB" stroke="#42A07B" stroke-width="0.9"/>
<circle cx="63.4" cy="561.9" r="1.75" fill="#D96CC6"/>
<circle cx="63.4" cy="565.6" r="1.75" fill="#68C498"/>
<circle cx="63.4" cy="572.1" r="1.75" fill="#EE6F4C"/>
<circle cx="63.4" cy="573.9" r="1.75" fill="#7A8CC4"/>
<circle cx="63.4" cy="579.5" r="1.75" fill="#97E04C"/>
<rect x="70.8" y="567.8" width="8.8" height="6.1" fill="#EED89B" stroke="#E2A22E" stroke-width="0.9"/>
<circle cx="75.2" cy="547.1" r="1.75" fill="#D96CC6"/>
<circle cx="75.2" cy="570.2" r="1.75" fill="#7A8CC4"/>
<circle cx="75.2" cy="575.8" r="1.75" fill="#97E04C"/>
<circle cx="75.2" cy="576.7" r="1.75" fill="#68C498"/>
<rect x="82.6" y="573.9" width="8.8" height="9.2" fill="#F0C29C" stroke="#EC7627" stroke-width="0.9"/>
<circle cx="87.0" cy="573.9" r="1.75" fill="#EE6F4C"/>
<circle cx="87.0" cy="575.8" r="1.75" fill="#68C498"/>
<circle cx="87.0" cy="588.7" r="1.75" fill="#97E04C"/>
<circle cx="87.0" cy="590.6" r="1.75" fill="#D96CC6"/>
<rect x="94.4" y="573.9" width="8.8" height="6.8" fill="#C2E5EC" stroke="#63BBCD" stroke-width="0.9"/>
<circle cx="98.8" cy="575.8" r="1.75" fill="#68C498"/>
<circle cx="98.8" cy="577.6" r="1.75" fill="#EE6F4C"/>
<circle cx="98.8" cy="579.5" r="1.75" fill="#7A8CC4"/>
<circle cx="98.8" cy="585.0" r="1.75" fill="#97E04C"/>
<circle cx="98.8" cy="586.4" r="1.75" fill="#D96CC6"/>
<path d="M44.7 534.6V594.5H105.7" fill="none" stroke="#222" stroke-width="0.9"/>
<line x1="42.5" x2="44.7" y1="536.9" y2="536.9" stroke="#222" stroke-width="0.8"/>
<text x="40.1" y="540.2" font-size="9.2" text-anchor="end" fill="#2a2a2a" >0.40</text>
<line x1="42.5" x2="44.7" y1="555.4" y2="555.4" stroke="#222" stroke-width="0.8"/>
<text x="40.1" y="558.7" font-size="9.2" text-anchor="end" fill="#2a2a2a" >0.20</text>
<line x1="42.5" x2="44.7" y1="573.9" y2="573.9" stroke="#222" stroke-width="0.8"/>
<text x="40.1" y="577.2" font-size="9.2" text-anchor="end" fill="#2a2a2a" >0.00</text>
<line x1="42.5" x2="44.7" y1="592.4" y2="592.4" stroke="#222" stroke-width="0.8"/>
<text x="40.1" y="595.7" font-size="9.2" text-anchor="end" fill="#2a2a2a" >-0.20</text>
<line x1="51.6" x2="51.6" y1="594.5" y2="596.9" stroke="#222" stroke-width="0.8"/>
<line x1="63.4" x2="63.4" y1="594.5" y2="596.9" stroke="#222" stroke-width="0.8"/>
<line x1="75.2" x2="75.2" y1="594.5" y2="596.9" stroke="#222" stroke-width="0.8"/>
<line x1="87.0" x2="87.0" y1="594.5" y2="596.9" stroke="#222" stroke-width="0.8"/>
<line x1="98.8" x2="98.8" y1="594.5" y2="596.9" stroke="#222" stroke-width="0.8"/>
<text transform="translate(121.8,564.5) rotate(-90)" font-size="8.8" text-anchor="middle" fill="#1a1a1a">Difference to experiment</text>
<text x="150.4" y="525.9" font-size="10.8" fill="#111">T<tspan font-size="7.5" dy="2.2">2</tspan><tspan dy="-2.2"> (s)</tspan></text>
<rect x="152.4" y="548.9" width="8.8" height="10.9" fill="#EF9198" stroke="#F5241E" stroke-width="0.9"/>
<circle cx="156.8" cy="557.4" r="1.75" fill="#7A8CC4"/>
<circle cx="156.8" cy="561.0" r="1.75" fill="#97E04C"/>
<circle cx="156.8" cy="562.2" r="1.75" fill="#68C498"/>
<rect x="164.2" y="548.9" width="8.8" height="10.9" fill="#A8DCCB" stroke="#42A07B" stroke-width="0.9"/>
<circle cx="168.6" cy="558.6" r="1.75" fill="#97E04C"/>
<circle cx="168.6" cy="562.2" r="1.75" fill="#D96CC6"/>
<rect x="176.0" y="548.9" width="8.8" height="9.7" fill="#EED89B" stroke="#E2A22E" stroke-width="0.9"/>
<circle cx="180.4" cy="557.4" r="1.75" fill="#68C498"/>
<circle cx="180.4" cy="557.4" r="1.75" fill="#97E04C"/>
<circle cx="180.4" cy="560.3" r="1.75" fill="#D96CC6"/>
<rect x="187.8" y="548.9" width="8.8" height="10.4" fill="#F0C29C" stroke="#EC7627" stroke-width="0.9"/>
<circle cx="192.2" cy="558.6" r="1.75" fill="#D96CC6"/>
<circle cx="192.2" cy="559.8" r="1.75" fill="#97E04C"/>
<circle cx="192.2" cy="561.5" r="1.75" fill="#68C498"/>
<rect x="199.6" y="548.9" width="8.8" height="9.0" fill="#C2E5EC" stroke="#63BBCD" stroke-width="0.9"/>
<circle cx="204.0" cy="554.9" r="1.75" fill="#D96CC6"/>
<circle cx="204.0" cy="556.6" r="1.75" fill="#97E04C"/>
<circle cx="204.0" cy="558.6" r="1.75" fill="#7A8CC4"/>
<circle cx="204.0" cy="561.0" r="1.75" fill="#68C498"/>
<path d="M149.9 534.6V594.5H210.9" fill="none" stroke="#222" stroke-width="0.9"/>
<line x1="147.7" x2="149.9" y1="536.8" y2="536.8" stroke="#222" stroke-width="0.8"/>
<text x="145.3" y="540.1" font-size="9.2" text-anchor="end" fill="#2a2a2a" >0.05</text>
<line x1="147.7" x2="149.9" y1="548.9" y2="548.9" stroke="#222" stroke-width="0.8"/>
<text x="145.3" y="552.2" font-size="9.2" text-anchor="end" fill="#2a2a2a" >0.00</text>
<line x1="147.7" x2="149.9" y1="561.0" y2="561.0" stroke="#222" stroke-width="0.8"/>
<text x="145.3" y="564.3" font-size="9.2" text-anchor="end" fill="#2a2a2a" >-0.05</text>
<line x1="147.7" x2="149.9" y1="573.1" y2="573.1" stroke="#222" stroke-width="0.8"/>
<text x="145.3" y="576.4" font-size="9.2" text-anchor="end" fill="#2a2a2a" >-0.10</text>
<line x1="147.7" x2="149.9" y1="585.2" y2="585.2" stroke="#222" stroke-width="0.8"/>
<text x="145.3" y="588.5" font-size="9.2" text-anchor="end" fill="#2a2a2a" >-0.15</text>
<line x1="156.8" x2="156.8" y1="594.5" y2="596.9" stroke="#222" stroke-width="0.8"/>
<line x1="168.6" x2="168.6" y1="594.5" y2="596.9" stroke="#222" stroke-width="0.8"/>
<line x1="180.4" x2="180.4" y1="594.5" y2="596.9" stroke="#222" stroke-width="0.8"/>
<line x1="192.2" x2="192.2" y1="594.5" y2="596.9" stroke="#222" stroke-width="0.8"/>
<line x1="204.0" x2="204.0" y1="594.5" y2="596.9" stroke="#222" stroke-width="0.8"/>
<text transform="translate(227.1,564.5) rotate(-90)" font-size="8.8" text-anchor="middle" fill="#1a1a1a">Difference to experiment</text>
<text x="255.7" y="525.9" font-size="10.8" fill="#111">hetNOE</text>
<rect x="257.7" y="570.5" width="8.8" height="5.5" fill="#EF9198" stroke="#F5241E" stroke-width="0.9"/>
<circle cx="262.1" cy="571.6" r="1.75" fill="#97E04C"/>
<circle cx="262.1" cy="573.8" r="1.75" fill="#D96CC6"/>
<circle cx="262.1" cy="577.1" r="1.75" fill="#7A8CC4"/>
<circle cx="262.1" cy="582.1" r="1.75" fill="#68C498"/>
<rect x="269.5" y="570.5" width="8.8" height="11.4" fill="#A8DCCB" stroke="#42A07B" stroke-width="0.9"/>
<circle cx="273.9" cy="576.0" r="1.75" fill="#EE6F4C"/>
<circle cx="273.9" cy="578.2" r="1.75" fill="#7A8CC4"/>
<circle cx="273.9" cy="582.7" r="1.75" fill="#97E04C"/>
<circle cx="273.9" cy="585.4" r="1.75" fill="#D96CC6"/>
<rect x="281.3" y="570.5" width="8.8" height="14.4" fill="#EED89B" stroke="#E2A22E" stroke-width="0.9"/>
<circle cx="285.7" cy="580.4" r="1.75" fill="#68C498"/>
<circle cx="285.7" cy="583.8" r="1.75" fill="#EE6F4C"/>
<circle cx="285.7" cy="584.9" r="1.75" fill="#97E04C"/>
<circle cx="285.7" cy="587.1" r="1.75" fill="#D96CC6"/>
<rect x="293.1" y="570.5" width="8.8" height="11.4" fill="#F0C29C" stroke="#EC7627" stroke-width="0.9"/>
<circle cx="297.5" cy="577.1" r="1.75" fill="#68C498"/>
<circle cx="297.5" cy="579.3" r="1.75" fill="#D96CC6"/>
<circle cx="297.5" cy="580.4" r="1.75" fill="#7A8CC4"/>
<circle cx="297.5" cy="584.9" r="1.75" fill="#97E04C"/>
<circle cx="297.5" cy="588.2" r="1.75" fill="#EE6F4C"/>
<rect x="304.9" y="570.5" width="8.8" height="14.0" fill="#C2E5EC" stroke="#63BBCD" stroke-width="0.9"/>
<circle cx="309.3" cy="581.5" r="1.75" fill="#D96CC6"/>
<circle cx="309.3" cy="583.8" r="1.75" fill="#68C498"/>
<circle cx="309.3" cy="583.8" r="1.75" fill="#97E04C"/>
<circle cx="309.3" cy="586.5" r="1.75" fill="#7A8CC4"/>
<path d="M255.2 534.6V594.5H316.2" fill="none" stroke="#222" stroke-width="0.9"/>
<line x1="253.0" x2="255.2" y1="537.4" y2="537.4" stroke="#222" stroke-width="0.8"/>
<text x="250.6" y="540.6" font-size="9.2" text-anchor="end" fill="#2a2a2a" >0.30</text>
<line x1="253.0" x2="255.2" y1="548.4" y2="548.4" stroke="#222" stroke-width="0.8"/>
<text x="250.6" y="551.7" font-size="9.2" text-anchor="end" fill="#2a2a2a" >0.20</text>
<line x1="253.0" x2="255.2" y1="559.5" y2="559.5" stroke="#222" stroke-width="0.8"/>
<text x="250.6" y="562.8" font-size="9.2" text-anchor="end" fill="#2a2a2a" >0.10</text>
<line x1="253.0" x2="255.2" y1="570.5" y2="570.5" stroke="#222" stroke-width="0.8"/>
<text x="250.6" y="573.8" font-size="9.2" text-anchor="end" fill="#2a2a2a" >0.00</text>
<line x1="253.0" x2="255.2" y1="581.5" y2="581.5" stroke="#222" stroke-width="0.8"/>
<text x="250.6" y="584.8" font-size="9.2" text-anchor="end" fill="#2a2a2a" >-0.10</text>
<line x1="253.0" x2="255.2" y1="592.6" y2="592.6" stroke="#222" stroke-width="0.8"/>
<text x="250.6" y="595.9" font-size="9.2" text-anchor="end" fill="#2a2a2a" >-0.20</text>
<line x1="262.1" x2="262.1" y1="594.5" y2="596.9" stroke="#222" stroke-width="0.8"/>
<line x1="273.9" x2="273.9" y1="594.5" y2="596.9" stroke="#222" stroke-width="0.8"/>
<line x1="285.7" x2="285.7" y1="594.5" y2="596.9" stroke="#222" stroke-width="0.8"/>
<line x1="297.5" x2="297.5" y1="594.5" y2="596.9" stroke="#222" stroke-width="0.8"/>
<line x1="309.3" x2="309.3" y1="594.5" y2="596.9" stroke="#222" stroke-width="0.8"/>
<text transform="translate(376.4,564.5) rotate(-90)" font-size="8.8" text-anchor="middle" fill="#1a1a1a">Difference to experiment</text>
<text x="405.0" y="525.9" font-size="10.8" fill="#111">T<tspan font-size="7.5" dy="2.2">1</tspan><tspan dy="-2.2"> (s)</tspan></text>
<rect x="407.0" y="573.9" width="8.8" height="4.6" fill="#EF9198" stroke="#F5241E" stroke-width="0.9"/>
<circle cx="411.4" cy="576.7" r="1.75" fill="#D96CC6"/>
<circle cx="411.4" cy="578.5" r="1.75" fill="#97E04C"/>
<circle cx="411.4" cy="583.2" r="1.75" fill="#7A8CC4"/>
<line x1="418.8" x2="427.6" y1="573.4" y2="573.4" stroke="#42A07B" stroke-width="1.4"/>
<circle cx="423.2" cy="568.4" r="1.75" fill="#7A8CC4"/>
<circle cx="423.2" cy="570.2" r="1.75" fill="#97E04C"/>
<circle cx="423.2" cy="573.9" r="1.75" fill="#D96CC6"/>
<circle cx="423.2" cy="576.7" r="1.75" fill="#68C498"/>
<rect x="430.6" y="571.1" width="8.8" height="2.8" fill="#EED89B" stroke="#E2A22E" stroke-width="0.9"/>
<circle cx="435.0" cy="568.4" r="1.75" fill="#D96CC6"/>
<circle cx="435.0" cy="570.2" r="1.75" fill="#68C498"/>
<circle cx="435.0" cy="571.1" r="1.75" fill="#97E04C"/>
<circle cx="435.0" cy="574.8" r="1.75" fill="#7A8CC4"/>
<rect x="442.4" y="573.9" width="8.8" height="4.2" fill="#F0C29C" stroke="#EC7627" stroke-width="0.9"/>
<circle cx="446.8" cy="573.9" r="1.75" fill="#7A8CC4"/>
<circle cx="446.8" cy="575.8" r="1.75" fill="#97E04C"/>
<circle cx="446.8" cy="575.8" r="1.75" fill="#D96CC6"/>
<circle cx="446.8" cy="582.2" r="1.75" fill="#EE6F4C"/>
<rect x="454.2" y="573.9" width="8.8" height="2.3" fill="#C2E5EC" stroke="#63BBCD" stroke-width="0.9"/>
<circle cx="458.6" cy="564.7" r="1.75" fill="#D96CC6"/>
<circle cx="458.6" cy="573.0" r="1.75" fill="#7A8CC4"/>
<circle cx="458.6" cy="581.3" r="1.75" fill="#97E04C"/>
<circle cx="458.6" cy="582.2" r="1.75" fill="#EE6F4C"/>
<path d="M404.5 534.6V594.5H465.5" fill="none" stroke="#222" stroke-width="0.9"/>
<line x1="402.3" x2="404.5" y1="536.9" y2="536.9" stroke="#222" stroke-width="0.8"/>
<text x="399.9" y="540.2" font-size="9.2" text-anchor="end" fill="#2a2a2a" >0.40</text>
<line x1="402.3" x2="404.5" y1="555.4" y2="555.4" stroke="#222" stroke-width="0.8"/>
<text x="399.9" y="558.7" font-size="9.2" text-anchor="end" fill="#2a2a2a" >0.20</text>
<line x1="402.3" x2="404.5" y1="573.9" y2="573.9" stroke="#222" stroke-width="0.8"/>
<text x="399.9" y="577.2" font-size="9.2" text-anchor="end" fill="#2a2a2a" >0.00</text>
<line x1="402.3" x2="404.5" y1="592.4" y2="592.4" stroke="#222" stroke-width="0.8"/>
<text x="399.9" y="595.7" font-size="9.2" text-anchor="end" fill="#2a2a2a" >-0.20</text>
<line x1="411.4" x2="411.4" y1="594.5" y2="596.9" stroke="#222" stroke-width="0.8"/>
<line x1="423.2" x2="423.2" y1="594.5" y2="596.9" stroke="#222" stroke-width="0.8"/>
<line x1="435.0" x2="435.0" y1="594.5" y2="596.9" stroke="#222" stroke-width="0.8"/>
<line x1="446.8" x2="446.8" y1="594.5" y2="596.9" stroke="#222" stroke-width="0.8"/>
<line x1="458.6" x2="458.6" y1="594.5" y2="596.9" stroke="#222" stroke-width="0.8"/>
<text transform="translate(481.6,564.5) rotate(-90)" font-size="8.8" text-anchor="middle" fill="#1a1a1a">Difference to experiment</text>
<text x="510.2" y="525.9" font-size="10.8" fill="#111">T<tspan font-size="7.5" dy="2.2">2</tspan><tspan dy="-2.2"> (s)</tspan></text>
<rect x="512.2" y="544.5" width="8.8" height="4.4" fill="#EF9198" stroke="#F5241E" stroke-width="0.9"/>
<circle cx="516.6" cy="540.4" r="1.75" fill="#7A8CC4"/>
<circle cx="516.6" cy="545.3" r="1.75" fill="#97E04C"/>
<circle cx="516.6" cy="546.5" r="1.75" fill="#68C498"/>
<circle cx="516.6" cy="551.3" r="1.75" fill="#EE6F4C"/>
<rect x="524.0" y="546.0" width="8.8" height="2.9" fill="#A8DCCB" stroke="#42A07B" stroke-width="0.9"/>
<circle cx="528.4" cy="542.9" r="1.75" fill="#7A8CC4"/>
<circle cx="528.4" cy="544.1" r="1.75" fill="#97E04C"/>
<circle cx="528.4" cy="546.5" r="1.75" fill="#EE6F4C"/>
<circle cx="528.4" cy="548.9" r="1.75" fill="#D96CC6"/>
<rect x="535.8" y="547.0" width="8.8" height="1.9" fill="#EED89B" stroke="#E2A22E" stroke-width="0.9"/>
<circle cx="540.2" cy="544.1" r="1.75" fill="#7A8CC4"/>
<circle cx="540.2" cy="546.5" r="1.75" fill="#97E04C"/>
<circle cx="540.2" cy="550.1" r="1.75" fill="#D96CC6"/>
<rect x="547.6" y="540.4" width="8.8" height="8.5" fill="#F0C29C" stroke="#EC7627" stroke-width="0.9"/>
<circle cx="552.0" cy="538.0" r="1.75" fill="#D96CC6"/>
<circle cx="552.0" cy="541.6" r="1.75" fill="#68C498"/>
<circle cx="552.0" cy="542.9" r="1.75" fill="#97E04C"/>
<rect x="559.4" y="542.1" width="8.8" height="6.8" fill="#C2E5EC" stroke="#63BBCD" stroke-width="0.9"/>
<circle cx="563.8" cy="537.3" r="1.75" fill="#97E04C"/>
<circle cx="563.8" cy="541.6" r="1.75" fill="#EE6F4C"/>
<circle cx="563.8" cy="546.5" r="1.75" fill="#D96CC6"/>
<circle cx="563.8" cy="548.9" r="1.75" fill="#7A8CC4"/>
<path d="M509.7 534.6V594.5H570.7" fill="none" stroke="#222" stroke-width="0.9"/>
<line x1="507.5" x2="509.7" y1="536.8" y2="536.8" stroke="#222" stroke-width="0.8"/>
<text x="505.1" y="540.1" font-size="9.2" text-anchor="end" fill="#2a2a2a" >0.05</text>
<line x1="507.5" x2="509.7" y1="548.9" y2="548.9" stroke="#222" stroke-width="0.8"/>
<text x="505.1" y="552.2" font-size="9.2" text-anchor="end" fill="#2a2a2a" >0.00</text>
<line x1="507.5" x2="509.7" y1="561.0" y2="561.0" stroke="#222" stroke-width="0.8"/>
<text x="505.1" y="564.3" font-size="9.2" text-anchor="end" fill="#2a2a2a" >-0.05</text>
<line x1="507.5" x2="509.7" y1="573.1" y2="573.1" stroke="#222" stroke-width="0.8"/>
<text x="505.1" y="576.4" font-size="9.2" text-anchor="end" fill="#2a2a2a" >-0.10</text>
<line x1="507.5" x2="509.7" y1="585.2" y2="585.2" stroke="#222" stroke-width="0.8"/>
<text x="505.1" y="588.5" font-size="9.2" text-anchor="end" fill="#2a2a2a" >-0.15</text>
<line x1="516.6" x2="516.6" y1="594.5" y2="596.9" stroke="#222" stroke-width="0.8"/>
<line x1="528.4" x2="528.4" y1="594.5" y2="596.9" stroke="#222" stroke-width="0.8"/>
<line x1="540.2" x2="540.2" y1="594.5" y2="596.9" stroke="#222" stroke-width="0.8"/>
<line x1="552.0" x2="552.0" y1="594.5" y2="596.9" stroke="#222" stroke-width="0.8"/>
<line x1="563.8" x2="563.8" y1="594.5" y2="596.9" stroke="#222" stroke-width="0.8"/>
<text transform="translate(586.9,564.5) rotate(-90)" font-size="8.8" text-anchor="middle" fill="#1a1a1a">Difference to experiment</text>
<text x="615.5" y="525.9" font-size="10.8" fill="#111">hetNOE</text>
<line x1="617.5" x2="626.3" y1="571.1" y2="571.1" stroke="#F5241E" stroke-width="1.4"/>
<circle cx="621.9" cy="568.3" r="1.75" fill="#7A8CC4"/>
<circle cx="621.9" cy="571.1" r="1.75" fill="#D96CC6"/>
<circle cx="621.9" cy="572.2" r="1.75" fill="#97E04C"/>
<circle cx="621.9" cy="573.3" r="1.75" fill="#68C498"/>
<rect x="629.3" y="570.5" width="8.8" height="8.2" fill="#A8DCCB" stroke="#42A07B" stroke-width="0.9"/>
<circle cx="633.7" cy="574.9" r="1.75" fill="#D96CC6"/>
<circle cx="633.7" cy="576.6" r="1.75" fill="#97E04C"/>
<rect x="641.1" y="570.5" width="8.8" height="12.4" fill="#EED89B" stroke="#E2A22E" stroke-width="0.9"/>
<circle cx="645.5" cy="577.1" r="1.75" fill="#97E04C"/>
<circle cx="645.5" cy="581.5" r="1.75" fill="#7A8CC4"/>
<rect x="652.9" y="570.5" width="8.8" height="13.3" fill="#F0C29C" stroke="#EC7627" stroke-width="0.9"/>
<circle cx="657.3" cy="572.7" r="1.75" fill="#68C498"/>
<circle cx="657.3" cy="574.4" r="1.75" fill="#EE6F4C"/>
<circle cx="657.3" cy="578.8" r="1.75" fill="#D96CC6"/>
<circle cx="657.3" cy="581.0" r="1.75" fill="#7A8CC4"/>
<circle cx="657.3" cy="585.4" r="1.75" fill="#97E04C"/>
<rect x="664.7" y="570.5" width="8.8" height="8.3" fill="#C2E5EC" stroke="#63BBCD" stroke-width="0.9"/>
<circle cx="669.1" cy="572.2" r="1.75" fill="#7A8CC4"/>
<circle cx="669.1" cy="574.4" r="1.75" fill="#EE6F4C"/>
<circle cx="669.1" cy="577.7" r="1.75" fill="#D96CC6"/>
<circle cx="669.1" cy="580.4" r="1.75" fill="#97E04C"/>
<path d="M615.0 534.6V594.5H676.0" fill="none" stroke="#222" stroke-width="0.9"/>
<line x1="612.8" x2="615.0" y1="537.4" y2="537.4" stroke="#222" stroke-width="0.8"/>
<text x="610.4" y="540.6" font-size="9.2" text-anchor="end" fill="#2a2a2a" >0.30</text>
<line x1="612.8" x2="615.0" y1="548.4" y2="548.4" stroke="#222" stroke-width="0.8"/>
<text x="610.4" y="551.7" font-size="9.2" text-anchor="end" fill="#2a2a2a" >0.20</text>
<line x1="612.8" x2="615.0" y1="559.5" y2="559.5" stroke="#222" stroke-width="0.8"/>
<text x="610.4" y="562.8" font-size="9.2" text-anchor="end" fill="#2a2a2a" >0.10</text>
<line x1="612.8" x2="615.0" y1="570.5" y2="570.5" stroke="#222" stroke-width="0.8"/>
<text x="610.4" y="573.8" font-size="9.2" text-anchor="end" fill="#2a2a2a" >0.00</text>
<line x1="612.8" x2="615.0" y1="581.5" y2="581.5" stroke="#222" stroke-width="0.8"/>
<text x="610.4" y="584.8" font-size="9.2" text-anchor="end" fill="#2a2a2a" >-0.10</text>
<line x1="612.8" x2="615.0" y1="592.6" y2="592.6" stroke="#222" stroke-width="0.8"/>
<text x="610.4" y="595.9" font-size="9.2" text-anchor="end" fill="#2a2a2a" >-0.20</text>
<line x1="621.9" x2="621.9" y1="594.5" y2="596.9" stroke="#222" stroke-width="0.8"/>
<line x1="633.7" x2="633.7" y1="594.5" y2="596.9" stroke="#222" stroke-width="0.8"/>
<line x1="645.5" x2="645.5" y1="594.5" y2="596.9" stroke="#222" stroke-width="0.8"/>
<line x1="657.3" x2="657.3" y1="594.5" y2="596.9" stroke="#222" stroke-width="0.8"/>
<line x1="669.1" x2="669.1" y1="594.5" y2="596.9" stroke="#222" stroke-width="0.8"/>
<text transform="translate(16.6,872.9) rotate(-90)" font-size="8.8" text-anchor="middle" fill="#1a1a1a">Difference to experiment</text>
<text x="45.2" y="834.2" font-size="10.8" fill="#111">T<tspan font-size="7.5" dy="2.2">1</tspan><tspan dy="-2.2"> (s)</tspan></text>
<rect x="47.2" y="872.5" width="8.8" height="9.7" fill="#EF9198" stroke="#F5241E" stroke-width="0.9"/>
<circle cx="51.6" cy="860.9" r="1.75" fill="#97E04C"/>
<circle cx="51.6" cy="870.6" r="1.75" fill="#7A8CC4"/>
<circle cx="51.6" cy="875.3" r="1.75" fill="#D96CC6"/>
<circle cx="51.6" cy="878.5" r="1.75" fill="#68C498"/>
<circle cx="51.6" cy="876.7" r="1.75" fill="#EE6F4C"/>
<rect x="59.0" y="861.9" width="8.8" height="20.4" fill="#A8DCCB" stroke="#42A07B" stroke-width="0.9"/>
<circle cx="63.4" cy="854.5" r="1.75" fill="#97E04C"/>
<circle cx="63.4" cy="860.0" r="1.75" fill="#7A8CC4"/>
<circle cx="63.4" cy="862.8" r="1.75" fill="#D96CC6"/>
<circle cx="63.4" cy="865.6" r="1.75" fill="#EE6F4C"/>
<rect x="70.8" y="853.5" width="8.8" height="28.7" fill="#EED89B" stroke="#E2A22E" stroke-width="0.9"/>
<circle cx="75.2" cy="846.1" r="1.75" fill="#EE6F4C"/>
<circle cx="75.2" cy="848.9" r="1.75" fill="#97E04C"/>
<circle cx="75.2" cy="850.8" r="1.75" fill="#7A8CC4"/>
<circle cx="75.2" cy="874.8" r="1.75" fill="#68C498"/>
<rect x="82.6" y="869.7" width="8.8" height="12.5" fill="#F0C29C" stroke="#EC7627" stroke-width="0.9"/>
<circle cx="87.0" cy="864.6" r="1.75" fill="#97E04C"/>
<circle cx="87.0" cy="868.3" r="1.75" fill="#7A8CC4"/>
<circle cx="87.0" cy="870.2" r="1.75" fill="#68C498"/>
<circle cx="87.0" cy="882.7" r="1.75" fill="#EE6F4C"/>
<rect x="94.4" y="868.8" width="8.8" height="13.4" fill="#C2E5EC" stroke="#63BBCD" stroke-width="0.9"/>
<circle cx="98.8" cy="861.9" r="1.75" fill="#97E04C"/>
<circle cx="98.8" cy="863.7" r="1.75" fill="#7A8CC4"/>
<circle cx="98.8" cy="865.6" r="1.75" fill="#D96CC6"/>
<circle cx="98.8" cy="873.0" r="1.75" fill="#EE6F4C"/>
<circle cx="98.8" cy="881.3" r="1.75" fill="#68C498"/>
<path d="M44.7 842.9V902.8H105.7" fill="none" stroke="#222" stroke-width="0.9"/>
<line x1="42.5" x2="44.7" y1="845.2" y2="845.2" stroke="#222" stroke-width="0.8"/>
<text x="40.1" y="848.5" font-size="9.2" text-anchor="end" fill="#2a2a2a" >0.40</text>
<line x1="42.5" x2="44.7" y1="863.7" y2="863.7" stroke="#222" stroke-width="0.8"/>
<text x="40.1" y="867.0" font-size="9.2" text-anchor="end" fill="#2a2a2a" >0.20</text>
<line x1="42.5" x2="44.7" y1="882.2" y2="882.2" stroke="#222" stroke-width="0.8"/>
<text x="40.1" y="885.5" font-size="9.2" text-anchor="end" fill="#2a2a2a" >0.00</text>
<line x1="42.5" x2="44.7" y1="900.7" y2="900.7" stroke="#222" stroke-width="0.8"/>
<text x="40.1" y="904.0" font-size="9.2" text-anchor="end" fill="#2a2a2a" >-0.20</text>
<line x1="51.6" x2="51.6" y1="902.8" y2="905.2" stroke="#222" stroke-width="0.8"/>
<line x1="63.4" x2="63.4" y1="902.8" y2="905.2" stroke="#222" stroke-width="0.8"/>
<line x1="75.2" x2="75.2" y1="902.8" y2="905.2" stroke="#222" stroke-width="0.8"/>
<line x1="87.0" x2="87.0" y1="902.8" y2="905.2" stroke="#222" stroke-width="0.8"/>
<line x1="98.8" x2="98.8" y1="902.8" y2="905.2" stroke="#222" stroke-width="0.8"/>
<text transform="translate(121.8,872.9) rotate(-90)" font-size="8.8" text-anchor="middle" fill="#1a1a1a">Difference to experiment</text>
<text x="150.4" y="834.2" font-size="10.8" fill="#111">T<tspan font-size="7.5" dy="2.2">2</tspan><tspan dy="-2.2"> (s)</tspan></text>
<rect x="152.4" y="857.2" width="8.8" height="28.1" fill="#EF9198" stroke="#F5241E" stroke-width="0.9"/>
<circle cx="156.8" cy="881.4" r="1.75" fill="#68C498"/>
<circle cx="156.8" cy="884.3" r="1.75" fill="#D96CC6"/>
<circle cx="156.8" cy="886.2" r="1.75" fill="#EE6F4C"/>
<circle cx="156.8" cy="888.7" r="1.75" fill="#97E04C"/>
<rect x="164.2" y="857.2" width="8.8" height="32.9" fill="#A8DCCB" stroke="#42A07B" stroke-width="0.9"/>
<circle cx="168.6" cy="884.5" r="1.75" fill="#97E04C"/>
<circle cx="168.6" cy="886.2" r="1.75" fill="#7A8CC4"/>
<circle cx="168.6" cy="890.6" r="1.75" fill="#D96CC6"/>
<circle cx="168.6" cy="893.5" r="1.75" fill="#68C498"/>
<circle cx="168.6" cy="895.9" r="1.75" fill="#EE6F4C"/>
<rect x="176.0" y="857.2" width="8.8" height="32.7" fill="#EED89B" stroke="#E2A22E" stroke-width="0.9"/>
<circle cx="180.4" cy="884.5" r="1.75" fill="#68C498"/>
<circle cx="180.4" cy="888.2" r="1.75" fill="#7A8CC4"/>
<circle cx="180.4" cy="891.6" r="1.75" fill="#97E04C"/>
<circle cx="180.4" cy="894.2" r="1.75" fill="#EE6F4C"/>
<rect x="187.8" y="857.2" width="8.8" height="24.4" fill="#F0C29C" stroke="#EC7627" stroke-width="0.9"/>
<circle cx="192.2" cy="873.7" r="1.75" fill="#EE6F4C"/>
<circle cx="192.2" cy="881.4" r="1.75" fill="#97E04C"/>
<circle cx="192.2" cy="886.2" r="1.75" fill="#D96CC6"/>
<rect x="199.6" y="857.2" width="8.8" height="27.6" fill="#C2E5EC" stroke="#63BBCD" stroke-width="0.9"/>
<circle cx="204.0" cy="874.6" r="1.75" fill="#68C498"/>
<circle cx="204.0" cy="881.4" r="1.75" fill="#EE6F4C"/>
<circle cx="204.0" cy="888.2" r="1.75" fill="#D96CC6"/>
<circle cx="204.0" cy="889.9" r="1.75" fill="#97E04C"/>
<path d="M149.9 842.9V902.8H210.9" fill="none" stroke="#222" stroke-width="0.9"/>
<line x1="147.7" x2="149.9" y1="845.1" y2="845.1" stroke="#222" stroke-width="0.8"/>
<text x="145.3" y="848.4" font-size="9.2" text-anchor="end" fill="#2a2a2a" >0.05</text>
<line x1="147.7" x2="149.9" y1="857.2" y2="857.2" stroke="#222" stroke-width="0.8"/>
<text x="145.3" y="860.5" font-size="9.2" text-anchor="end" fill="#2a2a2a" >0.00</text>
<line x1="147.7" x2="149.9" y1="869.3" y2="869.3" stroke="#222" stroke-width="0.8"/>
<text x="145.3" y="872.6" font-size="9.2" text-anchor="end" fill="#2a2a2a" >-0.05</text>
<line x1="147.7" x2="149.9" y1="881.4" y2="881.4" stroke="#222" stroke-width="0.8"/>
<text x="145.3" y="884.7" font-size="9.2" text-anchor="end" fill="#2a2a2a" >-0.10</text>
<line x1="147.7" x2="149.9" y1="893.5" y2="893.5" stroke="#222" stroke-width="0.8"/>
<text x="145.3" y="896.8" font-size="9.2" text-anchor="end" fill="#2a2a2a" >-0.15</text>
<line x1="156.8" x2="156.8" y1="902.8" y2="905.2" stroke="#222" stroke-width="0.8"/>
<line x1="168.6" x2="168.6" y1="902.8" y2="905.2" stroke="#222" stroke-width="0.8"/>
<line x1="180.4" x2="180.4" y1="902.8" y2="905.2" stroke="#222" stroke-width="0.8"/>
<line x1="192.2" x2="192.2" y1="902.8" y2="905.2" stroke="#222" stroke-width="0.8"/>
<line x1="204.0" x2="204.0" y1="902.8" y2="905.2" stroke="#222" stroke-width="0.8"/>
<text transform="translate(227.1,872.9) rotate(-90)" font-size="8.8" text-anchor="middle" fill="#1a1a1a">Difference to experiment</text>
<text x="255.7" y="834.2" font-size="10.8" fill="#111">hetNOE</text>
<rect x="257.7" y="851.0" width="8.8" height="27.8" fill="#EF9198" stroke="#F5241E" stroke-width="0.9"/>
<circle cx="262.1" cy="845.6" r="1.75" fill="#EE6F4C"/>
<circle cx="262.1" cy="846.8" r="1.75" fill="#D96CC6"/>
<circle cx="262.1" cy="852.3" r="1.75" fill="#68C498"/>
<circle cx="262.1" cy="854.5" r="1.75" fill="#7A8CC4"/>
<circle cx="262.1" cy="856.7" r="1.75" fill="#97E04C"/>
<rect x="269.5" y="859.8" width="8.8" height="19.0" fill="#A8DCCB" stroke="#42A07B" stroke-width="0.9"/>
<circle cx="273.9" cy="855.6" r="1.75" fill="#EE6F4C"/>
<circle cx="273.9" cy="858.9" r="1.75" fill="#7A8CC4"/>
<circle cx="273.9" cy="860.6" r="1.75" fill="#97E04C"/>
<circle cx="273.9" cy="867.2" r="1.75" fill="#D96CC6"/>
<rect x="281.3" y="860.6" width="8.8" height="18.2" fill="#EED89B" stroke="#E2A22E" stroke-width="0.9"/>
<circle cx="285.7" cy="853.4" r="1.75" fill="#EE6F4C"/>
<circle cx="285.7" cy="860.0" r="1.75" fill="#97E04C"/>
<circle cx="285.7" cy="864.4" r="1.75" fill="#D96CC6"/>
<circle cx="285.7" cy="865.5" r="1.75" fill="#7A8CC4"/>
<rect x="293.1" y="861.7" width="8.8" height="17.1" fill="#F0C29C" stroke="#EC7627" stroke-width="0.9"/>
<circle cx="297.5" cy="852.3" r="1.75" fill="#68C498"/>
<circle cx="297.5" cy="860.6" r="1.75" fill="#7A8CC4"/>
<circle cx="297.5" cy="862.2" r="1.75" fill="#D96CC6"/>
<circle cx="297.5" cy="865.0" r="1.75" fill="#97E04C"/>
<circle cx="297.5" cy="867.8" r="1.75" fill="#EE6F4C"/>
<rect x="304.9" y="861.7" width="8.8" height="17.1" fill="#C2E5EC" stroke="#63BBCD" stroke-width="0.9"/>
<circle cx="309.3" cy="858.9" r="1.75" fill="#7A8CC4"/>
<circle cx="309.3" cy="862.2" r="1.75" fill="#97E04C"/>
<circle cx="309.3" cy="866.6" r="1.75" fill="#EE6F4C"/>
<path d="M255.2 842.9V902.8H316.2" fill="none" stroke="#222" stroke-width="0.9"/>
<line x1="253.0" x2="255.2" y1="845.6" y2="845.6" stroke="#222" stroke-width="0.8"/>
<text x="250.6" y="848.9" font-size="9.2" text-anchor="end" fill="#2a2a2a" >0.30</text>
<line x1="253.0" x2="255.2" y1="856.7" y2="856.7" stroke="#222" stroke-width="0.8"/>
<text x="250.6" y="860.0" font-size="9.2" text-anchor="end" fill="#2a2a2a" >0.20</text>
<line x1="253.0" x2="255.2" y1="867.8" y2="867.8" stroke="#222" stroke-width="0.8"/>
<text x="250.6" y="871.0" font-size="9.2" text-anchor="end" fill="#2a2a2a" >0.10</text>
<line x1="253.0" x2="255.2" y1="878.8" y2="878.8" stroke="#222" stroke-width="0.8"/>
<text x="250.6" y="882.1" font-size="9.2" text-anchor="end" fill="#2a2a2a" >0.00</text>
<line x1="253.0" x2="255.2" y1="889.8" y2="889.8" stroke="#222" stroke-width="0.8"/>
<text x="250.6" y="893.1" font-size="9.2" text-anchor="end" fill="#2a2a2a" >-0.10</text>
<line x1="253.0" x2="255.2" y1="900.9" y2="900.9" stroke="#222" stroke-width="0.8"/>
<text x="250.6" y="904.2" font-size="9.2" text-anchor="end" fill="#2a2a2a" >-0.20</text>
<line x1="262.1" x2="262.1" y1="902.8" y2="905.2" stroke="#222" stroke-width="0.8"/>
<line x1="273.9" x2="273.9" y1="902.8" y2="905.2" stroke="#222" stroke-width="0.8"/>
<line x1="285.7" x2="285.7" y1="902.8" y2="905.2" stroke="#222" stroke-width="0.8"/>
<line x1="297.5" x2="297.5" y1="902.8" y2="905.2" stroke="#222" stroke-width="0.8"/>
<line x1="309.3" x2="309.3" y1="902.8" y2="905.2" stroke="#222" stroke-width="0.8"/>
<line x1="382.2" x2="402.8" y1="692.4" y2="692.4" stroke="#F5241E" stroke-width="4.0"/>
<circle cx="392.5" cy="692.4" r="3.1" fill="#F5241E"/>
<rect x="382.9" y="701.1" width="19.2" height="18.8" fill="#EF9198" stroke="#F5241E" stroke-width="1.4"/>
<text x="410.9" y="715.0" font-size="12" text-anchor="start" fill="#111" >a99SB-ILDN</text>
<line x1="485.5" x2="506.0" y1="692.2" y2="692.2" stroke="#42A07B" stroke-width="4.0"/>
<circle cx="495.8" cy="692.2" r="3.1" fill="#42A07B"/>
<rect x="486.2" y="701.1" width="19.2" height="19.1" fill="#A8DCCB" stroke="#42A07B" stroke-width="1.4"/>
<text x="515.1" y="715.0" font-size="12" text-anchor="start" fill="#111" >DESamber</text>
<line x1="580.0" x2="600.7" y1="692.2" y2="692.2" stroke="#E2A22E" stroke-width="4.0"/>
<circle cx="590.4" cy="692.2" r="3.1" fill="#E2A22E"/>
<rect x="580.7" y="701.1" width="19.3" height="19.0" fill="#EED89B" stroke="#E2A22E" stroke-width="1.4"/>
<text x="608.6" y="715.2" font-size="12" text-anchor="start" fill="#111" >a99SB-disp</text>
<line x1="382.2" x2="405.7" y1="738.4" y2="738.4" stroke="#EC7627" stroke-width="4.0"/>
<circle cx="393.9" cy="738.4" r="3.1" fill="#EC7627"/>
<rect x="383.3" y="747.2" width="21.6" height="21.4" fill="#F0C29C" stroke="#EC7627" stroke-width="1.4"/>
<text x="414.4" y="763.2" font-size="13" text-anchor="start" fill="#111" >aff03ws</text>
<line x1="467.0" x2="492.0" y1="738.4" y2="738.4" stroke="#63BBCD" stroke-width="4.0"/>
<circle cx="479.5" cy="738.4" r="3.1" fill="#63BBCD"/>
<rect x="468.6" y="747.1" width="21.6" height="21.4" fill="#C2E5EC" stroke="#63BBCD" stroke-width="1.4"/>
<text x="499.7" y="763.2" font-size="13" text-anchor="start" fill="#111" >a99SBws</text>
<line x1="567.5" x2="587.3" y1="758.5" y2="758.5" stroke="#111" stroke-width="3.6"/>
<circle cx="577.4" cy="758.5" r="3.1" fill="#111"/>
<text x="600.2" y="763.6" font-size="13.9" text-anchor="start" fill="#111" >Experiment</text>
<circle cx="388.7" cy="806.0" r="3.7" fill="#68C498"/>
<text x="411.6" y="811.0" font-size="14.2" text-anchor="start" fill="#111" >replica 1</text>
<circle cx="489.2" cy="806.0" r="3.7" fill="#EE6F4C"/>
<text x="512.0" y="811.0" font-size="14.2" text-anchor="start" fill="#111" >replica 2</text>
<circle cx="589.7" cy="806.2" r="3.7" fill="#7A8CC4"/>
<text x="612.6" y="811.2" font-size="14.2" text-anchor="start" fill="#111" >replica 3</text>
<circle cx="443.6" cy="843.6" r="3.7" fill="#D96CC6"/>
<text x="467.0" y="848.6" font-size="14.2" text-anchor="start" fill="#111" >replica 4</text>
<circle cx="545.3" cy="843.6" r="3.7" fill="#97E04C"/>
<text x="567.8" y="848.6" font-size="14.2" text-anchor="start" fill="#111" >replica 5</text></svg></body></html>
